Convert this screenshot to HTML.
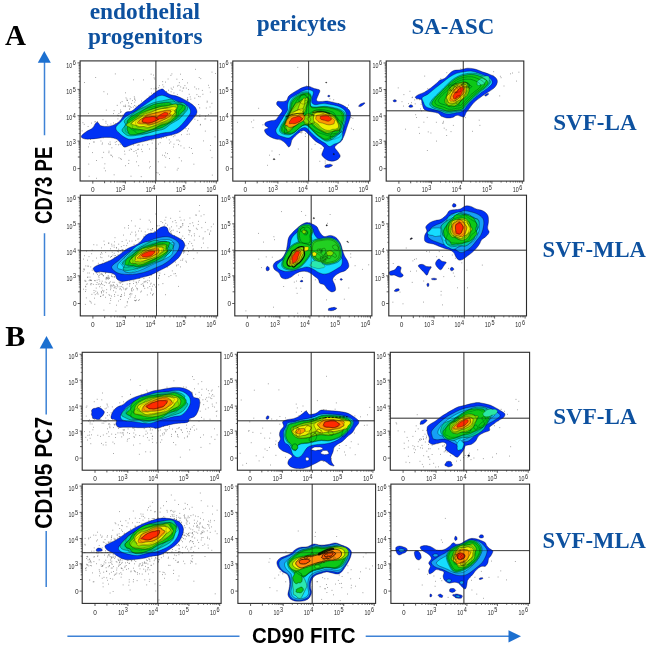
<!DOCTYPE html>
<html><head><meta charset="utf-8"><title>Flow cytometry figure</title>
<style>
html,body{margin:0;padding:0;background:#fff}
body{width:652px;height:645px;overflow:hidden;position:relative}
svg{position:absolute;left:0;top:0;display:block}
.hd{font-family:"Liberation Serif",serif;font-weight:bold;fill:#0d519f}
.ax{font-family:"Liberation Sans",sans-serif;font-weight:bold;fill:#000}
.pl{font-family:"Liberation Serif",serif;font-weight:bold;fill:#000}
.tk{font-family:"Liberation Sans",sans-serif;font-size:6.5px;fill:#2a2a2a}
</style></head><body>
<svg width="652" height="645" viewBox="0 0 652 645">
<defs><filter id="soft" x="-5%" y="-5%" width="110%" height="110%"><feGaussianBlur stdDeviation="0.45"/></filter><filter id="soft2"><feGaussianBlur stdDeviation="0.35"/></filter></defs>
<rect width="652" height="645" fill="#fff"/>
<g filter="url(#soft)">
<g><path d="M197.8 120.4h.01M150.0 106.3h.01M119.8 130.5h.01M114.1 110.6h.01M158.6 116.3h.01M163.4 98.6h.01M151.8 116.1h.01M110.1 142.0h.01M174.0 144.2h.01M157.3 112.7h.01M189.6 104.8h.01M177.1 101.4h.01M163.8 127.7h.01M173.3 110.3h.01M122.2 135.8h.01M158.1 125.4h.01M164.1 128.5h.01M151.5 120.2h.01M166.1 94.9h.01M137.5 115.3h.01M210.3 92.1h.01M174.6 117.2h.01M135.5 100.2h.01M178.5 100.1h.01M166.5 91.5h.01M145.6 138.6h.01M187.6 82.9h.01M112.2 132.4h.01M174.4 110.4h.01M155.8 100.5h.01M175.3 124.5h.01M131.6 103.6h.01M133.5 136.0h.01M100.1 136.6h.01M121.9 127.2h.01M144.8 120.1h.01M198.7 104.5h.01M190.8 99.2h.01M139.8 127.7h.01M150.3 99.0h.01M162.8 104.2h.01M120.2 122.0h.01M154.0 135.1h.01M154.9 115.4h.01M154.0 88.8h.01M183.1 88.2h.01M159.1 97.1h.01M120.9 123.6h.01M211.9 103.3h.01M132.6 120.6h.01M117.7 130.4h.01M138.8 133.2h.01M110.0 128.9h.01M123.2 117.8h.01M173.8 110.1h.01M175.6 125.4h.01M178.9 85.4h.01M158.7 87.7h.01M160.2 142.7h.01M144.3 114.5h.01M157.1 115.2h.01M148.8 106.9h.01M188.8 115.6h.01M147.4 123.6h.01M176.9 122.5h.01M167.3 121.3h.01M138.6 106.3h.01M142.6 136.2h.01M181.8 107.2h.01M136.8 127.8h.01M208.5 114.6h.01M131.5 124.6h.01M103.0 119.7h.01M157.7 115.1h.01M187.3 121.9h.01M183.7 124.1h.01M129.8 108.9h.01M180.9 145.8h.01M156.5 97.8h.01M166.7 132.6h.01M125.5 139.8h.01M140.5 140.8h.01M176.9 111.5h.01M209.2 87.7h.01M141.4 149.3h.01M137.5 156.0h.01M145.4 104.0h.01M152.6 118.7h.01M157.0 112.1h.01M171.9 73.9h.01M134.2 120.2h.01M195.5 69.3h.01M135.9 106.2h.01M135.6 133.3h.01M171.7 130.8h.01M135.6 127.7h.01M191.6 114.7h.01M147.9 135.7h.01M134.0 151.5h.01M156.0 113.7h.01M164.5 124.8h.01M202.9 94.3h.01M144.2 129.0h.01M117.2 105.4h.01M174.8 102.1h.01M180.0 90.2h.01M165.0 135.9h.01M169.2 114.7h.01M167.5 105.2h.01M147.2 98.5h.01M163.2 100.3h.01M142.4 131.4h.01M173.9 93.0h.01M208.4 85.3h.01M181.8 119.3h.01M159.6 116.5h.01M210.0 107.0h.01M155.6 88.0h.01M135.9 141.0h.01M152.7 102.3h.01M131.3 120.7h.01M174.4 113.8h.01M177.3 94.4h.01M178.6 98.7h.01M152.2 143.1h.01M153.5 114.3h.01M143.7 114.5h.01M205.5 116.2h.01M174.2 110.8h.01M182.5 103.5h.01M167.5 116.8h.01M163.3 137.3h.01M211.0 113.1h.01M104.9 163.8h.01M170.5 102.7h.01M157.2 132.1h.01M191.3 114.0h.01M156.4 115.8h.01M176.2 105.8h.01M122.1 119.7h.01M149.6 123.0h.01M212.0 72.1h.01M165.7 110.1h.01M168.0 131.0h.01M188.0 100.1h.01M128.3 106.0h.01M156.4 134.0h.01M147.8 129.3h.01M175.1 113.7h.01M183.6 102.5h.01M121.2 111.7h.01M177.6 101.2h.01M147.1 131.6h.01M137.9 149.4h.01M169.0 102.2h.01M138.9 138.6h.01M113.5 122.9h.01M153.2 119.6h.01M154.5 121.8h.01M140.6 119.8h.01M192.9 110.2h.01M147.7 144.6h.01M93.4 142.0h.01M176.9 121.6h.01M153.3 110.7h.01M168.4 107.5h.01M151.1 74.2h.01M159.2 102.2h.01M183.8 115.4h.01M171.5 103.0h.01M163.1 107.4h.01M157.7 112.7h.01M136.5 153.1h.01M162.7 81.6h.01M171.2 88.2h.01M142.1 112.2h.01M137.4 126.5h.01M134.7 102.1h.01M153.7 121.8h.01M202.3 90.4h.01M114.7 126.3h.01M166.7 97.7h.01M133.5 132.8h.01M152.8 120.0h.01M129.0 113.8h.01M141.6 118.9h.01M144.3 126.6h.01M171.1 117.6h.01M161.6 99.8h.01M123.0 140.8h.01M153.0 118.4h.01M116.5 128.2h.01M128.5 113.4h.01M125.5 105.2h.01M160.6 131.1h.01M131.5 126.7h.01M123.1 138.8h.01M200.8 78.6h.01M152.7 138.2h.01M163.5 114.1h.01M90.6 139.5h.01M186.8 124.6h.01M168.0 101.8h.01M122.1 101.6h.01M126.0 144.5h.01M141.6 101.0h.01M182.4 79.5h.01M187.7 97.7h.01M165.6 121.8h.01M166.5 130.4h.01M150.8 112.6h.01M124.8 106.2h.01M136.5 138.1h.01M183.8 125.2h.01M160.0 93.9h.01M156.3 148.4h.01M167.0 108.9h.01M151.2 88.7h.01M120.4 110.0h.01M92.6 152.6h.01M179.7 103.1h.01M157.0 99.8h.01M169.4 121.5h.01M205.7 118.9h.01M165.8 109.5h.01M124.3 119.0h.01M173.3 116.9h.01M161.3 138.4h.01M171.3 109.4h.01M146.7 120.3h.01M118.7 115.7h.01M159.2 105.2h.01M150.4 136.1h.01M153.2 136.4h.01M159.7 136.8h.01M156.6 88.6h.01M187.7 99.5h.01M94.3 142.0h.01M149.8 98.4h.01M136.9 131.4h.01M199.9 114.9h.01M194.2 116.9h.01M143.5 79.9h.01M179.5 119.3h.01M127.0 121.4h.01M124.0 128.0h.01M150.8 117.4h.01M123.7 134.3h.01M146.9 133.4h.01M153.5 94.0h.01M109.6 135.2h.01M140.1 128.9h.01M176.0 107.6h.01M95.7 121.7h.01M163.5 96.5h.01M184.4 102.5h.01M162.8 99.3h.01M133.5 79.8h.01M148.8 127.0h.01M121.0 116.8h.01M150.8 118.5h.01M131.6 135.5h.01M109.0 151.2h.01M106.0 123.1h.01M186.3 88.1h.01M103.3 137.8h.01M118.9 113.5h.01M127.3 115.8h.01M117.7 115.3h.01M196.3 88.9h.01M173.5 87.1h.01M161.6 94.2h.01M141.7 130.8h.01M126.0 97.9h.01M134.8 121.6h.01M163.8 97.2h.01M143.5 121.4h.01M102.5 135.4h.01M129.7 132.6h.01M147.9 116.2h.01M136.1 109.2h.01M130.2 106.7h.01M160.6 123.5h.01M167.0 103.1h.01M206.3 108.0h.01M123.1 126.6h.01M103.0 135.0h.01M179.8 124.9h.01M130.2 98.8h.01M154.1 136.7h.01M163.0 131.8h.01M184.7 127.3h.01M166.3 101.2h.01M178.5 144.6h.01M126.9 99.1h.01M130.2 116.6h.01M110.0 144.6h.01M152.9 107.1h.01M137.2 116.5h.01M182.7 101.8h.01M188.5 89.6h.01M131.3 118.1h.01M135.5 122.3h.01M188.8 120.4h.01M126.9 146.4h.01M163.2 136.5h.01M142.6 108.1h.01M178.7 115.6h.01M138.5 122.8h.01M157.5 119.5h.01M94.8 121.9h.01M155.0 119.7h.01M127.2 100.4h.01M190.2 96.9h.01M129.3 150.2h.01M191.0 116.9h.01M179.8 114.4h.01M123.3 129.1h.01M165.9 121.0h.01M160.8 98.2h.01M132.3 119.9h.01M141.6 108.0h.01M91.5 123.1h.01M161.1 113.2h.01M159.3 85.6h.01M144.3 133.5h.01M88.1 126.5h.01M108.9 152.7h.01M149.9 109.2h.01M156.0 114.0h.01M185.0 121.3h.01M180.9 110.5h.01M178.9 118.4h.01M176.9 79.2h.01M162.7 113.9h.01M155.4 111.9h.01M152.4 124.3h.01M158.6 116.3h.01M113.6 113.6h.01M120.5 102.8h.01M132.2 112.2h.01M88.5 113.4h.01M135.0 115.1h.01M126.2 119.9h.01M117.9 118.9h.01M141.3 120.6h.01M137.8 135.1h.01M181.4 134.7h.01M116.7 141.5h.01M132.5 100.6h.01M134.4 99.3h.01M165.5 152.9h.01M200.3 125.0h.01M179.3 82.6h.01M165.0 113.9h.01M159.4 98.3h.01M104.2 168.1h.01M189.0 106.7h.01M138.4 125.3h.01M120.2 144.3h.01M156.1 113.1h.01M138.9 121.3h.01M153.8 110.2h.01M181.6 108.2h.01M144.7 106.9h.01M194.9 119.2h.01M162.8 84.8h.01M146.9 134.1h.01M159.8 133.1h.01M143.2 132.6h.01M154.7 79.0h.01M138.7 118.8h.01M128.7 112.9h.01M198.5 96.4h.01M168.4 90.2h.01M87.9 135.8h.01M160.3 102.7h.01M171.9 121.1h.01M138.4 121.6h.01M135.8 139.9h.01M207.1 102.2h.01M133.3 113.9h.01M148.4 131.9h.01M137.3 145.3h.01M115.7 131.5h.01M200.4 124.4h.01M144.1 132.2h.01M88.5 146.9h.01M168.1 79.0h.01M194.7 87.0h.01M180.7 119.1h.01M153.8 93.3h.01M146.4 104.9h.01M189.2 94.3h.01M128.2 136.3h.01M187.5 100.3h.01M162.9 120.0h.01M131.1 107.5h.01M165.9 106.0h.01M115.9 144.5h.01M165.6 113.6h.01M128.5 123.1h.01M172.6 116.0h.01M122.8 115.2h.01M163.1 115.3h.01M171.1 91.8h.01M188.6 128.8h.01M180.8 107.3h.01M172.1 89.4h.01M149.6 149.0h.01M97.4 121.6h.01M173.0 98.6h.01M129.4 109.2h.01M198.7 88.9h.01M134.3 96.8h.01M174.8 107.7h.01M175.1 131.5h.01M150.3 99.7h.01M122.4 130.2h.01M184.9 85.6h.01M143.9 118.1h.01M166.8 97.5h.01M165.4 123.4h.01M150.4 116.2h.01M173.4 117.1h.01M183.7 87.9h.01M187.3 99.3h.01M115.3 123.5h.01M114.3 129.2h.01M170.9 75.4h.01M120.9 141.1h.01M147.2 130.9h.01M112.3 132.2h.01M180.3 123.9h.01M200.1 96.7h.01M123.9 122.5h.01M102.2 157.6h.01M182.2 91.1h.01M199.2 77.5h.01M164.4 99.8h.01M102.5 143.0h.01M123.9 146.4h.01M125.9 129.2h.01M138.5 124.5h.01M137.5 135.2h.01M170.5 110.6h.01M158.6 144.1h.01M129.1 119.6h.01M174.9 107.6h.01M102.8 134.7h.01M135.4 108.7h.01M151.8 99.9h.01M138.6 105.3h.01M196.9 94.6h.01M166.6 115.4h.01M172.1 106.6h.01M175.0 109.6h.01M118.6 144.8h.01M156.5 109.5h.01M115.1 126.2h.01M121.5 159.3h.01M165.1 110.4h.01M121.0 124.4h.01M142.6 114.1h.01M153.9 128.4h.01M100.9 141.0h.01M177.5 86.0h.01M144.4 114.3h.01M123.0 143.0h.01M148.3 135.8h.01M162.7 108.4h.01M158.6 108.7h.01M110.8 155.1h.01M168.9 127.6h.01M103.7 152.3h.01M176.2 106.6h.01M89.6 143.7h.01M131.2 122.5h.01M148.9 104.6h.01M148.2 118.7h.01M194.8 98.2h.01M215.6 73.5h.01M154.4 134.7h.01M108.6 143.9h.01M160.6 104.4h.01M153.0 140.0h.01M140.1 126.0h.01M171.2 127.5h.01M82.9 122.7h.01M110.7 129.4h.01M174.6 120.4h.01M151.4 140.1h.01M153.4 126.9h.01M133.8 136.9h.01M136.7 140.7h.01M187.4 130.9h.01M133.3 107.0h.01M178.3 111.2h.01M129.3 106.0h.01M165.5 82.1h.01M143.8 136.5h.01M146.9 126.0h.01M169.7 118.8h.01M186.8 112.8h.01M134.4 105.5h.01M140.1 111.9h.01" stroke="#4a4a4a" stroke-opacity="0.60" stroke-width="1" stroke-linecap="round" fill="none"/>
<path d="M169.5 158.5h.01M174.8 110.7h.01M157.2 130.9h.01M138.7 165.7h.01M173.3 136.7h.01M95.7 77.5h.01M128.7 163.5h.01M142.3 132.8h.01M142.7 145.0h.01M156.8 172.6h.01M144.6 126.5h.01M203.5 140.9h.01M176.9 140.1h.01M149.9 139.7h.01M169.5 131.2h.01M89.1 176.3h.01M130.6 121.6h.01M134.9 117.1h.01M118.5 135.5h.01M180.1 119.5h.01M161.1 97.1h.01M172.0 100.4h.01M171.7 110.1h.01M123.5 106.1h.01M104.1 134.7h.01M114.5 132.8h.01M186.8 104.9h.01M138.3 131.6h.01M127.9 135.1h.01M162.6 155.2h.01M123.3 131.4h.01M149.4 161.8h.01M115.2 142.3h.01M179.7 141.1h.01M120.6 112.0h.01M82.1 130.9h.01M134.7 98.2h.01M180.6 130.6h.01M139.3 121.0h.01M165.6 122.3h.01M165.9 117.5h.01M180.7 86.9h.01M193.9 164.2h.01M124.9 154.2h.01M189.3 147.4h.01M149.6 167.9h.01M159.3 98.8h.01M191.6 107.7h.01M120.6 158.7h.01M176.0 109.3h.01M153.2 99.1h.01M112.5 156.7h.01M189.3 134.1h.01M205.3 131.1h.01M160.4 130.2h.01M166.4 137.7h.01M116.6 136.7h.01M190.2 105.7h.01M163.8 86.9h.01M159.5 174.6h.01M158.3 161.8h.01M138.9 145.1h.01M154.1 77.8h.01M125.5 165.7h.01M210.8 120.2h.01M187.1 134.4h.01M131.4 149.5h.01M161.3 106.0h.01M128.6 102.9h.01M137.9 133.2h.01M107.5 94.0h.01M179.2 157.7h.01M118.0 139.4h.01M115.3 73.9h.01M105.4 170.8h.01M181.5 160.9h.01M178.2 140.0h.01M199.8 116.5h.01M154.0 104.8h.01M110.3 144.1h.01M151.6 93.1h.01M167.4 153.6h.01M104.0 131.8h.01M207.2 101.2h.01M173.5 147.0h.01M156.9 134.3h.01M171.3 135.2h.01M149.2 96.2h.01M155.4 111.8h.01M212.3 175.1h.01M180.5 74.2h.01M185.9 128.6h.01M106.3 110.1h.01M184.9 110.1h.01M147.4 134.0h.01M190.2 105.1h.01M138.2 149.1h.01M153.4 75.1h.01M170.7 124.6h.01M110.9 124.0h.01M96.6 160.5h.01M199.7 107.9h.01M127.2 100.5h.01M120.7 112.3h.01M158.1 173.0h.01M191.4 148.5h.01M119.0 157.8h.01M120.8 115.6h.01M175.5 125.0h.01M142.2 151.6h.01M111.7 155.3h.01M204.8 119.0h.01M136.4 161.8h.01M111.9 147.8h.01M132.6 142.4h.01M124.6 151.2h.01M177.2 170.0h.01M138.9 144.7h.01M84.2 124.4h.01M153.7 98.0h.01M142.4 111.4h.01M169.5 143.2h.01M136.0 150.5h.01M130.7 138.2h.01M170.8 141.9h.01M178.1 168.4h.01M126.4 132.4h.01M88.8 164.1h.01M107.7 124.9h.01M133.6 145.0h.01M138.8 127.1h.01M151.4 123.6h.01M145.1 108.9h.01M125.4 106.6h.01M184.1 148.0h.01M174.9 135.7h.01M130.9 148.9h.01M84.6 82.5h.01M114.1 174.8h.01M165.2 167.2h.01M128.9 160.4h.01M210.5 145.5h.01M164.6 155.7h.01M141.2 176.6h.01M105.9 121.3h.01M147.6 113.7h.01M215.0 136.9h.01M131.0 176.2h.01M196.5 114.6h.01M210.3 150.3h.01M129.9 121.9h.01M165.8 157.2h.01M212.0 157.7h.01M125.4 92.8h.01M96.4 178.3h.01M192.4 153.4h.01M150.3 134.0h.01M169.2 139.9h.01M148.8 108.5h.01M102.1 144.2h.01M150.3 166.5h.01M103.9 91.7h.01" stroke="#4a4a4a" stroke-opacity="0.60" stroke-width="1" stroke-linecap="round" fill="none"/>
<path d="M155.9 60.9V181.0M80.1 115.9H217.7" stroke="#222" stroke-width="1" fill="none" stroke-opacity="0.7"/>
<path d="M81.7 135.4C82.5 134.4 84.7 132.8 86.4 131.5C88.2 130.3 91.0 129.5 92.5 128.1C94.0 126.7 94.5 124.3 95.5 123.4C96.4 122.4 97.1 122.1 98.0 122.5C98.9 122.9 99.2 125.1 100.8 125.7C102.5 126.4 105.5 126.6 107.9 126.4C110.3 126.1 113.3 125.3 115.4 124.2C117.6 123.1 119.1 121.7 120.8 119.7C122.5 117.8 123.7 114.1 125.5 112.6C127.3 111.2 129.6 112.1 131.5 111.1C133.4 110.2 135.1 108.3 136.9 106.8C138.7 105.4 140.5 104.0 142.3 102.5C144.1 101.1 145.9 99.7 147.6 98.3C149.4 96.8 151.2 95.3 153.0 94.0C154.8 92.6 156.8 91.1 158.4 90.3C160.0 89.5 161.4 88.8 162.7 89.0C163.9 89.3 164.6 90.9 165.9 91.8C167.1 92.7 168.4 93.9 170.2 94.6C172.0 95.3 174.5 95.4 176.6 96.1C178.8 96.8 180.9 97.8 183.1 98.9C185.2 100.0 187.5 101.2 189.5 102.5C191.5 103.9 193.6 105.2 194.9 106.8C196.1 108.5 197.2 110.4 197.0 112.2C196.8 114.0 195.1 115.8 193.8 117.6C192.6 119.4 190.9 121.3 189.5 122.9C188.1 124.6 187.0 126.1 185.2 127.7C183.4 129.3 180.9 131.4 178.8 132.6C176.6 133.8 174.5 134.1 172.3 134.8C170.2 135.4 168.0 135.7 165.9 136.3C163.7 136.8 161.6 137.5 159.5 138.0C157.3 138.4 155.2 138.6 153.0 139.1C150.9 139.5 148.7 140.2 146.6 140.8C144.4 141.3 142.3 141.7 140.1 142.3C138.0 142.8 135.7 143.3 133.7 144.0C131.7 144.6 129.9 145.6 128.3 146.1C126.7 146.6 125.3 147.5 124.0 147.0C122.8 146.5 122.1 144.7 120.8 143.3C119.5 142.0 118.3 140.0 116.5 139.1C114.7 138.1 112.2 137.8 110.1 137.5C107.9 137.3 105.8 137.4 103.6 137.5C101.5 137.7 99.3 138.2 97.2 138.4C95.0 138.7 92.7 138.9 90.7 139.1C88.8 139.2 86.9 139.3 85.4 139.1C83.9 138.8 82.3 138.2 81.7 137.5C81.1 136.9 80.9 136.4 81.7 135.4Z" fill="#0430f5" stroke="#000" stroke-opacity="0.75" stroke-width="0.45"/>
<path d="M116.5 126.2C117.3 124.9 119.2 123.5 120.8 121.9C122.4 120.3 124.0 118.1 126.2 116.5C128.3 114.9 131.4 113.6 133.7 112.2C136.0 110.8 138.0 109.3 140.1 107.9C142.3 106.5 144.4 105.1 146.6 103.6C148.7 102.2 151.0 100.6 153.0 99.3C155.0 98.1 156.7 96.7 158.4 96.1C160.1 95.5 161.3 95.1 163.3 95.5C165.3 95.8 168.0 97.3 170.2 98.3C172.4 99.2 174.5 100.1 176.6 101.0C178.8 101.9 181.1 102.7 183.1 103.6C185.0 104.6 187.2 105.4 188.4 106.8C189.7 108.3 190.8 110.4 190.6 112.2C190.4 114.0 188.6 115.8 187.4 117.6C186.1 119.4 184.7 121.2 183.1 122.9C181.5 124.7 179.5 126.9 177.7 128.3C175.9 129.7 174.3 130.8 172.3 131.5C170.4 132.3 168.0 132.3 165.9 132.6C163.7 133.0 161.6 133.2 159.5 133.7C157.3 134.1 155.2 135.0 153.0 135.4C150.9 135.8 148.7 135.8 146.6 136.3C144.4 136.7 142.3 137.5 140.1 138.0C138.0 138.4 135.7 138.9 133.7 139.1C131.7 139.2 130.1 139.5 128.3 139.1C126.5 138.6 124.6 137.3 122.9 136.3C121.3 135.2 119.8 133.8 118.7 132.6C117.5 131.5 116.4 130.5 116.1 129.4C115.7 128.3 115.7 127.4 116.5 126.2Z" fill="#12dcff" stroke="#000" stroke-opacity="0.75" stroke-width="0.45"/>
<path d="M186.3 105.2C187.1 106.3 188.0 107.6 187.6 109.1C187.2 110.6 185.2 112.5 183.8 114.2C182.3 115.9 180.9 117.7 178.8 119.3C176.6 120.9 173.4 122.3 170.9 123.9C168.4 125.5 166.6 127.8 163.9 129.0C161.1 130.3 157.5 130.4 154.4 131.2C151.4 132.0 148.5 133.2 145.6 133.9C142.7 134.6 139.8 135.0 137.0 135.3C134.1 135.7 130.7 136.2 128.6 135.8C126.5 135.5 125.4 134.3 124.3 133.3C123.2 132.3 121.8 131.3 122.0 129.9C122.2 128.5 125.1 126.3 125.5 124.8C125.8 123.3 123.5 122.4 124.3 120.9C125.0 119.4 127.7 117.5 129.7 115.9C131.7 114.2 133.8 112.4 136.3 110.9C138.7 109.3 141.8 108.0 144.7 106.6C147.6 105.2 150.7 103.6 153.7 102.6C156.7 101.6 159.8 101.3 162.8 100.7C165.8 100.2 169.6 99.0 171.7 99.3C173.9 99.5 173.8 101.6 175.6 102.2C177.4 102.7 180.7 102.1 182.5 102.6C184.3 103.1 185.4 104.1 186.3 105.2Z" fill="#00c8a0" stroke="#000" stroke-opacity="0.75" stroke-width="0.45"/>
<path d="M183.3 106.4C184.2 107.3 185.4 108.2 185.3 109.5C185.2 110.8 184.3 112.6 182.8 114.1C181.3 115.7 178.4 117.4 176.2 118.9C174.0 120.4 172.0 121.8 169.6 123.1C167.3 124.4 164.6 125.3 162.0 126.7C159.5 128.0 157.0 130.0 154.3 131.1C151.5 132.2 148.3 132.9 145.6 133.4C142.9 133.8 140.4 133.8 138.1 133.8C135.7 133.8 133.5 133.8 131.5 133.5C129.5 133.2 127.4 132.9 126.3 132.1C125.2 131.3 125.4 129.9 125.2 128.7C125.0 127.5 124.5 126.4 125.2 125.0C125.8 123.7 128.1 122.0 129.1 120.6C130.1 119.1 129.8 117.8 131.1 116.2C132.3 114.7 134.2 112.8 136.6 111.3C138.9 109.8 142.3 108.5 145.2 107.4C148.1 106.3 151.1 105.6 153.9 104.8C156.7 104.1 159.5 103.2 162.1 102.7C164.7 102.3 166.9 102.3 169.4 102.1C171.9 101.9 175.2 101.2 177.0 101.5C178.8 101.8 179.2 103.1 180.2 103.9C181.3 104.7 182.5 105.4 183.3 106.4Z" fill="none" stroke="#000" stroke-opacity="0.60" stroke-width="0.35"/>
<path d="M185.0 105.9C185.8 106.8 185.3 108.5 184.4 109.9C183.5 111.4 181.3 113.1 179.8 114.6C178.4 116.1 177.5 117.5 175.8 119.0C174.0 120.4 171.6 121.7 169.4 123.1C167.2 124.5 165.0 126.3 162.5 127.4C160.0 128.4 156.9 128.7 154.2 129.4C151.5 130.1 149.3 130.8 146.5 131.6C143.7 132.4 140.4 133.7 137.7 134.2C135.0 134.7 131.7 135.0 130.1 134.6C128.5 134.1 128.4 132.5 127.9 131.4C127.3 130.4 126.9 129.3 127.0 128.2C127.1 127.0 128.3 125.6 128.3 124.5C128.4 123.3 126.6 122.4 127.2 121.1C127.7 119.8 129.6 118.0 131.5 116.6C133.5 115.1 136.3 113.7 138.6 112.4C141.0 111.0 143.3 109.7 145.8 108.4C148.4 107.1 151.2 105.4 153.9 104.4C156.7 103.5 159.7 103.3 162.2 103.0C164.7 102.7 167.4 102.4 169.2 102.7C171.0 102.9 171.3 104.2 173.0 104.5C174.8 104.8 177.7 104.2 179.7 104.5C181.7 104.7 184.2 105.0 185.0 105.9Z" fill="#08c818" stroke="#000" stroke-opacity="0.75" stroke-width="0.45"/>
<path d="M182.4 106.9C181.9 108.2 179.5 110.0 178.8 111.3C178.1 112.6 179.0 113.4 178.2 114.6C177.4 115.9 175.3 117.3 173.7 118.6C172.2 120.0 170.9 121.5 168.8 122.7C166.7 123.9 163.8 124.9 161.3 125.8C158.9 126.8 156.6 127.4 154.1 128.5C151.5 129.5 148.7 131.2 146.0 132.0C143.3 132.9 139.7 133.8 137.8 133.7C136.0 133.5 135.8 131.8 134.8 131.1C133.7 130.4 132.2 130.2 131.4 129.5C130.5 128.8 130.7 127.8 129.9 127.1C129.1 126.3 127.0 126.0 126.7 125.0C126.4 124.0 126.8 122.5 128.1 121.2C129.3 119.9 132.3 118.3 134.3 117.0C136.2 115.6 137.9 114.5 139.9 113.1C141.8 111.7 143.5 109.8 145.9 108.7C148.3 107.6 151.5 107.2 154.1 106.6C156.6 106.0 159.2 105.3 161.3 105.1C163.5 104.8 164.9 105.3 167.0 105.1C169.1 105.0 171.6 104.3 174.0 104.0C176.4 103.8 180.0 103.2 181.4 103.7C182.8 104.2 182.8 105.7 182.4 106.9Z" fill="none" stroke="#000" stroke-opacity="0.60" stroke-width="0.35"/>
<path d="M176.0 110.0C175.8 111.0 176.2 111.6 176.2 112.5C176.2 113.4 176.6 114.3 176.0 115.4C175.4 116.5 174.0 117.7 172.7 119.0C171.4 120.2 170.1 121.7 168.0 122.7C166.0 123.8 162.7 124.2 160.4 125.1C158.0 126.1 156.1 127.6 153.8 128.5C151.5 129.4 148.5 130.4 146.4 130.6C144.4 130.8 142.9 130.1 141.4 129.8C139.9 129.6 138.9 129.2 137.4 128.9C135.9 128.7 133.9 128.9 132.5 128.6C131.2 128.3 130.4 127.6 129.3 127.0C128.3 126.4 125.7 125.9 126.2 124.9C126.7 123.8 130.5 121.9 132.2 120.6C134.0 119.3 135.4 118.3 136.9 117.1C138.4 116.0 139.3 114.7 141.0 113.6C142.8 112.5 145.3 111.4 147.5 110.5C149.7 109.7 152.0 109.1 154.3 108.5C156.6 107.8 159.0 106.8 161.1 106.4C163.3 106.0 164.8 106.3 167.1 105.9C169.5 105.5 173.7 103.9 175.4 104.0C177.2 104.1 177.6 105.4 177.7 106.4C177.8 107.4 176.3 109.0 176.0 110.0Z" fill="#7ee000" stroke="#000" stroke-opacity="0.75" stroke-width="0.45"/>
<path d="M176.4 109.9C176.8 110.6 177.0 111.4 176.7 112.3C176.5 113.3 175.8 114.3 174.9 115.4C174.1 116.4 172.8 117.6 171.5 118.7C170.2 119.8 169.1 121.3 167.1 122.2C165.2 123.1 161.9 123.6 159.7 124.3C157.5 125.0 155.8 125.7 153.8 126.4C151.8 127.1 149.6 127.8 147.5 128.4C145.4 129.0 143.2 129.5 141.2 129.7C139.2 130.0 137.1 130.1 135.6 129.9C134.2 129.7 133.1 129.1 132.6 128.5C132.1 127.8 132.9 126.6 132.6 125.8C132.3 125.1 130.3 124.8 130.6 123.9C130.9 123.0 133.0 121.6 134.3 120.5C135.5 119.4 136.8 118.4 138.2 117.4C139.5 116.3 140.8 115.3 142.4 114.2C144.0 113.2 145.8 112.1 147.8 111.1C149.8 110.1 152.2 109.0 154.4 108.2C156.7 107.5 159.4 106.7 161.3 106.6C163.1 106.5 163.9 107.5 165.5 107.6C167.1 107.7 169.5 107.0 171.0 107.1C172.5 107.2 173.6 107.6 174.5 108.1C175.4 108.5 176.0 109.2 176.4 109.9Z" fill="none" stroke="#000" stroke-opacity="0.60" stroke-width="0.35"/>
<path d="M174.6 110.9C174.4 111.7 175.4 112.0 175.1 112.7C174.8 113.5 173.4 114.4 172.7 115.3C172.0 116.1 171.9 117.0 170.9 117.9C169.9 118.8 168.4 120.0 166.7 120.8C164.9 121.7 162.5 122.4 160.4 123.2C158.4 123.9 156.5 124.8 154.4 125.5C152.3 126.2 149.7 127.2 147.9 127.4C146.2 127.6 145.3 126.8 143.9 126.7C142.5 126.6 140.7 126.9 139.6 126.7C138.5 126.6 138.1 126.0 137.1 125.7C136.1 125.4 134.7 125.3 133.8 124.9C132.9 124.5 131.4 124.1 131.6 123.3C131.9 122.5 133.9 121.2 135.3 120.2C136.7 119.2 138.8 118.2 140.3 117.3C141.8 116.3 142.4 115.3 144.1 114.4C145.7 113.6 148.3 113.1 150.2 112.3C152.2 111.6 154.0 110.7 155.9 110.1C157.8 109.5 159.8 109.1 161.6 108.7C163.5 108.4 165.1 108.2 167.1 107.9C169.1 107.5 172.0 106.7 173.5 106.7C175.1 106.7 176.4 107.2 176.5 107.9C176.7 108.6 174.8 110.1 174.6 110.9Z" fill="#f0f000" stroke="#000" stroke-opacity="0.75" stroke-width="0.45"/>
<path d="M174.9 110.8C175.4 111.2 175.6 111.9 175.1 112.7C174.7 113.4 173.0 114.4 172.1 115.2C171.2 116.1 170.8 116.8 169.8 117.7C168.8 118.6 167.7 119.6 166.0 120.5C164.4 121.3 162.0 122.1 160.1 122.7C158.2 123.3 156.2 123.8 154.4 124.2C152.7 124.6 151.2 124.7 149.5 125.1C147.8 125.4 146.0 125.9 144.2 126.3C142.3 126.7 139.7 127.4 138.4 127.3C137.1 127.3 136.6 126.6 136.2 126.1C135.8 125.5 136.0 124.8 135.9 124.2C135.8 123.6 135.3 123.1 135.5 122.4C135.8 121.7 136.6 120.8 137.5 120.0C138.4 119.2 139.5 118.3 140.8 117.4C142.2 116.6 144.1 115.8 145.7 115.1C147.3 114.3 148.9 113.7 150.6 112.9C152.3 112.1 154.0 110.9 156.0 110.1C157.9 109.4 160.3 108.7 162.0 108.5C163.8 108.2 165.1 108.5 166.4 108.6C167.7 108.7 168.8 108.9 169.8 109.1C170.8 109.3 171.5 109.6 172.4 109.9C173.2 110.1 174.4 110.3 174.9 110.8Z" fill="none" stroke="#000" stroke-opacity="0.60" stroke-width="0.35"/>
<path d="M169.5 113.4C169.4 113.9 171.1 113.9 171.2 114.4C171.3 114.9 170.7 115.6 170.0 116.2C169.4 116.8 168.3 117.6 167.2 118.2C166.0 118.9 164.5 119.5 163.2 120.1C161.8 120.8 160.5 121.4 159.0 122.0C157.5 122.5 155.9 123.1 154.3 123.6C152.6 124.1 150.4 125.0 149.1 125.1C147.8 125.1 147.5 124.2 146.5 124.1C145.5 123.9 144.3 124.1 143.2 124.1C142.1 124.1 140.9 124.1 139.9 123.9C139.0 123.8 137.9 123.6 137.6 123.2C137.3 122.7 137.7 122.0 138.2 121.4C138.7 120.8 139.7 120.0 140.6 119.3C141.6 118.7 143.1 118.1 144.0 117.4C144.9 116.7 145.0 115.8 146.3 115.2C147.5 114.6 149.8 114.2 151.4 113.7C153.0 113.3 154.5 113.0 155.9 112.6C157.4 112.2 158.8 111.9 160.4 111.5C161.9 111.2 163.8 110.6 165.3 110.4C166.8 110.2 168.3 110.1 169.3 110.3C170.3 110.4 171.2 110.8 171.3 111.3C171.3 111.8 169.5 112.9 169.5 113.4Z" fill="#ff9a00" stroke="#000" stroke-opacity="0.75" stroke-width="0.45"/>
<path d="M169.3 113.5C169.0 114.0 169.3 114.3 169.2 114.8C169.0 115.3 168.9 115.7 168.4 116.3C167.9 116.8 167.2 117.5 166.2 118.1C165.2 118.7 163.8 119.3 162.6 119.8C161.3 120.4 160.1 121.1 158.7 121.6C157.4 122.1 155.8 122.6 154.3 123.0C152.7 123.5 150.7 124.3 149.4 124.5C148.1 124.6 147.4 124.1 146.5 123.9C145.7 123.8 145.3 123.5 144.5 123.4C143.7 123.2 142.8 123.2 141.9 123.1C141.0 123.0 139.7 123.0 139.2 122.7C138.8 122.4 138.9 121.8 139.1 121.2C139.4 120.7 139.9 120.0 140.8 119.4C141.7 118.8 143.5 118.1 144.6 117.5C145.7 116.9 146.1 116.2 147.3 115.6C148.5 115.0 150.2 114.5 151.7 114.1C153.1 113.7 154.6 113.4 155.9 113.1C157.3 112.8 158.4 112.6 159.9 112.3C161.3 112.0 163.0 111.4 164.4 111.2C165.9 110.9 167.3 110.8 168.4 110.9C169.5 110.9 170.9 111.0 171.0 111.4C171.2 111.9 169.6 112.9 169.3 113.5Z" fill="none" stroke="#000" stroke-opacity="0.60" stroke-width="0.35"/>
<path d="M158.1 118.6C158.3 118.8 158.7 119.2 158.5 119.5C158.2 119.8 157.2 120.2 156.6 120.5C156.0 120.8 155.4 121.0 154.9 121.2C154.3 121.5 153.8 121.7 153.2 121.9C152.7 122.2 152.2 122.6 151.4 122.8C150.7 123.1 149.8 123.3 149.0 123.4C148.2 123.5 147.4 123.4 146.7 123.2C146.1 123.1 145.7 122.8 145.1 122.7C144.5 122.6 143.6 122.6 143.1 122.5C142.6 122.3 142.4 122.0 142.3 121.7C142.1 121.4 142.0 121.1 142.0 120.8C142.1 120.5 142.4 120.2 142.5 119.9C142.6 119.6 142.5 119.3 142.7 119.0C142.9 118.6 143.0 118.2 143.5 117.9C144.0 117.6 144.8 117.2 145.6 117.0C146.4 116.9 147.5 117.0 148.3 117.0C149.1 116.9 149.7 116.7 150.4 116.7C151.2 116.6 151.9 116.5 152.6 116.5C153.4 116.5 154.3 116.4 154.9 116.5C155.5 116.6 156.0 116.8 156.4 117.0C156.9 117.2 157.1 117.5 157.4 117.7C157.6 118.0 157.9 118.3 158.1 118.6Z" fill="#ff2a00" stroke="#000" stroke-opacity="0.75" stroke-width="0.45"/>
<path d="M156.9 118.7C157.1 119.0 157.7 119.2 157.7 119.5C157.7 119.8 157.4 120.2 157.0 120.5C156.5 120.7 155.5 120.9 154.8 121.2C154.2 121.4 153.8 121.7 153.2 121.8C152.6 122.0 151.8 122.1 151.2 122.3C150.5 122.4 149.8 122.5 149.1 122.6C148.4 122.8 147.6 122.9 146.9 122.9C146.3 122.9 145.9 122.6 145.3 122.5C144.7 122.4 144.1 122.4 143.5 122.2C143.0 122.1 142.2 122.0 142.0 121.7C141.8 121.5 142.3 121.1 142.4 120.8C142.6 120.5 142.6 120.2 142.8 119.9C143.0 119.6 143.4 119.4 143.7 119.1C144.1 118.8 144.4 118.6 144.8 118.3C145.1 118.0 145.4 117.6 146.0 117.4C146.6 117.1 147.5 117.0 148.3 116.9C149.0 116.8 149.7 116.9 150.4 116.8C151.2 116.7 152.0 116.5 152.6 116.6C153.3 116.6 153.7 116.8 154.3 117.0C154.8 117.1 155.3 117.2 155.7 117.4C156.1 117.5 156.4 117.7 156.6 118.0C156.8 118.2 156.7 118.5 156.9 118.7Z" fill="none" stroke="#000" stroke-opacity="0.60" stroke-width="0.35"/>
<path d="M167.8 113.5C167.9 113.7 168.2 113.8 168.2 114.0C168.2 114.3 167.9 114.6 167.7 114.9C167.5 115.2 167.1 115.5 166.9 115.8C166.6 116.1 166.4 116.5 166.0 116.8C165.7 117.1 165.2 117.6 164.7 117.8C164.1 118.1 163.4 118.1 162.9 118.3C162.3 118.4 161.8 118.6 161.4 118.7C160.9 118.8 160.6 118.7 160.2 118.8C159.7 118.9 159.1 119.1 158.6 119.1C158.2 119.2 157.6 119.2 157.4 119.1C157.1 119.0 157.1 118.7 157.1 118.5C157.1 118.2 157.2 117.9 157.2 117.7C157.2 117.4 157.0 117.2 157.2 116.9C157.4 116.6 158.1 116.2 158.5 115.9C158.9 115.6 159.2 115.3 159.6 115.0C160.0 114.7 160.6 114.5 161.1 114.3C161.6 114.0 162.0 113.7 162.5 113.5C163.0 113.2 163.6 112.7 164.2 112.5C164.7 112.3 165.4 112.2 165.8 112.3C166.2 112.3 166.3 112.6 166.6 112.7C166.9 112.8 167.4 112.7 167.6 112.8C167.8 113.0 167.7 113.3 167.8 113.5Z" fill="#ff2a00" stroke="#000" stroke-opacity="0.75" stroke-width="0.45"/>
<rect x="80.1" y="60.9" width="137.6" height="120.1" fill="none" stroke="#2a2a2a" stroke-width="1.1"/>
<path d="M155.9 60.9V181.0M80.1 115.9H217.7" stroke="#111" stroke-width="1" fill="none" stroke-opacity="0.38"/>
<text transform="translate(92.8,192.1) scale(1.00,1)" class="tk" text-anchor="middle">0</text>
<text transform="translate(121.6,192.2) scale(0.82,1)" class="tk" text-anchor="end">10</text>
<text transform="translate(122.2,189.9) scale(0.85,1)" class="tk" text-anchor="start">3</text>
<text transform="translate(151.7,192.2) scale(0.82,1)" class="tk" text-anchor="end">10</text>
<text transform="translate(152.3,189.9) scale(0.85,1)" class="tk" text-anchor="start">4</text>
<text transform="translate(182.0,192.2) scale(0.82,1)" class="tk" text-anchor="end">10</text>
<text transform="translate(182.6,189.9) scale(0.85,1)" class="tk" text-anchor="start">5</text>
<text transform="translate(212.5,192.2) scale(0.82,1)" class="tk" text-anchor="end">10</text>
<text transform="translate(213.1,189.9) scale(0.85,1)" class="tk" text-anchor="start">6</text>
<text transform="translate(72.3,67.6) scale(0.82,1)" class="tk" text-anchor="end">10</text>
<text transform="translate(72.8,65.3) scale(0.85,1)" class="tk" text-anchor="start">6</text>
<text transform="translate(72.3,94.1) scale(0.82,1)" class="tk" text-anchor="end">10</text>
<text transform="translate(72.8,91.8) scale(0.85,1)" class="tk" text-anchor="start">5</text>
<text transform="translate(72.3,120.4) scale(0.82,1)" class="tk" text-anchor="end">10</text>
<text transform="translate(72.8,118.1) scale(0.85,1)" class="tk" text-anchor="start">4</text>
<text transform="translate(72.3,145.8) scale(0.82,1)" class="tk" text-anchor="end">10</text>
<text transform="translate(72.8,143.5) scale(0.85,1)" class="tk" text-anchor="start">3</text>
<text transform="translate(76.4,171.1) scale(1.00,1)" class="tk" text-anchor="end">0</text>
<path d="M92.8 181.0v2.6M125.4 181.0v2.6M104.6 181.0v2.2M155.5 181.0v2.6M185.8 181.0v2.6M216.3 181.0v2.6M80.1 62.9h-2.6M80.1 89.4h-2.6M80.1 115.7h-2.6M80.1 141.1h-2.6M80.1 157.0h-2.2M80.1 168.6h-2.6" stroke="#333" stroke-width="0.8" fill="none"/>
<path d="M110.8 181.0v1.5M114.5 181.0v1.5M117.1 181.0v1.5M119.1 181.0v1.5M120.8 181.0v1.5M122.2 181.0v1.5M123.4 181.0v1.5M124.4 181.0v1.5M134.4 181.0v1.5M139.7 181.0v1.5M143.5 181.0v1.5M146.4 181.0v1.5M148.8 181.0v1.5M150.8 181.0v1.5M152.6 181.0v1.5M154.1 181.0v1.5M164.6 181.0v1.5M169.9 181.0v1.5M173.7 181.0v1.5M176.7 181.0v1.5M179.1 181.0v1.5M181.1 181.0v1.5M182.8 181.0v1.5M184.4 181.0v1.5M195.0 181.0v1.5M200.4 181.0v1.5M204.2 181.0v1.5M207.1 181.0v1.5M209.5 181.0v1.5M211.6 181.0v1.5M213.4 181.0v1.5M214.9 181.0v1.5M80.1 81.4h-1.5M80.1 76.8h-1.5M80.1 73.5h-1.5M80.1 70.9h-1.5M80.1 68.8h-1.5M80.1 67.0h-1.5M80.1 65.5h-1.5M80.1 64.2h-1.5M80.1 107.7h-1.5M80.1 103.1h-1.5M80.1 99.8h-1.5M80.1 97.3h-1.5M80.1 95.2h-1.5M80.1 93.4h-1.5M80.1 91.9h-1.5M80.1 90.6h-1.5M80.1 133.5h-1.5M80.1 129.0h-1.5M80.1 125.8h-1.5M80.1 123.3h-1.5M80.1 121.3h-1.5M80.1 119.6h-1.5M80.1 118.1h-1.5M80.1 116.8h-1.5M80.1 152.2h-1.5M80.1 149.4h-1.5M80.1 147.4h-1.5M80.1 145.9h-1.5M80.1 144.6h-1.5M80.1 143.6h-1.5M80.1 142.7h-1.5M80.1 141.9h-1.5" stroke="#333" stroke-width="0.7" fill="none"/></g>
<g><path d="M322.3 127.6h.01M333.7 99.8h.01M301.2 111.5h.01M284.1 109.8h.01M298.7 119.8h.01M288.4 132.6h.01M297.8 67.4h.01M343.0 117.9h.01M292.7 129.8h.01M318.0 126.0h.01M289.8 128.4h.01M272.0 151.0h.01M279.1 121.3h.01M312.5 128.9h.01M305.6 133.7h.01M304.5 114.9h.01M348.4 105.1h.01M306.5 86.0h.01M315.7 93.3h.01M267.6 165.3h.01M327.0 122.5h.01M313.0 96.5h.01M281.0 130.3h.01M253.0 127.6h.01M262.9 124.8h.01M279.3 154.6h.01M335.4 113.2h.01M258.7 108.3h.01M307.1 104.5h.01M316.1 140.7h.01M307.1 114.7h.01M329.2 117.2h.01M331.0 116.8h.01M351.2 117.5h.01M280.6 124.4h.01M291.9 105.5h.01M305.3 136.4h.01M251.5 121.9h.01M304.6 120.0h.01M329.9 98.8h.01M326.2 118.6h.01M311.7 118.7h.01M300.1 113.2h.01M319.8 161.3h.01M336.8 138.5h.01M323.8 114.3h.01M325.2 161.0h.01M275.4 138.3h.01M336.2 128.4h.01M330.3 148.7h.01M353.5 129.6h.01M331.8 126.8h.01M317.9 115.3h.01M328.1 150.2h.01M306.2 128.5h.01M326.9 124.4h.01M335.3 128.7h.01M279.9 105.4h.01M329.9 135.7h.01M339.8 128.8h.01M316.3 95.6h.01M347.6 107.5h.01M338.4 103.6h.01M293.7 127.2h.01M300.0 111.7h.01M334.7 136.7h.01M321.6 118.3h.01M289.6 115.8h.01M297.6 124.1h.01M331.5 121.5h.01M290.7 113.4h.01M345.0 127.6h.01M317.6 129.8h.01M327.1 127.2h.01M342.4 139.5h.01M237.6 122.3h.01M315.1 144.4h.01M311.8 149.1h.01M278.8 102.3h.01M307.0 111.6h.01M283.9 135.2h.01M319.0 125.1h.01M301.4 129.7h.01M308.8 111.8h.01M325.3 131.7h.01M314.1 137.5h.01M283.2 122.4h.01M298.3 149.0h.01M325.2 163.1h.01M352.9 118.3h.01M283.5 133.7h.01M304.6 122.2h.01M284.4 135.8h.01M316.8 132.3h.01M320.1 108.7h.01M253.8 120.1h.01M295.5 115.5h.01M337.0 123.2h.01M351.3 128.3h.01M329.9 134.1h.01M332.9 102.3h.01M340.4 126.9h.01M286.6 136.1h.01M321.0 148.2h.01M331.0 131.6h.01M269.6 155.2h.01" stroke="#4a4a4a" stroke-opacity="0.60" stroke-width="1" stroke-linecap="round" fill="none"/>
<path d="M308.6 61.0V181.1M232.8 115.7H369.9" stroke="#222" stroke-width="1" fill="none" stroke-opacity="0.7"/>
<path d="M309.1 86.4C310.8 86.7 312.6 87.9 314.4 88.6C316.2 89.2 319.1 89.2 319.8 90.3C320.4 91.4 318.8 93.3 318.3 95.0C317.7 96.7 316.1 99.3 316.6 100.4C317.0 101.5 319.1 101.4 320.9 101.5C322.7 101.6 325.2 100.9 327.3 101.0C329.5 101.2 331.6 102.0 333.7 102.5C335.9 103.0 338.2 103.3 340.2 104.0C342.2 104.8 343.9 105.7 345.6 106.8C347.2 108.0 349.0 109.5 349.8 111.1C350.7 112.7 350.7 114.7 350.5 116.5C350.3 118.3 349.4 119.9 348.8 121.9C348.1 123.8 347.3 126.2 346.6 128.3C345.9 130.5 345.4 132.6 344.5 134.8C343.6 136.9 342.5 139.6 341.3 141.2C340.0 142.8 338.0 143.3 337.0 144.4C335.9 145.5 334.6 146.4 334.8 147.6C335.0 148.9 337.1 150.5 338.0 151.9C338.9 153.4 340.4 154.9 340.2 156.2C340.0 157.6 338.4 159.1 337.0 159.9C335.5 160.7 333.4 161.2 331.6 161.2C329.8 161.1 327.8 160.5 326.2 159.5C324.6 158.4 322.5 156.6 321.9 155.2C321.4 153.7 322.7 152.1 323.0 150.9C323.4 149.6 324.4 148.7 324.1 147.6C323.7 146.6 322.3 145.5 320.9 144.4C319.4 143.3 317.1 142.5 315.5 141.2C313.9 139.9 312.5 138.2 311.2 136.9C309.9 135.7 309.2 134.8 308.0 133.7C306.7 132.6 305.1 130.6 303.7 130.5C302.3 130.3 300.8 131.6 299.4 132.6C298.0 133.6 296.3 135.0 295.1 136.3C293.8 137.5 292.6 138.8 291.9 140.1C291.2 141.5 291.3 143.3 290.8 144.4C290.3 145.6 289.5 147.2 288.7 147.0C287.8 146.8 286.7 144.5 285.4 143.3C284.2 142.2 282.7 140.8 281.1 140.1C279.5 139.4 277.6 139.6 275.8 139.1C274.0 138.5 272.0 137.8 270.4 136.9C268.8 136.0 267.1 134.9 266.1 133.7C265.1 132.5 264.2 130.8 264.6 129.8C265.0 128.8 268.2 128.4 268.3 127.7C268.3 127.0 265.5 126.4 265.0 125.5C264.6 124.7 264.6 123.3 265.5 122.5C266.4 121.7 268.7 121.3 270.4 120.8C272.1 120.3 274.3 120.6 275.8 119.7C277.2 118.8 277.9 116.9 279.0 115.4C280.1 114.0 282.0 112.4 282.2 111.1C282.4 109.9 281.0 109.0 280.1 107.9C279.2 106.8 277.3 105.8 276.8 104.7C276.4 103.6 276.6 102.0 277.5 101.5C278.4 100.9 280.7 101.7 282.2 101.5C283.7 101.3 285.4 101.3 286.5 100.4C287.6 99.5 287.6 97.4 288.7 96.1C289.7 94.9 291.3 94.0 292.9 92.9C294.6 91.8 296.5 90.6 298.3 89.7C300.1 88.7 301.9 87.6 303.7 87.1C305.5 86.5 307.3 86.2 309.1 86.4Z" fill="#0430f5" stroke="#000" stroke-opacity="0.75" stroke-width="0.45"/>
<path d="M309.1 89.7C310.5 89.9 312.8 90.6 313.3 91.8C313.9 93.1 312.5 95.4 312.3 97.2C312.0 99.0 311.3 101.3 311.8 102.5C312.4 103.8 313.6 104.5 315.5 104.7C317.4 104.9 320.3 103.6 323.0 103.6C325.7 103.6 329.1 104.3 331.6 104.7C334.1 105.1 336.1 105.5 338.0 106.2C340.0 106.9 342.0 107.8 343.4 109.0C344.8 110.2 345.7 111.7 346.2 113.3C346.7 114.9 346.5 116.7 346.2 118.7C345.9 120.6 345.1 122.9 344.5 125.1C343.9 127.2 343.1 129.4 342.8 131.5C342.4 133.7 342.9 136.2 342.3 138.0C341.7 139.8 340.5 141.2 339.1 142.3C337.7 143.3 335.4 143.7 333.7 144.4C332.1 145.1 330.9 146.7 329.5 146.6C328.0 146.4 326.8 144.4 325.2 143.3C323.5 142.3 321.6 141.4 319.8 140.1C318.0 138.9 316.0 137.3 314.4 135.8C312.8 134.4 311.6 132.9 310.1 131.5C308.7 130.2 307.3 128.2 305.8 127.7C304.4 127.1 303.0 127.7 301.5 128.3C300.1 129.0 298.7 130.4 297.2 131.5C295.8 132.7 294.4 134.3 292.9 135.4C291.5 136.5 290.3 137.7 288.7 138.0C287.0 138.2 285.1 137.4 283.3 136.9C281.5 136.4 279.2 135.8 277.9 134.8C276.7 133.7 275.8 131.9 275.8 130.5C275.8 129.0 277.0 127.8 277.9 126.2C278.8 124.6 280.1 122.6 281.1 120.8C282.2 119.0 283.3 117.2 284.4 115.4C285.4 113.6 287.0 111.9 287.6 110.1C288.1 108.3 287.2 106.5 287.6 104.7C287.9 102.9 288.7 100.8 289.7 99.3C290.8 97.9 292.4 97.2 294.0 96.1C295.6 95.0 297.6 93.9 299.4 92.9C301.2 91.9 303.1 90.8 304.8 90.3C306.4 89.8 307.6 89.4 309.1 89.7Z" fill="#12dcff" stroke="#000" stroke-opacity="0.75" stroke-width="0.45"/>
<path d="M364.8 102.9C364.8 103.0 364.8 103.2 364.7 103.4C364.6 103.6 364.4 103.8 364.3 104.0C364.1 104.2 363.8 104.4 363.5 104.6C363.3 104.9 363.0 105.1 362.7 105.3C362.4 105.5 362.0 105.7 361.7 105.9C361.3 106.1 360.8 106.4 360.5 106.6C360.2 106.7 359.9 106.7 359.7 106.6C359.5 106.6 359.4 106.5 359.2 106.5C359.1 106.4 358.8 106.5 358.7 106.4C358.7 106.3 358.8 106.1 358.8 105.9C358.9 105.8 358.8 105.6 358.9 105.4C359.0 105.3 359.4 105.0 359.7 104.7C360.0 104.5 360.2 104.2 360.5 104.0C360.9 103.8 361.3 103.6 361.6 103.5C362.0 103.3 362.2 103.3 362.6 103.2C362.9 103.1 363.3 102.9 363.6 102.8C363.9 102.7 364.2 102.6 364.4 102.7C364.6 102.7 364.7 102.8 364.8 102.9Z" fill="#0430f5" stroke="#000" stroke-opacity="0.75" stroke-width="0.45"/>
<path d="M332.6 165.1C332.7 165.3 332.2 165.6 332.0 165.8C331.8 166.0 331.8 166.2 331.5 166.3C331.2 166.5 330.6 166.6 330.3 166.7C329.9 166.9 329.7 167.2 329.3 167.3C329.0 167.4 328.4 167.5 328.0 167.5C327.5 167.5 327.1 167.5 326.7 167.5C326.3 167.5 325.8 167.5 325.5 167.4C325.2 167.4 324.9 167.2 324.8 167.1C324.7 166.9 324.8 166.7 324.8 166.5C324.8 166.3 324.9 166.2 325.0 166.0C325.0 165.8 324.8 165.6 325.0 165.4C325.2 165.2 325.8 165.1 326.2 164.9C326.6 164.8 327.0 164.6 327.4 164.5C327.9 164.4 328.3 164.5 328.8 164.4C329.2 164.4 329.8 164.2 330.2 164.2C330.5 164.2 330.7 164.4 331.0 164.5C331.2 164.6 331.4 164.7 331.7 164.8C332.0 164.9 332.6 165.0 332.6 165.1Z" fill="#0430f5" stroke="#000" stroke-opacity="0.75" stroke-width="0.45"/>
<path d="M329.7 96.1C329.7 96.3 329.8 96.5 329.7 96.6C329.6 96.8 329.4 96.9 329.1 96.9C328.9 97.0 328.6 97.1 328.4 97.0C328.3 96.9 328.2 96.7 328.0 96.5C327.9 96.4 327.6 96.3 327.6 96.1C327.6 96.0 327.8 95.8 328.0 95.6C328.1 95.5 328.3 95.3 328.5 95.3C328.7 95.2 328.9 95.3 329.1 95.3C329.3 95.4 329.7 95.4 329.8 95.5C329.9 95.7 329.7 95.9 329.7 96.1Z" fill="#0430f5" stroke="#000" stroke-opacity="0.75" stroke-width="0.45"/>
<path d="M302.1 132.0C302.1 132.1 302.2 132.4 302.1 132.5C302.0 132.7 301.7 132.7 301.4 132.8C301.2 132.8 301.0 132.8 300.8 132.8C300.6 132.7 300.5 132.5 300.3 132.4C300.2 132.3 300.0 132.1 300.0 132.0C300.0 131.8 300.2 131.6 300.3 131.5C300.4 131.3 300.6 131.2 300.8 131.1C300.9 131.1 301.2 131.1 301.4 131.2C301.6 131.2 301.9 131.3 302.0 131.4C302.1 131.6 302.1 131.8 302.1 132.0Z" fill="#fff" stroke="#000" stroke-opacity="0.75" stroke-width="0.45"/>
<path d="M326.8 82.6C326.8 82.7 326.9 82.8 326.8 82.9C326.8 82.9 326.6 83.0 326.4 83.0C326.3 83.0 326.2 83.0 326.0 83.0C325.9 82.9 325.8 82.9 325.7 82.8C325.7 82.7 325.5 82.7 325.5 82.6C325.5 82.5 325.7 82.4 325.7 82.3C325.8 82.3 325.9 82.2 326.0 82.2C326.1 82.1 326.3 82.2 326.4 82.2C326.5 82.2 326.7 82.3 326.8 82.3C326.8 82.4 326.8 82.5 326.8 82.6Z" fill="#222" stroke="#000" stroke-opacity="0.75" stroke-width="0.45"/>
<path d="M334.4 154.1C334.4 154.2 334.4 154.4 334.3 154.5C334.3 154.6 334.1 154.7 333.9 154.7C333.8 154.7 333.7 154.7 333.6 154.7C333.4 154.6 333.4 154.5 333.3 154.4C333.2 154.3 333.0 154.2 333.0 154.1C333.0 154.0 333.2 153.8 333.3 153.7C333.3 153.6 333.4 153.5 333.5 153.4C333.7 153.4 333.8 153.4 333.9 153.5C334.1 153.5 334.2 153.6 334.3 153.7C334.3 153.8 334.3 153.9 334.4 154.1Z" fill="#223" stroke="#000" stroke-opacity="0.75" stroke-width="0.45"/>
<path d="M275.1 159.2C275.1 159.3 275.2 159.5 275.0 159.5C274.9 159.6 274.6 159.6 274.4 159.6C274.2 159.7 273.9 159.7 273.7 159.6C273.5 159.6 273.4 159.5 273.3 159.5C273.1 159.4 272.9 159.3 272.9 159.2C272.9 159.2 273.1 159.1 273.2 159.0C273.4 158.9 273.5 158.8 273.7 158.8C273.9 158.8 274.2 158.8 274.4 158.8C274.6 158.9 274.8 158.9 274.9 159.0C275.1 159.0 275.0 159.1 275.1 159.2Z" fill="#222" stroke="#000" stroke-opacity="0.75" stroke-width="0.45"/>
<path d="M308.3 92.1C309.6 92.7 310.9 94.5 311.2 96.1C311.5 97.7 310.1 100.1 310.1 101.8C310.1 103.5 310.1 105.4 311.2 106.3C312.4 107.1 314.6 107.0 316.9 107.0C319.1 107.0 322.1 106.2 324.8 106.3C327.4 106.4 330.2 106.9 332.6 107.4C335.1 107.9 337.5 108.4 339.4 109.2C341.4 110.0 343.3 111.0 344.4 112.4C345.4 113.8 345.8 115.6 345.7 117.5C345.6 119.5 344.6 122.1 343.9 124.3C343.2 126.6 342.8 129.2 341.7 131.1C340.5 133.0 338.7 134.3 337.2 135.6C335.6 136.9 334.3 138.0 332.6 139.0C331.0 139.9 328.9 141.3 327.0 141.2C325.1 141.1 323.2 139.7 321.4 138.5C319.5 137.3 317.4 135.5 315.7 134.0C314.0 132.5 312.7 130.9 311.2 129.5C309.7 128.1 308.2 126.0 306.7 125.4C305.2 124.8 303.7 125.2 302.2 125.9C300.7 126.6 299.2 128.3 297.7 129.5C296.2 130.7 294.7 132.4 293.2 133.3C291.7 134.2 290.4 134.8 288.7 134.9C287.0 135.0 284.5 134.6 283.0 134.0C281.5 133.4 280.0 132.4 279.7 131.1C279.3 129.7 280.0 127.7 280.8 125.9C281.5 124.1 283.1 122.4 284.2 120.5C285.2 118.5 286.2 116.2 287.1 114.2C288.0 112.2 288.8 110.5 289.4 108.5C289.9 106.6 289.6 104.2 290.3 102.4C290.9 100.7 291.8 99.3 293.2 97.9C294.5 96.6 296.7 95.3 298.4 94.3C300.1 93.3 301.7 92.4 303.3 92.1C305.0 91.7 307.0 91.4 308.3 92.1Z" fill="#00c8a0" stroke="#000" stroke-opacity="0.75" stroke-width="0.45"/>
<path d="M308.4 93.3C309.7 94.0 310.9 95.6 311.2 97.2C311.5 98.7 310.1 100.9 310.1 102.5C310.1 104.2 310.1 106.0 311.2 106.8C312.3 107.7 314.4 107.5 316.6 107.5C318.7 107.5 321.6 106.8 324.1 106.8C326.6 106.9 329.3 107.4 331.6 107.9C333.9 108.4 336.2 108.8 338.0 109.6C339.9 110.4 341.8 111.3 342.8 112.6C343.8 114.0 344.1 115.7 344.1 117.6C344.0 119.5 343.0 121.9 342.3 124.0C341.7 126.2 341.3 128.7 340.2 130.5C339.1 132.3 337.3 133.5 335.9 134.8C334.5 136.0 333.2 137.1 331.6 138.0C330.0 138.9 328.0 140.2 326.2 140.1C324.4 140.1 322.7 138.7 320.9 137.5C319.1 136.4 317.1 134.7 315.5 133.3C313.9 131.8 312.6 130.3 311.2 129.0C309.8 127.6 308.3 125.7 306.9 125.1C305.5 124.5 304.0 124.9 302.6 125.5C301.2 126.2 299.7 127.8 298.3 129.0C296.9 130.1 295.5 131.8 294.0 132.6C292.6 133.5 291.3 134.0 289.7 134.1C288.1 134.2 285.8 133.9 284.4 133.3C282.9 132.6 281.5 131.8 281.1 130.5C280.8 129.2 281.5 127.2 282.2 125.5C282.9 123.8 284.4 122.2 285.4 120.4C286.4 118.5 287.4 116.3 288.2 114.4C289.0 112.5 289.9 110.8 290.4 109.0C290.9 107.1 290.6 104.9 291.2 103.2C291.8 101.5 292.7 100.2 294.0 98.9C295.3 97.6 297.3 96.4 299.0 95.5C300.6 94.5 302.1 93.7 303.7 93.3C305.3 93.0 307.2 92.7 308.4 93.3Z" fill="#08c818" stroke="#000" stroke-opacity="0.75" stroke-width="0.45"/>
<path d="M308.5 94.6C309.7 95.2 310.9 96.8 311.2 98.2C311.4 99.7 310.2 101.8 310.2 103.3C310.2 104.9 310.2 106.6 311.2 107.4C312.2 108.2 314.2 108.0 316.3 108.0C318.3 108.0 321.0 107.3 323.4 107.4C325.8 107.5 328.3 108.0 330.6 108.4C332.8 108.9 334.9 109.3 336.7 110.1C338.4 110.8 340.2 111.7 341.2 112.9C342.1 114.2 342.5 115.8 342.4 117.6C342.3 119.4 341.4 121.7 340.8 123.7C340.1 125.8 339.7 128.1 338.7 129.8C337.7 131.5 336.0 132.7 334.6 133.9C333.3 135.1 332.1 136.1 330.6 137.0C329.0 137.8 327.2 139.1 325.5 139.0C323.8 139.0 322.1 137.7 320.4 136.6C318.7 135.5 316.8 133.9 315.3 132.5C313.7 131.1 312.5 129.7 311.2 128.4C309.8 127.1 308.5 125.3 307.1 124.7C305.7 124.2 304.4 124.5 303.0 125.2C301.7 125.8 300.3 127.3 298.9 128.4C297.6 129.5 296.2 131.1 294.9 131.9C293.5 132.7 292.3 133.2 290.8 133.3C289.2 133.4 287.0 133.1 285.7 132.5C284.3 131.9 283.0 131.1 282.6 129.8C282.3 128.6 283.0 126.8 283.6 125.2C284.3 123.6 285.7 122.0 286.7 120.3C287.6 118.5 288.6 116.3 289.3 114.5C290.1 112.7 290.9 111.2 291.4 109.4C291.9 107.7 291.6 105.5 292.2 103.9C292.8 102.3 293.6 101.1 294.9 99.9C296.1 98.6 298.0 97.5 299.5 96.6C301.1 95.7 302.5 94.9 304.0 94.6C305.5 94.2 307.3 93.9 308.5 94.6Z" fill="none" stroke="#000" stroke-opacity="0.60" stroke-width="0.35"/>
<path d="M306.7 97.5C307.4 97.4 307.8 98.2 307.9 99.0C308.0 99.9 307.5 101.4 307.3 102.7C307.0 103.9 306.6 105.2 306.4 106.4C306.1 107.7 306.2 108.9 305.6 110.3C305.0 111.8 303.5 113.7 302.6 115.2C301.6 116.8 300.7 118.4 299.7 119.7C298.7 120.9 297.6 121.5 296.6 122.8C295.5 124.0 294.6 125.9 293.5 127.3C292.3 128.7 290.9 130.5 289.9 131.2C288.9 132.0 287.9 132.1 287.4 131.8C286.9 131.5 287.1 129.9 286.8 129.4C286.4 128.9 285.5 129.2 285.3 128.6C285.1 128.0 285.4 126.6 285.5 125.6C285.5 124.6 284.9 124.1 285.3 122.8C285.7 121.5 287.0 119.5 287.8 117.9C288.6 116.4 289.2 115.1 289.9 113.5C290.7 112.0 291.4 110.2 292.3 108.6C293.3 106.9 294.6 104.8 295.6 103.7C296.7 102.6 297.8 102.6 298.8 102.0C299.7 101.3 300.7 100.4 301.5 100.0C302.3 99.7 302.6 100.2 303.5 99.8C304.4 99.3 306.0 97.6 306.7 97.5Z" fill="#7ee000" stroke="#000" stroke-opacity="0.75" stroke-width="0.45"/>
<path d="M304.8 100.5C305.3 100.8 306.1 100.4 306.6 100.6C307.1 100.9 307.9 101.0 307.9 101.9C307.8 102.8 307.0 104.8 306.3 106.3C305.6 107.8 304.4 109.6 303.7 111.0C302.9 112.5 302.4 113.7 301.6 115.0C300.9 116.3 300.0 117.4 299.1 118.9C298.2 120.3 297.4 122.4 296.5 123.7C295.6 125.0 294.4 125.9 293.5 126.7C292.5 127.4 291.8 127.7 290.9 128.3C290.0 128.9 288.8 130.0 288.1 130.3C287.3 130.6 286.6 130.6 286.3 130.1C286.1 129.5 286.5 128.0 286.5 127.1C286.6 126.1 286.3 125.6 286.5 124.7C286.7 123.7 287.5 122.2 287.7 121.1C287.9 120.0 287.3 119.4 287.6 118.2C287.9 116.9 288.7 115.0 289.6 113.5C290.4 112.1 291.8 110.6 292.9 109.3C293.9 108.0 294.9 107.0 295.9 105.8C296.9 104.7 297.9 103.3 298.8 102.5C299.7 101.7 300.4 101.6 301.2 101.1C302.1 100.5 303.3 99.3 303.9 99.2C304.4 99.1 304.3 100.3 304.8 100.5Z" fill="none" stroke="#000" stroke-opacity="0.60" stroke-width="0.35"/>
<path d="M340.0 128.8C339.5 129.6 338.4 130.1 337.4 130.5C336.4 130.9 334.8 130.7 333.8 131.0C332.7 131.2 332.1 131.9 331.1 132.2C330.0 132.6 328.8 133.2 327.5 133.1C326.2 133.0 324.5 132.2 323.1 131.5C321.8 130.9 320.5 130.1 319.2 129.4C318.0 128.6 316.9 127.7 315.9 126.9C314.8 126.0 313.6 125.1 312.8 124.1C311.9 123.1 310.9 121.9 310.7 121.0C310.5 120.0 311.2 119.1 311.4 118.2C311.7 117.4 312.1 116.8 312.3 115.9C312.4 115.0 311.9 113.6 312.3 112.8C312.7 112.0 313.7 111.3 314.8 111.0C315.9 110.6 317.4 110.6 318.8 110.7C320.2 110.9 321.7 111.4 323.1 111.8C324.4 112.2 325.6 112.7 327.0 113.1C328.4 113.5 329.9 113.5 331.3 114.1C332.6 114.7 334.0 115.7 334.9 116.7C335.8 117.6 336.0 118.8 336.7 119.8C337.4 120.8 338.4 121.7 339.0 122.7C339.7 123.8 340.3 124.9 340.4 125.9C340.6 126.9 340.5 128.0 340.0 128.8Z" fill="#7ee000" stroke="#000" stroke-opacity="0.75" stroke-width="0.45"/>
<path d="M338.4 128.1C338.3 128.9 337.7 129.6 336.9 130.1C336.2 130.6 335.1 130.8 334.1 131.0C333.0 131.3 332.0 131.5 330.9 131.5C329.8 131.6 328.6 131.6 327.3 131.5C326.1 131.4 324.6 131.5 323.3 131.0C322.1 130.6 320.7 129.5 319.7 128.6C318.7 127.8 318.2 126.8 317.3 125.9C316.4 125.1 315.3 124.5 314.4 123.6C313.4 122.8 312.3 121.8 311.7 120.9C311.1 119.9 310.9 118.9 310.9 118.0C311.0 117.2 311.3 116.3 311.9 115.7C312.5 115.1 313.6 114.8 314.3 114.3C314.9 113.7 315.2 112.9 316.0 112.5C316.8 112.0 317.9 111.6 319.1 111.7C320.3 111.7 321.8 112.4 323.1 112.7C324.4 113.1 325.5 113.5 326.8 113.9C328.0 114.3 329.3 114.5 330.6 115.0C331.9 115.6 333.3 116.3 334.4 117.1C335.5 117.9 336.7 119.0 337.2 119.9C337.7 120.8 337.3 121.9 337.4 122.8C337.5 123.7 337.5 124.4 337.7 125.3C337.9 126.1 338.5 127.2 338.4 128.1Z" fill="none" stroke="#000" stroke-opacity="0.60" stroke-width="0.35"/>
<path d="M315.7 119.1C315.5 119.6 315.1 119.9 315.0 120.4C314.9 120.9 315.1 121.5 314.9 121.9C314.7 122.4 314.3 122.9 313.8 123.2C313.3 123.5 312.4 123.4 311.8 123.5C311.1 123.7 310.6 124.1 310.0 124.2C309.4 124.3 308.8 124.2 308.1 124.2C307.4 124.2 306.6 124.3 306.0 124.2C305.4 124.0 304.8 123.5 304.4 123.1C304.1 122.7 304.1 122.0 303.9 121.6C303.6 121.1 303.3 120.8 302.9 120.4C302.5 120.0 301.7 119.6 301.6 119.1C301.5 118.6 302.0 118.1 302.3 117.6C302.5 117.1 302.7 116.6 303.1 116.2C303.5 115.8 304.3 115.7 304.8 115.4C305.3 115.1 305.7 114.7 306.2 114.4C306.7 114.1 307.4 113.7 308.0 113.6C308.6 113.6 309.4 113.9 310.0 114.1C310.6 114.3 311.0 114.7 311.6 114.9C312.2 115.0 313.1 114.8 313.7 115.1C314.3 115.3 314.7 115.8 315.1 116.2C315.5 116.6 316.1 117.0 316.2 117.5C316.3 118.0 315.9 118.6 315.7 119.1Z" fill="#7ee000" stroke="#000" stroke-opacity="0.75" stroke-width="0.45"/>
<path d="M315.4 119.1C315.4 119.5 315.3 120.0 315.1 120.4C314.9 120.8 314.6 121.2 314.2 121.5C313.9 121.8 313.3 121.9 312.9 122.3C312.5 122.6 312.3 123.3 311.8 123.5C311.4 123.8 310.6 123.8 310.0 123.9C309.4 124.0 308.7 124.1 308.1 124.0C307.5 123.9 306.9 123.5 306.4 123.3C305.9 123.0 305.5 122.7 305.1 122.4C304.7 122.1 304.4 121.8 304.0 121.5C303.6 121.1 303.0 120.8 302.8 120.4C302.6 120.0 303.0 119.5 302.9 119.1C302.9 118.6 302.5 118.1 302.6 117.7C302.7 117.3 303.2 116.9 303.5 116.5C303.8 116.1 304.2 115.7 304.6 115.4C305.1 115.1 305.8 115.0 306.4 114.9C307.0 114.8 307.6 114.8 308.2 114.8C308.8 114.8 309.3 114.9 309.9 114.9C310.5 114.9 311.3 114.6 311.8 114.7C312.4 114.8 312.8 115.2 313.3 115.5C313.8 115.8 314.5 116.0 314.8 116.4C315.1 116.8 315.1 117.3 315.2 117.8C315.3 118.2 315.4 118.6 315.4 119.1Z" fill="none" stroke="#000" stroke-opacity="0.60" stroke-width="0.35"/>
<path d="M304.7 98.0C304.9 98.1 304.9 98.6 305.0 99.1C305.0 99.6 304.8 100.4 304.7 100.9C304.7 101.5 304.7 101.9 304.7 102.4C304.7 102.9 304.9 103.3 304.7 104.0C304.6 104.7 304.1 105.7 303.8 106.5C303.5 107.3 303.2 108.2 302.8 108.9C302.5 109.7 302.1 110.5 301.7 111.2C301.3 111.8 300.9 112.5 300.5 113.1C300.2 113.6 299.7 114.2 299.4 114.5C299.1 114.7 298.9 114.7 298.6 114.6C298.4 114.6 298.3 114.3 298.1 114.3C297.8 114.4 297.3 115.1 297.0 115.0C296.8 115.0 296.8 114.4 296.8 113.9C296.8 113.4 296.9 112.6 297.0 111.9C297.2 111.2 297.5 110.3 297.8 109.5C298.0 108.7 298.4 107.9 298.6 107.1C298.9 106.4 299.1 105.6 299.4 104.8C299.8 104.0 300.1 103.1 300.5 102.5C300.9 101.8 301.2 101.6 301.6 101.1C302.0 100.5 302.4 99.7 302.8 99.2C303.2 98.7 303.6 98.2 303.9 98.0C304.2 97.8 304.5 97.8 304.7 98.0Z" fill="#c4e600" stroke="#000" stroke-opacity="0.75" stroke-width="0.45"/>
<path d="M303.2 109.3C303.5 109.7 302.9 110.9 302.9 111.5C302.9 112.2 303.2 112.5 303.2 113.1C303.3 113.8 303.4 114.4 303.1 115.2C302.8 116.0 302.0 117.0 301.3 117.8C300.6 118.6 299.8 119.4 299.1 120.1C298.4 120.9 297.7 121.5 297.0 122.2C296.3 122.9 295.5 123.5 294.7 124.2C293.9 125.0 292.7 126.3 291.9 126.8C291.1 127.2 290.4 126.8 289.8 126.7C289.3 126.5 289.0 126.1 288.5 125.9C288.0 125.7 287.3 125.8 286.9 125.5C286.5 125.3 286.2 124.9 286.0 124.4C285.9 123.9 285.9 123.1 286.1 122.4C286.2 121.7 286.4 121.0 286.8 120.2C287.2 119.4 288.1 118.6 288.5 117.8C288.9 116.9 288.9 115.9 289.5 115.1C290.1 114.2 291.1 113.2 292.0 112.6C292.8 112.0 293.8 111.8 294.6 111.4C295.5 111.1 296.1 110.8 296.9 110.5C297.6 110.2 298.4 109.8 299.1 109.5C299.9 109.3 300.7 109.1 301.3 109.0C302.0 109.0 302.9 108.8 303.2 109.3Z" fill="#f0f000" stroke="#000" stroke-opacity="0.75" stroke-width="0.45"/>
<path d="M301.7 110.7C302.2 110.8 302.6 111.1 302.9 111.5C303.2 111.9 303.4 112.4 303.3 113.0C303.1 113.7 302.6 114.6 302.1 115.4C301.7 116.2 301.1 117.0 300.5 117.7C300.0 118.5 299.3 119.1 298.7 119.8C298.1 120.6 297.7 121.8 297.0 122.4C296.3 123.0 295.4 123.2 294.6 123.6C293.8 124.0 293.1 124.4 292.4 124.8C291.7 125.2 291.0 125.5 290.3 125.7C289.5 126.0 288.7 126.4 288.1 126.3C287.5 126.3 287.1 126.0 286.9 125.5C286.7 125.1 286.6 124.6 286.7 123.9C286.9 123.2 287.7 122.2 287.8 121.6C287.9 121.0 287.1 120.8 287.2 120.2C287.3 119.5 288.0 118.6 288.5 117.9C289.0 117.1 289.6 116.3 290.3 115.5C290.9 114.8 291.7 114.2 292.5 113.5C293.2 112.9 294.0 112.2 294.7 111.7C295.5 111.1 296.3 110.7 297.0 110.3C297.8 110.0 298.8 109.3 299.3 109.4C299.8 109.5 299.6 110.6 300.0 110.8C300.4 111.1 301.2 110.6 301.7 110.7Z" fill="none" stroke="#000" stroke-opacity="0.60" stroke-width="0.35"/>
<path d="M336.0 125.2C336.0 125.9 336.0 126.7 335.6 127.2C335.2 127.7 334.4 128.1 333.5 128.2C332.6 128.4 331.4 128.2 330.3 128.1C329.3 127.9 328.1 127.5 327.1 127.1C326.1 126.8 325.2 126.0 324.2 125.8C323.1 125.5 321.8 125.8 320.8 125.4C319.7 125.0 318.8 124.1 317.9 123.5C317.1 122.8 316.4 122.0 315.7 121.3C315.1 120.5 314.4 119.7 314.1 119.0C313.7 118.3 313.6 117.5 313.6 116.8C313.6 116.2 314.0 115.6 314.3 115.1C314.6 114.6 315.0 114.0 315.7 113.8C316.4 113.6 317.8 114.0 318.6 113.8C319.3 113.6 319.3 112.7 320.1 112.4C320.8 112.1 321.9 111.9 322.9 112.1C324.0 112.2 325.3 112.7 326.4 113.2C327.5 113.6 328.6 114.3 329.5 115.0C330.4 115.6 331.2 116.4 331.9 117.1C332.6 117.8 333.0 118.4 333.7 119.1C334.4 119.9 335.7 120.6 336.1 121.3C336.4 122.0 335.6 122.5 335.6 123.2C335.6 123.8 336.0 124.5 336.0 125.2Z" fill="#f0f000" stroke="#000" stroke-opacity="0.75" stroke-width="0.45"/>
<path d="M335.3 124.9C334.9 125.3 334.7 125.9 334.1 126.1C333.4 126.3 332.2 125.9 331.5 126.1C330.8 126.3 330.7 127.1 330.0 127.2C329.2 127.4 328.1 127.2 327.2 127.0C326.2 126.8 325.2 126.5 324.2 126.2C323.2 125.8 322.1 125.3 321.2 124.8C320.2 124.3 319.0 123.8 318.3 123.2C317.6 122.5 317.4 121.7 316.9 121.0C316.4 120.3 315.5 119.6 315.4 119.0C315.2 118.4 316.0 118.1 316.0 117.5C316.0 116.9 315.3 116.1 315.2 115.5C315.1 114.9 315.2 114.2 315.5 113.7C315.9 113.3 316.6 112.9 317.4 112.8C318.2 112.7 319.4 112.9 320.3 113.0C321.3 113.1 322.2 113.0 323.1 113.3C324.1 113.6 325.1 114.3 326.1 114.7C327.0 115.1 328.2 115.1 329.1 115.6C329.9 116.1 330.4 116.9 331.2 117.5C331.9 118.1 332.8 118.7 333.5 119.3C334.2 119.9 335.1 120.7 335.6 121.4C336.1 122.1 336.6 122.9 336.6 123.5C336.5 124.1 335.7 124.4 335.3 124.9Z" fill="none" stroke="#000" stroke-opacity="0.60" stroke-width="0.35"/>
<path d="M338.3 127.5C337.8 128.2 336.9 128.6 335.9 129.0C334.9 129.3 333.6 129.1 332.5 129.3C331.4 129.6 330.7 130.4 329.5 130.4C328.2 130.5 326.3 130.3 324.9 129.7C323.4 129.1 321.8 128.0 320.6 127.1C319.5 126.1 319.0 125.0 318.0 124.1C316.9 123.1 315.0 122.3 314.2 121.4C313.5 120.5 313.5 119.4 313.4 118.5C313.4 117.7 313.7 116.9 313.9 116.1C314.1 115.3 314.0 114.2 314.7 113.6C315.3 113.1 316.6 112.7 317.9 112.7C319.2 112.6 320.8 112.7 322.2 113.2C323.7 113.7 325.0 115.0 326.5 115.4C327.9 115.9 329.6 115.6 331.0 116.2C332.4 116.7 334.0 117.8 335.1 118.8C336.1 119.7 336.5 120.9 337.1 121.9C337.6 122.9 338.2 123.9 338.4 124.8C338.6 125.8 338.7 126.8 338.3 127.5Z" fill="#f0f000" stroke="#000" stroke-opacity="0.75" stroke-width="0.40"/>
<path d="M304.6 115.9C304.9 116.5 304.9 117.1 304.8 117.8C304.7 118.5 304.6 119.3 304.0 120.0C303.4 120.7 302.2 121.5 301.2 122.2C300.3 122.8 299.3 123.3 298.3 123.8C297.3 124.4 296.4 125.2 295.4 125.7C294.3 126.3 292.9 126.9 291.8 127.2C290.6 127.4 289.3 127.5 288.6 127.3C287.9 127.0 288.0 126.1 287.4 125.7C286.8 125.3 285.3 125.5 285.0 125.1C284.8 124.6 285.7 123.6 285.9 122.9C286.2 122.2 286.2 121.6 286.5 120.9C286.9 120.2 287.3 119.4 288.0 118.6C288.8 117.9 289.8 117.1 290.9 116.4C291.9 115.8 293.3 115.1 294.4 114.9C295.5 114.7 296.3 115.3 297.4 115.2C298.4 115.1 299.8 114.2 300.8 114.1C301.8 114.0 302.5 114.4 303.2 114.7C303.8 115.0 304.4 115.4 304.6 115.9Z" fill="#ff9a00" stroke="#000" stroke-opacity="0.75" stroke-width="0.45"/>
<path d="M334.3 121.9C334.1 122.4 334.5 123.1 334.1 123.6C333.7 124.0 332.7 124.2 331.8 124.4C331.0 124.6 330.1 124.9 329.1 124.9C328.1 124.9 326.8 124.5 325.7 124.2C324.6 123.9 323.8 123.4 322.7 123.1C321.6 122.8 320.1 122.7 319.2 122.3C318.2 121.8 317.6 121.1 317.1 120.5C316.5 119.9 315.8 119.2 315.7 118.6C315.5 118.0 315.9 117.5 316.1 117.0C316.2 116.5 316.1 115.8 316.6 115.4C317.2 115.1 318.4 115.1 319.2 114.9C320.0 114.7 320.7 114.4 321.7 114.4C322.6 114.3 323.7 114.2 324.8 114.3C325.9 114.5 327.3 114.7 328.3 115.1C329.4 115.5 330.3 116.2 331.0 116.8C331.7 117.4 331.9 118.0 332.6 118.5C333.2 119.1 334.7 119.8 334.9 120.3C335.2 120.9 334.4 121.3 334.3 121.9Z" fill="#ff9a00" stroke="#000" stroke-opacity="0.75" stroke-width="0.45"/>
<path d="M301.5 118.0C301.8 118.3 302.8 118.4 302.8 118.8C302.8 119.2 302.1 119.8 301.5 120.2C301.0 120.6 300.3 121.0 299.7 121.4C299.1 121.8 298.4 122.1 297.8 122.4C297.1 122.7 296.4 123.2 295.7 123.4C295.0 123.6 294.1 123.7 293.5 123.7C292.9 123.7 292.5 123.5 291.8 123.5C291.1 123.5 289.8 123.9 289.4 123.7C289.0 123.5 289.3 122.9 289.4 122.4C289.4 122.0 289.4 121.7 289.7 121.3C289.9 120.9 290.5 120.5 290.8 120.1C291.1 119.6 291.0 119.1 291.4 118.7C291.9 118.3 292.8 117.9 293.5 117.6C294.2 117.3 295.0 117.3 295.8 117.1C296.6 116.8 297.5 116.4 298.2 116.3C298.8 116.2 299.4 116.4 299.9 116.6C300.4 116.7 300.8 116.9 301.1 117.1C301.3 117.4 301.2 117.8 301.5 118.0Z" fill="#ff2a00" stroke="#000" stroke-opacity="0.75" stroke-width="0.45"/>
<path d="M331.4 119.3C331.3 119.5 331.1 119.8 330.9 120.0C330.6 120.3 330.2 120.4 329.8 120.6C329.4 120.8 329.0 121.2 328.5 121.2C327.9 121.2 327.0 121.1 326.3 120.9C325.7 120.8 325.1 120.5 324.5 120.3C323.9 120.1 323.3 120.1 322.7 119.9C322.0 119.7 321.2 119.5 320.8 119.2C320.4 118.9 320.2 118.5 320.2 118.2C320.1 117.9 320.4 117.6 320.4 117.3C320.4 117.0 320.0 116.6 320.3 116.4C320.5 116.1 321.4 116.1 321.9 116.0C322.5 115.9 322.9 115.8 323.5 115.8C324.0 115.7 324.6 115.7 325.2 115.7C325.9 115.7 326.7 115.6 327.4 115.7C328.0 115.9 328.7 116.2 329.1 116.5C329.5 116.8 329.5 117.2 329.9 117.5C330.2 117.8 331.1 118.1 331.4 118.4C331.6 118.6 331.5 119.0 331.4 119.3Z" fill="#ff2a00" stroke="#000" stroke-opacity="0.75" stroke-width="0.45"/>
<path d="M343.2 131.1C342.3 132.3 340.0 132.5 338.6 133.3C337.3 134.2 336.7 135.7 335.2 136.1C333.6 136.6 331.4 136.4 329.4 136.1C327.5 135.8 325.5 135.0 323.6 134.3C321.6 133.7 319.6 133.2 317.7 132.3C315.8 131.4 313.8 130.2 312.2 128.8C310.6 127.5 308.3 125.6 308.1 124.2C307.8 122.7 310.6 121.4 310.8 119.9C310.9 118.4 308.6 116.4 308.8 115.1C309.0 113.8 310.6 112.9 311.8 112.0C313.0 111.1 314.5 110.3 316.1 109.9C317.7 109.5 319.7 109.4 321.7 109.5C323.6 109.6 325.7 110.0 327.8 110.6C329.8 111.2 332.5 111.7 334.0 113.0C335.4 114.2 335.3 116.6 336.5 118.1C337.8 119.6 340.2 120.4 341.4 121.9C342.6 123.3 343.5 125.1 343.8 126.7C344.1 128.2 344.0 130.0 343.2 131.1Z" fill="none" stroke="#000" stroke-opacity="0.70" stroke-width="0.40"/>
<path d="M339.4 129.2C339.5 130.5 340.4 132.9 339.5 133.7C338.5 134.4 335.4 133.7 333.6 133.7C331.9 133.8 330.5 134.3 328.8 134.2C327.1 134.0 325.1 133.4 323.5 132.7C321.8 132.0 320.3 130.9 318.8 129.9C317.2 129.0 315.5 128.2 314.2 127.1C312.9 125.9 312.1 124.6 310.9 123.2C309.7 121.8 307.0 119.9 307.0 118.6C307.1 117.4 310.0 116.8 311.2 116.0C312.3 115.1 312.7 114.3 313.7 113.6C314.7 112.9 315.8 112.3 317.1 111.8C318.4 111.4 319.8 110.7 321.4 110.7C323.1 110.7 325.1 111.3 326.9 111.9C328.7 112.5 330.6 113.2 332.3 114.2C334.0 115.1 336.2 116.2 337.2 117.5C338.2 118.8 337.8 120.5 338.1 121.9C338.4 123.2 339.0 124.3 339.2 125.5C339.4 126.7 339.3 127.8 339.4 129.2Z" fill="none" stroke="#000" stroke-opacity="0.70" stroke-width="0.40"/>
<path d="M306.5 97.1C307.2 97.6 308.3 97.2 308.8 98.0C309.2 98.7 309.5 100.0 309.2 101.6C308.9 103.2 307.5 105.7 306.9 107.7C306.4 109.8 306.8 111.7 305.8 113.8C304.8 115.9 302.5 118.2 301.0 120.1C299.5 122.0 298.0 124.0 296.7 125.2C295.3 126.3 294.4 126.1 293.0 127.1C291.7 128.2 290.1 130.4 288.7 131.5C287.3 132.6 285.3 134.0 284.6 133.6C284.0 133.1 284.9 130.0 284.8 128.6C284.7 127.3 283.7 126.9 284.0 125.3C284.3 123.7 285.5 121.1 286.4 119.0C287.3 116.9 288.3 114.8 289.4 112.8C290.5 110.9 291.8 109.3 293.1 107.2C294.3 105.0 295.5 102.1 297.0 100.1C298.4 98.1 300.4 96.2 301.7 95.3C303.0 94.5 304.2 94.7 305.0 95.0C305.8 95.3 305.9 96.6 306.5 97.1Z" fill="none" stroke="#000" stroke-opacity="0.70" stroke-width="0.40"/>
<path d="M341.4 131.6C341.8 131.8 342.2 132.3 342.2 132.7C342.3 133.2 341.8 133.9 341.5 134.4C341.2 135.0 340.9 135.6 340.5 136.1C340.1 136.6 339.5 137.2 338.9 137.6C338.2 137.9 337.4 137.9 336.7 138.1C336.0 138.4 335.5 138.9 334.8 139.1C334.2 139.3 333.5 139.3 332.8 139.4C332.1 139.5 331.0 139.8 330.6 139.6C330.2 139.3 330.4 138.5 330.4 137.9C330.3 137.4 330.4 137.0 330.4 136.5C330.4 136.0 330.1 135.6 330.4 135.1C330.6 134.6 331.3 134.1 331.8 133.6C332.2 133.0 332.4 132.4 332.9 131.9C333.5 131.5 334.2 131.0 334.9 130.7C335.6 130.3 336.5 129.8 337.1 129.8C337.8 129.8 338.3 130.2 338.7 130.4C339.2 130.7 339.5 130.9 340.0 131.1C340.4 131.2 341.0 131.3 341.4 131.6Z" fill="none" stroke="#000" stroke-opacity="0.60" stroke-width="0.40"/>
<path d="M308.5 99.3C308.7 99.9 308.9 100.6 308.7 101.2C308.6 101.7 307.9 102.2 307.4 102.5C306.9 102.8 306.3 102.7 305.8 103.0C305.3 103.2 305.0 103.6 304.5 103.8C304.0 104.0 303.4 104.2 302.8 104.1C302.3 104.0 301.9 103.6 301.4 103.3C300.9 103.1 300.2 102.9 299.8 102.5C299.5 102.2 299.2 101.6 299.0 101.0C298.8 100.5 298.7 99.8 298.8 99.3C299.0 98.8 299.8 98.5 300.0 98.0C300.2 97.5 300.0 96.9 300.1 96.3C300.3 95.8 300.6 95.0 301.0 94.8C301.5 94.5 302.3 94.6 302.8 94.6C303.4 94.6 304.0 94.5 304.5 94.6C305.0 94.7 305.5 95.1 306.0 95.4C306.4 95.6 307.0 95.9 307.3 96.3C307.6 96.7 307.4 97.4 307.7 97.9C307.9 98.4 308.3 98.8 308.5 99.3Z" fill="none" stroke="#000" stroke-opacity="0.60" stroke-width="0.40"/>
<path d="M285.6 117.1Q294.1 112.4 304.2 113.4" stroke="#000" stroke-opacity="0.7" stroke-width="1.1" fill="none"/>
<path d="M312.6 112.7Q321.1 110.0 330.3 113.7" stroke="#000" stroke-opacity="0.7" stroke-width="1.1" fill="none"/>
<rect x="232.8" y="61.0" width="137.1" height="120.1" fill="none" stroke="#2a2a2a" stroke-width="1.1"/>
<path d="M308.6 61.0V181.1M232.8 115.7H369.9" stroke="#111" stroke-width="1" fill="none" stroke-opacity="0.38"/>
<text transform="translate(245.4,192.2) scale(1.00,1)" class="tk" text-anchor="middle">0</text>
<text transform="translate(274.1,192.3) scale(0.82,1)" class="tk" text-anchor="end">10</text>
<text transform="translate(274.7,190.0) scale(0.85,1)" class="tk" text-anchor="start">3</text>
<text transform="translate(304.1,192.3) scale(0.82,1)" class="tk" text-anchor="end">10</text>
<text transform="translate(304.7,190.0) scale(0.85,1)" class="tk" text-anchor="start">4</text>
<text transform="translate(334.3,192.3) scale(0.82,1)" class="tk" text-anchor="end">10</text>
<text transform="translate(334.9,190.0) scale(0.85,1)" class="tk" text-anchor="start">5</text>
<text transform="translate(364.7,192.3) scale(0.82,1)" class="tk" text-anchor="end">10</text>
<text transform="translate(365.3,190.0) scale(0.85,1)" class="tk" text-anchor="start">6</text>
<text transform="translate(225.0,67.7) scale(0.82,1)" class="tk" text-anchor="end">10</text>
<text transform="translate(225.5,65.4) scale(0.85,1)" class="tk" text-anchor="start">6</text>
<text transform="translate(225.0,94.2) scale(0.82,1)" class="tk" text-anchor="end">10</text>
<text transform="translate(225.5,91.9) scale(0.85,1)" class="tk" text-anchor="start">5</text>
<text transform="translate(225.0,120.5) scale(0.82,1)" class="tk" text-anchor="end">10</text>
<text transform="translate(225.5,118.2) scale(0.85,1)" class="tk" text-anchor="start">4</text>
<text transform="translate(225.0,145.9) scale(0.82,1)" class="tk" text-anchor="end">10</text>
<text transform="translate(225.5,143.6) scale(0.85,1)" class="tk" text-anchor="start">3</text>
<text transform="translate(229.1,171.2) scale(1.00,1)" class="tk" text-anchor="end">0</text>
<path d="M245.4 181.1v2.6M277.9 181.1v2.6M257.2 181.1v2.2M307.9 181.1v2.6M338.1 181.1v2.6M368.5 181.1v2.6M232.8 63.0h-2.6M232.8 89.5h-2.6M232.8 115.8h-2.6M232.8 141.2h-2.6M232.8 157.1h-2.2M232.8 168.7h-2.6" stroke="#333" stroke-width="0.8" fill="none"/>
<path d="M263.4 181.1v1.5M267.1 181.1v1.5M269.7 181.1v1.5M271.7 181.1v1.5M273.3 181.1v1.5M274.7 181.1v1.5M275.9 181.1v1.5M277.0 181.1v1.5M286.9 181.1v1.5M292.2 181.1v1.5M296.0 181.1v1.5M298.9 181.1v1.5M301.3 181.1v1.5M303.3 181.1v1.5M305.0 181.1v1.5M306.6 181.1v1.5M317.0 181.1v1.5M322.3 181.1v1.5M326.1 181.1v1.5M329.0 181.1v1.5M331.4 181.1v1.5M333.4 181.1v1.5M335.2 181.1v1.5M336.7 181.1v1.5M347.3 181.1v1.5M352.6 181.1v1.5M356.4 181.1v1.5M359.4 181.1v1.5M361.8 181.1v1.5M363.8 181.1v1.5M365.6 181.1v1.5M367.1 181.1v1.5M232.8 81.5h-1.5M232.8 76.9h-1.5M232.8 73.6h-1.5M232.8 71.0h-1.5M232.8 68.9h-1.5M232.8 67.1h-1.5M232.8 65.6h-1.5M232.8 64.3h-1.5M232.8 107.8h-1.5M232.8 103.2h-1.5M232.8 99.9h-1.5M232.8 97.4h-1.5M232.8 95.3h-1.5M232.8 93.5h-1.5M232.8 92.0h-1.5M232.8 90.7h-1.5M232.8 133.6h-1.5M232.8 129.1h-1.5M232.8 125.9h-1.5M232.8 123.4h-1.5M232.8 121.4h-1.5M232.8 119.7h-1.5M232.8 118.2h-1.5M232.8 116.9h-1.5M232.8 152.3h-1.5M232.8 149.5h-1.5M232.8 147.5h-1.5M232.8 146.0h-1.5M232.8 144.7h-1.5M232.8 143.7h-1.5M232.8 142.8h-1.5M232.8 142.0h-1.5" stroke="#333" stroke-width="0.7" fill="none"/></g>
<g><path d="M446.7 135.5h.01M428.2 131.9h.01M440.3 114.3h.01M479.2 120.2h.01M444.2 128.2h.01M465.3 117.6h.01M455.6 104.4h.01M438.4 111.9h.01M421.0 96.9h.01M415.7 114.7h.01M441.9 113.5h.01M446.2 99.3h.01M443.6 121.3h.01M458.5 106.2h.01M437.8 89.8h.01M435.9 87.2h.01M419.5 133.4h.01M405.4 129.2h.01M450.9 113.6h.01M453.3 125.4h.01M463.8 114.8h.01M434.3 109.5h.01M427.2 117.4h.01M430.9 133.0h.01M411.4 102.7h.01M427.8 88.7h.01M479.2 84.3h.01M439.9 110.6h.01M474.8 90.2h.01M464.3 107.8h.01M442.2 108.6h.01M456.5 102.1h.01M443.6 122.9h.01M478.1 84.3h.01M472.5 131.3h.01M436.3 122.3h.01M436.6 141.1h.01M448.8 115.0h.01M440.9 115.2h.01M441.8 105.7h.01M482.1 91.2h.01M442.4 123.2h.01M441.3 115.9h.01M451.0 131.6h.01M436.9 112.8h.01M479.9 125.4h.01M427.3 150.5h.01M459.0 109.8h.01M423.9 122.2h.01M430.0 103.2h.01M421.7 110.9h.01M464.9 111.9h.01M418.9 127.4h.01M446.2 129.8h.01" stroke="#4a4a4a" stroke-opacity="0.60" stroke-width="1" stroke-linecap="round" fill="none"/>
<path d="M477.0 82.0h.01M452.1 92.5h.01M436.2 106.7h.01M481.4 84.4h.01M449.6 90.9h.01M437.3 89.0h.01M444.3 86.0h.01M440.8 78.7h.01M461.8 90.1h.01M424.7 76.1h.01M459.0 103.5h.01M439.4 92.0h.01M446.8 102.6h.01M441.5 108.5h.01M452.8 103.6h.01M454.7 89.4h.01M424.6 95.0h.01M452.6 100.6h.01M457.0 83.1h.01M466.4 99.4h.01M450.6 88.5h.01M450.6 103.1h.01M461.6 78.7h.01M460.2 84.5h.01M445.5 110.0h.01M467.7 78.9h.01M458.4 96.6h.01M442.5 95.1h.01M460.8 68.9h.01M463.9 97.4h.01M459.4 74.7h.01M457.7 80.9h.01M468.0 94.4h.01M456.2 82.6h.01M447.1 104.9h.01M440.0 103.3h.01M463.6 85.6h.01M500.3 76.3h.01M416.5 117.5h.01M465.8 84.4h.01M446.8 72.7h.01M439.3 85.6h.01M454.2 102.7h.01M457.4 95.5h.01" stroke="#4a4a4a" stroke-opacity="0.60" stroke-width="1" stroke-linecap="round" fill="none"/>
<path d="M493.0 76.5h.01M501.1 77.7h.01M512.6 73.0h.01M518.9 72.2h.01M510.6 73.8h.01M516.5 81.1h.01M504.0 86.0h.01M493.7 71.7h.01M479.7 89.8h.01M493.0 75.3h.01M499.7 95.9h.01M482.7 82.0h.01M496.0 84.3h.01M482.0 76.8h.01" stroke="#4a4a4a" stroke-opacity="0.60" stroke-width="1" stroke-linecap="round" fill="none"/>
<path d="M420.4 108.9h.01M428.0 92.0h.01M412.5 97.2h.01M398.2 87.9h.01M419.6 99.7h.01M410.6 106.5h.01M402.0 101.7h.01M412.1 97.6h.01M416.9 99.2h.01M414.7 99.9h.01M431.4 95.8h.01M422.1 102.3h.01M408.5 103.6h.01M403.4 106.1h.01M403.9 94.6h.01M415.2 103.8h.01M421.1 104.3h.01M409.9 91.3h.01" stroke="#4a4a4a" stroke-opacity="0.60" stroke-width="1" stroke-linecap="round" fill="none"/>
<path d="M463.3 61.0V181.1M386.2 110.8H523.8" stroke="#222" stroke-width="1" fill="none" stroke-opacity="0.7"/>
<path d="M415.3 96.9C415.7 96.2 417.5 95.1 419.0 94.4C420.5 93.6 422.4 93.3 424.4 92.2C426.3 91.1 428.8 89.3 430.8 87.9C432.8 86.5 434.7 84.9 436.2 83.6C437.6 82.4 438.0 81.3 439.4 80.4C440.8 79.5 443.0 79.5 444.8 78.3C446.5 77.0 448.5 74.2 450.1 72.9C451.7 71.6 452.6 70.8 454.4 70.3C456.2 69.8 458.7 70.0 460.9 69.7C463.0 69.3 465.0 68.3 467.3 68.2C469.6 68.1 472.3 68.4 474.8 69.0C477.3 69.6 480.0 71.0 482.3 71.8C484.7 72.6 486.6 73.1 488.8 74.0C490.9 74.9 493.8 75.9 495.2 77.2C496.6 78.4 497.4 79.9 497.4 81.5C497.4 83.1 496.5 85.2 495.2 86.8C494.0 88.5 491.6 89.9 489.8 91.1C488.1 92.4 486.1 93.3 484.5 94.4C482.9 95.4 481.6 96.5 480.2 97.6C478.8 98.7 477.1 99.7 475.9 100.8C474.6 101.9 473.7 102.8 472.7 104.0C471.6 105.3 470.5 106.9 469.5 108.3C468.4 109.7 467.1 111.2 466.2 112.6C465.3 114.0 465.0 116.3 464.1 116.9C463.2 117.5 462.1 116.5 460.9 116.3C459.6 116.0 458.0 115.2 456.6 115.4C455.1 115.6 453.9 117.1 452.3 117.5C450.7 118.0 448.7 118.2 446.9 118.0C445.1 117.8 443.0 117.0 441.5 116.3C440.1 115.5 439.7 114.0 438.3 113.3C436.9 112.5 434.7 112.3 432.9 112.0C431.2 111.6 429.1 111.6 427.6 111.1C426.1 110.6 424.8 110.1 423.9 109.0C423.0 107.8 422.7 105.6 422.2 104.0C421.7 102.5 422.0 100.6 421.1 99.7C420.2 98.8 417.8 99.1 416.8 98.7C415.9 98.2 415.0 97.6 415.3 96.9Z" fill="#0430f5" stroke="#000" stroke-opacity="0.75" stroke-width="0.45"/>
<path d="M422.2 97.6C422.9 96.3 425.8 95.6 427.6 94.4C429.4 93.1 431.2 91.5 432.9 90.1C434.7 88.6 436.5 87.2 438.3 85.8C440.1 84.3 441.7 83.0 443.7 81.5C445.7 80.0 448.0 78.1 450.1 76.7C452.3 75.4 454.2 74.1 456.6 73.3C458.9 72.5 461.6 72.2 464.1 71.8C466.6 71.5 469.1 70.9 471.6 71.2C474.1 71.4 476.8 72.5 479.1 73.3C481.4 74.1 483.6 75.1 485.6 76.1C487.5 77.1 489.8 78.1 490.9 79.3C492.0 80.6 492.5 82.2 492.0 83.6C491.5 85.1 489.3 86.6 487.7 87.9C486.1 89.3 484.1 90.4 482.3 91.8C480.5 93.1 478.6 94.8 477.0 96.1C475.4 97.4 474.1 98.4 472.7 99.7C471.2 101.0 469.6 102.6 468.4 104.0C467.1 105.5 466.2 107.1 465.2 108.3C464.1 109.6 463.4 110.8 461.9 111.5C460.5 112.3 458.4 112.3 456.6 112.6C454.8 113.0 453.0 113.5 451.2 113.7C449.4 113.9 447.6 114.0 445.8 113.7C444.0 113.3 442.3 112.2 440.5 111.5C438.7 110.9 436.9 110.4 435.1 109.8C433.3 109.3 431.3 108.9 429.7 108.3C428.1 107.7 426.5 107.2 425.4 106.2C424.4 105.1 423.8 103.3 423.3 101.9C422.7 100.4 421.5 98.8 422.2 97.6Z" fill="#12dcff" stroke="#000" stroke-opacity="0.75" stroke-width="0.45"/>
<path d="M396.4 100.8C396.4 101.0 396.4 101.3 396.2 101.5C396.0 101.6 395.6 101.7 395.2 101.8C394.9 101.8 394.5 102.0 394.2 101.9C393.8 101.8 393.5 101.6 393.4 101.4C393.2 101.2 393.1 101.0 393.1 100.8C393.1 100.6 393.3 100.4 393.5 100.2C393.6 100.0 393.8 99.7 394.1 99.7C394.4 99.6 394.9 99.7 395.2 99.8C395.6 99.9 395.9 100.0 396.1 100.2C396.3 100.3 396.4 100.6 396.4 100.8Z" fill="#0430f5" stroke="#000" stroke-opacity="0.75" stroke-width="0.45"/>
<path d="M412.7 106.2C412.7 106.4 412.7 106.8 412.5 107.0C412.3 107.2 411.8 107.3 411.4 107.3C411.0 107.4 410.6 107.4 410.2 107.4C409.9 107.3 409.4 107.2 409.1 107.0C408.9 106.8 408.8 106.4 408.8 106.2C408.9 105.9 409.2 105.7 409.5 105.5C409.7 105.3 409.9 105.0 410.2 104.9C410.6 104.8 411.1 104.8 411.4 104.9C411.8 105.0 412.2 105.2 412.4 105.4C412.6 105.6 412.7 105.9 412.7 106.2Z" fill="#0430f5" stroke="#000" stroke-opacity="0.75" stroke-width="0.45"/>
<path d="M488.6 93.7C488.7 93.8 488.5 94.1 488.4 94.4C488.2 94.6 487.8 94.9 487.5 95.1C487.2 95.4 486.8 95.7 486.5 95.8C486.1 96.0 485.6 96.1 485.4 96.1C485.1 96.1 484.9 96.0 484.8 95.8C484.7 95.7 484.7 95.5 484.8 95.2C484.9 95.0 485.2 94.6 485.6 94.4C485.9 94.1 486.4 94.0 486.8 93.8C487.2 93.7 487.6 93.5 487.9 93.5C488.2 93.5 488.5 93.5 488.6 93.7Z" fill="#0430f5" stroke="#000" stroke-opacity="0.75" stroke-width="0.45"/>
<path d="M429.7 104.0C429.9 102.6 431.5 100.4 432.9 98.7C434.4 96.9 436.5 95.1 438.3 93.3C440.1 91.5 441.9 89.7 443.7 87.9C445.5 86.1 447.3 84.2 449.1 82.5C450.8 80.9 452.5 79.5 454.4 78.3C456.4 77.0 458.5 75.9 460.9 75.0C463.2 74.2 465.9 73.6 468.4 73.3C470.9 73.0 473.6 73.0 475.9 73.3C478.2 73.7 480.4 74.6 482.3 75.5C484.3 76.3 486.3 77.2 487.7 78.3C489.1 79.3 490.5 80.6 490.5 81.9C490.5 83.2 489.0 84.8 487.7 86.2C486.4 87.6 484.4 88.7 482.8 90.1C481.1 91.4 479.2 93.0 477.6 94.4C476.0 95.7 474.7 96.9 473.3 98.2C471.9 99.6 470.4 101.1 469.0 102.5C467.7 103.9 466.3 105.5 465.2 106.8C464.0 108.1 463.4 109.7 461.9 110.5C460.5 111.2 458.4 111.2 456.6 111.5C454.8 111.9 453.0 112.4 451.2 112.6C449.4 112.8 447.5 113.0 445.8 112.6C444.1 112.3 442.7 111.1 441.1 110.5C439.5 109.9 437.7 109.5 436.2 109.0C434.6 108.4 432.9 108.1 431.9 107.2C430.8 106.4 429.5 105.5 429.7 104.0Z" fill="#00c8a0" stroke="#000" stroke-opacity="0.75" stroke-width="0.45"/>
<path d="M489.2 78.5C489.2 79.1 489.3 79.7 489.2 80.3C489.2 80.9 489.1 81.4 489.0 82.1C488.9 82.7 488.9 83.6 488.4 84.2C487.9 84.7 486.6 84.9 485.9 85.3C485.1 85.8 484.6 86.5 483.8 86.8C483.0 87.2 482.0 87.5 481.2 87.4C480.5 87.4 479.9 86.8 479.3 86.5C478.7 86.2 478.1 86.0 477.6 85.7C477.1 85.4 476.8 84.9 476.3 84.5C475.9 84.0 474.8 83.6 474.8 83.0C474.9 82.4 476.0 81.5 476.5 80.9C476.9 80.2 477.2 79.6 477.7 79.0C478.2 78.5 478.7 77.8 479.4 77.3C480.1 76.9 481.0 76.7 481.8 76.5C482.6 76.3 483.3 76.3 484.1 76.2C484.9 76.1 485.8 75.9 486.6 75.9C487.4 76.0 488.4 76.0 488.8 76.5C489.3 76.9 489.1 77.9 489.2 78.5Z" fill="#2ce8a4" stroke="#000" stroke-opacity="0.75" stroke-width="0.30"/>
<path d="M431.7 103.3C431.9 101.9 433.4 99.9 434.7 98.3C436.1 96.6 438.0 94.9 439.7 93.3C441.4 91.6 443.0 90.0 444.7 88.3C446.4 86.6 448.0 84.8 449.7 83.3C451.4 81.8 452.9 80.5 454.7 79.3C456.5 78.1 458.5 77.1 460.7 76.3C462.8 75.5 465.3 75.0 467.7 74.7C470.0 74.4 472.5 74.4 474.7 74.7C476.8 75.0 478.8 75.9 480.7 76.7C482.5 77.5 484.4 78.3 485.6 79.3C486.9 80.3 488.2 81.5 488.2 82.7C488.2 83.9 486.8 85.4 485.6 86.7C484.4 88.0 482.6 89.0 481.1 90.3C479.5 91.6 477.7 93.0 476.3 94.3C474.8 95.5 473.6 96.6 472.3 97.9C470.9 99.1 469.5 100.5 468.3 101.9C467.0 103.2 465.8 104.6 464.7 105.9C463.6 107.1 463.0 108.5 461.7 109.3C460.3 110.0 458.4 109.9 456.7 110.3C455.0 110.6 453.4 111.1 451.7 111.3C450.0 111.4 448.3 111.6 446.7 111.3C445.1 110.9 443.8 109.8 442.3 109.3C440.8 108.7 439.1 108.4 437.7 107.9C436.3 107.4 434.7 107.0 433.7 106.3C432.7 105.5 431.6 104.6 431.7 103.3Z" fill="#08c818" stroke="#000" stroke-opacity="0.75" stroke-width="0.45"/>
<path d="M485.8 79.8C486.1 80.0 486.0 80.5 485.9 80.9C485.8 81.3 485.4 81.7 485.2 82.1C485.0 82.5 485.0 83.0 484.7 83.4C484.4 83.7 483.7 84.0 483.2 84.2C482.7 84.5 482.2 84.7 481.8 84.8C481.3 84.9 480.9 84.7 480.3 84.8C479.8 85.0 479.1 85.5 478.6 85.5C478.1 85.5 477.5 85.3 477.3 85.0C477.1 84.7 477.3 84.1 477.3 83.8C477.2 83.4 476.9 83.2 476.9 82.8C476.9 82.5 477.0 82.1 477.2 81.7C477.4 81.3 477.7 80.9 478.0 80.6C478.4 80.2 478.9 80.0 479.4 79.7C479.8 79.4 480.2 78.8 480.7 78.6C481.2 78.4 481.9 78.2 482.4 78.3C482.9 78.3 483.2 78.6 483.6 78.8C483.9 79.0 484.0 79.3 484.4 79.4C484.8 79.6 485.5 79.5 485.8 79.8Z" fill="#2ce8a4" stroke="#000" stroke-opacity="0.75" stroke-width="0.30"/>
<path d="M434.9 102.1C435.0 100.9 436.3 99.2 437.5 97.7C438.7 96.2 440.4 94.8 441.9 93.3C443.4 91.8 444.8 90.3 446.3 88.9C447.8 87.4 449.2 85.8 450.7 84.5C452.2 83.2 453.5 82.0 455.1 81.0C456.7 79.9 458.5 79.0 460.4 78.3C462.3 77.6 464.5 77.1 466.6 76.9C468.6 76.7 470.8 76.6 472.7 76.9C474.6 77.2 476.4 78.0 478.0 78.7C479.6 79.3 481.3 80.1 482.4 81.0C483.5 81.8 484.7 82.9 484.7 84.0C484.7 85.0 483.5 86.4 482.4 87.5C481.4 88.6 479.7 89.5 478.4 90.6C477.0 91.8 475.4 93.0 474.1 94.2C472.8 95.3 471.8 96.2 470.6 97.3C469.4 98.4 468.2 99.7 467.1 100.9C466.0 102.0 464.9 103.3 463.9 104.4C463.0 105.5 462.5 106.7 461.3 107.4C460.1 108.0 458.3 108.0 456.9 108.2C455.4 108.5 453.9 109.0 452.5 109.1C451.0 109.3 449.5 109.4 448.1 109.1C446.7 108.8 445.5 107.9 444.2 107.4C442.9 106.9 441.4 106.6 440.1 106.1C438.9 105.7 437.5 105.4 436.6 104.7C435.7 104.1 434.7 103.3 434.9 102.1Z" fill="none" stroke="#000" stroke-opacity="0.70" stroke-width="0.40"/>
<path d="M438.3 100.8C438.4 99.8 439.5 98.3 440.5 97.0C441.5 95.8 443.1 94.5 444.3 93.3C445.6 92.0 446.8 90.8 448.1 89.5C449.3 88.3 450.6 86.9 451.8 85.8C453.1 84.6 454.2 83.6 455.6 82.8C457.0 81.9 458.5 81.1 460.1 80.5C461.7 79.9 463.6 79.5 465.3 79.3C467.1 79.1 469.0 79.1 470.6 79.3C472.2 79.6 473.7 80.2 475.1 80.8C476.5 81.4 477.9 82.0 478.9 82.8C479.8 83.5 480.8 84.4 480.8 85.3C480.8 86.2 479.8 87.4 478.9 88.3C478.0 89.3 476.6 90.1 475.4 91.0C474.2 92.0 472.9 93.1 471.8 94.0C470.7 95.0 469.8 95.8 468.8 96.7C467.8 97.7 466.8 98.7 465.8 99.7C464.8 100.7 463.9 101.8 463.1 102.8C462.3 103.7 461.8 104.8 460.8 105.3C459.8 105.9 458.3 105.8 457.1 106.1C455.8 106.3 454.6 106.7 453.3 106.8C452.1 106.9 450.7 107.1 449.6 106.8C448.4 106.6 447.4 105.7 446.3 105.3C445.1 104.9 443.9 104.6 442.8 104.3C441.7 103.9 440.5 103.6 439.8 103.1C439.0 102.5 438.2 101.8 438.3 100.8Z" fill="none" stroke="#000" stroke-opacity="0.70" stroke-width="0.40"/>
<path d="M467.2 83.7C467.6 84.4 467.6 85.4 468.0 86.2C468.4 86.9 469.4 87.4 469.5 88.3C469.7 89.2 469.2 90.5 468.8 91.7C468.4 92.8 468.0 94.1 467.3 95.2C466.5 96.3 465.1 97.3 464.1 98.3C463.1 99.2 462.2 99.9 461.2 100.8C460.2 101.7 459.3 102.9 458.2 103.7C457.2 104.6 455.8 105.6 454.7 105.9C453.6 106.2 452.7 105.7 451.7 105.7C450.7 105.7 449.5 106.0 448.6 105.8C447.8 105.5 447.3 104.8 446.7 104.2C446.1 103.7 445.3 103.2 445.0 102.4C444.7 101.6 444.9 100.4 445.1 99.3C445.4 98.2 446.1 97.0 446.5 95.9C446.9 94.8 447.2 93.9 447.6 92.7C448.0 91.6 448.2 90.1 449.0 89.0C449.7 88.0 451.2 87.1 452.3 86.2C453.4 85.3 454.6 84.4 455.7 83.9C456.9 83.3 458.0 83.4 459.1 83.1C460.2 82.8 461.2 82.4 462.3 82.2C463.3 82.0 464.5 81.8 465.4 82.1C466.2 82.3 466.7 83.1 467.2 83.7Z" fill="#7ee000" stroke="#000" stroke-opacity="0.75" stroke-width="0.45"/>
<path d="M466.2 84.8C466.7 85.2 467.1 85.8 467.6 86.4C468.0 87.0 469.0 87.5 469.0 88.4C468.9 89.3 467.6 90.7 467.1 91.8C466.7 92.9 466.7 93.9 466.2 94.9C465.6 96.0 464.7 97.0 463.8 98.0C463.0 99.0 462.1 100.1 461.1 100.8C460.1 101.6 459.0 102.0 457.9 102.5C456.9 103.0 455.9 103.6 454.9 103.9C454.0 104.2 453.2 104.1 452.1 104.5C451.0 104.8 449.3 106.0 448.5 105.9C447.7 105.7 447.5 104.5 447.1 103.8C446.8 103.1 446.3 102.5 446.2 101.6C446.1 100.8 446.4 99.7 446.5 98.8C446.6 97.9 446.4 97.0 446.7 96.1C447.0 95.1 447.6 94.0 448.2 93.0C448.7 91.9 449.3 90.7 450.1 89.8C451.0 88.9 452.2 88.5 453.2 87.5C454.2 86.6 454.9 85.0 455.9 84.3C456.9 83.5 458.2 83.3 459.2 83.1C460.3 82.8 461.4 82.6 462.2 82.7C463.0 82.9 463.5 83.6 464.1 83.9C464.8 84.3 465.6 84.4 466.2 84.8Z" fill="none" stroke="#000" stroke-opacity="0.60" stroke-width="0.35"/>
<path d="M466.1 84.8C466.6 85.2 466.2 86.5 466.2 87.3C466.3 88.1 466.4 88.7 466.3 89.5C466.2 90.3 466.1 91.1 465.8 92.0C465.6 92.8 465.2 93.7 464.8 94.7C464.4 95.6 464.1 96.8 463.4 97.7C462.7 98.6 461.5 99.5 460.6 100.0C459.6 100.6 458.6 100.5 457.7 101.0C456.7 101.5 455.8 102.7 455.0 103.1C454.1 103.5 453.2 103.5 452.4 103.6C451.6 103.6 450.8 103.6 450.2 103.4C449.5 103.2 448.8 103.0 448.4 102.5C448.1 102.0 448.1 101.1 447.9 100.5C447.6 99.9 447.0 99.5 446.9 98.7C446.7 98.0 446.6 97.0 447.0 96.1C447.5 95.2 449.0 94.1 449.8 93.2C450.5 92.3 450.8 91.5 451.4 90.6C452.0 89.8 452.8 89.0 453.6 88.2C454.4 87.4 455.3 86.6 456.2 86.0C457.2 85.3 458.3 84.4 459.1 84.2C460.0 83.9 460.8 84.3 461.5 84.4C462.2 84.5 462.8 84.8 463.5 84.8C464.3 84.9 465.7 84.4 466.1 84.8Z" fill="#f0f000" stroke="#000" stroke-opacity="0.75" stroke-width="0.45"/>
<path d="M464.3 86.6C464.7 87.0 464.9 87.5 465.2 88.0C465.4 88.5 465.7 89.0 465.9 89.6C466.1 90.2 466.6 90.9 466.4 91.7C466.2 92.5 465.5 93.7 464.7 94.5C464.0 95.4 462.6 95.9 461.8 96.7C461.0 97.5 460.7 98.4 460.0 99.2C459.3 99.9 458.4 100.4 457.6 101.0C456.7 101.5 455.8 101.9 455.0 102.2C454.2 102.5 453.4 102.8 452.7 102.8C452.0 102.8 451.5 102.5 450.8 102.4C450.1 102.3 449.2 102.5 448.6 102.3C448.0 102.1 447.0 101.9 447.0 101.2C447.1 100.4 448.3 98.9 448.7 98.0C449.1 97.1 449.1 96.5 449.4 95.7C449.6 95.0 449.9 94.2 450.2 93.4C450.6 92.6 451.0 91.7 451.6 90.8C452.1 89.9 452.9 88.8 453.7 88.2C454.5 87.5 455.6 87.2 456.4 86.8C457.3 86.4 458.0 86.3 458.9 85.9C459.8 85.5 461.0 84.3 461.7 84.2C462.5 84.1 462.8 84.9 463.3 85.3C463.7 85.7 464.0 86.1 464.3 86.6Z" fill="none" stroke="#000" stroke-opacity="0.60" stroke-width="0.35"/>
<path d="M463.4 86.8C463.7 87.2 464.1 87.4 464.3 87.8C464.5 88.2 464.4 88.8 464.6 89.3C464.7 89.8 465.2 90.2 465.1 90.9C464.9 91.6 464.4 92.6 463.8 93.4C463.2 94.2 462.4 94.9 461.7 95.5C461.1 96.2 460.5 96.9 459.9 97.5C459.3 98.1 458.6 98.6 457.9 99.1C457.2 99.5 456.6 99.9 455.9 100.3C455.2 100.7 454.4 101.2 453.8 101.4C453.2 101.5 452.8 101.2 452.3 101.2C451.7 101.2 450.9 101.4 450.5 101.2C450.0 101.0 449.6 100.6 449.6 100.1C449.5 99.5 450.1 98.4 450.3 97.7C450.6 97.0 450.8 96.3 451.1 95.6C451.3 94.9 451.6 94.3 451.9 93.6C452.3 92.9 452.7 92.2 453.2 91.4C453.6 90.7 454.0 89.7 454.7 89.0C455.3 88.3 456.2 87.9 456.9 87.4C457.6 87.0 458.3 86.7 459.0 86.3C459.7 86.0 460.5 85.5 461.1 85.4C461.7 85.4 462.1 85.7 462.5 86.0C462.9 86.2 463.1 86.5 463.4 86.8Z" fill="#ff9a00" stroke="#000" stroke-opacity="0.75" stroke-width="0.45"/>
<path d="M463.7 86.5C464.0 86.8 464.7 86.9 464.6 87.5C464.5 88.0 463.5 89.3 463.3 89.9C463.1 90.6 463.3 90.9 463.3 91.5C463.2 92.0 463.0 92.6 462.8 93.3C462.5 94.0 462.1 94.8 461.6 95.5C461.1 96.1 460.4 96.7 459.7 97.3C459.1 97.9 458.5 98.8 457.8 99.2C457.2 99.6 456.6 99.6 455.9 99.9C455.3 100.2 454.4 101.1 453.9 101.1C453.4 101.1 453.3 100.3 453.0 100.1C452.7 99.8 452.3 99.7 452.0 99.5C451.6 99.4 451.2 99.2 450.9 99.0C450.6 98.7 450.0 98.5 450.0 98.0C449.9 97.5 450.4 96.6 450.7 95.9C451.0 95.1 451.2 94.4 451.7 93.7C452.2 93.0 453.3 92.5 453.9 91.8C454.4 91.2 454.6 90.3 455.2 89.7C455.7 89.2 456.4 88.7 457.1 88.3C457.7 87.9 458.3 87.5 458.9 87.2C459.5 86.9 460.1 86.8 460.7 86.5C461.3 86.2 462.2 85.6 462.8 85.6C463.3 85.6 463.4 86.2 463.7 86.5Z" fill="none" stroke="#000" stroke-opacity="0.60" stroke-width="0.35"/>
<path d="M463.0 87.6C463.2 87.8 463.2 88.3 463.2 88.6C463.3 88.9 463.6 89.1 463.4 89.6C463.3 90.0 462.7 90.8 462.4 91.3C462.1 91.8 461.9 92.2 461.7 92.7C461.5 93.2 461.5 93.8 461.2 94.3C460.9 94.9 460.4 95.6 459.9 96.1C459.4 96.6 458.8 97.0 458.3 97.3C457.8 97.6 457.3 98.0 456.9 98.2C456.5 98.4 456.3 98.2 455.9 98.3C455.5 98.4 454.8 99.0 454.5 99.1C454.1 99.1 453.9 98.9 453.7 98.7C453.6 98.5 453.7 98.0 453.6 97.7C453.5 97.4 453.3 97.3 453.2 96.9C453.1 96.6 453.0 96.2 453.2 95.7C453.4 95.2 453.9 94.5 454.3 93.9C454.6 93.4 455.0 92.7 455.5 92.3C456.0 91.8 456.6 91.5 457.0 91.1C457.5 90.7 457.8 90.1 458.2 89.6C458.7 89.1 459.3 88.4 459.7 88.1C460.2 87.7 460.7 87.6 461.1 87.6C461.4 87.5 461.7 87.5 462.1 87.5C462.4 87.6 462.8 87.4 463.0 87.6Z" fill="#ff2a00" stroke="#000" stroke-opacity="0.75" stroke-width="0.45"/>
<path d="M469.5 84.7C469.5 85.0 469.7 85.3 469.6 85.5C469.4 85.7 468.9 85.8 468.6 86.0C468.3 86.2 468.1 86.5 467.8 86.6C467.4 86.8 466.9 86.9 466.5 86.9C466.0 86.9 465.5 86.8 465.1 86.7C464.7 86.7 464.4 86.5 464.1 86.4C463.7 86.3 463.2 86.2 462.8 86.1C462.5 85.9 462.1 85.7 461.9 85.5C461.8 85.3 461.8 84.9 461.9 84.7C462.0 84.5 462.2 84.2 462.3 84.0C462.5 83.8 462.6 83.5 462.9 83.3C463.1 83.1 463.5 82.9 463.9 82.8C464.3 82.7 464.8 82.9 465.2 82.8C465.6 82.7 466.1 82.5 466.5 82.5C466.9 82.5 467.5 82.6 467.8 82.7C468.2 82.9 468.5 83.1 468.7 83.3C468.9 83.6 469.0 83.8 469.1 84.0C469.3 84.3 469.4 84.5 469.5 84.7Z" fill="none" stroke="#000" stroke-opacity="0.65" stroke-width="0.40"/>
<path d="M449.5 90.7C449.3 90.5 449.6 89.9 449.7 89.5C449.7 89.1 449.7 88.8 449.8 88.4C449.9 88.0 450.1 87.6 450.4 87.2C450.7 86.8 451.2 86.4 451.5 86.1C451.9 85.7 452.2 85.2 452.6 84.9C453.0 84.6 453.5 84.3 454.0 84.0C454.4 83.7 455.1 83.2 455.5 83.2C455.9 83.1 456.1 83.5 456.3 83.7C456.5 83.9 456.7 84.1 456.9 84.3C457.0 84.5 457.2 84.7 457.3 84.9C457.4 85.2 457.5 85.5 457.4 85.9C457.3 86.3 457.0 86.7 456.7 87.2C456.5 87.6 456.2 88.1 455.9 88.5C455.5 88.9 455.0 89.4 454.5 89.6C454.1 89.9 453.6 89.9 453.2 90.1C452.7 90.2 452.3 90.4 452.0 90.5C451.6 90.6 451.2 90.6 450.8 90.6C450.4 90.7 449.7 90.9 449.5 90.7Z" fill="none" stroke="#000" stroke-opacity="0.65" stroke-width="0.40"/>
<path d="M457.7 104.4C457.4 104.3 457.2 104.2 456.9 104.0C456.7 103.8 456.4 103.6 456.2 103.2C456.1 102.8 456.0 102.3 455.9 101.8C455.8 101.3 455.9 100.8 455.9 100.3C455.9 99.8 455.9 99.3 455.9 98.7C456.0 98.2 456.0 97.4 456.2 97.0C456.4 96.5 456.8 96.2 457.1 96.0C457.4 95.8 457.7 95.8 458.0 95.7C458.3 95.6 458.5 95.5 458.8 95.5C459.1 95.4 459.5 95.1 459.7 95.3C460.0 95.5 460.0 96.2 460.2 96.6C460.4 97.0 460.7 97.2 460.8 97.7C460.9 98.1 461.0 98.8 461.0 99.3C460.9 99.8 460.7 100.4 460.6 100.9C460.4 101.4 460.2 101.8 460.0 102.2C459.8 102.6 459.6 102.8 459.4 103.3C459.1 103.7 458.9 104.7 458.6 104.9C458.4 105.1 458.0 104.6 457.7 104.4Z" fill="none" stroke="#000" stroke-opacity="0.65" stroke-width="0.40"/>
<path d="M459.9 91.8C459.5 92.0 459.0 91.9 458.6 92.0C458.3 92.1 457.9 92.2 457.5 92.3C457.2 92.4 456.7 92.5 456.2 92.4C455.8 92.3 455.3 92.0 455.0 91.7C454.6 91.4 454.4 90.9 454.1 90.5C453.9 90.1 453.4 89.7 453.3 89.3C453.3 88.9 453.7 88.5 453.8 88.0C453.8 87.6 453.7 87.2 453.9 86.8C454.0 86.5 454.3 86.2 454.5 85.9C454.8 85.6 454.9 85.0 455.3 84.8C455.6 84.6 456.2 84.5 456.6 84.7C457.1 84.8 457.5 85.4 457.9 85.6C458.3 85.8 458.8 85.7 459.2 86.0C459.5 86.2 459.7 86.8 459.9 87.1C460.2 87.5 460.5 87.9 460.7 88.3C460.9 88.7 461.0 89.2 461.0 89.6C461.0 90.1 461.1 90.6 460.9 91.0C460.7 91.4 460.3 91.7 459.9 91.8Z" fill="none" stroke="#000" stroke-opacity="0.65" stroke-width="0.40"/>
<path d="M471.5 87.0C471.3 87.3 470.9 87.4 470.6 87.6C470.3 87.8 470.3 88.1 469.9 88.2C469.5 88.3 468.7 88.1 468.1 88.0C467.6 88.0 467.1 87.9 466.6 87.8C466.0 87.6 465.6 87.4 465.0 87.2C464.4 87.1 463.5 87.1 463.0 86.8C462.5 86.6 462.1 86.1 461.9 85.8C461.7 85.5 461.9 85.2 461.9 84.9C461.9 84.6 461.8 84.4 461.8 84.1C461.9 83.9 461.8 83.6 462.1 83.4C462.3 83.2 462.8 83.1 463.2 83.0C463.6 82.9 464.1 83.0 464.6 82.9C465.1 82.9 465.6 82.6 466.2 82.7C466.7 82.8 467.4 83.3 467.9 83.5C468.4 83.8 468.8 84.1 469.2 84.4C469.5 84.7 469.6 84.9 469.9 85.2C470.3 85.5 471.3 85.9 471.6 86.2C471.8 86.5 471.6 86.8 471.5 87.0Z" fill="none" stroke="#000" stroke-opacity="0.65" stroke-width="0.40"/>
<path d="M469.4 87.0C469.3 87.1 469.2 87.3 469.0 87.4C468.8 87.5 468.4 87.4 468.1 87.4C467.8 87.3 467.5 87.2 467.1 87.1C466.8 87.0 466.4 86.8 466.0 86.6C465.7 86.4 465.1 86.3 464.8 86.0C464.5 85.8 464.4 85.3 464.2 85.0C464.0 84.7 463.9 84.5 463.8 84.2C463.7 83.9 463.4 83.6 463.3 83.4C463.3 83.1 463.2 82.8 463.4 82.6C463.5 82.5 463.8 82.5 464.1 82.4C464.3 82.4 464.6 82.3 464.8 82.3C465.1 82.3 465.5 82.3 465.8 82.5C466.2 82.6 466.6 82.9 467.0 83.2C467.3 83.4 467.6 83.7 467.9 83.9C468.2 84.2 468.5 84.4 468.8 84.7C469.1 85.0 469.7 85.4 469.8 85.7C469.9 86.0 469.6 86.1 469.5 86.3C469.5 86.6 469.5 86.8 469.4 87.0Z" fill="none" stroke="#000" stroke-opacity="0.65" stroke-width="0.40"/>
<path d="M457.5 91.6C457.4 91.9 457.3 92.3 457.0 92.5C456.8 92.7 456.4 92.9 455.9 92.9C455.5 92.9 454.8 92.7 454.3 92.5C453.7 92.3 453.1 92.0 452.6 91.7C452.0 91.4 451.4 91.0 451.0 90.6C450.6 90.2 450.7 89.6 450.4 89.1C450.1 88.7 449.6 88.3 449.3 87.8C449.0 87.4 448.8 86.9 448.7 86.5C448.6 86.0 448.5 85.5 448.7 85.2C448.9 84.9 449.5 84.9 450.0 84.9C450.4 84.8 451.0 85.0 451.5 85.1C452.0 85.1 452.4 84.9 452.9 85.1C453.4 85.3 453.9 85.8 454.4 86.1C454.9 86.4 455.5 86.6 456.0 87.0C456.6 87.3 457.2 87.8 457.6 88.3C458.0 88.7 458.3 89.3 458.4 89.8C458.4 90.2 458.1 90.5 457.9 90.8C457.8 91.1 457.7 91.3 457.5 91.6Z" fill="none" stroke="#000" stroke-opacity="0.65" stroke-width="0.40"/>
<rect x="386.2" y="61.0" width="137.6" height="120.1" fill="none" stroke="#2a2a2a" stroke-width="1.1"/>
<path d="M463.3 61.0V181.1M386.2 110.8H523.8" stroke="#111" stroke-width="1" fill="none" stroke-opacity="0.38"/>
<text transform="translate(398.9,192.2) scale(1.00,1)" class="tk" text-anchor="middle">0</text>
<text transform="translate(427.7,192.3) scale(0.82,1)" class="tk" text-anchor="end">10</text>
<text transform="translate(428.3,190.0) scale(0.85,1)" class="tk" text-anchor="start">3</text>
<text transform="translate(457.8,192.3) scale(0.82,1)" class="tk" text-anchor="end">10</text>
<text transform="translate(458.4,190.0) scale(0.85,1)" class="tk" text-anchor="start">4</text>
<text transform="translate(488.1,192.3) scale(0.82,1)" class="tk" text-anchor="end">10</text>
<text transform="translate(488.7,190.0) scale(0.85,1)" class="tk" text-anchor="start">5</text>
<text transform="translate(518.6,192.3) scale(0.82,1)" class="tk" text-anchor="end">10</text>
<text transform="translate(519.2,190.0) scale(0.85,1)" class="tk" text-anchor="start">6</text>
<text transform="translate(378.4,67.7) scale(0.82,1)" class="tk" text-anchor="end">10</text>
<text transform="translate(378.9,65.4) scale(0.85,1)" class="tk" text-anchor="start">6</text>
<text transform="translate(378.4,94.2) scale(0.82,1)" class="tk" text-anchor="end">10</text>
<text transform="translate(378.9,91.9) scale(0.85,1)" class="tk" text-anchor="start">5</text>
<text transform="translate(378.4,120.5) scale(0.82,1)" class="tk" text-anchor="end">10</text>
<text transform="translate(378.9,118.2) scale(0.85,1)" class="tk" text-anchor="start">4</text>
<text transform="translate(378.4,145.9) scale(0.82,1)" class="tk" text-anchor="end">10</text>
<text transform="translate(378.9,143.6) scale(0.85,1)" class="tk" text-anchor="start">3</text>
<text transform="translate(382.5,171.2) scale(1.00,1)" class="tk" text-anchor="end">0</text>
<path d="M398.9 181.1v2.6M431.5 181.1v2.6M410.7 181.1v2.2M461.6 181.1v2.6M491.9 181.1v2.6M522.4 181.1v2.6M386.2 63.0h-2.6M386.2 89.5h-2.6M386.2 115.8h-2.6M386.2 141.2h-2.6M386.2 157.1h-2.2M386.2 168.7h-2.6" stroke="#333" stroke-width="0.8" fill="none"/>
<path d="M416.9 181.1v1.5M420.6 181.1v1.5M423.2 181.1v1.5M425.2 181.1v1.5M426.9 181.1v1.5M428.3 181.1v1.5M429.5 181.1v1.5M430.5 181.1v1.5M440.5 181.1v1.5M445.8 181.1v1.5M449.6 181.1v1.5M452.5 181.1v1.5M454.9 181.1v1.5M456.9 181.1v1.5M458.7 181.1v1.5M460.2 181.1v1.5M470.7 181.1v1.5M476.0 181.1v1.5M479.8 181.1v1.5M482.8 181.1v1.5M485.2 181.1v1.5M487.2 181.1v1.5M488.9 181.1v1.5M490.5 181.1v1.5M501.1 181.1v1.5M506.5 181.1v1.5M510.3 181.1v1.5M513.2 181.1v1.5M515.6 181.1v1.5M517.7 181.1v1.5M519.5 181.1v1.5M521.0 181.1v1.5M386.2 81.5h-1.5M386.2 76.9h-1.5M386.2 73.6h-1.5M386.2 71.0h-1.5M386.2 68.9h-1.5M386.2 67.1h-1.5M386.2 65.6h-1.5M386.2 64.3h-1.5M386.2 107.8h-1.5M386.2 103.2h-1.5M386.2 99.9h-1.5M386.2 97.4h-1.5M386.2 95.3h-1.5M386.2 93.5h-1.5M386.2 92.0h-1.5M386.2 90.7h-1.5M386.2 133.6h-1.5M386.2 129.1h-1.5M386.2 125.9h-1.5M386.2 123.4h-1.5M386.2 121.4h-1.5M386.2 119.7h-1.5M386.2 118.2h-1.5M386.2 116.9h-1.5M386.2 152.3h-1.5M386.2 149.5h-1.5M386.2 147.5h-1.5M386.2 146.0h-1.5M386.2 144.7h-1.5M386.2 143.7h-1.5M386.2 142.8h-1.5M386.2 142.0h-1.5" stroke="#333" stroke-width="0.7" fill="none"/></g>
<g><path d="M151.5 258.1h.01M136.0 262.8h.01M177.5 246.9h.01M190.0 223.6h.01M146.6 243.7h.01M123.9 260.2h.01M156.6 255.4h.01M174.0 273.8h.01M165.8 223.4h.01M151.0 243.0h.01M139.1 274.9h.01M131.9 232.2h.01M155.8 245.8h.01M108.7 256.0h.01M129.3 260.2h.01M135.7 259.0h.01M198.6 221.3h.01M122.8 259.7h.01M177.1 231.4h.01M184.2 220.0h.01M117.1 264.7h.01M119.4 255.9h.01M164.9 256.3h.01M150.0 248.3h.01M189.8 241.7h.01M146.9 270.5h.01M122.1 265.8h.01M167.5 245.0h.01M132.7 264.1h.01M129.1 252.3h.01M124.0 281.0h.01M137.3 273.5h.01M158.0 245.3h.01M169.1 248.3h.01M145.2 234.8h.01M154.5 262.9h.01M167.3 259.2h.01M194.2 240.1h.01M199.2 211.1h.01M128.6 225.5h.01M172.8 244.3h.01M196.3 228.3h.01M94.1 292.7h.01M102.0 253.8h.01M145.8 262.7h.01M133.8 261.3h.01M100.6 296.4h.01M146.6 255.3h.01M166.2 248.0h.01M149.4 239.4h.01M146.8 259.6h.01M178.4 239.0h.01M152.4 256.0h.01M166.0 248.6h.01M138.0 249.9h.01M182.8 243.1h.01M165.5 294.7h.01M178.3 252.7h.01M147.6 238.9h.01M181.3 238.3h.01M154.6 264.7h.01M179.4 243.7h.01M158.8 278.1h.01M160.0 233.8h.01M171.0 245.8h.01M152.3 260.8h.01M164.7 274.4h.01M155.3 253.6h.01M179.7 232.3h.01M177.8 240.1h.01M179.0 228.6h.01M152.7 228.7h.01M135.0 258.5h.01M172.3 270.9h.01M196.0 214.8h.01M131.6 277.2h.01M154.4 231.3h.01M156.9 233.6h.01M116.4 248.1h.01M151.2 283.2h.01M158.7 247.2h.01M142.3 251.6h.01M159.0 244.2h.01M189.7 232.1h.01M165.8 249.0h.01M117.8 251.5h.01M135.3 226.0h.01M148.9 253.8h.01M151.9 250.4h.01M156.8 244.6h.01M159.1 225.7h.01M170.7 231.5h.01M160.1 241.6h.01M131.6 248.6h.01M182.5 223.9h.01M113.4 270.0h.01M155.9 250.4h.01M116.4 256.7h.01M169.8 229.8h.01M169.7 254.4h.01M146.1 236.8h.01M205.1 231.7h.01M152.0 246.1h.01M118.7 261.1h.01M149.9 240.5h.01M157.1 265.4h.01M160.5 246.6h.01M183.6 251.5h.01M170.9 232.7h.01M98.2 284.3h.01M148.0 247.8h.01M160.2 241.8h.01M138.5 282.1h.01M105.2 282.1h.01M186.6 262.2h.01M158.0 256.1h.01M121.2 264.3h.01M83.2 271.3h.01M146.7 252.1h.01M139.6 272.7h.01M101.8 273.6h.01M136.5 258.2h.01M159.1 275.7h.01M123.0 281.8h.01M188.9 234.7h.01M123.9 245.5h.01M132.5 287.8h.01M86.3 284.3h.01M136.8 284.0h.01M150.9 233.0h.01M133.7 261.5h.01M147.1 240.2h.01M137.5 250.9h.01M163.7 250.5h.01M151.9 243.3h.01M168.6 236.8h.01M121.4 257.7h.01M137.0 253.2h.01M97.6 292.3h.01M172.9 261.4h.01M140.0 266.7h.01M154.1 251.0h.01M198.2 224.5h.01M156.6 225.4h.01M163.9 244.2h.01M115.2 258.0h.01M140.2 219.3h.01M184.7 251.8h.01M118.7 244.2h.01M100.5 254.3h.01M136.4 288.1h.01M118.3 275.5h.01M180.3 226.7h.01M143.4 264.3h.01M134.8 275.8h.01M211.3 226.8h.01M126.6 270.0h.01M154.3 240.0h.01M144.3 255.7h.01M168.5 260.7h.01M127.4 243.2h.01M109.0 294.7h.01M133.7 253.1h.01M213.6 224.1h.01M125.0 254.9h.01M169.3 250.3h.01M170.9 275.5h.01M182.9 223.7h.01M163.9 254.9h.01M137.3 289.8h.01M182.5 260.2h.01M126.7 245.6h.01M169.4 241.6h.01M130.4 258.9h.01M154.9 252.2h.01M144.1 261.1h.01M142.8 283.7h.01M126.2 240.1h.01M96.9 245.0h.01M176.8 225.9h.01M102.8 263.3h.01M135.7 240.4h.01M130.8 259.8h.01M162.4 233.8h.01M165.6 249.4h.01M161.5 239.9h.01M117.8 278.6h.01M161.8 237.9h.01M127.8 270.8h.01M209.5 233.2h.01M160.3 254.7h.01M172.7 221.8h.01M158.4 266.5h.01M102.4 274.7h.01M178.3 264.8h.01M194.3 233.8h.01M204.0 214.7h.01M112.7 286.0h.01M162.2 231.1h.01M184.5 250.4h.01M167.3 238.9h.01M101.5 247.9h.01M140.6 253.7h.01M129.8 252.4h.01M169.8 228.1h.01M135.4 286.0h.01M125.8 253.0h.01M170.7 218.3h.01M189.9 218.0h.01M116.6 247.5h.01M115.6 255.6h.01M175.2 241.0h.01M192.7 245.8h.01M110.8 268.2h.01M127.5 255.2h.01M153.3 256.0h.01M150.4 222.0h.01M140.8 249.3h.01M201.8 227.7h.01M146.7 253.5h.01M165.4 229.7h.01M143.3 253.0h.01M145.9 250.2h.01M131.9 260.6h.01M116.2 288.6h.01M138.5 231.0h.01M143.8 268.0h.01M141.0 253.6h.01M86.3 297.9h.01M139.8 228.4h.01M141.4 276.1h.01M151.8 230.2h.01M132.2 262.7h.01M210.7 231.0h.01M168.1 240.2h.01M144.1 240.2h.01M101.6 252.4h.01M136.2 275.3h.01M152.5 267.9h.01M171.5 245.6h.01M143.3 285.2h.01M187.7 254.4h.01M156.4 254.9h.01M175.5 273.6h.01M108.6 243.2h.01M133.4 258.9h.01M134.9 271.3h.01M165.7 245.3h.01M159.5 275.3h.01M142.9 272.4h.01M104.6 244.7h.01M203.4 243.1h.01M175.3 262.1h.01M199.3 236.3h.01M159.5 257.0h.01M174.6 245.0h.01M120.3 299.5h.01M123.0 254.8h.01M166.0 245.2h.01M176.1 275.9h.01M188.7 230.1h.01M157.9 248.4h.01M181.7 226.9h.01M111.7 244.2h.01M165.7 251.6h.01M174.2 254.6h.01M110.8 263.0h.01M122.4 281.0h.01M167.4 225.1h.01M165.3 247.9h.01M155.7 260.0h.01M129.1 256.5h.01M125.5 253.0h.01M123.3 279.6h.01M165.0 243.0h.01M110.7 300.4h.01M150.7 255.1h.01M176.5 265.9h.01M128.4 228.1h.01M139.4 256.5h.01M138.9 277.6h.01M136.9 262.3h.01M128.3 272.0h.01M132.2 271.4h.01M153.7 253.3h.01M150.4 229.8h.01M136.4 261.1h.01M143.3 272.1h.01M171.4 233.7h.01M182.8 236.1h.01M171.3 261.2h.01M111.7 256.5h.01M146.0 250.8h.01M102.2 281.2h.01M154.8 253.4h.01M161.6 258.0h.01M126.0 266.7h.01M133.7 252.4h.01M128.9 278.1h.01M167.6 240.8h.01M134.4 273.5h.01M119.5 260.9h.01M158.3 241.8h.01M133.7 260.0h.01M173.2 230.2h.01M164.2 245.8h.01M132.0 241.1h.01M203.0 239.0h.01M155.1 246.0h.01M193.5 225.8h.01M114.8 255.7h.01M148.8 257.5h.01M90.7 280.5h.01M161.9 262.7h.01M146.1 274.8h.01M205.5 222.4h.01M145.7 268.1h.01M184.5 238.5h.01M175.2 220.5h.01M178.7 247.1h.01M177.8 248.1h.01M166.6 239.5h.01M179.8 211.3h.01M153.3 242.3h.01M201.1 216.0h.01M152.3 251.2h.01M172.7 243.3h.01M116.5 264.1h.01M187.3 248.1h.01M121.3 246.6h.01M110.2 267.1h.01M142.3 250.5h.01M134.3 261.5h.01M192.9 249.3h.01M139.8 267.7h.01M147.7 271.5h.01M184.0 252.0h.01M182.9 258.9h.01M116.6 261.5h.01M143.0 267.5h.01M144.1 237.5h.01M125.4 259.7h.01M133.1 253.0h.01M106.0 272.2h.01M108.6 263.8h.01M129.0 256.7h.01M189.5 230.6h.01M124.7 227.9h.01M123.8 266.5h.01M143.4 266.4h.01M144.0 266.2h.01M162.1 262.9h.01M145.1 267.2h.01M131.0 249.4h.01M176.1 222.7h.01M129.5 283.9h.01M155.9 255.4h.01M155.6 249.8h.01M207.9 229.8h.01M191.4 235.8h.01M127.0 258.1h.01M162.9 283.6h.01M132.9 265.6h.01M105.9 278.2h.01M146.8 259.3h.01M149.3 246.4h.01M150.9 252.3h.01M179.4 239.7h.01M138.8 238.9h.01M174.2 240.4h.01M127.7 278.4h.01M176.2 241.6h.01M143.9 236.4h.01M107.4 278.7h.01M139.5 260.2h.01M134.6 264.7h.01M172.7 245.0h.01M174.8 253.2h.01M136.0 234.3h.01M164.4 238.2h.01M108.9 243.1h.01M102.4 290.3h.01M207.9 247.8h.01M199.6 205.5h.01M164.0 227.2h.01M107.8 278.1h.01M171.7 230.7h.01M91.7 253.7h.01M146.5 266.0h.01M209.5 234.5h.01M112.2 252.2h.01M152.5 260.1h.01M89.1 280.6h.01M133.0 270.7h.01M102.8 284.6h.01M197.2 252.9h.01M194.4 235.8h.01M145.4 238.3h.01M142.8 243.7h.01M169.3 254.7h.01M151.2 273.9h.01M105.1 262.3h.01M197.2 229.4h.01M155.8 214.0h.01M188.5 226.6h.01M132.4 273.0h.01M141.3 231.1h.01M182.8 225.4h.01M133.6 249.4h.01M132.0 253.2h.01M134.4 251.5h.01M162.3 238.5h.01M203.2 237.9h.01M147.5 245.1h.01M162.7 222.6h.01M125.1 257.2h.01M158.7 250.4h.01M106.6 277.8h.01M131.7 252.0h.01M149.5 247.6h.01M132.2 253.7h.01M167.6 245.4h.01M150.6 242.5h.01M182.4 240.5h.01M130.6 274.9h.01M103.3 260.8h.01M169.0 238.1h.01M136.3 252.4h.01M150.1 258.5h.01M162.1 237.6h.01M123.4 235.1h.01M135.1 264.6h.01M154.1 266.8h.01M140.6 259.5h.01M167.4 229.0h.01M181.0 220.2h.01M130.5 234.2h.01M134.1 244.4h.01M165.9 217.3h.01M162.6 252.0h.01M168.5 258.3h.01M167.4 232.3h.01M161.7 236.9h.01M126.1 257.6h.01M130.0 251.7h.01M178.1 241.5h.01M87.7 266.1h.01M143.5 286.0h.01M151.9 243.8h.01M149.2 220.2h.01M190.5 230.8h.01M123.2 274.2h.01M118.7 249.2h.01M180.4 266.9h.01M136.5 256.3h.01M145.7 259.3h.01M135.7 259.5h.01M123.7 260.7h.01M164.3 225.2h.01M176.9 265.0h.01M125.6 256.6h.01M150.5 251.1h.01M119.6 275.7h.01M170.8 257.7h.01M165.4 237.4h.01M140.0 247.4h.01M180.8 260.3h.01M145.3 257.2h.01M167.3 267.2h.01M113.7 270.6h.01M162.8 253.2h.01M128.8 273.4h.01M157.1 235.5h.01M126.6 289.0h.01M122.1 241.5h.01M154.4 235.2h.01M149.4 259.2h.01M114.2 247.2h.01M196.1 215.4h.01M113.5 266.6h.01M159.8 246.9h.01M126.0 274.3h.01M111.3 256.4h.01M172.1 257.3h.01M165.4 258.3h.01M163.1 258.0h.01M123.6 252.7h.01M169.2 258.1h.01M132.3 249.0h.01M148.8 267.5h.01M144.0 251.0h.01M141.9 251.3h.01M160.9 242.0h.01M150.4 248.8h.01M125.3 262.6h.01M148.0 229.2h.01M155.9 253.1h.01M139.1 242.1h.01M132.1 268.7h.01M126.7 275.3h.01M137.8 261.9h.01M145.2 231.9h.01M174.6 235.6h.01M120.4 283.1h.01M193.4 249.0h.01M178.2 256.5h.01M96.5 271.7h.01M191.7 243.4h.01M150.7 248.4h.01M134.6 248.0h.01M131.6 220.8h.01M178.4 241.0h.01M153.8 249.1h.01M171.6 254.3h.01M157.3 225.9h.01M165.0 220.2h.01M129.9 252.2h.01M135.7 235.8h.01M163.0 243.2h.01M175.5 243.7h.01M151.7 265.4h.01M188.4 243.7h.01M128.8 265.6h.01M182.9 249.8h.01M201.4 247.7h.01M147.6 282.7h.01M172.4 252.9h.01M148.6 236.0h.01M93.3 284.4h.01M185.9 261.1h.01M123.4 261.9h.01M137.1 266.6h.01M122.6 252.1h.01M104.5 268.3h.01M171.4 226.8h.01M142.5 275.1h.01M115.0 237.7h.01M124.3 273.9h.01M144.7 241.7h.01M135.0 275.6h.01M114.4 286.0h.01M138.8 264.8h.01M112.9 255.1h.01M122.0 270.7h.01M122.9 249.6h.01M119.8 257.0h.01M180.0 217.3h.01M152.6 228.6h.01M162.9 240.0h.01M165.4 242.6h.01M179.3 250.1h.01M163.6 255.7h.01M133.1 254.1h.01M128.1 269.1h.01M158.6 246.8h.01M114.4 265.6h.01M166.2 256.7h.01M133.2 269.0h.01M110.4 261.9h.01M117.9 268.4h.01M118.0 254.9h.01M183.6 253.1h.01M104.3 285.5h.01M177.7 254.0h.01M141.7 274.4h.01M159.4 229.9h.01M178.5 286.4h.01M111.6 275.1h.01M153.9 253.1h.01M173.2 257.6h.01M159.9 273.1h.01M178.6 257.7h.01M180.5 227.2h.01M192.7 222.8h.01M152.2 248.2h.01M122.8 262.4h.01M106.6 278.3h.01M142.3 245.9h.01M155.0 254.9h.01M135.4 232.1h.01M162.9 251.1h.01M185.8 245.7h.01M158.8 242.6h.01M132.9 247.5h.01M122.7 251.0h.01M193.8 258.6h.01M140.8 251.9h.01M114.1 245.2h.01M158.9 237.3h.01M129.4 241.1h.01M184.5 244.7h.01M179.6 232.6h.01M148.8 247.6h.01M120.6 272.5h.01M90.8 266.9h.01M110.1 269.4h.01M103.0 268.8h.01M119.5 257.7h.01M144.3 281.8h.01M125.5 279.6h.01M150.5 293.1h.01M159.5 262.7h.01M114.1 287.8h.01M141.6 244.7h.01M158.0 272.1h.01M131.4 262.6h.01M188.5 251.6h.01M112.0 246.0h.01M180.6 247.3h.01M176.7 255.8h.01M154.2 260.5h.01M130.4 257.0h.01M150.1 244.0h.01M150.9 275.2h.01M149.9 264.0h.01M149.8 234.6h.01M161.0 221.5h.01M159.8 246.9h.01M125.8 271.6h.01M144.0 282.1h.01M101.3 291.7h.01M179.3 246.8h.01M105.7 252.3h.01M85.9 281.3h.01M144.3 267.1h.01M157.7 257.6h.01M100.8 274.1h.01M165.4 261.1h.01" stroke="#4a4a4a" stroke-opacity="0.60" stroke-width="1" stroke-linecap="round" fill="none"/>
<path d="M125.1 307.1h.01M130.5 278.1h.01M99.0 266.7h.01M87.6 277.3h.01M100.8 296.4h.01M95.8 291.2h.01M112.8 266.7h.01M118.6 251.8h.01M125.8 277.0h.01M106.6 282.8h.01M131.4 290.7h.01M119.4 270.7h.01M127.5 251.2h.01M153.7 270.1h.01M128.6 298.7h.01M101.9 274.4h.01M122.0 265.5h.01M140.1 251.6h.01M109.0 283.4h.01M122.5 270.1h.01M152.4 294.7h.01M120.3 288.7h.01M91.9 294.4h.01M125.5 288.9h.01M133.8 281.0h.01M115.6 258.2h.01M135.7 278.6h.01M103.4 269.3h.01M133.3 275.2h.01M152.0 269.3h.01M92.2 250.2h.01M100.3 284.7h.01M85.9 289.7h.01M129.8 259.1h.01M124.7 257.3h.01M119.4 270.6h.01M129.7 261.8h.01M113.2 285.0h.01M105.4 273.0h.01M101.4 293.0h.01M122.9 287.4h.01M136.5 282.4h.01M124.9 268.1h.01M117.4 285.6h.01M88.5 266.2h.01M135.7 300.5h.01M128.9 277.5h.01M151.2 288.9h.01M149.8 286.5h.01M123.7 288.9h.01M151.7 290.1h.01M85.3 304.4h.01M106.8 262.0h.01M91.0 284.8h.01M121.3 286.4h.01M151.4 274.9h.01M100.3 267.9h.01M133.6 277.5h.01M122.7 267.0h.01M97.1 269.9h.01M121.9 281.9h.01M150.5 284.1h.01M121.4 294.5h.01M84.3 269.9h.01M131.5 289.3h.01M117.3 257.3h.01M87.3 283.9h.01M125.8 249.3h.01M108.0 277.7h.01M141.6 291.1h.01M106.7 265.2h.01M112.2 269.2h.01M101.9 287.9h.01M114.6 241.8h.01M117.0 284.4h.01M89.8 301.1h.01M125.5 277.2h.01M106.3 292.7h.01M139.4 264.9h.01M110.6 248.8h.01M137.8 239.0h.01M100.6 257.1h.01M85.0 280.4h.01M166.1 260.7h.01M143.6 263.4h.01M95.3 280.7h.01M96.4 258.1h.01M112.5 272.9h.01M99.1 283.8h.01M150.4 270.9h.01M101.6 292.0h.01M138.0 265.5h.01M111.3 265.8h.01M85.5 291.5h.01M130.1 297.0h.01M153.4 236.3h.01M88.0 277.1h.01M156.8 273.7h.01M135.1 263.9h.01M147.3 294.9h.01M147.8 287.8h.01M109.9 303.4h.01M100.3 266.5h.01M99.8 281.1h.01M145.9 275.5h.01M128.5 275.3h.01M131.6 278.2h.01M137.5 288.6h.01M128.7 267.7h.01M114.9 287.7h.01M145.8 281.8h.01M103.5 275.6h.01M93.5 273.9h.01M111.6 268.7h.01M126.9 305.7h.01M101.9 257.6h.01M103.3 294.8h.01M95.2 294.6h.01M142.0 271.5h.01M85.8 286.8h.01M97.1 280.2h.01M158.4 278.1h.01M94.8 304.3h.01M122.8 268.0h.01M118.8 273.9h.01M92.9 260.9h.01M113.8 266.9h.01M110.3 285.8h.01M140.4 264.7h.01M121.6 261.7h.01M150.4 266.1h.01M89.0 256.6h.01M110.4 289.7h.01M123.8 257.0h.01M119.3 255.7h.01M109.5 282.8h.01M122.0 249.6h.01M99.0 277.3h.01M125.4 269.9h.01M129.6 294.3h.01M168.9 276.6h.01M114.5 294.5h.01M139.2 278.4h.01M122.7 284.4h.01M148.7 251.6h.01M91.6 280.6h.01M134.9 265.9h.01M96.2 284.5h.01M119.8 289.1h.01M112.9 282.3h.01M125.4 272.1h.01M90.7 301.8h.01M136.1 273.1h.01M138.4 300.4h.01M110.7 298.4h.01M132.5 271.9h.01M111.5 296.1h.01M141.2 284.4h.01M96.7 273.0h.01M114.3 257.5h.01M127.2 284.1h.01M115.9 286.7h.01M150.8 258.7h.01M134.5 268.0h.01M146.0 249.1h.01M120.5 250.8h.01M116.5 276.1h.01M110.9 288.2h.01M90.0 277.1h.01M132.3 271.4h.01M130.4 275.7h.01M121.1 265.8h.01M89.3 273.0h.01M145.9 281.1h.01M108.1 269.7h.01M143.8 286.4h.01M117.9 286.8h.01M121.2 296.0h.01M97.1 282.5h.01M130.0 283.6h.01M100.5 270.2h.01M136.6 300.0h.01M98.4 276.0h.01M144.5 272.6h.01M133.5 289.8h.01M116.4 305.2h.01M119.1 272.4h.01M140.7 292.0h.01M99.0 279.4h.01M106.1 279.6h.01M90.5 284.0h.01M145.0 267.9h.01M112.4 276.7h.01M89.8 279.9h.01M107.3 268.5h.01M149.6 267.5h.01M104.0 241.1h.01M128.9 275.0h.01M138.7 265.9h.01M114.3 276.6h.01M154.6 285.0h.01M143.3 270.0h.01M92.2 270.2h.01M137.6 275.2h.01M99.7 286.7h.01M129.7 280.9h.01M134.9 297.6h.01M131.9 293.9h.01M140.0 274.0h.01M134.6 276.5h.01M111.0 284.8h.01M131.8 288.6h.01M121.1 257.5h.01M119.8 282.9h.01M136.0 282.2h.01M117.1 277.9h.01M144.8 288.4h.01M119.1 282.1h.01M120.8 272.6h.01M117.3 273.4h.01M132.9 264.5h.01M110.8 286.9h.01M126.6 264.1h.01M99.6 275.2h.01M127.0 288.1h.01M118.4 301.0h.01M133.0 255.0h.01M113.5 290.7h.01M140.4 270.6h.01M111.5 276.4h.01M120.6 262.8h.01M124.4 293.1h.01M125.3 289.8h.01M103.9 290.8h.01M111.6 285.8h.01M130.1 261.9h.01M97.0 293.6h.01M133.4 283.5h.01M103.5 291.9h.01M132.5 265.2h.01M94.0 290.5h.01M119.8 265.7h.01M108.0 266.8h.01M126.6 277.9h.01M139.2 280.5h.01M124.5 295.2h.01M114.5 263.0h.01M114.6 266.5h.01M135.4 300.8h.01M103.3 275.9h.01M91.3 303.0h.01M158.7 284.8h.01M153.5 293.8h.01M106.8 277.4h.01M115.7 292.1h.01M85.8 265.9h.01M125.9 269.1h.01M83.9 269.3h.01M134.6 300.4h.01M121.1 296.5h.01M90.9 280.5h.01M124.7 271.3h.01M83.6 259.1h.01M121.6 289.9h.01M84.0 268.9h.01M109.3 278.4h.01M83.5 289.2h.01M124.6 273.3h.01M113.3 259.0h.01M132.1 291.0h.01M96.2 288.1h.01M108.5 279.1h.01M125.7 263.3h.01M130.8 294.9h.01M113.5 285.0h.01M114.1 277.0h.01M141.9 266.8h.01M115.9 311.1h.01M114.7 277.1h.01M116.4 273.6h.01M114.7 296.3h.01M86.3 251.3h.01M123.0 269.5h.01M108.1 276.9h.01M110.1 264.5h.01M112.9 274.1h.01M94.6 280.6h.01M149.5 280.8h.01M153.8 271.9h.01M127.5 275.7h.01M98.2 265.4h.01M110.3 281.8h.01M87.6 260.2h.01M98.1 294.1h.01M156.6 305.6h.01M121.8 277.3h.01M84.4 255.7h.01M109.0 278.3h.01M113.2 262.0h.01M114.2 282.4h.01M127.3 302.7h.01M91.7 283.5h.01M103.7 268.5h.01M118.3 255.5h.01M149.3 277.7h.01M143.9 278.5h.01M153.6 262.9h.01M103.9 310.1h.01M135.5 295.9h.01M118.2 274.0h.01M118.0 295.4h.01M131.2 276.6h.01M139.6 299.7h.01M114.2 253.3h.01M103.0 295.3h.01M129.5 286.1h.01M121.4 271.3h.01M109.0 277.2h.01M127.3 258.3h.01M152.4 295.1h.01M98.3 263.3h.01M155.4 287.0h.01M110.1 265.6h.01M152.4 286.2h.01M127.3 301.5h.01M99.2 272.8h.01M101.4 283.1h.01M97.5 274.4h.01M93.8 244.7h.01M130.7 293.4h.01M138.3 264.7h.01M120.0 286.8h.01M108.7 261.2h.01M127.4 280.3h.01M109.8 295.4h.01M101.4 283.8h.01M120.5 296.6h.01M121.7 264.4h.01M85.6 286.3h.01M94.6 298.2h.01M135.2 276.6h.01M108.2 275.6h.01M147.8 280.3h.01M87.8 273.0h.01M128.4 267.0h.01M152.8 259.6h.01M135.6 272.9h.01M153.9 284.4h.01M121.1 282.3h.01M110.5 257.3h.01M112.5 272.6h.01M113.4 268.1h.01M85.1 281.2h.01M106.7 289.6h.01M132.4 259.0h.01M121.1 273.8h.01M119.6 268.9h.01M105.5 297.3h.01M123.8 258.0h.01M90.8 279.7h.01M105.4 273.2h.01" stroke="#4a4a4a" stroke-opacity="0.60" stroke-width="1" stroke-linecap="round" fill="none"/>
<path d="M156.5 195.2V315.9M80.3 250.7H217.6" stroke="#222" stroke-width="1" fill="none" stroke-opacity="0.7"/>
<path d="M93.3 268.0C93.9 267.1 95.5 266.2 97.2 265.4C98.9 264.6 101.5 264.1 103.6 263.3C105.8 262.4 107.9 261.5 110.1 260.5C112.2 259.4 114.4 258.2 116.5 256.8C118.7 255.4 121.0 253.3 122.9 251.9C124.9 250.4 126.3 249.3 128.3 248.2C130.3 247.1 132.8 246.4 134.8 245.4C136.7 244.4 138.5 243.6 140.1 242.2C141.7 240.8 143.0 238.3 144.4 236.8C145.9 235.4 147.1 234.3 148.7 233.6C150.3 232.9 152.5 233.3 154.1 232.5C155.7 231.8 156.9 229.9 158.4 228.9C159.8 227.9 161.2 227.0 162.7 226.7C164.1 226.5 165.9 226.6 167.0 227.6C168.0 228.6 168.0 231.3 169.1 232.5C170.2 233.8 171.8 234.4 173.4 235.3C175.0 236.2 177.2 236.9 178.8 237.9C180.4 238.9 182.1 239.9 183.1 241.1C184.1 242.4 184.9 243.8 184.8 245.4C184.7 247.0 183.5 249.0 182.6 250.8C181.8 252.6 181.0 254.6 179.8 256.2C178.7 257.8 177.2 259.0 175.6 260.5C173.9 261.9 172.0 263.5 170.2 264.8C168.4 266.0 166.8 266.9 164.8 268.0C162.9 269.1 160.5 270.1 158.4 271.2C156.2 272.3 154.1 273.5 151.9 274.4C149.8 275.3 147.6 275.9 145.5 276.6C143.3 277.2 141.2 277.7 139.1 278.3C136.9 278.8 134.8 279.4 132.6 279.8C130.5 280.2 128.1 280.6 126.2 280.9C124.2 281.1 122.3 281.6 120.8 281.3C119.3 281.0 117.8 280.1 116.9 279.1C116.0 278.2 116.2 276.5 115.4 275.5C114.6 274.5 113.8 273.9 112.2 273.3C110.6 272.8 107.7 272.5 105.8 272.3C103.8 272.0 102.0 271.8 100.4 271.8C98.8 271.8 97.2 272.5 96.1 272.3C95.0 272.1 94.4 271.3 94.0 270.6C93.5 269.8 92.8 268.8 93.3 268.0Z" fill="#0430f5" stroke="#000" stroke-opacity="0.75" stroke-width="0.45"/>
<path d="M111.8 266.3C112.6 264.6 116.3 262.5 118.7 260.5C121.0 258.4 123.7 255.8 126.2 254.0C128.7 252.2 131.0 251.3 133.7 249.7C136.4 248.1 139.4 246.0 142.3 244.4C145.1 242.7 148.0 241.2 150.9 240.1C153.7 238.9 156.6 238.0 159.5 237.5C162.3 236.9 165.4 236.4 168.0 236.8C170.7 237.3 173.7 238.8 175.6 240.1C177.4 241.3 178.7 242.7 179.2 244.4C179.7 246.0 179.1 247.9 178.3 249.7C177.6 251.5 176.0 253.3 174.5 255.1C172.9 256.9 171.1 258.9 169.1 260.5C167.1 262.1 165.0 263.5 162.7 264.8C160.3 266.0 157.7 266.9 155.2 268.0C152.7 269.1 150.1 270.3 147.6 271.2C145.1 272.1 142.6 272.8 140.1 273.3C137.6 273.9 135.1 274.2 132.6 274.4C130.1 274.6 127.4 274.6 125.1 274.4C122.8 274.2 120.5 274.0 118.7 273.3C116.8 272.7 115.1 271.7 113.9 270.6C112.8 269.4 111.0 267.9 111.8 266.3Z" fill="#14a0f5" stroke="#000" stroke-opacity="0.75" stroke-width="0.45"/>
<path d="M173.6 243.5C173.9 244.6 173.4 245.9 173.3 247.1C173.2 248.4 173.6 249.5 173.1 250.9C172.7 252.3 172.5 254.1 170.7 255.7C168.9 257.2 165.0 258.9 162.3 260.3C159.6 261.6 157.0 262.5 154.5 263.7C152.0 264.8 149.9 266.0 147.4 267.1C144.9 268.3 142.1 269.6 139.5 270.6C136.8 271.5 133.6 272.5 131.3 272.7C129.0 273.0 127.2 272.4 125.7 271.9C124.2 271.4 123.7 270.4 122.4 269.8C121.1 269.2 118.5 269.2 117.8 268.3C117.1 267.4 117.4 265.9 118.1 264.4C118.9 263.0 120.8 261.2 122.2 259.7C123.7 258.2 125.2 256.9 126.7 255.4C128.2 253.9 129.4 252.5 131.2 250.9C132.9 249.3 134.7 247.3 137.1 245.8C139.6 244.3 142.9 242.7 145.6 241.9C148.3 241.2 150.9 241.6 153.3 241.3C155.7 241.0 158.0 240.4 160.2 240.1C162.5 239.8 165.1 239.4 167.0 239.5C168.8 239.6 170.5 240.1 171.6 240.7C172.7 241.4 173.3 242.4 173.6 243.5Z" fill="#12dcff" stroke="#000" stroke-opacity="0.75" stroke-width="0.45"/>
<path d="M174.6 243.0C175.3 243.8 174.0 245.7 173.2 247.1C172.5 248.4 171.2 249.9 170.1 251.3C169.0 252.6 168.0 254.0 166.6 255.4C165.3 256.8 164.0 258.6 161.8 259.8C159.7 261.1 156.2 261.7 153.7 262.8C151.3 263.8 149.4 265.3 147.2 266.3C144.9 267.2 142.8 267.4 140.2 268.4C137.7 269.3 134.2 271.2 131.7 271.8C129.3 272.4 126.8 272.3 125.4 271.9C124.1 271.4 123.8 270.1 123.4 269.1C123.1 268.1 124.0 266.7 123.5 265.8C123.1 264.9 120.6 264.8 120.7 263.7C120.7 262.7 123.0 261.0 123.8 259.6C124.7 258.3 124.6 257.0 126.0 255.6C127.5 254.3 130.5 253.0 132.5 251.6C134.6 250.1 136.1 248.6 138.3 247.2C140.5 245.8 143.3 244.2 145.9 243.2C148.4 242.3 151.4 241.6 153.5 241.5C155.5 241.4 156.3 242.7 158.2 242.7C160.1 242.7 163.0 241.5 164.8 241.4C166.6 241.4 167.3 242.1 169.0 242.4C170.6 242.7 173.9 242.2 174.6 243.0Z" fill="none" stroke="#000" stroke-opacity="0.60" stroke-width="0.35"/>
<path d="M172.1 244.2C172.9 244.9 173.4 245.9 173.2 247.0C173.0 248.1 172.2 249.5 171.2 250.9C170.1 252.2 168.0 253.6 166.7 255.1C165.4 256.5 165.0 258.3 163.1 259.5C161.1 260.8 157.5 261.6 155.0 262.6C152.5 263.5 150.5 264.5 148.3 265.3C146.1 266.1 144.0 266.5 141.8 267.1C139.5 267.8 137.1 268.7 134.8 269.3C132.5 269.9 129.7 270.5 127.8 270.5C125.9 270.5 123.8 270.3 123.2 269.4C122.7 268.6 124.7 266.4 124.5 265.4C124.4 264.3 122.2 264.1 122.4 263.1C122.6 262.0 124.6 260.3 125.7 259.0C126.8 257.7 127.6 256.4 129.0 255.1C130.4 253.8 132.4 252.5 134.2 251.2C136.0 249.9 137.9 248.6 140.1 247.4C142.2 246.1 144.5 244.8 146.9 243.6C149.4 242.4 152.7 240.6 154.9 240.3C157.0 239.9 158.1 241.5 159.8 241.7C161.5 241.9 163.7 241.3 165.1 241.5C166.6 241.7 167.3 242.4 168.4 242.9C169.6 243.3 171.3 243.5 172.1 244.2Z" fill="#00c8a0" stroke="#000" stroke-opacity="0.75" stroke-width="0.45"/>
<path d="M168.8 245.7C168.7 246.6 167.2 247.9 167.5 248.7C167.9 249.6 171.0 249.7 170.9 250.7C170.8 251.8 168.6 253.5 167.0 254.8C165.3 256.2 163.1 257.6 161.0 258.7C158.9 259.8 156.4 260.7 154.3 261.7C152.2 262.7 150.2 263.9 148.1 264.8C146.0 265.6 143.8 266.2 141.7 266.8C139.6 267.4 136.8 268.4 135.3 268.4C133.8 268.4 134.0 266.8 132.5 266.7C130.9 266.6 127.7 267.8 126.0 267.7C124.4 267.6 123.1 267.0 122.5 266.3C122.0 265.5 122.0 264.3 122.9 263.0C123.7 261.8 126.2 260.1 127.6 258.8C129.0 257.5 130.0 256.5 131.4 255.3C132.7 254.2 134.3 253.2 135.7 251.9C137.1 250.6 138.1 248.5 140.0 247.5C141.9 246.4 144.9 246.1 147.2 245.4C149.4 244.7 151.5 243.8 153.7 243.1C155.9 242.5 158.0 242.0 160.1 241.7C162.1 241.3 164.6 240.8 165.9 241.1C167.2 241.4 167.5 242.5 168.0 243.2C168.5 244.0 168.9 244.7 168.8 245.7Z" fill="none" stroke="#000" stroke-opacity="0.60" stroke-width="0.35"/>
<path d="M168.8 245.5C168.5 246.5 168.0 247.5 167.8 248.4C167.7 249.3 168.2 249.9 167.9 250.9C167.6 251.9 167.1 253.1 165.8 254.3C164.6 255.4 162.4 256.7 160.6 257.9C158.8 259.0 157.0 260.3 155.0 261.3C153.0 262.2 150.8 262.8 148.7 263.7C146.5 264.5 144.2 265.8 142.2 266.3C140.3 266.8 138.3 266.9 136.9 266.8C135.4 266.7 134.7 266.1 133.5 265.9C132.3 265.7 131.0 265.6 129.7 265.4C128.3 265.3 126.2 265.4 125.4 264.8C124.7 264.3 125.0 263.1 125.3 262.1C125.5 261.1 125.8 259.9 127.1 258.7C128.3 257.5 130.9 256.2 132.5 255.0C134.1 253.8 135.1 252.8 136.6 251.6C138.1 250.5 139.8 249.2 141.7 248.2C143.6 247.2 145.9 246.4 147.9 245.7C149.9 245.0 151.8 244.6 153.8 244.0C155.9 243.4 158.3 242.4 160.2 242.0C162.1 241.6 163.8 241.7 165.3 241.8C166.9 241.8 169.0 241.7 169.6 242.3C170.2 243.0 169.1 244.5 168.8 245.5Z" fill="#08c818" stroke="#000" stroke-opacity="0.75" stroke-width="0.45"/>
<path d="M168.1 245.8C168.7 246.4 169.2 247.0 169.5 247.7C169.8 248.5 170.8 249.3 169.7 250.4C168.6 251.5 164.6 253.1 162.8 254.2C161.0 255.3 160.2 256.2 158.8 257.2C157.3 258.2 155.5 259.0 153.8 260.0C152.1 260.9 150.4 262.1 148.5 262.9C146.7 263.8 144.4 264.7 142.5 265.3C140.7 265.8 138.7 266.1 137.2 266.2C135.7 266.2 135.1 265.7 133.5 265.7C132.0 265.7 128.7 266.8 127.9 266.4C127.1 266.0 128.6 264.3 128.8 263.3C129.1 262.4 129.1 261.7 129.6 260.8C130.0 259.9 130.7 259.0 131.3 258.1C131.8 257.1 132.1 256.2 132.9 255.2C133.7 254.1 134.6 252.8 136.1 251.7C137.5 250.6 139.7 249.1 141.7 248.3C143.7 247.6 146.0 247.7 148.0 247.0C150.1 246.4 152.1 244.9 153.8 244.4C155.6 243.9 157.1 244.0 158.7 243.9C160.2 243.7 161.8 243.5 163.1 243.6C164.3 243.7 165.2 244.1 166.0 244.5C166.8 244.8 167.5 245.3 168.1 245.8Z" fill="none" stroke="#000" stroke-opacity="0.60" stroke-width="0.35"/>
<path d="M166.2 247.0C166.2 247.7 165.9 248.4 166.0 249.1C166.2 249.8 167.5 250.2 167.0 251.1C166.6 251.9 164.6 253.2 163.2 254.2C161.8 255.1 160.2 256.1 158.5 257.0C156.9 257.8 155.1 258.4 153.5 259.2C151.9 259.9 150.5 260.7 148.8 261.5C147.1 262.3 145.0 263.5 143.2 264.1C141.5 264.6 139.5 264.9 138.2 264.9C137.0 264.8 136.8 263.9 135.7 263.7C134.7 263.6 132.8 264.0 131.9 263.7C130.9 263.5 130.5 262.9 130.2 262.3C129.9 261.7 129.6 261.0 130.0 260.2C130.5 259.4 131.7 258.3 132.7 257.4C133.6 256.5 135.0 255.6 136.0 254.7C136.9 253.8 137.3 252.9 138.5 251.8C139.6 250.8 141.1 249.4 142.8 248.6C144.5 247.9 146.8 247.6 148.6 247.2C150.4 246.7 152.1 246.2 153.6 245.8C155.2 245.5 156.6 245.4 158.1 245.1C159.6 244.9 161.4 244.4 162.8 244.4C164.1 244.3 165.5 244.4 166.1 244.9C166.7 245.3 166.2 246.3 166.2 247.0Z" fill="#7ee000" stroke="#000" stroke-opacity="0.75" stroke-width="0.45"/>
<path d="M166.4 247.0C166.5 247.5 166.1 248.4 165.7 249.1C165.4 249.9 165.0 250.7 164.1 251.5C163.1 252.3 161.0 253.2 160.0 254.1C158.9 255.0 159.0 255.8 157.9 256.6C156.9 257.5 155.4 258.6 153.9 259.4C152.3 260.2 150.4 260.8 148.7 261.3C147.0 261.9 145.3 262.4 143.8 262.7C142.3 263.1 140.8 263.3 139.5 263.4C138.3 263.5 137.5 263.2 136.3 263.2C135.2 263.2 133.3 263.5 132.7 263.2C132.2 262.8 133.2 261.7 133.1 261.1C133.1 260.5 132.5 260.1 132.3 259.6C132.1 259.0 131.6 258.4 132.0 257.6C132.5 256.8 133.7 255.8 135.0 254.9C136.2 254.0 137.8 253.0 139.3 252.2C140.9 251.4 142.5 250.6 144.1 250.0C145.6 249.4 147.1 249.2 148.7 248.5C150.3 247.8 152.1 246.5 153.7 246.0C155.3 245.5 156.8 245.4 158.1 245.3C159.4 245.3 160.3 245.4 161.5 245.5C162.6 245.5 164.0 245.4 164.9 245.6C165.7 245.9 166.2 246.4 166.4 247.0Z" fill="none" stroke="#000" stroke-opacity="0.60" stroke-width="0.35"/>
<path d="M163.9 248.0C164.1 248.5 163.4 249.3 163.2 249.9C163.1 250.5 163.4 251.0 162.8 251.6C162.2 252.3 160.7 253.1 159.7 253.8C158.8 254.6 158.2 255.3 157.1 256.0C156.0 256.7 154.5 257.5 153.2 258.0C151.8 258.5 150.4 258.8 149.0 259.2C147.7 259.6 146.5 260.0 145.1 260.4C143.8 260.9 142.1 261.6 140.9 261.8C139.7 261.9 138.9 261.7 138.0 261.6C137.0 261.5 135.5 261.7 135.1 261.4C134.7 261.0 135.3 260.1 135.3 259.6C135.4 259.1 135.3 258.6 135.3 258.1C135.4 257.6 135.2 257.0 135.7 256.4C136.2 255.7 137.4 254.9 138.5 254.2C139.5 253.5 140.7 252.9 141.8 252.2C142.9 251.5 143.8 250.6 145.1 250.0C146.3 249.3 147.8 249.0 149.3 248.4C150.7 247.9 152.4 247.1 153.6 246.8C154.9 246.5 156.0 246.6 157.0 246.7C157.9 246.8 158.4 247.1 159.3 247.2C160.2 247.2 161.4 247.0 162.2 247.2C163.0 247.3 163.8 247.6 163.9 248.0Z" fill="#f0f000" stroke="#000" stroke-opacity="0.75" stroke-width="0.45"/>
<path d="M162.2 248.7C162.0 249.3 161.7 249.8 161.6 250.3C161.5 250.8 162.0 251.2 161.5 251.8C161.0 252.4 159.5 253.1 158.6 253.8C157.7 254.4 156.9 255.0 156.0 255.6C155.1 256.3 154.1 257.1 152.9 257.7C151.8 258.3 150.3 258.7 149.0 259.3C147.6 259.8 146.0 260.5 144.8 260.8C143.6 261.0 142.5 260.9 141.8 260.8C141.0 260.6 141.0 260.1 140.2 260.0C139.4 259.9 137.9 260.3 137.1 260.2C136.4 260.2 136.0 259.8 135.8 259.4C135.5 259.0 135.6 258.5 135.7 258.0C135.7 257.5 135.6 257.0 136.2 256.4C136.7 255.8 138.1 255.0 139.1 254.3C140.0 253.6 140.7 252.9 141.8 252.3C142.9 251.7 144.2 250.9 145.5 250.5C146.7 250.0 148.1 250.0 149.3 249.6C150.5 249.2 151.6 248.6 152.9 248.2C154.1 247.8 155.6 247.2 156.8 247.0C158.0 246.8 159.0 246.8 160.0 246.8C160.9 246.8 162.3 246.7 162.6 247.0C163.0 247.3 162.4 248.2 162.2 248.7Z" fill="none" stroke="#000" stroke-opacity="0.60" stroke-width="0.35"/>
<path d="M158.8 250.3C158.8 250.6 158.8 250.9 158.8 251.3C158.8 251.7 158.9 252.0 158.7 252.4C158.5 252.9 158.1 253.4 157.3 253.9C156.6 254.4 155.2 254.8 154.3 255.2C153.4 255.7 152.9 256.4 152.0 256.8C151.1 257.3 149.9 257.8 148.9 258.1C147.8 258.4 146.7 258.5 145.9 258.6C145.0 258.6 144.3 258.5 143.7 258.5C143.0 258.4 142.6 258.3 142.0 258.3C141.3 258.2 140.5 258.3 139.7 258.3C138.9 258.3 137.3 258.5 137.1 258.2C136.9 257.9 138.0 257.1 138.5 256.6C138.9 256.1 139.2 255.6 139.7 255.2C140.2 254.7 140.7 254.2 141.3 253.7C142.0 253.2 142.8 252.7 143.7 252.3C144.5 251.8 145.5 251.4 146.5 251.0C147.4 250.7 148.4 250.4 149.4 250.1C150.3 249.9 151.0 249.8 152.1 249.4C153.2 249.1 154.9 248.2 155.9 248.0C156.9 247.8 157.6 248.0 158.1 248.2C158.6 248.4 158.7 248.9 158.8 249.2C158.9 249.6 158.8 249.9 158.8 250.3Z" fill="#ff9a00" stroke="#000" stroke-opacity="0.75" stroke-width="0.45"/>
<path d="M159.2 250.1C159.4 250.4 159.7 250.7 159.4 251.1C159.2 251.5 158.3 252.1 157.8 252.5C157.4 253.0 157.1 253.4 156.5 253.8C156.0 254.3 155.3 254.8 154.5 255.2C153.7 255.6 152.5 256.0 151.6 256.3C150.6 256.6 149.8 256.6 148.9 256.9C148.0 257.1 147.1 257.7 146.2 258.0C145.2 258.3 144.2 258.5 143.3 258.7C142.3 258.9 141.1 259.2 140.5 259.1C140.0 259.0 140.0 258.5 139.9 258.2C139.9 257.8 140.2 257.4 140.1 257.1C140.1 256.8 139.8 256.6 139.8 256.2C139.8 255.9 139.7 255.6 140.1 255.2C140.5 254.7 141.7 254.2 142.3 253.8C143.0 253.4 143.4 252.9 144.1 252.5C144.8 252.1 145.7 251.7 146.6 251.2C147.5 250.8 148.5 250.1 149.5 249.8C150.4 249.5 151.6 249.3 152.4 249.2C153.2 249.2 153.6 249.5 154.2 249.6C154.7 249.7 155.0 249.8 155.7 249.8C156.4 249.8 157.7 249.4 158.3 249.5C158.9 249.5 159.0 249.9 159.2 250.1Z" fill="none" stroke="#000" stroke-opacity="0.60" stroke-width="0.35"/>
<path d="M154.7 251.9C154.7 252.2 154.8 252.4 154.7 252.6C154.5 252.9 153.9 253.2 153.6 253.5C153.3 253.8 153.2 254.0 152.9 254.3C152.6 254.6 152.3 254.9 151.8 255.2C151.4 255.5 150.7 255.9 150.1 256.1C149.4 256.3 148.7 256.4 148.1 256.5C147.4 256.7 146.7 257.0 146.2 257.0C145.6 257.1 145.2 256.9 144.8 256.9C144.3 256.9 143.6 257.0 143.2 257.0C142.9 256.9 142.7 256.7 142.5 256.6C142.3 256.4 142.1 256.3 141.9 256.1C141.8 255.9 141.6 255.7 141.5 255.5C141.5 255.2 141.5 254.9 141.8 254.7C142.1 254.4 142.9 254.0 143.5 253.7C144.0 253.4 144.4 253.1 144.9 252.9C145.5 252.6 146.2 252.5 146.8 252.3C147.4 252.1 147.9 251.7 148.5 251.5C149.1 251.3 149.8 251.1 150.4 251.0C151.0 250.9 151.6 250.9 152.1 250.9C152.6 250.9 153.0 250.9 153.5 251.0C153.9 251.0 154.6 251.0 154.8 251.1C155.0 251.3 154.7 251.7 154.7 251.9Z" fill="#ff2a00" stroke="#000" stroke-opacity="0.75" stroke-width="0.45"/>
<rect x="80.3" y="195.2" width="137.3" height="120.7" fill="none" stroke="#2a2a2a" stroke-width="1.1"/>
<path d="M156.5 195.2V315.9M80.3 250.7H217.6" stroke="#111" stroke-width="1" fill="none" stroke-opacity="0.38"/>
<text transform="translate(92.9,327.0) scale(1.00,1)" class="tk" text-anchor="middle">0</text>
<text transform="translate(121.7,327.1) scale(0.82,1)" class="tk" text-anchor="end">10</text>
<text transform="translate(122.3,324.8) scale(0.85,1)" class="tk" text-anchor="start">3</text>
<text transform="translate(151.7,327.1) scale(0.82,1)" class="tk" text-anchor="end">10</text>
<text transform="translate(152.3,324.8) scale(0.85,1)" class="tk" text-anchor="start">4</text>
<text transform="translate(181.9,327.1) scale(0.82,1)" class="tk" text-anchor="end">10</text>
<text transform="translate(182.5,324.8) scale(0.85,1)" class="tk" text-anchor="start">5</text>
<text transform="translate(212.4,327.1) scale(0.82,1)" class="tk" text-anchor="end">10</text>
<text transform="translate(213.0,324.8) scale(0.85,1)" class="tk" text-anchor="start">6</text>
<text transform="translate(72.5,202.0) scale(0.82,1)" class="tk" text-anchor="end">10</text>
<text transform="translate(73.0,199.7) scale(0.85,1)" class="tk" text-anchor="start">6</text>
<text transform="translate(72.5,228.5) scale(0.82,1)" class="tk" text-anchor="end">10</text>
<text transform="translate(73.0,226.2) scale(0.85,1)" class="tk" text-anchor="start">5</text>
<text transform="translate(72.5,254.9) scale(0.82,1)" class="tk" text-anchor="end">10</text>
<text transform="translate(73.0,252.6) scale(0.85,1)" class="tk" text-anchor="start">4</text>
<text transform="translate(72.5,280.5) scale(0.82,1)" class="tk" text-anchor="end">10</text>
<text transform="translate(73.0,278.2) scale(0.85,1)" class="tk" text-anchor="start">3</text>
<text transform="translate(76.6,306.0) scale(1.00,1)" class="tk" text-anchor="end">0</text>
<path d="M92.9 315.9v2.6M125.5 315.9v2.6M104.7 315.9v2.2M155.5 315.9v2.6M185.7 315.9v2.6M216.2 315.9v2.6M80.3 197.3h-2.6M80.3 223.8h-2.6M80.3 250.2h-2.6M80.3 275.8h-2.6M80.3 291.8h-2.2M80.3 303.5h-2.6" stroke="#333" stroke-width="0.8" fill="none"/>
<path d="M111.0 315.9v1.5M114.6 315.9v1.5M117.2 315.9v1.5M119.2 315.9v1.5M120.9 315.9v1.5M122.3 315.9v1.5M123.5 315.9v1.5M124.5 315.9v1.5M134.5 315.9v1.5M139.8 315.9v1.5M143.6 315.9v1.5M146.5 315.9v1.5M148.9 315.9v1.5M150.9 315.9v1.5M152.6 315.9v1.5M154.2 315.9v1.5M164.6 315.9v1.5M170.0 315.9v1.5M173.7 315.9v1.5M176.7 315.9v1.5M179.0 315.9v1.5M181.1 315.9v1.5M182.8 315.9v1.5M184.4 315.9v1.5M194.9 315.9v1.5M200.3 315.9v1.5M204.1 315.9v1.5M207.1 315.9v1.5M209.5 315.9v1.5M211.5 315.9v1.5M213.3 315.9v1.5M214.8 315.9v1.5M80.3 215.8h-1.5M80.3 211.1h-1.5M80.3 207.8h-1.5M80.3 205.2h-1.5M80.3 203.1h-1.5M80.3 201.4h-1.5M80.3 199.8h-1.5M80.3 198.5h-1.5M80.3 242.3h-1.5M80.3 237.6h-1.5M80.3 234.3h-1.5M80.3 231.8h-1.5M80.3 229.7h-1.5M80.3 227.9h-1.5M80.3 226.4h-1.5M80.3 225.0h-1.5M80.3 268.1h-1.5M80.3 263.6h-1.5M80.3 260.4h-1.5M80.3 257.9h-1.5M80.3 255.9h-1.5M80.3 254.2h-1.5M80.3 252.7h-1.5M80.3 251.4h-1.5M80.3 287.0h-1.5M80.3 284.2h-1.5M80.3 282.2h-1.5M80.3 280.6h-1.5M80.3 279.4h-1.5M80.3 278.3h-1.5M80.3 277.4h-1.5M80.3 276.6h-1.5" stroke="#333" stroke-width="0.7" fill="none"/></g>
<g><path d="M274.6 239.7h.01M330.1 214.5h.01M305.7 215.4h.01M343.0 269.5h.01M350.7 253.9h.01M321.9 258.7h.01M287.9 268.2h.01M272.3 257.2h.01M330.9 266.3h.01M297.7 313.2h.01M311.7 252.1h.01M314.8 253.5h.01M298.4 257.3h.01M315.3 279.8h.01M266.2 256.9h.01M281.5 211.6h.01M329.8 253.5h.01M298.4 275.1h.01M316.7 271.4h.01M297.1 293.4h.01M355.1 265.7h.01M296.4 281.1h.01M324.3 242.1h.01M296.2 288.1h.01M307.1 257.8h.01M316.4 264.3h.01M309.9 222.5h.01M362.5 269.4h.01M283.7 286.5h.01M319.3 265.4h.01M326.6 299.9h.01M294.3 282.1h.01M258.8 259.1h.01M348.8 288.0h.01M327.4 223.3h.01M333.0 275.9h.01M258.5 233.4h.01M273.5 307.2h.01M285.1 259.7h.01M302.4 277.6h.01M325.0 270.9h.01M315.0 270.9h.01M346.9 262.7h.01M291.7 274.0h.01M263.4 242.1h.01M279.8 271.3h.01M344.3 270.2h.01M318.4 255.1h.01M301.6 211.5h.01M273.9 236.7h.01M335.1 279.6h.01M344.3 299.2h.01M300.8 288.2h.01M368.7 264.8h.01M342.6 261.4h.01M261.6 267.6h.01M285.3 267.4h.01M296.1 272.0h.01M245.9 310.9h.01M350.8 257.3h.01M282.7 265.1h.01" stroke="#4a4a4a" stroke-opacity="0.60" stroke-width="1" stroke-linecap="round" fill="none"/>
<path d="M311.2 195.2V315.9M234.8 250.7H371.9" stroke="#222" stroke-width="1" fill="none" stroke-opacity="0.7"/>
<path d="M306.9 222.5C308.7 222.4 310.6 223.3 312.3 224.0C314.0 224.7 315.7 225.5 317.0 226.8C318.2 228.2 318.6 230.6 319.8 232.2C321.0 233.8 322.3 235.9 324.1 236.5C325.9 237.0 328.6 235.2 330.5 235.4C332.5 235.6 334.3 236.3 335.9 237.5C337.5 238.8 339.1 240.9 340.2 242.9C341.3 244.9 341.6 247.2 342.3 249.4C343.0 251.5 343.6 253.8 344.5 255.8C345.4 257.8 347.0 259.4 347.7 261.2C348.4 263.0 349.1 265.0 348.8 266.5C348.4 268.1 347.0 269.4 345.6 270.4C344.1 271.4 341.8 271.8 340.2 272.5C338.6 273.3 337.1 274.0 335.9 275.1C334.6 276.3 332.9 277.8 332.7 279.4C332.5 281.0 334.4 283.0 334.8 284.8C335.3 286.6 336.0 289.0 335.5 290.2C334.9 291.3 333.0 292.1 331.6 291.9C330.2 291.7 328.6 290.3 327.3 289.1C326.1 287.9 325.3 285.8 324.1 284.8C322.8 283.8 320.8 284.2 319.8 283.3C318.8 282.4 319.2 280.6 318.3 279.4C317.4 278.2 315.8 277.3 314.4 276.2C313.1 275.1 311.7 273.8 310.1 273.0C308.5 272.2 306.5 271.4 304.8 271.3C303.0 271.1 301.0 271.4 299.4 271.9C297.8 272.4 296.5 273.2 295.1 274.1C293.7 274.9 292.4 276.4 290.8 277.3C289.2 278.1 287.0 279.0 285.4 279.0C283.8 279.0 282.2 278.3 281.1 277.3C280.1 276.3 280.1 274.2 279.0 273.0C277.9 271.7 275.7 271.0 274.7 269.8C273.7 268.5 273.0 266.8 273.2 265.5C273.4 264.1 274.4 262.9 275.8 261.8C277.1 260.7 279.7 260.2 281.1 259.0C282.6 257.8 283.5 256.3 284.4 254.7C285.3 253.1 286.0 251.3 286.5 249.4C287.0 247.4 287.2 244.9 287.6 242.9C287.9 240.9 287.9 239.2 288.7 237.5C289.4 235.9 290.6 234.7 291.9 233.3C293.1 231.8 294.6 230.4 296.2 229.0C297.8 227.5 299.7 225.7 301.5 224.7C303.3 223.6 305.1 222.6 306.9 222.5Z" fill="#0430f5" stroke="#000" stroke-opacity="0.75" stroke-width="0.45"/>
<path d="M306.9 225.3C308.7 225.3 311.0 226.8 312.3 228.3C313.5 229.8 313.3 232.5 314.4 234.3C315.5 236.1 316.9 238.3 318.7 239.0C320.5 239.8 323.0 238.9 325.2 239.0C327.3 239.2 329.7 239.0 331.6 239.7C333.5 240.3 335.1 241.5 336.3 242.9C337.6 244.3 338.5 246.3 339.1 248.3C339.8 250.3 339.6 252.8 340.2 254.7C340.7 256.7 342.2 258.3 342.3 260.1C342.5 261.9 342.2 264.0 341.3 265.5C340.4 266.9 338.4 267.7 337.0 268.7C335.5 269.6 334.1 270.5 332.7 271.3C331.2 272.0 330.0 272.9 328.4 273.4C326.8 273.9 324.8 274.3 323.0 274.1C321.2 273.8 319.4 272.8 317.6 271.9C315.9 271.0 314.1 269.5 312.3 268.7C310.5 267.9 308.7 267.0 306.9 267.0C305.1 266.9 303.3 267.8 301.5 268.3C299.7 268.7 298.0 269.3 296.2 269.8C294.4 270.3 292.8 271.0 290.8 271.3C288.8 271.5 286.3 271.6 284.4 271.3C282.4 270.9 280.2 270.1 279.0 269.1C277.7 268.1 276.7 266.7 276.8 265.5C277.0 264.2 278.8 263.1 280.1 261.8C281.3 260.6 283.1 259.5 284.4 257.9C285.6 256.4 286.7 254.4 287.6 252.6C288.5 250.8 289.2 249.2 289.7 247.2C290.3 245.2 290.3 242.6 290.8 240.8C291.3 239.0 291.9 237.9 292.9 236.5C294.0 235.0 295.8 233.5 297.2 232.2C298.7 230.8 299.9 229.5 301.5 228.3C303.1 227.2 305.1 225.3 306.9 225.3Z" fill="#12dcff" stroke="#000" stroke-opacity="0.75" stroke-width="0.45"/>
<path d="M269.3 268.7C269.3 269.1 269.3 269.7 269.1 270.0C268.9 270.4 268.4 270.5 268.1 270.6C267.8 270.7 267.3 271.0 267.0 270.9C266.7 270.8 266.4 270.3 266.3 269.9C266.1 269.5 266.0 269.1 266.0 268.7C266.0 268.3 266.2 267.9 266.4 267.6C266.5 267.2 266.7 266.5 267.0 266.4C267.3 266.2 267.8 266.5 268.1 266.7C268.5 266.8 268.8 267.1 269.0 267.4C269.2 267.7 269.3 268.2 269.3 268.7Z" fill="#0430f5" stroke="#000" stroke-opacity="0.75" stroke-width="0.45"/>
<path d="M302.8 281.1C302.8 281.3 302.8 281.6 302.7 281.7C302.5 281.8 302.2 281.9 301.9 281.9C301.7 281.9 301.4 282.0 301.1 281.9C300.9 281.9 300.6 281.8 300.4 281.7C300.3 281.5 300.2 281.3 300.2 281.1C300.2 281.0 300.5 280.8 300.6 280.7C300.8 280.6 300.9 280.4 301.1 280.3C301.4 280.3 301.7 280.2 301.9 280.3C302.2 280.3 302.4 280.5 302.6 280.6C302.7 280.8 302.8 281.0 302.8 281.1Z" fill="#0430f5" stroke="#000" stroke-opacity="0.75" stroke-width="0.45"/>
<path d="M342.4 279.4C342.4 279.6 342.3 279.8 342.1 279.9C342.0 280.0 341.8 280.1 341.6 280.2C341.4 280.2 341.1 280.3 340.9 280.3C340.7 280.2 340.5 280.1 340.4 279.9C340.3 279.8 340.2 279.6 340.2 279.4C340.2 279.2 340.2 279.0 340.3 278.9C340.5 278.7 340.7 278.6 340.9 278.5C341.1 278.5 341.4 278.6 341.6 278.7C341.8 278.7 342.0 278.8 342.1 278.9C342.2 279.1 342.4 279.3 342.4 279.4Z" fill="#0430f5" stroke="#000" stroke-opacity="0.75" stroke-width="0.45"/>
<path d="M337.0 308.2C337.0 308.4 336.5 308.7 336.3 308.9C336.0 309.1 336.0 309.3 335.7 309.4C335.4 309.6 334.7 309.7 334.3 309.9C333.9 310.0 333.7 310.3 333.3 310.5C332.9 310.6 332.2 310.6 331.8 310.7C331.3 310.7 330.9 310.7 330.4 310.7C329.9 310.7 329.4 310.7 329.0 310.6C328.7 310.6 328.4 310.4 328.3 310.3C328.1 310.1 328.2 309.9 328.3 309.8C328.3 309.6 328.4 309.4 328.4 309.2C328.5 309.0 328.3 308.8 328.6 308.6C328.8 308.5 329.4 308.3 329.9 308.1C330.3 308.0 330.8 307.8 331.2 307.7C331.7 307.6 332.2 307.6 332.7 307.6C333.2 307.5 333.8 307.3 334.2 307.3C334.7 307.3 334.9 307.5 335.2 307.6C335.4 307.7 335.6 307.8 335.9 307.9C336.2 308.0 336.9 308.1 337.0 308.2Z" fill="#0430f5" stroke="#000" stroke-opacity="0.75" stroke-width="0.45"/>
<path d="M327.3 225.3C327.3 225.4 327.3 225.6 327.3 225.7C327.2 225.8 327.0 225.9 326.9 225.9C326.7 225.9 326.6 225.9 326.5 225.9C326.4 225.8 326.3 225.8 326.2 225.7C326.1 225.6 326.0 225.4 326.0 225.3C325.9 225.2 326.1 225.1 326.2 225.0C326.3 224.8 326.3 224.7 326.5 224.7C326.6 224.6 326.7 224.7 326.9 224.7C327.0 224.8 327.1 224.8 327.2 224.9C327.3 225.0 327.3 225.2 327.3 225.3Z" fill="#222" stroke="#000" stroke-opacity="0.75" stroke-width="0.45"/>
<path d="M314.4 218.2C314.4 218.4 314.4 218.6 314.4 218.7C314.3 218.8 314.1 218.8 314.0 218.8C313.8 218.8 313.7 218.8 313.6 218.8C313.5 218.8 313.4 218.7 313.3 218.6C313.2 218.5 313.1 218.3 313.1 218.2C313.1 218.1 313.2 218.0 313.3 217.9C313.4 217.8 313.5 217.6 313.6 217.6C313.7 217.5 313.8 217.6 314.0 217.6C314.1 217.7 314.2 217.7 314.3 217.8C314.4 217.9 314.4 218.1 314.4 218.2Z" fill="#222" stroke="#000" stroke-opacity="0.75" stroke-width="0.45"/>
<path d="M348.6 242.3C348.5 242.4 348.6 242.6 348.4 242.6C348.3 242.6 348.0 242.4 347.8 242.3C347.6 242.3 347.4 242.1 347.2 242.0C347.1 241.9 347.0 241.8 346.9 241.6C346.8 241.5 346.6 241.3 346.7 241.3C346.7 241.2 347.0 241.2 347.1 241.2C347.3 241.2 347.4 241.2 347.6 241.3C347.8 241.4 348.0 241.5 348.2 241.7C348.3 241.8 348.5 241.9 348.6 242.1C348.7 242.2 348.6 242.3 348.6 242.3Z" fill="#333" stroke="#000" stroke-opacity="0.75" stroke-width="0.45"/>
<path d="M299.0 226.9C300.0 225.9 302.0 225.0 303.6 224.5C305.3 224.0 307.5 223.7 308.8 224.1C310.2 224.5 311.3 225.7 312.0 226.9C312.7 228.2 313.0 230.0 312.9 231.6C312.8 233.1 311.6 234.7 311.4 236.2C311.3 237.7 312.1 239.3 312.0 240.8C311.9 242.4 312.2 244.5 311.1 245.5C310.0 246.4 307.2 246.4 305.5 246.4C303.8 246.4 302.1 246.4 300.9 245.5C299.6 244.5 298.7 242.5 298.1 240.8C297.5 239.1 297.2 237.0 297.2 235.3C297.1 233.6 297.4 232.0 297.7 230.6C298.0 229.2 298.0 227.9 299.0 226.9Z" fill="#00c8a0" stroke="#000" stroke-opacity="0.75" stroke-width="0.45"/>
<path d="M311.1 242.2C312.0 241.0 313.3 240.1 314.8 239.5C316.3 238.9 318.4 238.9 320.3 238.6C322.1 238.3 323.9 237.8 325.7 237.7C327.5 237.5 329.5 237.4 331.2 237.7C332.9 238.0 334.4 238.6 335.7 239.5C337.1 240.4 338.5 241.8 339.4 243.1C340.3 244.5 340.8 246.0 341.2 247.7C341.7 249.4 342.1 251.3 342.1 253.2C342.1 255.0 342.0 257.1 341.2 258.6C340.4 260.1 339.1 261.4 337.6 262.3C336.0 263.2 333.9 263.6 332.1 264.1C330.3 264.5 328.5 265.1 326.6 265.0C324.8 264.8 323.0 263.8 321.2 263.2C319.3 262.6 317.2 262.3 315.7 261.4C314.2 260.4 313.0 259.2 312.1 257.7C311.1 256.2 310.6 254.1 310.2 252.2C309.8 250.4 309.5 248.4 309.7 246.8C309.8 245.1 310.3 243.4 311.1 242.2Z" fill="#00c8a0" stroke="#000" stroke-opacity="0.75" stroke-width="0.45"/>
<path d="M281.6 264.5C281.6 262.9 282.6 260.1 283.4 258.2C284.2 256.2 285.1 254.5 286.1 252.7C287.2 250.9 288.4 248.7 289.8 247.2C291.1 245.7 292.7 244.5 294.3 243.6C296.0 242.7 297.8 241.9 299.8 241.8C301.8 241.6 304.2 242.1 306.2 242.7C308.2 243.3 310.6 244.2 311.6 245.4C312.7 246.6 312.8 248.3 312.6 250.0C312.3 251.6 311.1 253.7 310.2 255.4C309.3 257.1 308.2 258.5 307.1 260.0C306.0 261.5 304.8 263.2 303.4 264.5C302.1 265.9 300.6 267.2 298.9 268.2C297.2 269.1 295.2 270.1 293.4 270.4C291.6 270.7 289.6 270.4 288.0 270.0C286.3 269.6 284.5 269.1 283.4 268.2C282.3 267.3 281.6 266.2 281.6 264.5Z" fill="#00c8a0" stroke="#000" stroke-opacity="0.75" stroke-width="0.45"/>
<path d="M324.9 266.1C325.0 266.6 324.8 267.1 324.3 267.4C323.9 267.7 322.8 267.8 322.1 267.9C321.4 268.1 320.8 268.3 320.1 268.4C319.4 268.5 318.6 268.6 317.9 268.5C317.1 268.5 316.3 268.1 315.6 267.9C314.8 267.7 314.1 267.6 313.3 267.3C312.5 267.0 311.6 266.7 311.0 266.3C310.4 265.9 309.6 265.3 309.6 264.9C309.7 264.4 311.2 264.1 311.4 263.7C311.7 263.3 311.1 262.9 311.3 262.5C311.4 262.1 311.9 261.8 312.4 261.5C312.9 261.2 313.5 260.9 314.3 260.8C315.0 260.7 315.9 260.8 316.7 260.8C317.5 260.9 318.4 261.1 319.2 261.3C320.0 261.5 321.2 261.6 321.7 262.0C322.1 262.4 321.7 263.2 322.1 263.6C322.4 264.1 323.3 264.3 323.7 264.7C324.2 265.1 324.8 265.6 324.9 266.1Z" fill="#2ce8b0" stroke="#000" stroke-opacity="0.75" stroke-width="0.30"/>
<path d="M299.6 227.7C300.5 226.7 302.3 225.9 303.8 225.5C305.3 225.0 307.3 224.8 308.5 225.1C309.8 225.5 310.8 226.5 311.4 227.7C312.0 228.8 312.3 230.5 312.2 231.9C312.2 233.3 311.0 234.7 310.9 236.1C310.8 237.5 311.5 238.9 311.4 240.3C311.3 241.7 311.5 243.7 310.6 244.5C309.6 245.4 307.0 245.4 305.5 245.4C303.9 245.4 302.4 245.4 301.3 244.5C300.1 243.7 299.3 241.9 298.7 240.3C298.2 238.8 298.0 236.8 297.9 235.2C297.8 233.7 298.1 232.3 298.4 231.0C298.7 229.8 298.7 228.6 299.6 227.7Z" fill="#08c818" stroke="#000" stroke-opacity="0.75" stroke-width="0.45"/>
<path d="M312.2 242.8C313.0 241.7 314.2 240.9 315.6 240.3C317.0 239.7 319.0 239.7 320.7 239.5C322.4 239.2 324.1 238.8 325.7 238.6C327.4 238.5 329.3 238.3 330.8 238.6C332.3 238.9 333.8 239.5 335.0 240.3C336.3 241.2 337.5 242.4 338.4 243.7C339.2 244.9 339.7 246.4 340.1 247.9C340.5 249.4 340.9 251.3 340.9 253.0C340.9 254.6 340.8 256.6 340.1 258.0C339.4 259.4 338.1 260.6 336.7 261.4C335.3 262.2 333.3 262.7 331.6 263.1C330.0 263.5 328.3 264.1 326.6 263.9C324.9 263.8 323.2 262.8 321.5 262.2C319.8 261.7 317.9 261.4 316.5 260.6C315.1 259.7 313.9 258.6 313.1 257.2C312.2 255.8 311.8 253.8 311.4 252.1C311.0 250.4 310.8 248.6 310.9 247.1C311.0 245.5 311.5 244.0 312.2 242.8Z" fill="#22d020" stroke="#000" stroke-opacity="0.75" stroke-width="0.45"/>
<path d="M282.7 263.9C282.7 262.4 283.7 259.9 284.4 258.0C285.1 256.2 285.9 254.6 286.9 253.0C287.9 251.3 289.0 249.3 290.3 247.9C291.6 246.5 293.0 245.4 294.5 244.5C296.1 243.7 297.8 243.0 299.6 242.8C301.4 242.7 303.7 243.1 305.5 243.7C307.3 244.2 309.6 245.1 310.6 246.2C311.5 247.3 311.6 248.9 311.4 250.4C311.2 252.0 310.0 253.9 309.2 255.5C308.4 257.0 307.4 258.3 306.3 259.7C305.3 261.1 304.2 262.7 303.0 263.9C301.7 265.2 300.3 266.4 298.7 267.3C297.2 268.2 295.4 269.0 293.7 269.3C292.0 269.6 290.2 269.3 288.6 269.0C287.1 268.7 285.4 268.1 284.4 267.3C283.4 266.5 282.7 265.5 282.7 263.9Z" fill="#08c818" stroke="#000" stroke-opacity="0.75" stroke-width="0.45"/>
<path d="M313.6 243.6C314.3 242.6 315.4 241.8 316.7 241.3C317.9 240.8 319.7 240.8 321.2 240.6C322.7 240.3 324.2 239.9 325.8 239.8C327.3 239.7 328.9 239.6 330.3 239.8C331.7 240.1 333.0 240.6 334.1 241.3C335.3 242.1 336.4 243.2 337.2 244.4C337.9 245.5 338.3 246.8 338.7 248.2C339.1 249.6 339.4 251.2 339.4 252.7C339.4 254.2 339.3 256.0 338.7 257.3C338.0 258.5 336.9 259.6 335.6 260.3C334.4 261.1 332.6 261.5 331.1 261.8C329.6 262.2 328.0 262.7 326.5 262.6C325.0 262.5 323.5 261.6 322.0 261.1C320.4 260.6 318.7 260.3 317.4 259.6C316.1 258.8 315.1 257.8 314.4 256.5C313.6 255.3 313.2 253.5 312.9 252.0C312.5 250.4 312.3 248.8 312.4 247.4C312.5 246.0 312.9 244.6 313.6 243.6Z" fill="none" stroke="#000" stroke-opacity="0.70" stroke-width="0.40"/>
<path d="M300.8 229.1C301.5 228.4 302.9 227.7 304.1 227.4C305.3 227.0 306.9 226.8 307.9 227.1C308.9 227.4 309.7 228.2 310.2 229.1C310.7 230.0 310.9 231.4 310.9 232.5C310.8 233.6 309.9 234.7 309.8 235.9C309.7 237.0 310.2 238.1 310.2 239.2C310.2 240.4 310.3 241.9 309.5 242.6C308.7 243.3 306.7 243.3 305.5 243.3C304.2 243.3 303.0 243.3 302.1 242.6C301.2 241.9 300.5 240.5 300.1 239.2C299.6 238.0 299.4 236.4 299.4 235.2C299.4 234.0 299.6 232.8 299.8 231.8C300.0 230.8 300.0 229.9 300.8 229.1Z" fill="none" stroke="#000" stroke-opacity="0.70" stroke-width="0.40"/>
<path d="M329.0 254.7C329.0 254.9 328.9 255.2 328.6 255.4C328.3 255.5 327.8 255.6 327.4 255.5C326.9 255.5 326.4 255.3 326.0 255.2C325.6 255.0 325.0 254.8 324.8 254.6C324.6 254.3 324.7 254.0 324.8 253.8C324.9 253.6 325.1 253.4 325.3 253.2C325.6 253.1 326.0 252.9 326.4 252.9C326.8 252.9 327.6 253.0 327.9 253.2C328.3 253.3 328.5 253.7 328.7 254.0C328.8 254.2 329.1 254.5 329.0 254.7Z" fill="none" stroke="#000" stroke-opacity="0.65" stroke-width="0.40"/>
<path d="M320.3 258.3C320.1 258.5 320.0 258.8 319.8 258.9C319.6 259.1 319.3 259.2 319.0 259.2C318.7 259.2 318.4 258.9 318.0 258.8C317.7 258.7 317.2 258.9 316.9 258.7C316.6 258.6 316.4 258.1 316.2 257.8C316.0 257.5 315.7 257.1 315.6 256.9C315.5 256.6 315.7 256.3 315.6 256.0C315.5 255.7 315.3 255.4 315.2 255.1C315.1 254.7 315.1 254.3 315.2 254.1C315.4 253.9 315.9 254.0 316.2 254.0C316.5 253.9 316.7 253.6 317.0 253.6C317.3 253.6 317.7 253.8 318.0 254.0C318.3 254.1 318.7 254.3 318.9 254.5C319.2 254.7 319.4 255.0 319.7 255.2C320.0 255.5 320.5 255.7 320.7 256.0C320.9 256.3 321.1 256.7 321.2 257.0C321.2 257.3 321.0 257.6 320.9 257.8C320.7 258.0 320.4 258.1 320.3 258.3Z" fill="none" stroke="#000" stroke-opacity="0.65" stroke-width="0.40"/>
<path d="M322.3 251.3C322.2 251.4 322.0 251.6 321.7 251.6C321.4 251.7 321.0 251.6 320.7 251.4C320.4 251.2 320.3 250.9 320.0 250.6C319.8 250.3 319.5 250.0 319.4 249.8C319.3 249.5 319.5 249.3 319.6 249.1C319.8 248.9 320.0 248.8 320.3 248.8C320.5 248.7 320.9 248.8 321.2 249.0C321.5 249.1 322.0 249.4 322.2 249.6C322.4 249.9 322.3 250.2 322.3 250.5C322.3 250.8 322.4 251.1 322.3 251.3Z" fill="none" stroke="#000" stroke-opacity="0.65" stroke-width="0.40"/>
<path d="M338.3 249.4C338.2 249.7 338.1 250.1 337.9 250.3C337.6 250.4 337.2 250.3 336.8 250.2C336.4 250.2 336.1 249.9 335.7 249.8C335.4 249.7 335.1 249.7 334.8 249.6C334.4 249.5 334.0 249.3 333.8 249.1C333.5 248.9 333.3 248.5 333.1 248.2C332.9 247.9 332.6 247.6 332.5 247.3C332.4 247.0 332.4 246.6 332.4 246.4C332.5 246.1 332.6 245.8 332.8 245.6C333.0 245.5 333.6 245.7 333.8 245.6C334.1 245.4 334.1 245.1 334.3 245.0C334.6 244.8 335.0 244.6 335.3 244.7C335.6 244.8 336.0 245.1 336.4 245.3C336.7 245.6 337.0 245.7 337.3 246.0C337.6 246.3 337.7 246.6 337.9 246.9C338.1 247.2 338.4 247.5 338.4 247.8C338.4 248.0 338.2 248.2 338.2 248.5C338.2 248.8 338.3 249.1 338.3 249.4Z" fill="none" stroke="#000" stroke-opacity="0.65" stroke-width="0.40"/>
<path d="M320.7 259.2C320.6 258.9 320.5 258.7 320.5 258.4C320.4 258.1 320.2 257.8 320.3 257.5C320.4 257.2 320.8 256.9 321.1 256.7C321.4 256.5 321.8 256.4 322.2 256.3C322.5 256.2 322.8 256.2 323.1 256.1C323.4 255.9 323.8 255.4 324.2 255.4C324.5 255.3 324.8 255.6 325.1 255.8C325.3 255.9 325.6 256.1 325.8 256.3C326.0 256.5 326.3 256.7 326.4 256.9C326.5 257.2 326.4 257.5 326.4 257.8C326.3 258.1 326.1 258.4 325.9 258.6C325.8 258.9 325.5 259.0 325.4 259.3C325.2 259.6 325.2 260.2 325.0 260.4C324.7 260.6 324.2 260.6 323.8 260.6C323.4 260.6 323.1 260.5 322.8 260.4C322.4 260.4 322.1 260.4 321.8 260.3C321.6 260.2 321.2 260.1 321.0 259.9C320.8 259.8 320.7 259.5 320.7 259.2Z" fill="none" stroke="#000" stroke-opacity="0.65" stroke-width="0.40"/>
<path d="M336.4 256.6C336.3 256.8 336.2 257.0 336.0 257.1C335.9 257.3 335.5 257.3 335.2 257.3C335.0 257.3 334.6 257.4 334.3 257.2C334.0 257.1 333.8 256.6 333.5 256.5C333.2 256.3 332.8 256.4 332.6 256.2C332.3 256.1 332.0 255.8 331.7 255.6C331.5 255.3 331.3 255.0 331.2 254.8C331.1 254.5 331.2 254.3 331.2 254.1C331.2 253.8 331.2 253.6 331.4 253.4C331.5 253.3 331.7 253.2 332.0 253.1C332.2 253.1 332.5 253.1 332.7 253.1C333.0 253.0 333.2 252.9 333.4 252.9C333.7 252.9 334.1 253.0 334.4 253.1C334.7 253.2 335.2 253.4 335.4 253.7C335.6 253.9 335.5 254.3 335.7 254.6C335.8 254.8 336.3 255.0 336.4 255.2C336.5 255.5 336.4 255.7 336.4 255.9C336.4 256.1 336.4 256.4 336.4 256.6Z" fill="none" stroke="#000" stroke-opacity="0.65" stroke-width="0.40"/>
<path d="M322.8 255.3C322.6 255.2 322.3 255.1 322.1 254.9C321.9 254.7 321.7 254.3 321.6 254.1C321.4 253.8 321.2 253.5 321.0 253.2C320.9 252.9 320.7 252.4 320.7 252.0C320.7 251.6 321.0 251.2 321.2 250.8C321.4 250.4 321.5 250.1 321.7 249.8C321.8 249.4 322.0 249.1 322.2 248.8C322.5 248.6 322.8 248.3 323.0 248.2C323.3 248.2 323.6 248.4 323.9 248.4C324.1 248.4 324.5 248.3 324.7 248.4C325.0 248.5 325.2 248.8 325.4 249.1C325.5 249.5 325.6 249.9 325.6 250.3C325.6 250.7 325.6 251.1 325.6 251.5C325.6 251.9 325.6 252.3 325.5 252.7C325.5 253.1 325.5 253.7 325.3 254.0C325.1 254.3 324.7 254.3 324.4 254.5C324.1 254.7 323.9 255.2 323.7 255.3C323.4 255.4 323.1 255.3 322.8 255.3Z" fill="none" stroke="#000" stroke-opacity="0.65" stroke-width="0.40"/>
<path d="M320.9 261.0C320.7 260.7 320.4 260.5 320.4 260.2C320.4 259.9 320.7 259.5 320.9 259.3C321.1 259.0 321.3 258.8 321.4 258.6C321.6 258.4 321.7 258.2 321.9 257.9C322.1 257.7 322.3 257.2 322.6 257.1C322.9 257.0 323.3 257.2 323.6 257.2C323.9 257.3 324.2 257.2 324.5 257.3C324.8 257.4 325.1 257.5 325.3 257.7C325.4 258.0 325.5 258.3 325.6 258.5C325.7 258.8 325.7 259.0 325.8 259.3C325.8 259.5 325.8 259.8 325.8 260.1C325.8 260.4 326.1 260.9 325.9 261.1C325.7 261.4 325.2 261.4 324.8 261.5C324.5 261.7 324.3 261.8 324.0 261.9C323.7 262.0 323.4 262.0 323.1 262.0C322.8 262.1 322.5 262.1 322.2 262.0C321.9 261.9 321.7 261.7 321.5 261.5C321.3 261.4 321.1 261.2 320.9 261.0Z" fill="none" stroke="#000" stroke-opacity="0.65" stroke-width="0.40"/>
<path d="M322.1 252.4C321.9 252.5 321.6 252.5 321.4 252.6C321.2 252.7 321.2 253.0 320.9 253.0C320.7 253.0 320.3 252.8 320.0 252.8C319.7 252.7 319.5 252.7 319.2 252.6C318.9 252.5 318.6 252.3 318.3 252.2C318.0 252.0 317.7 251.8 317.5 251.6C317.3 251.4 317.1 251.1 317.1 250.9C317.0 250.7 317.4 250.5 317.4 250.3C317.4 250.1 317.0 249.7 317.0 249.6C317.1 249.4 317.4 249.4 317.6 249.3C317.8 249.2 317.9 249.0 318.2 248.9C318.4 248.9 318.7 249.0 319.0 249.0C319.3 249.1 319.6 249.1 319.9 249.2C320.2 249.4 320.5 249.6 320.7 249.8C321.0 250.0 321.0 250.2 321.2 250.5C321.4 250.7 321.8 250.8 321.9 251.1C322.1 251.3 322.2 251.6 322.3 251.8C322.3 252.0 322.2 252.2 322.1 252.4Z" fill="none" stroke="#000" stroke-opacity="0.65" stroke-width="0.40"/>
<path d="M322.7 260.4C322.5 260.3 322.4 260.2 322.3 260.0C322.2 259.8 322.1 259.5 322.1 259.2C322.2 258.9 322.3 258.5 322.5 258.3C322.6 258.1 322.9 258.0 323.1 257.9C323.4 257.9 323.6 257.8 323.8 257.8C324.0 257.9 324.1 258.1 324.2 258.3C324.3 258.5 324.4 258.8 324.3 259.1C324.3 259.4 324.1 259.7 324.0 259.9C323.8 260.2 323.6 260.5 323.3 260.6C323.1 260.7 322.9 260.5 322.7 260.4Z" fill="none" stroke="#000" stroke-opacity="0.65" stroke-width="0.40"/>
<path d="M322.5 258.0C322.4 257.8 322.5 257.6 322.6 257.4C322.8 257.3 323.1 257.2 323.2 257.0C323.4 256.9 323.5 256.6 323.7 256.6C324.0 256.5 324.3 256.5 324.6 256.5C324.9 256.5 325.2 256.4 325.5 256.5C325.7 256.5 325.9 256.7 326.1 256.8C326.4 256.8 326.9 256.8 327.1 256.9C327.4 257.0 327.6 257.2 327.6 257.3C327.7 257.5 327.4 257.7 327.4 257.9C327.3 258.1 327.4 258.3 327.3 258.4C327.3 258.6 327.1 258.8 326.9 258.9C326.8 259.0 326.5 259.1 326.3 259.2C326.1 259.3 325.8 259.3 325.5 259.3C325.2 259.4 324.9 259.6 324.6 259.6C324.3 259.6 324.0 259.5 323.8 259.4C323.5 259.2 323.4 259.0 323.3 258.9C323.2 258.7 323.2 258.6 323.0 258.4C322.9 258.3 322.5 258.1 322.5 258.0Z" fill="none" stroke="#000" stroke-opacity="0.65" stroke-width="0.40"/>
<path d="M330.2 258.4C329.9 258.6 329.4 258.5 329.0 258.5C328.6 258.6 328.1 258.8 327.8 258.6C327.5 258.5 327.3 258.0 327.2 257.7C327.1 257.3 326.9 256.8 327.0 256.5C327.1 256.2 327.6 255.9 327.9 255.6C328.2 255.3 328.5 254.9 328.9 254.8C329.2 254.8 329.6 255.1 330.0 255.3C330.3 255.5 330.8 255.7 330.9 256.0C331.0 256.4 330.9 256.9 330.8 257.3C330.7 257.6 330.5 258.2 330.2 258.4Z" fill="none" stroke="#000" stroke-opacity="0.65" stroke-width="0.40"/>
<path d="M300.8 231.4C300.6 231.2 300.6 231.0 300.6 230.7C300.6 230.5 300.8 230.2 300.8 230.0C300.7 229.7 300.4 229.5 300.4 229.3C300.5 229.1 300.7 228.8 300.9 228.6C301.1 228.3 301.3 228.1 301.5 227.9C301.7 227.8 302.0 227.6 302.2 227.5C302.5 227.4 302.7 227.4 303.0 227.4C303.2 227.4 303.4 227.4 303.6 227.5C303.8 227.6 303.8 227.8 304.0 228.0C304.2 228.1 304.6 228.0 304.7 228.2C304.9 228.4 304.9 228.7 304.9 228.9C304.9 229.2 304.7 229.5 304.5 229.7C304.4 230.0 304.2 230.2 304.0 230.4C303.9 230.6 303.8 230.9 303.6 231.1C303.4 231.2 303.1 231.3 302.9 231.4C302.6 231.5 302.4 231.6 302.1 231.6C301.9 231.7 301.6 231.8 301.4 231.7C301.2 231.7 300.9 231.6 300.8 231.4Z" fill="none" stroke="#000" stroke-opacity="0.65" stroke-width="0.40"/>
<path d="M304.8 234.9C304.5 234.8 304.2 234.3 304.1 234.0C304.0 233.6 304.0 233.1 304.1 232.8C304.2 232.4 304.4 232.1 304.6 231.8C304.9 231.5 305.2 231.1 305.5 231.0C305.9 230.9 306.3 231.1 306.7 231.3C307.0 231.5 307.3 231.7 307.5 232.1C307.7 232.4 307.7 232.9 307.6 233.3C307.6 233.6 307.4 234.1 307.1 234.4C306.9 234.7 306.4 234.8 306.0 234.9C305.6 234.9 305.1 235.1 304.8 234.9Z" fill="none" stroke="#000" stroke-opacity="0.65" stroke-width="0.40"/>
<path d="M306.0 234.2C305.8 234.2 305.5 234.1 305.3 233.8C305.2 233.6 305.3 233.0 305.3 232.6C305.3 232.2 305.2 231.8 305.2 231.4C305.3 231.1 305.6 230.7 305.8 230.5C306.0 230.3 306.4 230.2 306.6 230.3C306.8 230.3 306.9 230.7 307.1 230.9C307.3 231.2 307.6 231.4 307.6 231.7C307.7 232.1 307.5 232.6 307.3 233.0C307.2 233.4 307.0 233.8 306.8 234.0C306.6 234.2 306.3 234.2 306.0 234.2Z" fill="none" stroke="#000" stroke-opacity="0.65" stroke-width="0.40"/>
<path d="M306.1 231.9C306.1 232.2 306.0 232.6 305.7 232.8C305.5 233.1 305.1 233.3 304.8 233.4C304.4 233.6 303.8 233.7 303.5 233.6C303.1 233.5 302.9 233.0 302.7 232.7C302.5 232.5 302.2 232.2 302.1 231.9C302.1 231.5 302.1 231.1 302.4 230.8C302.6 230.5 303.1 230.2 303.5 230.1C303.9 230.1 304.3 230.3 304.7 230.4C305.1 230.5 305.6 230.6 305.9 230.8C306.1 231.1 306.1 231.5 306.1 231.9Z" fill="#7ee000" stroke="#000" stroke-opacity="0.75" stroke-width="0.50"/>
<path d="M308.7 247.5C308.7 247.7 308.7 248.0 308.6 248.4C308.6 248.7 308.7 249.0 308.5 249.3C308.3 249.7 307.9 250.1 307.5 250.4C307.1 250.7 306.4 251.0 305.8 251.3C305.3 251.5 304.8 251.6 304.3 251.9C303.8 252.1 303.2 252.5 302.6 252.7C302.1 252.8 301.7 252.7 301.3 252.6C300.8 252.6 300.4 252.5 300.1 252.4C299.8 252.2 299.7 252.0 299.6 251.7C299.4 251.5 299.2 251.2 299.3 250.9C299.4 250.6 299.8 250.2 300.1 249.8C300.5 249.5 300.9 249.2 301.3 248.9C301.6 248.5 301.8 248.0 302.2 247.7C302.7 247.4 303.4 247.2 303.9 247.0C304.5 246.8 305.1 246.7 305.6 246.7C306.1 246.6 306.4 246.7 306.9 246.7C307.3 246.7 307.9 246.7 308.2 246.8C308.5 246.9 308.6 247.2 308.7 247.5Z" fill="#f0f000" stroke="#000" stroke-opacity="0.75" stroke-width="0.40"/>
<path d="M303.8 247.1C304.2 247.7 303.7 249.3 303.8 250.2C303.9 251.2 304.4 251.6 304.4 252.5C304.5 253.4 304.7 254.5 304.3 255.6C304.0 256.7 303.1 258.0 302.4 259.1C301.6 260.2 300.7 261.3 299.8 262.2C298.8 263.2 297.8 263.8 296.8 264.6C295.8 265.4 294.5 267.0 293.7 267.1C292.8 267.3 292.5 265.8 291.7 265.6C291.0 265.4 289.8 266.2 289.0 266.0C288.3 265.8 287.7 265.2 287.4 264.5C287.1 263.8 286.9 262.7 287.1 261.7C287.3 260.6 288.0 259.2 288.5 258.1C289.1 257.0 289.9 256.0 290.5 254.8C291.1 253.7 291.5 252.0 292.3 251.2C293.2 250.3 294.5 250.1 295.5 249.5C296.6 248.8 297.5 247.8 298.5 247.4C299.5 246.9 300.5 246.7 301.4 246.6C302.3 246.6 303.4 246.5 303.8 247.1Z" fill="#7ee000" stroke="#000" stroke-opacity="0.90" stroke-width="1.30"/>
<path d="M333.5 253.2C333.4 253.5 333.1 253.7 333.0 253.9C332.8 254.1 332.9 254.4 332.7 254.6C332.6 254.8 332.3 254.9 332.0 255.1C331.8 255.3 331.6 255.5 331.4 255.6C331.1 255.8 330.7 255.8 330.4 255.8C330.1 255.8 329.8 255.6 329.4 255.6C329.1 255.6 328.7 255.7 328.4 255.7C328.0 255.6 327.6 255.5 327.4 255.3C327.2 255.1 327.2 254.8 327.1 254.6C327.0 254.3 326.8 254.1 326.7 253.9C326.7 253.7 326.7 253.5 326.7 253.2C326.7 253.0 326.5 252.7 326.5 252.5C326.5 252.2 326.5 251.9 326.7 251.7C326.9 251.5 327.4 251.4 327.7 251.3C328.0 251.2 328.2 251.1 328.5 251.0C328.8 250.8 329.1 250.6 329.4 250.5C329.7 250.5 330.0 250.7 330.4 250.7C330.7 250.8 331.0 250.8 331.3 250.9C331.6 251.0 331.8 251.2 332.0 251.4C332.2 251.6 332.4 251.7 332.7 251.9C332.9 252.0 333.4 252.2 333.6 252.4C333.7 252.6 333.6 253.0 333.5 253.2Z" fill="#7ee000" stroke="#000" stroke-opacity="0.75" stroke-width="0.45"/>
<path d="M316.6 254.1C316.5 254.3 316.5 254.5 316.4 254.7C316.3 254.8 316.3 255.0 316.2 255.2C316.1 255.4 316.0 255.6 315.8 255.7C315.7 255.9 315.5 256.0 315.3 256.1C315.1 256.1 314.9 256.2 314.7 256.2C314.5 256.2 314.3 256.1 314.1 256.1C313.9 256.1 313.7 256.2 313.5 256.2C313.3 256.1 313.1 255.9 312.9 255.8C312.8 255.6 312.7 255.4 312.7 255.2C312.6 255.0 312.6 254.8 312.5 254.6C312.4 254.5 312.4 254.3 312.3 254.1C312.3 253.9 312.3 253.7 312.3 253.5C312.3 253.2 312.3 253.0 312.5 252.8C312.6 252.7 312.9 252.7 313.1 252.5C313.3 252.4 313.4 252.2 313.5 252.1C313.7 252.0 313.9 251.9 314.1 251.9C314.3 251.9 314.5 251.9 314.7 251.9C314.9 252.0 315.1 252.1 315.3 252.2C315.4 252.3 315.6 252.4 315.8 252.5C315.9 252.7 316.1 252.8 316.2 252.9C316.4 253.1 316.7 253.2 316.7 253.4C316.8 253.6 316.6 253.9 316.6 254.1Z" fill="#f0f000" stroke="#000" stroke-opacity="0.75" stroke-width="0.45"/>
<path d="M301.3 249.5C301.8 249.7 302.3 249.7 302.7 250.0C303.0 250.4 303.2 250.9 303.3 251.5C303.4 252.1 303.6 252.8 303.3 253.6C303.0 254.4 302.2 255.4 301.8 256.2C301.4 257.0 301.4 257.8 301.1 258.6C300.7 259.4 300.1 260.3 299.5 260.9C298.9 261.6 298.1 262.1 297.5 262.6C296.9 263.0 296.3 263.3 295.6 263.7C295.0 264.1 294.4 264.6 293.7 264.9C293.1 265.2 292.5 265.4 291.8 265.6C291.2 265.7 290.3 266.1 289.9 265.8C289.6 265.4 290.0 264.1 289.9 263.4C289.9 262.8 289.8 262.3 289.8 261.7C289.7 261.1 289.5 260.5 289.6 259.9C289.6 259.2 289.8 258.4 290.1 257.6C290.4 256.8 290.9 256.0 291.4 255.2C291.9 254.4 292.4 253.6 293.0 253.0C293.5 252.3 294.2 251.9 294.8 251.2C295.5 250.5 296.2 249.2 296.8 248.8C297.4 248.3 298.2 248.5 298.7 248.5C299.2 248.6 299.6 248.9 300.0 249.1C300.5 249.3 300.9 249.4 301.3 249.5Z" fill="#f0f000" stroke="#000" stroke-opacity="0.75" stroke-width="0.45"/>
<path d="M301.4 249.5C301.6 249.8 301.3 250.8 301.5 251.2C301.7 251.6 302.3 251.6 302.5 252.0C302.8 252.4 303.1 253.0 303.0 253.6C302.9 254.3 302.2 255.3 301.8 256.1C301.3 256.9 301.0 257.7 300.5 258.3C300.0 259.0 299.3 259.6 298.8 260.2C298.3 260.8 297.8 261.3 297.3 262.0C296.7 262.7 296.1 263.7 295.5 264.1C294.9 264.5 294.4 264.3 293.8 264.3C293.3 264.3 292.9 264.3 292.4 264.4C291.9 264.4 291.0 264.9 290.6 264.8C290.3 264.6 290.2 263.9 290.0 263.4C289.9 262.9 289.7 262.4 289.8 261.8C289.8 261.1 290.2 260.3 290.5 259.6C290.7 258.9 291.1 258.2 291.3 257.5C291.5 256.8 291.3 256.1 291.6 255.3C291.8 254.5 292.5 253.6 293.1 253.0C293.6 252.4 294.4 252.1 295.0 251.6C295.6 251.1 296.2 250.4 296.8 250.0C297.4 249.7 297.9 249.7 298.5 249.5C299.0 249.3 299.6 249.0 300.1 249.0C300.6 249.0 301.1 249.1 301.4 249.5Z" fill="none" stroke="#000" stroke-opacity="0.60" stroke-width="0.35"/>
<path d="M299.9 250.2C300.2 250.5 300.4 250.8 300.5 251.1C300.7 251.5 300.8 251.9 300.9 252.4C301.0 252.8 301.3 253.2 301.2 253.8C301.0 254.4 300.5 255.2 300.2 255.9C300.0 256.6 299.9 257.2 299.7 257.9C299.4 258.7 299.1 259.6 298.7 260.3C298.2 260.9 297.5 261.5 297.0 261.9C296.4 262.3 295.9 262.4 295.4 262.6C294.9 262.9 294.5 263.0 294.1 263.1C293.6 263.2 293.3 263.3 292.8 263.5C292.3 263.7 291.5 264.4 291.1 264.4C290.7 264.3 290.5 263.7 290.4 263.2C290.3 262.8 290.4 262.1 290.3 261.6C290.3 261.0 290.1 260.6 290.2 260.0C290.3 259.4 290.5 258.6 290.8 257.9C291.1 257.2 291.6 256.5 292.0 255.9C292.4 255.2 292.8 254.6 293.3 254.1C293.7 253.5 294.2 253.3 294.7 252.7C295.2 252.0 295.6 251.0 296.1 250.4C296.6 249.8 297.4 249.2 297.8 249.0C298.3 248.9 298.7 249.3 299.1 249.5C299.4 249.7 299.7 249.9 299.9 250.2Z" fill="#ff9a00" stroke="#000" stroke-opacity="0.75" stroke-width="0.45"/>
<path d="M299.6 250.7C299.8 250.9 300.1 251.1 300.3 251.3C300.6 251.6 300.9 251.8 301.0 252.2C301.1 252.6 300.9 253.4 300.8 254.0C300.6 254.6 300.6 255.2 300.3 255.8C300.0 256.5 299.4 257.1 299.0 257.7C298.6 258.3 298.3 258.8 297.9 259.4C297.5 260.0 297.2 260.9 296.8 261.4C296.4 262.0 295.8 262.4 295.3 262.7C294.8 263.0 294.4 263.1 294.0 263.3C293.5 263.4 293.0 263.7 292.6 263.7C292.3 263.7 292.1 263.4 291.8 263.2C291.5 263.1 291.0 263.1 290.9 262.7C290.7 262.4 290.8 261.7 290.9 261.2C290.9 260.6 291.3 260.0 291.3 259.4C291.4 258.9 291.2 258.5 291.3 257.9C291.5 257.3 291.7 256.5 292.0 255.9C292.3 255.3 292.9 254.6 293.3 254.0C293.8 253.5 294.2 252.8 294.7 252.4C295.2 252.0 295.6 251.9 296.1 251.6C296.6 251.3 297.0 250.9 297.5 250.6C298.0 250.3 298.5 249.9 298.9 250.0C299.2 250.0 299.3 250.5 299.6 250.7Z" fill="none" stroke="#000" stroke-opacity="0.60" stroke-width="0.35"/>
<path d="M298.2 251.2C298.4 251.3 298.7 251.3 298.9 251.4C299.1 251.5 299.5 251.6 299.5 252.0C299.5 252.5 299.2 253.3 299.1 253.9C298.9 254.4 298.8 255.0 298.6 255.5C298.4 256.0 298.0 256.5 297.9 257.1C297.7 257.6 297.8 258.3 297.5 258.9C297.3 259.4 296.9 260.0 296.6 260.5C296.2 260.9 295.8 261.3 295.5 261.6C295.2 261.9 294.9 262.0 294.5 262.2C294.2 262.5 293.8 263.0 293.5 263.1C293.2 263.2 293.0 262.9 292.8 262.8C292.6 262.6 292.3 262.6 292.2 262.2C292.2 261.8 292.5 261.0 292.5 260.6C292.4 260.2 292.1 260.2 292.0 259.8C291.9 259.5 291.9 259.0 292.0 258.4C292.1 257.9 292.3 257.2 292.6 256.6C292.8 256.0 293.3 255.5 293.7 255.0C294.0 254.5 294.2 254.0 294.6 253.6C294.9 253.1 295.2 252.9 295.5 252.5C295.9 252.1 296.3 251.2 296.6 251.0C296.9 250.8 297.1 251.3 297.4 251.3C297.6 251.3 297.9 251.2 298.2 251.2Z" fill="#ff2a00" stroke="#000" stroke-opacity="0.75" stroke-width="0.45"/>
<rect x="234.8" y="195.2" width="137.1" height="120.7" fill="none" stroke="#2a2a2a" stroke-width="1.1"/>
<path d="M311.2 195.2V315.9M234.8 250.7H371.9" stroke="#111" stroke-width="1" fill="none" stroke-opacity="0.38"/>
<text transform="translate(247.4,327.0) scale(1.00,1)" class="tk" text-anchor="middle">0</text>
<text transform="translate(276.1,327.1) scale(0.82,1)" class="tk" text-anchor="end">10</text>
<text transform="translate(276.7,324.8) scale(0.85,1)" class="tk" text-anchor="start">3</text>
<text transform="translate(306.1,327.1) scale(0.82,1)" class="tk" text-anchor="end">10</text>
<text transform="translate(306.7,324.8) scale(0.85,1)" class="tk" text-anchor="start">4</text>
<text transform="translate(336.3,327.1) scale(0.82,1)" class="tk" text-anchor="end">10</text>
<text transform="translate(336.9,324.8) scale(0.85,1)" class="tk" text-anchor="start">5</text>
<text transform="translate(366.7,327.1) scale(0.82,1)" class="tk" text-anchor="end">10</text>
<text transform="translate(367.3,324.8) scale(0.85,1)" class="tk" text-anchor="start">6</text>
<text transform="translate(227.0,202.0) scale(0.82,1)" class="tk" text-anchor="end">10</text>
<text transform="translate(227.5,199.7) scale(0.85,1)" class="tk" text-anchor="start">6</text>
<text transform="translate(227.0,228.5) scale(0.82,1)" class="tk" text-anchor="end">10</text>
<text transform="translate(227.5,226.2) scale(0.85,1)" class="tk" text-anchor="start">5</text>
<text transform="translate(227.0,254.9) scale(0.82,1)" class="tk" text-anchor="end">10</text>
<text transform="translate(227.5,252.6) scale(0.85,1)" class="tk" text-anchor="start">4</text>
<text transform="translate(227.0,280.5) scale(0.82,1)" class="tk" text-anchor="end">10</text>
<text transform="translate(227.5,278.2) scale(0.85,1)" class="tk" text-anchor="start">3</text>
<text transform="translate(231.1,306.0) scale(1.00,1)" class="tk" text-anchor="end">0</text>
<path d="M247.4 315.9v2.6M279.9 315.9v2.6M259.2 315.9v2.2M309.9 315.9v2.6M340.1 315.9v2.6M370.5 315.9v2.6M234.8 197.3h-2.6M234.8 223.8h-2.6M234.8 250.2h-2.6M234.8 275.8h-2.6M234.8 291.8h-2.2M234.8 303.5h-2.6" stroke="#333" stroke-width="0.8" fill="none"/>
<path d="M265.4 315.9v1.5M269.1 315.9v1.5M271.7 315.9v1.5M273.7 315.9v1.5M275.3 315.9v1.5M276.7 315.9v1.5M277.9 315.9v1.5M279.0 315.9v1.5M288.9 315.9v1.5M294.2 315.9v1.5M298.0 315.9v1.5M300.9 315.9v1.5M303.3 315.9v1.5M305.3 315.9v1.5M307.0 315.9v1.5M308.6 315.9v1.5M319.0 315.9v1.5M324.3 315.9v1.5M328.1 315.9v1.5M331.0 315.9v1.5M333.4 315.9v1.5M335.4 315.9v1.5M337.2 315.9v1.5M338.7 315.9v1.5M349.3 315.9v1.5M354.6 315.9v1.5M358.4 315.9v1.5M361.4 315.9v1.5M363.8 315.9v1.5M365.8 315.9v1.5M367.6 315.9v1.5M369.1 315.9v1.5M234.8 215.8h-1.5M234.8 211.1h-1.5M234.8 207.8h-1.5M234.8 205.2h-1.5M234.8 203.1h-1.5M234.8 201.4h-1.5M234.8 199.8h-1.5M234.8 198.5h-1.5M234.8 242.3h-1.5M234.8 237.6h-1.5M234.8 234.3h-1.5M234.8 231.8h-1.5M234.8 229.7h-1.5M234.8 227.9h-1.5M234.8 226.4h-1.5M234.8 225.0h-1.5M234.8 268.1h-1.5M234.8 263.6h-1.5M234.8 260.4h-1.5M234.8 257.9h-1.5M234.8 255.9h-1.5M234.8 254.2h-1.5M234.8 252.7h-1.5M234.8 251.4h-1.5M234.8 287.0h-1.5M234.8 284.2h-1.5M234.8 282.2h-1.5M234.8 280.6h-1.5M234.8 279.4h-1.5M234.8 278.3h-1.5M234.8 277.4h-1.5M234.8 276.6h-1.5" stroke="#333" stroke-width="0.7" fill="none"/></g>
<g><path d="M442.5 237.8h.01M410.6 271.3h.01M466.9 270.1h.01M400.0 292.1h.01M423.6 302.1h.01M426.7 251.5h.01M393.2 263.5h.01M441.1 291.4h.01M436.7 256.7h.01M442.5 244.1h.01M442.6 256.5h.01M467.4 287.8h.01M439.2 251.6h.01M443.8 276.6h.01M416.3 258.8h.01M461.8 262.8h.01M441.1 295.0h.01M392.9 302.2h.01M455.3 258.3h.01M406.2 248.0h.01M453.4 223.7h.01M453.3 273.0h.01M412.9 260.9h.01M420.8 265.9h.01M452.3 255.0h.01M457.4 287.8h.01M423.7 281.0h.01M416.4 271.0h.01M442.5 304.9h.01M428.7 267.3h.01M430.8 266.7h.01M403.0 303.8h.01M414.4 259.4h.01M412.2 282.4h.01M454.7 276.3h.01M429.4 251.9h.01M448.6 268.4h.01M482.3 265.1h.01" stroke="#4a4a4a" stroke-opacity="0.60" stroke-width="1" stroke-linecap="round" fill="none"/>
<path d="M464.4 195.2V315.9M388.8 250.2H526.5" stroke="#222" stroke-width="1" fill="none" stroke-opacity="0.7"/>
<path d="M465.5 206.0C467.3 205.6 469.1 205.9 470.9 206.4C472.7 206.9 474.3 208.3 476.3 209.0C478.2 209.7 480.8 209.7 482.7 210.7C484.6 211.7 486.7 213.2 487.6 215.0C488.6 216.8 488.5 219.3 488.5 221.5C488.5 223.6 487.5 226.1 487.6 227.9C487.7 229.7 489.4 230.8 489.1 232.2C488.9 233.6 487.2 235.3 485.9 236.5C484.7 237.8 482.7 238.5 481.6 239.7C480.6 241.0 480.4 242.6 479.5 244.0C478.6 245.5 477.5 246.9 476.3 248.3C475.0 249.7 473.4 251.4 472.0 252.6C470.5 253.9 469.1 254.8 467.7 255.8C466.2 256.9 464.8 258.3 463.4 259.1C461.9 259.8 460.3 260.5 459.1 260.1C457.8 259.8 456.8 258.2 455.9 256.9C455.0 255.7 454.8 253.8 453.7 252.6C452.6 251.4 451.0 250.5 449.4 249.8C447.8 249.1 445.8 248.9 444.1 248.3C442.3 247.7 440.5 246.9 438.7 246.2C436.9 245.5 435.1 244.6 433.3 244.0C431.5 243.5 429.4 243.5 427.9 242.9C426.5 242.4 425.3 242.1 424.7 240.8C424.2 239.5 424.4 237.0 424.7 235.4C425.1 233.8 426.7 232.6 426.9 231.1C427.1 229.7 425.3 228.3 425.8 226.8C426.3 225.4 428.5 223.6 430.1 222.5C431.7 221.5 433.7 220.9 435.5 220.4C437.3 219.9 439.0 220.2 440.8 219.3C442.6 218.4 444.8 216.5 446.2 215.0C447.6 213.6 448.0 211.6 449.4 210.7C450.9 209.8 453.0 209.9 454.8 209.7C456.6 209.4 458.4 209.6 460.2 209.0C461.9 208.4 463.7 206.4 465.5 206.0Z" fill="#0430f5" stroke="#000" stroke-opacity="0.75" stroke-width="0.45"/>
<path d="M456.1 205.4C456.1 205.7 456.0 206.2 455.8 206.5C455.6 206.7 455.1 206.8 454.7 206.9C454.3 207.0 453.8 207.2 453.5 207.1C453.2 207.0 452.8 206.6 452.6 206.4C452.4 206.1 452.3 205.7 452.3 205.4C452.4 205.1 452.6 204.8 452.7 204.5C452.9 204.2 453.1 203.7 453.5 203.5C453.8 203.4 454.4 203.6 454.7 203.8C455.1 203.9 455.5 204.1 455.7 204.3C455.9 204.6 456.0 205.0 456.1 205.4Z" fill="#0430f5" stroke="#000" stroke-opacity="0.75" stroke-width="0.45"/>
<path d="M431.2 227.9C432.4 226.7 434.7 225.6 436.5 224.7C438.3 223.8 440.1 223.6 441.9 222.5C443.7 221.5 445.7 219.7 447.3 218.3C448.9 216.8 449.8 214.9 451.6 214.0C453.4 213.1 455.9 213.4 458.0 212.9C460.2 212.3 462.3 210.9 464.5 210.7C466.6 210.6 468.7 211.3 470.9 211.8C473.0 212.3 475.4 212.9 477.3 214.0C479.3 215.0 481.6 216.6 482.7 218.3C483.8 219.9 483.8 221.7 483.8 223.6C483.8 225.6 483.2 228.1 482.7 230.1C482.2 232.0 481.6 233.6 480.6 235.4C479.5 237.2 477.7 239.0 476.3 240.8C474.8 242.6 473.6 244.6 472.0 246.2C470.4 247.8 468.4 249.4 466.6 250.5C464.8 251.5 462.8 252.6 461.2 252.6C459.6 252.6 458.4 251.4 456.9 250.5C455.5 249.6 454.3 248.1 452.6 247.2C451.0 246.4 449.1 246.1 447.3 245.5C445.5 245.0 443.7 244.6 441.9 244.0C440.1 243.4 438.3 242.6 436.5 241.9C434.7 241.2 432.6 240.6 431.2 239.7C429.7 238.8 428.3 237.8 427.9 236.5C427.6 235.3 428.5 233.6 429.0 232.2C429.6 230.8 429.9 229.2 431.2 227.9Z" fill="#14a0f5" stroke="#000" stroke-opacity="0.75" stroke-width="0.45"/>
<path d="M445.0 232.2C445.3 232.7 445.6 233.3 445.4 233.8C445.2 234.3 444.4 234.8 443.6 235.2C442.8 235.5 441.6 235.6 440.7 235.8C439.8 236.0 438.9 236.0 437.9 236.2C437.0 236.3 435.8 236.7 435.0 236.6C434.1 236.5 433.7 235.7 432.8 235.5C431.9 235.2 430.4 235.4 429.6 235.1C428.7 234.8 428.0 234.3 427.6 233.8C427.3 233.3 427.3 232.7 427.6 232.2C427.8 231.7 428.8 231.3 429.3 230.9C429.8 230.5 430.2 230.2 430.6 229.7C431.0 229.3 431.2 228.5 431.9 228.2C432.6 227.9 434.0 228.1 435.0 228.0C436.1 227.9 437.1 227.8 438.1 227.8C439.1 227.9 440.2 228.1 441.0 228.3C441.9 228.6 442.8 229.0 443.2 229.4C443.6 229.9 443.1 230.5 443.4 231.0C443.7 231.4 444.6 231.7 445.0 232.2Z" fill="#12dcff" stroke="#000" stroke-opacity="0.75" stroke-width="0.45"/>
<path d="M389.3 271.9C390.0 271.0 393.2 270.8 394.7 269.8C396.1 268.8 396.8 266.5 397.9 266.1C399.0 265.8 400.7 266.7 401.1 267.6C401.5 268.6 400.1 270.7 400.5 271.9C400.8 273.2 403.3 274.3 403.3 275.2C403.2 276.1 401.5 277.3 400.0 277.3C398.6 277.3 396.3 275.5 394.7 275.2C393.1 274.8 391.3 275.7 390.4 275.2C389.5 274.6 388.6 272.8 389.3 271.9Z" fill="#0430f5" stroke="#000" stroke-opacity="0.75" stroke-width="0.45"/>
<path d="M418.3 265.5C418.6 264.8 421.1 264.2 422.6 264.4C424.0 264.6 425.4 266.1 426.9 266.6C428.3 267.0 430.8 266.3 431.2 267.0C431.5 267.7 429.7 269.5 429.0 270.9C428.3 272.2 427.8 275.0 426.9 275.2C426.0 275.3 424.7 273.0 423.7 271.9C422.6 270.9 421.3 269.8 420.4 268.7C419.5 267.6 417.9 266.2 418.3 265.5Z" fill="#0430f5" stroke="#000" stroke-opacity="0.75" stroke-width="0.45"/>
<path d="M435.5 263.3C435.6 261.9 437.6 259.4 438.7 259.1C439.8 258.7 440.7 260.7 441.9 261.2C443.2 261.7 445.8 261.6 446.2 262.3C446.6 263.0 444.9 264.2 444.1 265.5C443.2 266.7 441.9 269.4 440.8 269.8C439.8 270.1 438.5 268.7 437.6 267.6C436.7 266.6 435.3 264.8 435.5 263.3Z" fill="#0430f5" stroke="#000" stroke-opacity="0.75" stroke-width="0.45"/>
<path d="M453.8 269.1C453.8 269.5 453.6 269.9 453.4 270.1C453.1 270.4 452.8 270.5 452.5 270.6C452.2 270.7 451.8 270.9 451.5 270.8C451.1 270.7 450.8 270.4 450.6 270.2C450.4 269.9 450.3 269.5 450.3 269.1C450.3 268.8 450.4 268.4 450.5 268.1C450.7 267.8 451.1 267.4 451.4 267.4C451.7 267.3 452.2 267.5 452.5 267.6C452.8 267.7 453.1 267.9 453.4 268.2C453.6 268.4 453.8 268.8 453.8 269.1Z" fill="#0430f5" stroke="#000" stroke-opacity="0.75" stroke-width="0.45"/>
<path d="M436.8 279.0C436.9 279.2 436.5 279.4 436.1 279.5C435.8 279.7 435.3 279.8 434.8 279.9C434.3 279.9 433.7 279.9 433.2 279.8C432.7 279.8 432.1 279.7 431.9 279.5C431.6 279.4 431.6 279.2 431.5 279.0C431.5 278.8 431.5 278.6 431.8 278.5C432.0 278.4 432.7 278.3 433.2 278.2C433.7 278.2 434.3 278.2 434.7 278.2C435.2 278.3 435.6 278.4 435.9 278.5C436.3 278.7 436.8 278.9 436.8 279.0Z" fill="#0430f5" stroke="#000" stroke-opacity="0.75" stroke-width="0.45"/>
<path d="M428.9 284.8C428.8 285.2 428.9 285.6 428.8 285.9C428.8 286.1 428.5 286.4 428.3 286.5C428.1 286.6 427.8 286.8 427.6 286.6C427.4 286.5 427.3 286.0 427.2 285.7C427.0 285.4 426.8 285.1 426.8 284.8C426.7 284.5 427.0 284.1 427.1 283.9C427.3 283.6 427.4 283.3 427.6 283.2C427.8 283.1 428.0 283.2 428.3 283.3C428.5 283.4 428.8 283.4 428.9 283.7C429.0 283.9 428.9 284.5 428.9 284.8Z" fill="#0430f5" stroke="#000" stroke-opacity="0.75" stroke-width="0.45"/>
<path d="M399.1 289.4C399.2 289.6 399.5 289.9 399.3 290.2C399.1 290.5 398.4 290.8 398.0 291.1C397.5 291.3 396.9 291.5 396.5 291.6C396.0 291.7 395.7 291.5 395.3 291.5C394.9 291.4 394.3 291.3 394.2 291.1C394.1 290.9 394.5 290.5 394.7 290.2C395.0 289.9 395.2 289.5 395.6 289.3C396.0 289.0 396.6 288.9 397.1 288.8C397.6 288.7 398.3 288.6 398.6 288.7C398.9 288.8 399.0 289.1 399.1 289.4Z" fill="#0430f5" stroke="#000" stroke-opacity="0.75" stroke-width="0.45"/>
<path d="M412.2 238.0C412.3 238.2 412.5 238.3 412.5 238.4C412.4 238.6 412.0 238.8 411.8 239.0C411.6 239.1 411.4 239.3 411.2 239.3C410.9 239.4 410.7 239.4 410.5 239.4C410.3 239.4 410.0 239.5 410.0 239.4C409.9 239.3 410.1 239.0 410.2 238.8C410.3 238.7 410.3 238.5 410.5 238.3C410.7 238.2 411.0 238.0 411.2 237.9C411.5 237.9 411.8 237.8 411.9 237.8C412.1 237.8 412.2 237.9 412.2 238.0Z" fill="#223" stroke="#000" stroke-opacity="0.75" stroke-width="0.45"/>
<path d="M478.3 219.6C479.3 220.8 478.3 223.2 478.5 224.9C478.7 226.6 479.4 228.2 479.3 229.8C479.1 231.5 478.2 233.2 477.4 234.9C476.7 236.5 476.1 238.4 474.8 239.8C473.6 241.1 471.7 242.2 470.1 243.2C468.5 244.2 466.8 245.3 465.1 245.8C463.4 246.3 461.7 245.5 459.8 246.1C458.0 246.6 455.9 249.1 454.0 249.3C452.2 249.6 450.4 248.4 448.8 247.6C447.2 246.9 445.5 246.1 444.5 244.9C443.4 243.6 443.1 241.8 442.5 240.3C441.9 238.8 441.1 237.5 440.9 235.9C440.6 234.4 440.9 232.8 440.9 231.1C441.0 229.5 440.3 227.5 441.1 226.0C442.0 224.5 444.6 223.7 445.8 222.2C447.0 220.7 447.0 218.4 448.3 217.1C449.6 215.7 451.6 214.7 453.4 213.9C455.2 213.1 457.3 212.2 459.1 212.1C461.0 212.0 462.8 212.9 464.5 213.4C466.1 213.9 467.7 214.4 469.1 215.1C470.5 215.8 471.3 217.0 472.8 217.8C474.4 218.5 477.4 218.4 478.3 219.6Z" fill="#12dcff" stroke="#000" stroke-opacity="0.75" stroke-width="0.45"/>
<path d="M476.8 220.5C477.4 221.8 477.2 223.7 477.1 225.2C477.1 226.7 476.5 228.1 476.5 229.7C476.5 231.2 477.8 233.1 477.1 234.5C476.4 235.9 473.7 236.8 472.3 238.0C470.9 239.1 470.1 240.4 468.8 241.5C467.5 242.5 466.0 243.3 464.5 244.2C462.9 245.1 461.4 246.2 459.6 246.9C457.9 247.5 455.7 248.3 454.1 248.1C452.4 248.0 450.6 247.1 449.5 246.1C448.4 245.0 448.7 242.7 447.6 241.7C446.5 240.7 444.0 241.0 443.1 239.9C442.2 238.9 442.5 237.1 442.2 235.7C442.0 234.3 441.5 232.8 441.7 231.3C441.8 229.8 442.5 228.3 443.2 226.8C443.9 225.3 444.9 224.0 445.9 222.5C446.9 221.1 447.8 219.5 449.2 218.2C450.5 217.0 452.2 215.2 453.9 215.0C455.6 214.7 457.7 216.5 459.4 216.5C461.1 216.6 462.6 215.4 464.2 215.4C465.8 215.3 467.3 215.6 468.8 215.9C470.4 216.3 472.3 216.4 473.7 217.2C475.0 217.9 476.3 219.2 476.8 220.5Z" fill="none" stroke="#000" stroke-opacity="0.60" stroke-width="0.35"/>
<path d="M478.0 219.8C479.0 220.9 479.4 222.8 479.3 224.5C479.2 226.1 478.2 227.9 477.5 229.5C476.7 231.0 475.4 232.2 474.9 233.7C474.3 235.2 474.9 237.1 474.2 238.5C473.4 240.0 471.9 241.2 470.5 242.5C469.1 243.7 467.6 245.3 466.0 245.9C464.3 246.4 462.2 245.5 460.5 245.6C458.7 245.7 457.1 246.4 455.4 246.5C453.7 246.6 451.7 246.6 450.2 246.1C448.7 245.5 447.1 244.5 446.3 243.3C445.6 242.0 446.0 239.9 445.5 238.5C444.9 237.2 443.4 236.4 442.9 235.1C442.3 233.8 442.3 232.3 442.0 230.7C441.8 229.1 440.8 227.0 441.5 225.5C442.1 224.0 444.5 222.7 446.0 221.5C447.6 220.4 449.2 219.6 450.7 218.7C452.2 217.8 453.4 216.9 455.0 215.9C456.5 215.0 458.2 213.3 459.8 213.0C461.5 212.7 463.2 213.7 464.8 214.1C466.4 214.4 468.2 214.3 469.6 214.9C471.0 215.6 471.7 216.9 473.1 217.7C474.5 218.5 477.0 218.6 478.0 219.8Z" fill="#00c8a0" stroke="#000" stroke-opacity="0.75" stroke-width="0.45"/>
<path d="M475.5 221.2C476.3 222.2 476.1 223.8 476.4 225.2C476.7 226.5 477.3 227.9 477.2 229.3C477.1 230.7 476.1 232.0 475.6 233.6C475.2 235.1 475.6 237.3 474.6 238.5C473.5 239.7 470.8 240.1 469.1 240.7C467.5 241.3 466.0 241.8 464.5 242.2C463.1 242.6 461.8 242.7 460.2 243.2C458.7 243.8 457.0 245.2 455.4 245.4C453.8 245.7 452.1 245.3 450.7 244.9C449.2 244.5 447.3 244.1 446.4 243.0C445.6 241.9 446.2 239.7 445.7 238.4C445.1 237.1 443.3 236.5 442.9 235.2C442.6 234.0 443.3 232.3 443.7 230.8C444.2 229.4 444.7 228.0 445.6 226.7C446.4 225.5 447.8 224.6 448.7 223.3C449.6 222.1 449.8 220.3 450.9 219.1C451.9 217.8 453.5 216.8 455.0 215.8C456.5 214.8 458.5 213.1 460.0 213.2C461.6 213.2 463.1 215.2 464.6 215.8C466.0 216.5 467.3 216.4 468.6 216.9C469.8 217.4 470.9 218.2 472.1 218.9C473.2 219.6 474.8 220.1 475.5 221.2Z" fill="none" stroke="#000" stroke-opacity="0.60" stroke-width="0.35"/>
<path d="M475.4 221.2C476.0 222.4 477.0 223.5 477.0 224.9C477.0 226.2 475.6 227.7 475.6 229.1C475.6 230.5 477.2 232.1 477.0 233.5C476.7 235.0 475.1 236.3 474.0 237.6C472.9 238.8 471.7 240.1 470.3 240.9C468.8 241.8 467.0 241.9 465.5 242.4C464.0 242.9 462.5 243.7 461.1 243.9C459.6 244.2 458.1 244.0 456.6 244.0C455.0 244.1 452.8 244.9 451.6 244.4C450.4 243.8 450.3 241.6 449.3 240.6C448.3 239.6 446.4 239.5 445.5 238.5C444.6 237.5 444.3 235.9 444.0 234.6C443.7 233.2 443.3 231.7 443.7 230.3C444.1 228.8 445.4 227.4 446.2 226.1C447.1 224.8 447.7 223.5 448.7 222.4C449.8 221.3 451.2 220.7 452.4 219.5C453.5 218.3 454.1 215.8 455.4 215.0C456.8 214.2 458.9 214.9 460.5 214.9C462.2 214.8 463.8 214.3 465.3 214.5C466.7 214.7 468.0 215.4 469.4 216.0C470.7 216.5 472.3 216.9 473.3 217.7C474.3 218.6 474.8 220.0 475.4 221.2Z" fill="#08c818" stroke="#000" stroke-opacity="0.75" stroke-width="0.45"/>
<path d="M474.7 221.6C475.6 222.5 476.9 223.5 477.3 224.6C477.7 225.8 477.8 227.5 477.3 228.8C476.8 230.2 475.5 231.6 474.4 232.7C473.3 233.8 471.7 234.3 470.8 235.5C469.9 236.6 470.1 238.5 469.2 239.5C468.2 240.6 466.6 241.3 465.2 241.8C463.8 242.4 462.3 242.8 460.9 243.0C459.4 243.2 458.0 243.2 456.6 243.1C455.2 243.1 453.7 243.0 452.4 242.7C451.0 242.4 449.4 242.0 448.5 241.2C447.5 240.4 446.5 239.2 446.4 237.9C446.4 236.6 447.9 234.8 448.0 233.5C448.0 232.2 446.9 231.5 446.7 230.3C446.4 229.2 446.2 227.7 446.5 226.4C446.8 225.1 447.3 223.5 448.3 222.3C449.2 221.2 450.8 220.2 452.2 219.4C453.6 218.7 455.2 218.4 456.6 217.9C458.0 217.4 459.3 217.1 460.7 216.6C462.2 216.2 464.0 215.0 465.3 215.2C466.6 215.4 467.4 217.1 468.4 217.9C469.4 218.6 470.4 219.0 471.4 219.6C472.5 220.3 473.7 220.8 474.7 221.6Z" fill="none" stroke="#000" stroke-opacity="0.60" stroke-width="0.35"/>
<path d="M472.4 229.0C472.4 229.9 471.1 230.9 470.7 231.8C470.2 232.8 470.1 233.7 469.6 234.6C469.2 235.5 468.7 236.5 468.0 237.3C467.2 238.1 466.3 238.9 465.3 239.4C464.3 239.8 463.0 240.2 461.9 240.2C460.8 240.2 459.5 239.9 458.5 239.4C457.5 239.0 457.0 237.8 456.0 237.4C455.0 237.1 453.4 237.7 452.4 237.3C451.4 236.9 450.8 235.8 450.2 234.9C449.6 234.0 449.1 233.1 448.8 232.1C448.5 231.1 448.4 230.0 448.4 229.0C448.4 228.0 448.6 226.9 448.9 225.9C449.2 224.9 449.6 224.0 450.2 223.1C450.8 222.2 451.4 221.0 452.3 220.6C453.3 220.2 454.9 220.8 456.0 220.5C457.0 220.2 457.6 219.1 458.5 218.6C459.5 218.2 460.8 217.9 461.9 217.9C463.0 217.9 464.3 218.1 465.3 218.6C466.3 219.0 467.3 219.8 468.0 220.6C468.7 221.4 469.2 222.4 469.6 223.4C470.0 224.3 470.1 225.2 470.6 226.2C471.0 227.1 472.3 228.0 472.4 229.0Z" fill="#7ee000" stroke="#000" stroke-opacity="0.75" stroke-width="0.45"/>
<path d="M470.5 229.0C470.5 229.9 470.5 230.8 470.2 231.6C470.0 232.5 469.5 233.3 469.0 234.1C468.5 234.9 468.0 235.7 467.2 236.3C466.5 236.9 465.6 237.4 464.6 237.8C463.7 238.2 462.7 238.3 461.7 238.5C460.7 238.8 459.5 239.4 458.5 239.3C457.5 239.2 456.4 238.6 455.6 238.0C454.7 237.4 454.1 236.6 453.5 235.9C452.8 235.2 452.1 234.6 451.6 233.9C451.0 233.2 450.6 232.4 450.2 231.6C449.7 230.8 449.2 229.9 449.0 229.0C448.8 228.1 448.8 227.0 449.2 226.1C449.5 225.2 450.6 224.6 451.2 223.8C451.9 223.1 452.3 222.2 453.0 221.6C453.7 220.9 454.7 220.4 455.6 220.1C456.6 219.8 457.7 219.8 458.7 219.8C459.7 219.7 460.7 219.7 461.6 219.8C462.6 219.9 463.5 220.2 464.5 220.5C465.4 220.8 466.5 221.0 467.4 221.5C468.3 222.0 469.6 222.5 470.1 223.3C470.6 224.0 470.5 225.3 470.6 226.3C470.6 227.2 470.6 228.1 470.5 229.0Z" fill="none" stroke="#000" stroke-opacity="0.60" stroke-width="0.35"/>
<path d="M470.6 228.6C470.7 229.5 470.6 230.6 470.1 231.4C469.7 232.2 468.6 232.8 468.0 233.5C467.3 234.1 466.8 234.8 466.1 235.3C465.4 235.8 464.6 235.9 463.9 236.5C463.1 237.0 462.5 238.3 461.6 238.6C460.8 238.9 459.7 238.4 458.8 238.1C457.9 237.8 457.1 237.3 456.2 236.9C455.4 236.5 454.6 236.2 453.8 235.8C453.0 235.3 452.0 234.7 451.5 234.0C451.1 233.2 451.1 232.1 451.0 231.2C450.8 230.3 450.6 229.4 450.8 228.6C450.9 227.7 451.8 227.1 452.0 226.2C452.1 225.3 451.5 224.2 451.7 223.2C451.9 222.3 452.5 221.3 453.2 220.8C454.0 220.2 455.1 219.9 456.0 219.7C457.0 219.5 457.9 219.7 458.8 219.6C459.8 219.6 460.6 219.2 461.5 219.3C462.4 219.4 463.2 219.8 464.1 220.1C465.0 220.5 466.1 220.5 466.7 221.1C467.3 221.7 467.2 223.0 467.7 223.8C468.1 224.7 468.8 225.2 469.3 225.9C469.8 226.7 470.4 227.6 470.6 228.6Z" fill="#f0f000" stroke="#000" stroke-opacity="0.75" stroke-width="0.45"/>
<path d="M469.8 228.6C469.8 229.4 469.0 230.1 468.7 230.9C468.4 231.7 468.4 232.6 468.0 233.3C467.5 234.0 466.9 234.8 466.2 235.1C465.5 235.5 464.4 235.5 463.6 235.6C462.8 235.8 462.1 235.8 461.3 236.1C460.5 236.4 459.6 237.4 458.8 237.5C458.0 237.6 457.1 236.9 456.3 236.6C455.4 236.3 454.2 236.3 453.7 235.7C453.1 235.1 453.0 233.8 452.8 233.0C452.5 232.2 452.4 231.5 452.1 230.8C451.8 230.1 451.3 229.3 451.2 228.6C451.1 227.8 451.3 226.9 451.6 226.2C451.9 225.5 452.8 225.0 453.2 224.3C453.6 223.6 453.4 222.4 454.0 221.8C454.5 221.2 455.5 221.0 456.3 220.6C457.1 220.2 457.9 219.4 458.7 219.3C459.6 219.2 460.7 219.7 461.4 220.1C462.2 220.5 462.7 221.3 463.4 221.7C464.2 222.1 464.9 222.2 465.7 222.5C466.4 222.9 467.6 223.1 468.1 223.7C468.6 224.3 468.5 225.4 468.7 226.2C469.0 227.0 469.8 227.8 469.8 228.6Z" fill="none" stroke="#000" stroke-opacity="0.60" stroke-width="0.35"/>
<path d="M466.9 227.2C467.0 228.0 466.5 228.8 466.4 229.6C466.2 230.3 466.1 231.0 465.9 231.7C465.7 232.4 465.5 233.2 465.2 233.9C464.8 234.6 464.4 235.2 463.8 235.7C463.3 236.2 462.6 236.8 461.9 236.9C461.2 237.0 460.3 236.5 459.7 236.3C459.0 236.0 458.5 235.6 457.8 235.5C457.1 235.4 456.2 235.8 455.6 235.6C454.9 235.4 454.3 234.8 453.8 234.2C453.3 233.6 453.0 232.8 452.7 232.1C452.4 231.4 452.2 230.6 452.1 229.8C452.0 229.1 452.1 228.3 452.1 227.5C452.1 226.7 451.9 225.8 452.2 225.1C452.4 224.4 452.9 223.7 453.4 223.2C454.0 222.8 454.9 222.9 455.5 222.5C456.1 222.2 456.4 221.4 456.9 221.0C457.5 220.6 458.2 220.1 458.9 220.0C459.6 219.8 460.4 219.9 461.1 220.2C461.8 220.4 462.5 220.9 463.1 221.4C463.6 222.0 463.8 222.9 464.2 223.5C464.6 224.2 465.1 224.6 465.5 225.2C466.0 225.8 466.7 226.5 466.9 227.2Z" fill="#ff9a00" stroke="#000" stroke-opacity="0.75" stroke-width="0.45"/>
<path d="M465.8 227.4C465.9 228.1 466.3 228.8 466.2 229.5C466.1 230.1 465.6 230.7 465.3 231.3C465.1 232.0 465.1 232.8 464.7 233.3C464.3 233.8 463.4 233.8 462.9 234.1C462.4 234.5 462.0 234.9 461.4 235.3C460.9 235.7 460.3 236.4 459.6 236.6C459.0 236.8 458.1 236.8 457.5 236.4C456.9 236.1 456.5 235.1 456.0 234.6C455.5 234.1 454.9 233.8 454.6 233.3C454.2 232.7 454.2 232.0 453.9 231.4C453.5 230.8 452.7 230.4 452.4 229.8C452.2 229.1 452.2 228.3 452.4 227.6C452.5 227.0 452.9 226.3 453.1 225.7C453.3 225.0 453.5 224.4 453.8 223.7C454.1 223.1 454.4 222.2 455.0 221.9C455.5 221.5 456.5 221.8 457.1 221.7C457.8 221.6 458.4 221.4 459.0 221.5C459.6 221.6 460.1 222.3 460.7 222.5C461.3 222.6 462.0 222.2 462.7 222.3C463.4 222.4 464.2 222.7 464.7 223.2C465.2 223.6 465.5 224.5 465.7 225.2C465.9 225.9 465.7 226.7 465.8 227.4Z" fill="none" stroke="#000" stroke-opacity="0.60" stroke-width="0.35"/>
<path d="M463.2 228.7C463.1 229.3 462.6 229.7 462.4 230.2C462.2 230.7 462.1 231.2 461.9 231.7C461.7 232.2 461.5 232.7 461.2 233.1C460.9 233.4 460.5 233.6 460.2 233.8C459.8 234.0 459.5 234.4 459.1 234.4C458.8 234.5 458.4 234.1 458.1 234.0C457.7 233.9 457.3 234.1 456.9 233.9C456.5 233.8 456.0 233.6 455.8 233.1C455.6 232.7 455.7 231.8 455.7 231.2C455.7 230.6 455.7 230.1 455.6 229.6C455.6 229.0 455.4 228.6 455.4 228.0C455.4 227.5 455.5 226.9 455.5 226.3C455.6 225.7 455.6 225.0 455.8 224.5C456.1 224.0 456.6 223.8 456.9 223.5C457.3 223.3 457.6 223.2 458.0 223.0C458.4 222.7 458.7 222.1 459.1 222.1C459.4 222.0 459.8 222.2 460.2 222.5C460.5 222.7 460.7 223.1 461.0 223.4C461.3 223.7 461.6 223.9 461.9 224.2C462.1 224.5 462.3 225.0 462.5 225.5C462.8 225.9 463.2 226.3 463.4 226.8C463.5 227.4 463.4 228.1 463.2 228.7Z" fill="#ff2a00" stroke="#000" stroke-opacity="0.75" stroke-width="0.45"/>
<path d="M462.7 228.7C462.6 229.1 462.3 229.6 462.2 230.0C462.0 230.5 461.7 230.7 461.5 231.2C461.4 231.6 461.3 232.2 461.1 232.7C460.9 233.2 460.6 233.8 460.3 234.0C459.9 234.2 459.5 233.9 459.1 233.9C458.8 233.8 458.4 234.0 458.1 233.8C457.8 233.6 457.6 233.1 457.3 232.8C457.0 232.6 456.7 232.4 456.4 232.1C456.2 231.8 456.0 231.4 455.8 231.0C455.7 230.5 455.8 230.0 455.7 229.5C455.7 229.0 455.6 228.6 455.5 228.0C455.5 227.5 455.3 226.8 455.4 226.3C455.5 225.8 455.9 225.4 456.2 225.0C456.5 224.6 456.7 224.2 457.1 224.0C457.4 223.8 457.8 223.9 458.1 223.8C458.5 223.7 458.7 223.6 459.0 223.4C459.4 223.3 459.7 222.9 460.1 222.9C460.4 222.9 460.8 223.1 461.1 223.4C461.4 223.6 461.5 224.2 461.8 224.5C462.0 224.9 462.4 225.1 462.6 225.5C462.7 225.9 462.7 226.6 462.7 227.1C462.7 227.6 462.8 228.2 462.7 228.7Z" fill="none" stroke="#000" stroke-opacity="0.60" stroke-width="0.35"/>
<rect x="388.8" y="195.2" width="137.7" height="120.7" fill="none" stroke="#2a2a2a" stroke-width="1.1"/>
<path d="M464.4 195.2V315.9M388.8 250.2H526.5" stroke="#111" stroke-width="1" fill="none" stroke-opacity="0.38"/>
<text transform="translate(401.5,327.0) scale(1.00,1)" class="tk" text-anchor="middle">0</text>
<text transform="translate(430.3,327.1) scale(0.82,1)" class="tk" text-anchor="end">10</text>
<text transform="translate(430.9,324.8) scale(0.85,1)" class="tk" text-anchor="start">3</text>
<text transform="translate(460.5,327.1) scale(0.82,1)" class="tk" text-anchor="end">10</text>
<text transform="translate(461.1,324.8) scale(0.85,1)" class="tk" text-anchor="start">4</text>
<text transform="translate(490.8,327.1) scale(0.82,1)" class="tk" text-anchor="end">10</text>
<text transform="translate(491.4,324.8) scale(0.85,1)" class="tk" text-anchor="start">5</text>
<text transform="translate(521.3,327.1) scale(0.82,1)" class="tk" text-anchor="end">10</text>
<text transform="translate(521.9,324.8) scale(0.85,1)" class="tk" text-anchor="start">6</text>
<text transform="translate(381.0,202.0) scale(0.82,1)" class="tk" text-anchor="end">10</text>
<text transform="translate(381.5,199.7) scale(0.85,1)" class="tk" text-anchor="start">6</text>
<text transform="translate(381.0,228.5) scale(0.82,1)" class="tk" text-anchor="end">10</text>
<text transform="translate(381.5,226.2) scale(0.85,1)" class="tk" text-anchor="start">5</text>
<text transform="translate(381.0,254.9) scale(0.82,1)" class="tk" text-anchor="end">10</text>
<text transform="translate(381.5,252.6) scale(0.85,1)" class="tk" text-anchor="start">4</text>
<text transform="translate(381.0,280.5) scale(0.82,1)" class="tk" text-anchor="end">10</text>
<text transform="translate(381.5,278.2) scale(0.85,1)" class="tk" text-anchor="start">3</text>
<text transform="translate(385.1,306.0) scale(1.00,1)" class="tk" text-anchor="end">0</text>
<path d="M401.5 315.9v2.6M434.1 315.9v2.6M413.3 315.9v2.2M464.3 315.9v2.6M494.6 315.9v2.6M525.1 315.9v2.6M388.8 197.3h-2.6M388.8 223.8h-2.6M388.8 250.2h-2.6M388.8 275.8h-2.6M388.8 291.8h-2.2M388.8 303.5h-2.6" stroke="#333" stroke-width="0.8" fill="none"/>
<path d="M419.6 315.9v1.5M423.2 315.9v1.5M425.8 315.9v1.5M427.8 315.9v1.5M429.5 315.9v1.5M430.9 315.9v1.5M432.1 315.9v1.5M433.2 315.9v1.5M443.2 315.9v1.5M448.5 315.9v1.5M452.3 315.9v1.5M455.2 315.9v1.5M457.6 315.9v1.5M459.6 315.9v1.5M461.3 315.9v1.5M462.9 315.9v1.5M473.4 315.9v1.5M478.7 315.9v1.5M482.5 315.9v1.5M485.4 315.9v1.5M487.8 315.9v1.5M489.9 315.9v1.5M491.6 315.9v1.5M493.2 315.9v1.5M503.8 315.9v1.5M509.1 315.9v1.5M513.0 315.9v1.5M515.9 315.9v1.5M518.3 315.9v1.5M520.4 315.9v1.5M522.2 315.9v1.5M523.7 315.9v1.5M388.8 215.8h-1.5M388.8 211.1h-1.5M388.8 207.8h-1.5M388.8 205.2h-1.5M388.8 203.1h-1.5M388.8 201.4h-1.5M388.8 199.8h-1.5M388.8 198.5h-1.5M388.8 242.3h-1.5M388.8 237.6h-1.5M388.8 234.3h-1.5M388.8 231.8h-1.5M388.8 229.7h-1.5M388.8 227.9h-1.5M388.8 226.4h-1.5M388.8 225.0h-1.5M388.8 268.1h-1.5M388.8 263.6h-1.5M388.8 260.4h-1.5M388.8 257.9h-1.5M388.8 255.9h-1.5M388.8 254.2h-1.5M388.8 252.7h-1.5M388.8 251.4h-1.5M388.8 287.0h-1.5M388.8 284.2h-1.5M388.8 282.2h-1.5M388.8 280.6h-1.5M388.8 279.4h-1.5M388.8 278.3h-1.5M388.8 277.4h-1.5M388.8 276.6h-1.5" stroke="#333" stroke-width="0.7" fill="none"/></g>
<g><path d="M142.3 417.9h.01M142.1 409.5h.01M113.2 415.7h.01M198.7 407.1h.01M195.3 405.9h.01M168.7 409.9h.01M84.6 431.6h.01M173.8 412.2h.01M114.4 412.9h.01M164.6 408.3h.01M172.4 400.9h.01M165.5 412.6h.01M127.6 432.7h.01M177.1 418.7h.01M125.1 408.2h.01M137.6 412.5h.01M178.6 408.8h.01M131.8 404.8h.01M132.6 426.8h.01M119.0 419.3h.01M167.1 393.2h.01M156.3 423.5h.01M146.2 403.7h.01M172.5 406.8h.01M92.9 429.8h.01M181.3 415.4h.01M212.2 404.1h.01M154.7 397.3h.01M176.4 400.5h.01M131.1 401.8h.01M111.1 412.8h.01M201.8 381.6h.01M92.1 424.0h.01M212.7 406.2h.01M165.5 401.1h.01M107.4 428.8h.01M197.8 404.5h.01M162.9 413.5h.01M174.4 412.6h.01M89.4 435.1h.01M192.4 409.3h.01M183.7 387.0h.01M146.2 422.4h.01M100.6 436.4h.01M174.6 405.5h.01M166.6 415.0h.01M159.0 421.4h.01M123.9 411.7h.01M195.1 403.7h.01M117.2 426.7h.01M211.8 395.9h.01M94.7 419.7h.01M145.3 409.2h.01M208.3 390.6h.01M201.9 389.3h.01M120.5 423.0h.01M200.2 411.2h.01M166.5 409.9h.01M159.3 415.6h.01M145.2 415.0h.01M175.7 406.8h.01M184.6 411.0h.01M133.7 410.4h.01M153.1 420.2h.01M138.7 417.3h.01M105.9 421.6h.01M168.9 410.4h.01M135.3 420.6h.01M162.8 403.8h.01M128.9 414.1h.01M142.6 412.0h.01M191.7 392.1h.01M150.9 420.9h.01M190.0 419.4h.01M139.0 419.6h.01M192.5 376.6h.01M194.5 388.8h.01M177.7 391.3h.01M161.3 421.5h.01M146.2 414.0h.01M185.2 406.6h.01M151.0 426.7h.01M194.9 400.5h.01M189.4 401.7h.01M158.7 417.0h.01M162.3 415.7h.01M86.2 407.3h.01M175.8 397.0h.01M107.0 404.0h.01M205.7 409.1h.01M211.3 391.0h.01M150.1 399.8h.01M186.4 421.1h.01M117.9 432.9h.01M192.6 402.0h.01M147.0 405.8h.01M169.2 412.1h.01M212.2 390.0h.01M201.6 417.4h.01M211.8 398.6h.01M123.0 426.5h.01M157.0 411.4h.01M210.5 398.0h.01M164.1 402.7h.01M153.0 419.3h.01M157.6 423.5h.01M151.3 421.7h.01M216.5 416.0h.01M125.7 424.6h.01M101.0 419.9h.01M144.0 412.1h.01M127.9 417.6h.01M175.7 417.0h.01M141.6 400.0h.01M130.9 425.6h.01M195.0 411.5h.01M153.7 418.9h.01M156.8 398.2h.01M86.2 416.1h.01M189.2 398.7h.01M113.3 410.0h.01M88.4 421.0h.01M103.8 423.2h.01M122.1 396.6h.01M181.5 403.0h.01M163.2 404.4h.01M185.6 412.7h.01M180.1 409.4h.01M208.3 407.8h.01M167.0 387.2h.01M191.4 417.4h.01M138.9 408.5h.01M175.6 431.4h.01M114.8 424.6h.01M176.8 415.8h.01M114.4 416.7h.01M165.5 417.0h.01M150.2 409.3h.01M109.3 414.9h.01M189.1 405.5h.01M115.3 408.9h.01M173.9 380.8h.01M178.5 411.2h.01M150.1 416.6h.01M164.2 401.7h.01M210.0 419.2h.01M92.8 414.7h.01M164.4 410.7h.01M133.8 404.3h.01M100.3 406.5h.01M116.4 419.9h.01M150.5 416.6h.01M121.7 415.1h.01M171.6 411.4h.01M178.8 408.4h.01M140.0 421.1h.01M152.6 402.5h.01M126.1 415.6h.01M147.7 413.3h.01M152.3 412.7h.01M144.3 399.6h.01M171.3 418.3h.01M169.6 406.0h.01M168.8 398.2h.01M114.8 425.1h.01M102.6 393.0h.01M111.7 434.1h.01M133.8 400.3h.01M121.3 421.7h.01M172.9 409.1h.01M214.6 407.1h.01M152.2 417.0h.01M192.5 392.9h.01M147.1 419.3h.01M141.6 423.7h.01M178.2 415.6h.01M147.6 437.6h.01M202.9 399.8h.01M160.3 435.9h.01M139.3 422.1h.01M192.6 403.9h.01M104.1 421.4h.01M168.8 419.5h.01M184.4 405.5h.01M188.2 410.1h.01M160.6 410.0h.01M143.1 419.5h.01M107.3 412.5h.01M149.7 396.5h.01M130.5 394.4h.01M124.7 421.6h.01M175.3 406.3h.01M139.9 398.7h.01M195.7 394.3h.01M141.2 394.4h.01M185.9 414.5h.01M175.0 389.1h.01M123.5 401.8h.01M153.7 413.2h.01M179.4 413.3h.01M216.2 411.5h.01M96.9 415.6h.01M106.3 408.1h.01M148.6 411.6h.01M169.5 391.8h.01M100.8 419.8h.01M143.2 409.4h.01M148.1 404.0h.01M181.6 409.4h.01M147.2 405.0h.01M140.1 385.5h.01M111.5 418.5h.01M90.1 423.9h.01M155.7 396.4h.01M141.1 409.7h.01M172.1 413.7h.01M149.0 402.9h.01M145.9 411.4h.01M182.9 408.5h.01M119.8 402.9h.01M135.3 406.4h.01M105.8 418.0h.01M131.9 415.6h.01M172.9 403.1h.01M197.8 404.2h.01M194.0 379.5h.01M121.3 418.9h.01M181.0 429.6h.01M167.6 421.3h.01M185.3 414.7h.01M172.8 405.7h.01M171.2 396.7h.01M199.1 392.4h.01M166.0 430.1h.01M142.8 412.8h.01M200.2 402.8h.01M119.0 419.4h.01M177.3 413.7h.01M123.1 433.9h.01M162.4 404.8h.01M209.3 393.7h.01M179.0 401.4h.01M124.5 423.1h.01M207.2 401.2h.01M125.4 423.9h.01M150.5 414.4h.01M217.0 411.0h.01M134.5 437.3h.01M153.5 418.7h.01M125.1 415.3h.01M206.4 389.1h.01M86.9 406.0h.01M199.8 397.9h.01M149.0 408.4h.01M145.1 401.2h.01M150.5 396.7h.01M149.6 414.6h.01M170.9 405.3h.01M114.9 419.2h.01M134.7 430.0h.01M183.6 404.3h.01M131.3 407.5h.01M112.6 414.4h.01M165.1 413.9h.01M179.2 427.5h.01M122.9 416.3h.01M130.7 416.5h.01M159.1 413.9h.01M142.8 416.3h.01M155.5 418.2h.01M150.1 400.9h.01M109.9 424.8h.01M126.2 422.0h.01M183.4 408.6h.01M172.8 406.3h.01M93.7 421.0h.01M169.9 402.5h.01M149.2 419.1h.01M116.8 423.7h.01M157.8 408.4h.01M216.3 402.9h.01M187.9 397.7h.01M151.3 411.0h.01M186.2 387.2h.01M182.6 404.3h.01M171.2 411.3h.01M89.6 419.8h.01M212.7 394.5h.01M107.3 405.1h.01M102.1 423.2h.01M166.0 431.2h.01M129.3 408.2h.01M174.8 412.5h.01M108.0 406.9h.01M164.5 411.3h.01M97.6 418.5h.01M130.4 419.5h.01M147.0 411.0h.01M139.2 424.0h.01M208.9 397.2h.01M185.7 397.4h.01M156.3 417.9h.01M214.0 396.2h.01M149.3 413.5h.01M90.1 422.1h.01M124.7 419.6h.01M101.8 399.8h.01M154.0 413.3h.01M130.8 423.8h.01M139.6 407.0h.01M169.0 392.1h.01M123.9 415.7h.01M186.8 403.2h.01M163.6 402.3h.01M167.4 425.2h.01M127.7 439.3h.01M125.4 415.9h.01M160.9 419.8h.01M97.2 399.3h.01M178.4 414.4h.01M182.4 432.4h.01M160.9 412.0h.01M191.1 407.9h.01M218.7 386.7h.01M130.5 379.8h.01M185.0 401.4h.01M194.0 425.5h.01M151.3 408.5h.01M129.9 406.4h.01M127.0 421.9h.01M153.6 411.4h.01M146.4 421.3h.01M172.2 406.0h.01M179.2 404.7h.01M106.8 433.7h.01M169.6 398.2h.01M197.2 406.5h.01M90.1 438.3h.01M167.3 417.3h.01M159.9 408.1h.01M89.7 431.9h.01M152.7 408.0h.01M166.7 409.2h.01M179.3 402.4h.01M146.8 390.2h.01M135.7 420.7h.01M206.7 397.7h.01M149.7 427.5h.01M139.8 420.6h.01M201.5 395.1h.01M160.5 408.7h.01M158.7 421.3h.01M129.1 420.1h.01M109.2 423.6h.01M175.2 404.1h.01M171.3 391.9h.01M180.7 390.2h.01M122.2 410.6h.01M136.9 422.4h.01M154.7 406.5h.01M177.2 422.6h.01M152.9 414.6h.01M203.7 404.6h.01M103.2 444.9h.01M151.1 415.4h.01M193.1 410.5h.01M138.9 402.6h.01M158.1 420.4h.01M105.1 408.8h.01M147.6 392.1h.01M140.5 408.6h.01M169.4 400.8h.01M114.8 413.6h.01M148.8 404.8h.01M153.8 418.3h.01M204.0 419.1h.01M118.9 412.6h.01M122.0 416.0h.01M171.3 393.8h.01M171.1 407.4h.01M198.2 383.9h.01M185.8 407.2h.01M172.4 411.9h.01M205.5 399.3h.01M187.4 400.6h.01M180.7 397.7h.01M150.5 428.8h.01M170.2 406.2h.01M103.3 411.6h.01M161.6 418.8h.01M170.5 413.1h.01M152.6 424.6h.01M134.9 408.4h.01" stroke="#4a4a4a" stroke-opacity="0.60" stroke-width="1" stroke-linecap="round" fill="none"/>
<path d="M177.0 428.7h.01M135.0 421.7h.01M135.8 434.9h.01M157.7 414.7h.01M160.3 430.0h.01M109.0 436.5h.01M134.9 424.3h.01M173.6 442.5h.01M120.2 432.8h.01M113.5 453.5h.01M127.2 441.1h.01M121.7 436.9h.01M129.4 433.5h.01M141.7 420.6h.01M85.8 437.4h.01M124.2 429.6h.01M190.4 429.3h.01M94.9 409.3h.01M187.6 436.1h.01M115.6 437.5h.01M162.9 435.1h.01M177.4 436.1h.01M176.7 401.0h.01M151.1 433.4h.01M133.1 428.4h.01M176.9 423.1h.01M186.3 419.3h.01M154.6 422.2h.01M150.7 420.4h.01M87.5 440.0h.01M155.9 421.9h.01M152.2 438.9h.01M109.8 426.8h.01M164.4 433.8h.01M132.9 404.8h.01M189.7 431.6h.01M145.5 424.9h.01M154.5 423.3h.01M108.1 419.9h.01M123.5 421.3h.01M103.3 435.0h.01M97.8 435.3h.01M108.5 431.9h.01M194.5 430.2h.01M118.7 428.5h.01M150.3 408.9h.01M123.1 429.8h.01M128.1 428.9h.01M171.4 436.4h.01M177.6 434.5h.01M134.6 427.8h.01M135.2 424.6h.01M138.5 409.0h.01M133.0 427.7h.01M109.9 427.7h.01M163.6 426.2h.01M137.6 407.9h.01M180.3 457.2h.01M163.7 424.7h.01M164.9 403.3h.01M175.7 432.1h.01M145.8 421.5h.01M168.0 422.7h.01M153.0 422.4h.01M152.3 436.3h.01M113.5 427.6h.01M167.2 429.6h.01M189.7 449.9h.01M112.3 406.9h.01M175.8 444.8h.01M178.2 437.0h.01M122.7 420.2h.01M177.0 418.0h.01M120.3 420.0h.01M153.3 419.8h.01M192.2 427.1h.01M105.9 442.4h.01M124.0 430.4h.01M144.5 424.5h.01M156.7 420.4h.01M99.4 419.7h.01M144.2 428.6h.01M165.0 429.3h.01M116.4 420.2h.01M162.5 433.8h.01M140.6 426.1h.01M178.7 428.2h.01M171.6 434.4h.01M152.7 442.4h.01M124.4 424.1h.01M115.9 419.2h.01M201.0 447.4h.01M145.8 434.3h.01M187.3 436.9h.01M188.4 414.1h.01M122.0 433.0h.01M196.7 429.1h.01M114.1 424.1h.01M121.2 418.6h.01M199.0 421.1h.01M145.7 451.8h.01M187.6 431.7h.01M123.0 432.5h.01M203.4 434.9h.01M190.4 429.1h.01M163.6 425.8h.01M160.4 442.3h.01M93.5 427.3h.01M153.6 421.7h.01M133.9 436.7h.01M217.1 434.9h.01M156.7 410.9h.01M214.4 428.8h.01M143.8 415.7h.01M143.0 415.9h.01M147.6 433.1h.01M146.1 431.1h.01M114.3 443.7h.01M121.5 408.0h.01M138.2 419.6h.01M108.6 424.1h.01M155.5 415.0h.01M140.0 443.7h.01M169.6 426.3h.01M149.6 426.7h.01M143.3 436.1h.01M141.7 401.6h.01M144.2 418.2h.01M168.4 421.3h.01M150.3 452.0h.01M107.3 415.6h.01M94.2 401.7h.01M122.0 407.5h.01M91.6 434.8h.01M117.1 424.0h.01M156.9 442.9h.01M214.9 439.4h.01M150.2 430.0h.01M209.9 443.7h.01M133.8 433.0h.01M155.3 428.6h.01M127.0 413.4h.01M125.8 411.0h.01M189.1 433.9h.01M101.6 443.4h.01M177.1 407.0h.01M211.3 436.9h.01M164.1 432.7h.01M152.3 429.9h.01M182.9 411.6h.01M100.3 412.7h.01M124.9 421.3h.01M158.2 430.9h.01M146.1 420.6h.01M129.1 438.5h.01M172.5 429.1h.01M133.4 445.1h.01M123.6 435.1h.01M186.5 425.1h.01M174.7 415.7h.01M181.5 430.2h.01M87.9 435.4h.01M112.9 442.1h.01M120.6 426.2h.01M155.2 424.3h.01M154.3 421.9h.01M169.2 428.1h.01M152.6 397.7h.01M186.8 428.4h.01M161.8 439.8h.01M106.0 445.0h.01M139.3 454.3h.01M139.7 435.5h.01M131.8 415.7h.01M184.5 438.0h.01M200.4 437.4h.01M124.4 409.7h.01M121.6 420.6h.01M115.7 434.4h.01M156.8 425.0h.01M151.2 426.4h.01M152.7 436.3h.01M179.5 420.5h.01M90.8 443.7h.01M149.1 440.2h.01" stroke="#4a4a4a" stroke-opacity="0.60" stroke-width="1" stroke-linecap="round" fill="none"/>
<path d="M157.8 352.3V470.2M82.2 420.8H220.9" stroke="#222" stroke-width="1" fill="none" stroke-opacity="0.7"/>
<path d="M111.0 416.5C111.2 415.2 112.1 412.8 113.1 411.2C114.2 409.6 115.8 407.9 117.4 406.9C119.0 405.8 121.0 405.8 122.8 404.7C124.6 403.7 126.2 401.7 128.2 400.4C130.1 399.2 132.5 398.1 134.6 397.2C136.8 396.3 138.9 395.8 141.1 395.1C143.2 394.3 145.3 393.6 147.5 392.9C149.6 392.2 151.8 391.3 153.9 390.8C156.1 390.2 158.2 390.1 160.4 389.7C162.5 389.3 164.7 389.0 166.8 388.6C169.0 388.3 171.1 387.7 173.3 387.5C175.4 387.4 177.6 387.3 179.7 387.5C181.8 387.8 184.2 388.2 186.1 389.0C188.1 389.9 190.3 391.1 191.5 392.5C192.8 393.8 192.4 396.1 193.7 397.2C194.9 398.3 198.0 397.7 199.0 398.9C200.0 400.2 199.9 402.7 199.7 404.7C199.5 406.8 198.8 409.2 198.0 411.2C197.1 413.1 196.2 415.3 194.7 416.5C193.3 417.8 190.4 417.8 189.4 418.7C188.3 419.6 189.4 421.2 188.3 421.9C187.2 422.6 184.9 422.7 182.9 423.0C181.0 423.2 178.6 423.1 176.5 423.4C174.3 423.7 172.2 424.2 170.0 424.7C167.9 425.2 165.7 425.6 163.6 426.2C161.5 426.8 159.3 428.2 157.2 428.3C155.0 428.5 152.9 427.4 150.7 427.3C148.6 427.2 146.4 427.6 144.3 427.7C142.1 427.8 140.0 427.8 137.8 427.7C135.7 427.6 133.5 427.3 131.4 427.3C129.2 427.2 127.1 427.3 124.9 427.3C122.8 427.3 120.0 427.8 118.5 427.3C117.0 426.7 116.3 425.2 115.9 424.1C115.6 422.9 117.0 421.2 116.4 420.4C115.7 419.6 113.0 419.8 112.1 419.1C111.2 418.5 110.8 417.9 111.0 416.5Z" fill="#0430f5" stroke="#000" stroke-opacity="0.75" stroke-width="0.45"/>
<path d="M103.0 410.1C103.4 410.7 104.2 411.2 104.4 411.9C104.5 412.5 104.0 413.4 103.7 414.1C103.4 414.8 102.9 415.4 102.5 415.9C102.0 416.4 101.4 416.7 100.9 417.2C100.4 417.8 100.1 418.8 99.5 419.2C98.8 419.6 97.9 419.6 97.2 419.5C96.4 419.5 95.9 419.0 95.1 418.8C94.4 418.7 93.3 418.9 92.8 418.5C92.3 418.1 92.5 417.0 92.2 416.3C92.0 415.7 91.5 415.2 91.4 414.6C91.4 414.0 91.8 413.3 91.8 412.6C91.8 411.9 91.4 411.0 91.6 410.3C91.9 409.6 92.6 408.9 93.3 408.6C94.0 408.2 95.0 408.4 95.7 408.2C96.4 408.0 97.1 407.5 97.7 407.4C98.4 407.3 99.2 407.5 99.8 407.7C100.5 408.0 101.1 408.3 101.6 408.7C102.1 409.1 102.5 409.6 103.0 410.1Z" fill="#0430f5" stroke="#000" stroke-opacity="0.75" stroke-width="0.45"/>
<path d="M120.7 415.5C121.1 414.0 122.6 411.7 123.9 410.1C125.1 408.5 126.4 407.2 128.2 405.8C130.0 404.4 132.5 402.6 134.6 401.5C136.8 400.4 138.9 399.7 141.1 398.9C143.2 398.1 145.3 397.5 147.5 396.8C149.6 396.1 151.8 395.3 153.9 394.6C156.1 394.0 158.2 393.4 160.4 392.9C162.5 392.4 164.7 392.2 166.8 391.8C169.0 391.5 171.1 390.9 173.3 390.8C175.4 390.6 177.7 390.4 179.7 390.8C181.7 391.1 183.5 391.8 185.1 392.9C186.7 394.0 188.5 395.6 189.4 397.2C190.3 398.8 190.6 400.8 190.4 402.6C190.3 404.4 189.2 406.3 188.3 407.9C187.4 409.6 186.3 411.0 185.1 412.2C183.8 413.5 182.6 414.7 180.8 415.5C179.0 416.2 176.5 416.1 174.3 416.5C172.2 417.0 170.0 417.7 167.9 418.3C165.7 418.8 163.6 419.1 161.5 419.8C159.3 420.4 157.2 421.3 155.0 421.9C152.9 422.5 150.7 423.2 148.6 423.4C146.4 423.6 144.3 423.2 142.1 423.0C140.0 422.7 137.8 422.2 135.7 421.9C133.5 421.6 131.2 421.5 129.2 421.3C127.3 421.0 125.2 420.8 123.9 420.4C122.5 420.0 121.6 419.5 121.1 418.7C120.5 417.9 120.2 416.9 120.7 415.5Z" fill="#12dcff" stroke="#000" stroke-opacity="0.75" stroke-width="0.45"/>
<path d="M182.6 400.7C183.1 401.9 187.1 402.3 187.6 403.5C188.1 404.7 186.8 406.4 185.7 407.8C184.7 409.3 183.5 411.1 181.1 412.4C178.8 413.7 174.8 414.7 171.8 415.6C168.8 416.6 166.1 417.4 163.2 418.2C160.3 418.9 157.6 419.4 154.6 420.1C151.7 420.8 147.9 422.3 145.3 422.3C142.8 422.3 141.8 420.5 139.4 420.1C137.1 419.7 133.5 420.4 131.3 420.0C129.0 419.6 127.3 418.7 125.7 417.9C124.0 417.0 121.6 416.2 121.4 414.9C121.2 413.6 123.0 411.7 124.4 410.2C125.8 408.8 128.0 407.3 129.9 406.0C131.9 404.7 134.6 403.9 136.2 402.5C137.8 401.1 137.4 398.9 139.5 397.6C141.5 396.4 145.6 395.8 148.6 395.0C151.6 394.1 154.7 392.9 157.6 392.5C160.6 392.0 163.5 392.2 166.4 392.1C169.3 392.0 172.6 391.5 175.1 391.7C177.6 392.0 179.7 392.7 181.4 393.5C183.0 394.3 184.6 395.3 184.8 396.5C185.0 397.7 182.2 399.6 182.6 400.7Z" fill="#00c8a0" stroke="#000" stroke-opacity="0.75" stroke-width="0.45"/>
<path d="M186.1 399.9C186.4 401.0 185.6 402.5 184.5 403.7C183.4 405.0 180.5 406.2 179.3 407.4C178.1 408.7 178.6 410.1 177.2 411.3C175.8 412.5 173.1 413.6 170.8 414.8C168.6 416.0 166.2 417.4 163.5 418.4C160.7 419.3 157.2 420.1 154.5 420.3C151.7 420.5 149.4 419.6 147.0 419.4C144.6 419.3 142.3 419.5 140.0 419.4C137.6 419.3 134.4 419.5 132.8 419.0C131.2 418.4 131.5 416.9 130.3 416.1C129.2 415.2 126.7 414.8 126.1 413.8C125.5 412.8 126.3 411.4 126.8 410.1C127.2 408.8 127.9 407.5 129.0 406.2C130.1 404.9 131.1 403.2 133.3 402.1C135.5 401.0 139.4 400.2 142.2 399.4C145.0 398.7 147.5 398.3 150.0 397.5C152.6 396.6 155.0 395.0 157.6 394.3C160.2 393.7 162.9 393.8 165.7 393.5C168.5 393.3 172.0 392.6 174.4 392.7C176.8 392.8 178.7 393.6 180.1 394.4C181.5 395.2 181.7 396.4 182.7 397.4C183.6 398.3 185.8 398.9 186.1 399.9Z" fill="none" stroke="#000" stroke-opacity="0.60" stroke-width="0.35"/>
<path d="M185.7 399.6C186.2 400.7 186.5 401.9 185.9 403.1C185.4 404.4 184.0 405.8 182.4 407.1C180.8 408.3 178.8 409.7 176.5 410.7C174.1 411.7 170.6 411.9 168.4 413.0C166.1 414.1 165.2 415.9 162.9 417.0C160.6 418.1 157.3 419.1 154.5 419.7C151.7 420.3 148.5 420.5 145.9 420.5C143.4 420.5 141.1 420.0 139.1 419.6C137.1 419.2 135.3 418.6 133.8 418.0C132.3 417.3 131.2 416.6 130.0 415.8C128.7 415.0 126.2 414.4 126.3 413.3C126.3 412.2 129.6 410.5 130.3 409.3C131.1 408.1 130.3 407.1 130.9 405.8C131.4 404.6 132.1 403.1 133.7 401.8C135.3 400.5 137.8 399.1 140.4 398.1C143.0 397.1 146.4 396.3 149.2 395.8C152.1 395.3 154.9 395.0 157.5 394.8C160.0 394.7 161.9 395.0 164.6 394.7C167.3 394.3 171.4 392.8 173.8 392.7C176.2 392.7 177.6 393.9 179.1 394.5C180.6 395.2 182.0 395.9 183.1 396.8C184.2 397.6 185.2 398.6 185.7 399.6Z" fill="#08c818" stroke="#000" stroke-opacity="0.75" stroke-width="0.45"/>
<path d="M184.6 399.9C185.1 400.8 185.1 402.0 184.4 403.2C183.7 404.4 182.1 405.7 180.5 406.8C178.9 408.0 176.7 409.0 174.8 410.1C173.0 411.2 171.7 412.5 169.6 413.4C167.4 414.2 164.2 414.4 161.8 415.0C159.3 415.6 157.2 416.4 154.7 417.0C152.2 417.6 149.6 418.2 147.0 418.6C144.4 419.0 141.4 419.3 139.1 419.2C136.8 419.2 134.4 418.8 133.0 418.2C131.5 417.5 130.7 416.5 130.6 415.5C130.4 414.4 132.1 413.0 132.0 412.0C132.0 411.0 130.3 410.4 130.4 409.4C130.6 408.4 131.9 407.2 133.0 406.1C134.0 405.0 135.1 403.8 136.6 402.7C138.2 401.5 140.1 400.4 142.3 399.3C144.4 398.3 147.0 397.4 149.6 396.6C152.1 395.8 155.0 395.2 157.6 394.8C160.2 394.4 163.2 394.0 165.3 394.2C167.3 394.4 168.2 395.6 169.9 396.0C171.7 396.4 174.2 396.0 176.0 396.3C177.9 396.6 179.7 397.0 181.2 397.6C182.6 398.2 184.0 398.9 184.6 399.9Z" fill="none" stroke="#000" stroke-opacity="0.60" stroke-width="0.35"/>
<path d="M180.7 400.4C180.9 401.3 180.8 402.2 180.5 403.2C180.2 404.2 179.9 405.4 178.6 406.4C177.3 407.3 174.5 408.2 172.8 409.1C171.1 410.0 170.1 411.0 168.5 411.9C166.8 412.8 164.9 413.9 162.8 414.7C160.7 415.4 158.2 416.0 155.9 416.4C153.6 416.8 151.2 416.9 149.2 416.9C147.2 416.8 145.4 416.5 143.8 416.2C142.2 415.9 141.1 415.3 139.5 415.0C138.0 414.6 135.4 414.6 134.5 413.9C133.6 413.3 134.1 412.0 134.2 411.1C134.2 410.2 134.4 409.2 134.8 408.3C135.1 407.3 135.2 406.3 136.0 405.3C136.8 404.2 137.9 403.1 139.4 402.1C140.9 401.1 142.9 400.0 145.0 399.2C147.0 398.4 149.5 397.7 151.7 397.3C153.9 396.9 156.0 397.0 158.2 396.7C160.4 396.3 162.7 395.3 164.9 395.0C167.1 394.7 169.4 394.6 171.3 394.8C173.1 395.0 174.6 395.5 176.0 396.0C177.3 396.5 178.4 397.2 179.2 397.9C179.9 398.6 180.4 399.5 180.7 400.4Z" fill="#7ee000" stroke="#000" stroke-opacity="0.75" stroke-width="0.45"/>
<path d="M177.1 401.2C177.4 401.9 178.5 402.5 178.7 403.4C178.9 404.2 179.0 405.2 178.2 406.2C177.4 407.1 175.8 408.3 174.0 409.1C172.2 410.0 169.4 410.4 167.5 411.2C165.5 411.9 164.3 413.2 162.4 413.8C160.5 414.3 158.1 414.0 156.1 414.3C154.0 414.5 151.9 415.3 150.0 415.4C148.1 415.6 146.5 415.3 144.9 415.1C143.2 415.0 141.5 414.8 139.9 414.6C138.3 414.3 136.4 414.1 135.3 413.6C134.1 413.0 132.6 412.3 133.0 411.4C133.3 410.5 136.3 409.1 137.2 408.1C138.1 407.1 137.3 406.3 138.2 405.5C139.1 404.6 141.4 403.8 142.8 403.0C144.1 402.1 144.8 401.0 146.3 400.2C147.8 399.3 149.9 398.5 151.9 397.9C154.0 397.3 156.2 396.9 158.3 396.5C160.4 396.2 162.4 396.1 164.5 395.9C166.7 395.6 169.7 394.9 171.2 395.2C172.7 395.4 172.3 397.0 173.3 397.6C174.2 398.2 176.1 398.3 176.7 398.9C177.4 399.5 176.8 400.4 177.1 401.2Z" fill="none" stroke="#000" stroke-opacity="0.60" stroke-width="0.35"/>
<path d="M177.6 400.4C177.3 401.2 175.9 402.2 175.2 403.1C174.6 403.9 174.5 404.6 173.8 405.4C173.0 406.2 171.9 406.9 170.9 407.8C169.9 408.6 169.2 409.7 167.8 410.5C166.4 411.2 164.2 411.9 162.3 412.3C160.5 412.8 158.6 413.0 156.7 413.3C154.9 413.7 152.9 414.2 151.1 414.4C149.4 414.6 147.3 414.8 145.9 414.6C144.6 414.3 144.0 413.6 143.1 413.1C142.3 412.6 141.2 412.3 140.7 411.7C140.1 411.2 140.2 410.5 139.7 409.8C139.2 409.2 137.9 408.7 137.7 408.0C137.5 407.2 137.7 406.2 138.7 405.3C139.7 404.5 142.0 403.6 143.6 402.8C145.2 402.1 146.8 401.5 148.4 400.8C149.9 400.1 151.4 399.2 153.0 398.7C154.7 398.1 156.6 397.8 158.4 397.5C160.2 397.1 162.2 396.6 163.9 396.5C165.5 396.4 166.8 396.8 168.3 396.9C169.8 397.1 171.3 397.1 172.8 397.2C174.3 397.4 176.4 397.5 177.2 398.0C178.0 398.5 177.9 399.5 177.6 400.4Z" fill="#f0f000" stroke="#000" stroke-opacity="0.75" stroke-width="0.45"/>
<path d="M173.3 401.4C173.2 402.1 173.8 402.5 173.9 403.2C174.0 403.8 174.4 404.5 174.0 405.3C173.6 406.0 172.5 407.0 171.2 407.7C169.9 408.4 167.7 408.8 166.2 409.5C164.7 410.2 163.7 411.4 162.1 411.9C160.5 412.4 158.5 412.4 156.7 412.7C154.9 413.0 152.9 413.7 151.5 413.7C150.0 413.7 149.1 413.0 148.0 412.7C146.9 412.4 146.2 412.2 145.0 412.0C143.8 411.8 142.1 411.8 140.8 411.6C139.5 411.3 137.5 411.0 137.4 410.4C137.2 409.8 139.3 408.6 139.9 407.8C140.5 406.9 140.1 406.2 141.1 405.5C142.0 404.7 144.4 404.1 145.7 403.3C146.9 402.6 147.4 401.7 148.7 401.1C150.0 400.4 151.8 399.8 153.4 399.4C155.0 398.9 156.8 398.8 158.4 398.5C160.0 398.2 161.4 398.0 163.3 397.7C165.1 397.3 167.9 396.3 169.4 396.3C170.9 396.3 171.2 397.3 172.1 397.7C173.0 398.2 174.6 398.4 174.8 399.0C175.0 399.6 173.5 400.7 173.3 401.4Z" fill="none" stroke="#000" stroke-opacity="0.60" stroke-width="0.35"/>
<path d="M171.2 401.3C171.6 401.7 172.6 402.1 172.7 402.6C172.7 403.2 172.2 403.9 171.5 404.6C170.8 405.2 169.4 405.9 168.4 406.5C167.4 407.2 166.7 408.0 165.6 408.6C164.4 409.2 162.8 409.8 161.4 410.2C160.0 410.6 158.4 410.7 157.0 410.9C155.6 411.1 154.2 411.3 153.0 411.3C151.8 411.4 151.0 411.1 149.8 411.1C148.6 411.1 146.9 411.4 145.7 411.4C144.4 411.4 142.7 411.3 142.1 411.0C141.6 410.6 142.0 409.7 142.1 409.1C142.3 408.5 142.5 407.8 142.9 407.2C143.3 406.6 143.6 405.9 144.3 405.3C145.0 404.6 146.2 404.0 147.2 403.4C148.2 402.8 148.9 402.1 150.1 401.5C151.3 401.0 152.8 400.7 154.2 400.2C155.5 399.8 156.8 399.4 158.2 398.9C159.7 398.4 161.5 397.6 163.0 397.4C164.4 397.2 165.8 397.4 166.8 397.6C167.8 397.8 168.4 398.4 169.0 398.7C169.6 399.1 170.3 399.4 170.7 399.8C171.0 400.3 170.9 400.8 171.2 401.3Z" fill="#ff9a00" stroke="#000" stroke-opacity="0.75" stroke-width="0.45"/>
<path d="M172.4 401.0C172.4 401.5 170.8 402.3 170.4 402.9C170.0 403.5 170.2 404.0 169.8 404.5C169.4 405.1 168.8 405.7 168.0 406.4C167.2 407.0 166.3 407.7 165.1 408.2C163.9 408.7 162.3 409.2 161.0 409.5C159.6 409.8 158.2 409.9 157.0 410.1C155.7 410.2 154.9 410.2 153.5 410.4C152.2 410.7 150.1 411.5 148.9 411.6C147.7 411.7 147.1 411.2 146.3 411.0C145.6 410.7 144.8 410.4 144.4 410.0C144.0 409.6 144.0 409.1 143.9 408.6C143.8 408.1 143.6 407.7 143.7 407.1C143.9 406.6 144.1 405.9 144.7 405.4C145.4 404.8 146.4 404.1 147.5 403.6C148.6 403.1 150.4 402.8 151.5 402.3C152.6 401.8 153.1 400.9 154.2 400.4C155.3 399.8 156.9 399.4 158.3 399.1C159.6 398.7 161.2 398.4 162.4 398.4C163.6 398.3 164.7 398.6 165.6 398.8C166.5 399.0 167.1 399.2 167.8 399.5C168.6 399.7 169.4 399.8 170.2 400.1C171.0 400.3 172.3 400.5 172.4 401.0Z" fill="none" stroke="#000" stroke-opacity="0.60" stroke-width="0.35"/>
<path d="M167.2 402.0C167.1 402.4 167.3 402.7 167.0 403.1C166.7 403.5 165.6 403.9 165.2 404.3C164.8 404.8 165.0 405.1 164.6 405.6C164.2 406.0 163.6 406.6 162.8 407.0C162.0 407.4 160.7 407.7 159.7 407.9C158.6 408.2 157.6 408.5 156.6 408.7C155.6 408.9 154.5 409.2 153.6 409.2C152.8 409.2 152.2 409.0 151.5 408.9C150.7 408.9 149.6 409.1 149.0 408.9C148.5 408.8 148.6 408.3 148.3 408.1C147.9 407.8 147.5 407.7 147.1 407.4C146.7 407.2 145.8 407.0 145.8 406.6C145.8 406.2 146.5 405.6 147.1 405.2C147.8 404.7 148.9 404.3 149.7 403.9C150.6 403.5 151.2 403.0 152.1 402.7C153.0 402.4 154.1 402.3 155.0 402.0C155.9 401.7 156.8 401.1 157.7 400.8C158.6 400.5 159.7 400.4 160.7 400.3C161.6 400.2 162.3 400.3 163.1 400.3C164.0 400.3 165.2 400.1 166.0 400.2C166.7 400.3 167.4 400.5 167.6 400.8C167.8 401.1 167.3 401.6 167.2 402.0Z" fill="#ff2a00" stroke="#000" stroke-opacity="0.75" stroke-width="0.45"/>
<path d="M166.4 402.2C166.5 402.5 166.5 402.8 166.5 403.2C166.4 403.5 166.4 403.9 166.1 404.2C165.8 404.6 165.2 405.1 164.5 405.5C163.9 405.9 163.0 406.3 162.0 406.6C161.1 406.9 160.0 406.9 159.1 407.2C158.2 407.5 157.5 408.0 156.6 408.2C155.7 408.5 154.7 408.7 153.8 408.8C153.0 408.9 152.1 408.9 151.4 408.9C150.6 408.9 150.1 408.7 149.6 408.6C149.1 408.4 148.6 408.3 148.2 408.1C147.8 407.9 147.5 407.6 147.3 407.4C147.1 407.1 146.7 406.8 147.0 406.4C147.3 406.1 148.7 405.5 149.3 405.1C149.9 404.7 150.1 404.4 150.6 404.1C151.1 403.7 151.6 403.3 152.3 402.9C153.0 402.5 153.9 402.1 154.8 401.8C155.7 401.5 156.8 401.2 157.7 401.1C158.6 400.9 159.5 400.9 160.3 400.8C161.1 400.8 161.6 400.9 162.5 400.9C163.3 400.9 164.7 400.5 165.3 400.6C165.9 400.7 165.8 401.1 166.0 401.4C166.2 401.7 166.3 402.0 166.4 402.2Z" fill="none" stroke="#000" stroke-opacity="0.60" stroke-width="0.35"/>
<rect x="82.2" y="352.3" width="138.7" height="117.9" fill="none" stroke="#2a2a2a" stroke-width="1.1"/>
<path d="M157.8 352.3V470.2M82.2 420.8H220.9" stroke="#111" stroke-width="1" fill="none" stroke-opacity="0.38"/>
<text transform="translate(95.0,481.3) scale(1.00,1)" class="tk" text-anchor="middle">0</text>
<text transform="translate(124.0,481.4) scale(0.82,1)" class="tk" text-anchor="end">10</text>
<text transform="translate(124.6,479.1) scale(0.85,1)" class="tk" text-anchor="start">3</text>
<text transform="translate(154.4,481.4) scale(0.82,1)" class="tk" text-anchor="end">10</text>
<text transform="translate(155.0,479.1) scale(0.85,1)" class="tk" text-anchor="start">4</text>
<text transform="translate(184.9,481.4) scale(0.82,1)" class="tk" text-anchor="end">10</text>
<text transform="translate(185.5,479.1) scale(0.85,1)" class="tk" text-anchor="start">5</text>
<text transform="translate(215.7,481.4) scale(0.82,1)" class="tk" text-anchor="end">10</text>
<text transform="translate(216.3,479.1) scale(0.85,1)" class="tk" text-anchor="start">6</text>
<text transform="translate(74.4,359.0) scale(0.82,1)" class="tk" text-anchor="end">10</text>
<text transform="translate(74.9,356.7) scale(0.85,1)" class="tk" text-anchor="start">6</text>
<text transform="translate(74.4,384.9) scale(0.82,1)" class="tk" text-anchor="end">10</text>
<text transform="translate(74.9,382.6) scale(0.85,1)" class="tk" text-anchor="start">5</text>
<text transform="translate(74.4,410.8) scale(0.82,1)" class="tk" text-anchor="end">10</text>
<text transform="translate(74.9,408.5) scale(0.85,1)" class="tk" text-anchor="start">4</text>
<text transform="translate(74.4,435.8) scale(0.82,1)" class="tk" text-anchor="end">10</text>
<text transform="translate(74.9,433.5) scale(0.85,1)" class="tk" text-anchor="start">3</text>
<text transform="translate(78.5,460.6) scale(1.00,1)" class="tk" text-anchor="end">0</text>
<path d="M95.0 470.2v2.6M127.8 470.2v2.6M106.9 470.2v2.2M158.2 470.2v2.6M188.7 470.2v2.6M219.5 470.2v2.6M82.2 354.3h-2.6M82.2 380.2h-2.6M82.2 406.1h-2.6M82.2 431.1h-2.6M82.2 446.6h-2.2M82.2 458.1h-2.6" stroke="#333" stroke-width="0.8" fill="none"/>
<path d="M113.2 470.2v1.5M116.9 470.2v1.5M119.5 470.2v1.5M121.5 470.2v1.5M123.2 470.2v1.5M124.6 470.2v1.5M125.8 470.2v1.5M126.9 470.2v1.5M137.0 470.2v1.5M142.3 470.2v1.5M146.1 470.2v1.5M149.1 470.2v1.5M151.5 470.2v1.5M153.5 470.2v1.5M155.3 470.2v1.5M156.8 470.2v1.5M167.4 470.2v1.5M172.8 470.2v1.5M176.6 470.2v1.5M179.5 470.2v1.5M182.0 470.2v1.5M184.0 470.2v1.5M185.8 470.2v1.5M187.3 470.2v1.5M198.0 470.2v1.5M203.4 470.2v1.5M207.3 470.2v1.5M210.2 470.2v1.5M212.7 470.2v1.5M214.7 470.2v1.5M216.5 470.2v1.5M218.1 470.2v1.5M82.2 372.4h-1.5M82.2 367.9h-1.5M82.2 364.6h-1.5M82.2 362.1h-1.5M82.2 360.1h-1.5M82.2 358.3h-1.5M82.2 356.8h-1.5M82.2 355.5h-1.5M82.2 398.3h-1.5M82.2 393.7h-1.5M82.2 390.5h-1.5M82.2 388.0h-1.5M82.2 386.0h-1.5M82.2 384.2h-1.5M82.2 382.7h-1.5M82.2 381.4h-1.5M82.2 423.5h-1.5M82.2 419.1h-1.5M82.2 416.0h-1.5M82.2 413.6h-1.5M82.2 411.6h-1.5M82.2 409.9h-1.5M82.2 408.5h-1.5M82.2 407.2h-1.5M82.2 441.9h-1.5M82.2 439.2h-1.5M82.2 437.3h-1.5M82.2 435.7h-1.5M82.2 434.5h-1.5M82.2 433.5h-1.5M82.2 432.6h-1.5M82.2 431.8h-1.5" stroke="#333" stroke-width="0.7" fill="none"/></g>
<g><path d="M344.4 452.0h.01M328.3 438.9h.01M329.7 431.9h.01M279.9 416.5h.01M264.7 438.1h.01M329.1 463.7h.01M327.2 439.0h.01M333.1 433.8h.01M240.1 453.3h.01M292.2 438.1h.01M351.2 441.7h.01M267.1 450.5h.01M275.9 455.4h.01M252.9 432.4h.01M343.7 418.2h.01M313.2 437.1h.01M344.3 425.1h.01M253.8 418.2h.01M326.6 422.0h.01M259.1 460.9h.01M345.5 455.0h.01M350.1 447.9h.01M278.9 389.9h.01M328.6 414.3h.01M311.6 441.7h.01M262.7 428.1h.01M249.1 430.7h.01M310.1 445.2h.01M337.9 433.2h.01M301.0 450.8h.01M256.2 455.8h.01M322.3 425.0h.01M287.7 438.6h.01M254.3 390.2h.01M323.3 461.3h.01M303.2 434.8h.01M308.0 415.6h.01M323.5 448.9h.01M309.2 450.4h.01M269.7 438.2h.01M279.8 424.2h.01M317.6 436.3h.01M339.3 445.5h.01M263.3 457.2h.01M248.5 431.1h.01M317.9 431.2h.01M324.7 433.1h.01M269.5 447.4h.01M303.7 415.3h.01M307.7 431.7h.01M317.7 421.4h.01M311.6 428.7h.01M364.3 425.4h.01M352.3 430.6h.01M291.0 434.7h.01M271.7 419.0h.01M284.4 433.7h.01M339.2 448.5h.01M287.1 434.7h.01M251.2 442.7h.01M296.3 412.2h.01M278.3 442.5h.01M308.7 443.8h.01M288.7 434.9h.01M296.2 404.1h.01M299.1 429.5h.01M279.8 446.4h.01M306.5 410.7h.01M298.3 420.4h.01M310.7 453.8h.01M303.0 406.0h.01M354.6 433.0h.01M354.9 415.9h.01M310.0 446.9h.01M246.6 463.4h.01M330.6 414.5h.01M241.2 400.0h.01M311.3 417.3h.01M318.4 422.2h.01M242.8 465.1h.01M322.8 419.2h.01M292.5 456.0h.01M335.1 409.2h.01M358.5 420.6h.01M326.1 409.9h.01M280.4 446.5h.01M260.9 433.4h.01M320.0 419.9h.01M358.2 444.2h.01M300.1 450.6h.01M355.2 454.7h.01M300.5 446.8h.01M319.3 411.9h.01M276.0 441.0h.01M367.1 425.1h.01M304.6 418.4h.01M323.8 409.6h.01M321.6 416.9h.01M317.3 400.6h.01M265.0 449.0h.01M326.4 376.3h.01M360.5 416.8h.01M337.3 450.7h.01M298.9 424.9h.01M346.1 445.5h.01M339.6 412.4h.01M300.7 436.6h.01M367.4 414.8h.01M285.4 417.9h.01M336.3 402.9h.01M297.3 407.9h.01M292.3 445.7h.01M285.0 444.5h.01M287.4 430.9h.01M299.0 415.6h.01M319.8 443.6h.01M275.6 444.3h.01M308.3 423.9h.01M310.1 446.8h.01M331.6 458.8h.01M314.0 435.7h.01M249.8 421.9h.01M325.9 411.5h.01M270.5 465.0h.01M301.4 411.5h.01M326.5 443.9h.01M286.7 438.0h.01M306.0 425.6h.01M341.3 416.5h.01M276.9 419.8h.01M348.6 422.8h.01M369.8 407.4h.01M268.3 383.8h.01M270.7 433.1h.01M329.6 413.7h.01M285.4 457.3h.01M286.4 433.4h.01" stroke="#4a4a4a" stroke-opacity="0.60" stroke-width="1" stroke-linecap="round" fill="none"/>
<path d="M311.2 352.3V470.2M237.4 420.8H374.3" stroke="#222" stroke-width="1" fill="none" stroke-opacity="0.7"/>
<path d="M306.2 411.1C307.3 411.3 307.8 414.0 309.4 414.4C311.0 414.7 313.9 414.0 315.9 413.3C317.8 412.6 319.3 410.5 321.2 410.1C323.2 409.6 325.3 410.3 327.7 410.5C330.0 410.7 332.9 410.9 335.2 411.1C337.5 411.4 339.5 411.4 341.6 411.8C343.8 412.1 346.1 412.5 348.1 413.3C350.0 414.1 351.8 415.4 353.4 416.5C355.0 417.6 356.8 418.7 357.7 419.7C358.6 420.8 359.2 421.7 358.8 422.9C358.4 424.2 356.7 425.6 355.6 427.2C354.5 428.9 353.8 431.0 352.4 432.6C350.9 434.2 348.6 435.5 347.0 436.9C345.4 438.3 344.3 439.9 342.7 441.2C341.1 442.5 338.8 443.3 337.3 444.4C335.9 445.5 334.8 446.4 334.1 447.6C333.4 448.9 333.6 450.3 333.0 451.9C332.5 453.5 331.1 455.5 330.9 457.3C330.7 459.1 331.4 461.2 332.0 462.7C332.5 464.1 334.5 465.5 334.1 465.9C333.8 466.3 331.3 465.5 329.8 464.8C328.4 464.1 327.0 462.3 325.5 461.6C324.1 460.9 322.7 460.3 321.2 460.5C319.8 460.7 318.4 462.0 316.9 462.7C315.5 463.4 314.1 464.1 312.6 464.8C311.2 465.5 310.0 466.4 308.3 467.0C306.7 467.6 304.9 468.2 303.0 468.5C301.0 468.7 298.5 468.7 296.5 468.5C294.6 468.2 292.6 467.8 291.2 467.0C289.7 466.2 288.3 465.0 287.9 463.7C287.6 462.5 288.3 460.7 289.0 459.5C289.7 458.2 292.4 457.3 292.2 456.2C292.1 455.2 289.6 453.9 287.9 453.0C286.3 452.1 284.1 451.8 282.6 450.9C281.1 450.0 279.6 448.9 278.9 447.6C278.2 446.4 278.0 444.8 278.3 443.3C278.5 441.9 280.3 440.5 280.4 439.1C280.6 437.6 279.4 436.2 279.4 434.8C279.4 433.3 279.7 431.9 280.4 430.5C281.1 429.0 283.3 427.6 283.7 426.2C284.0 424.7 282.0 422.9 282.6 421.9C283.1 420.8 285.1 420.3 286.9 419.7C288.7 419.2 291.3 419.2 293.3 418.7C295.3 418.1 297.1 417.4 298.7 416.5C300.3 415.6 301.7 414.2 303.0 413.3C304.2 412.4 305.1 411.0 306.2 411.1Z" fill="#0430f5" stroke="#000" stroke-opacity="0.75" stroke-width="0.45"/>
<path d="M287.9 422.9C289.4 422.1 292.2 422.4 294.4 421.9C296.5 421.3 298.7 420.3 300.8 419.7C303.0 419.2 305.1 419.1 307.3 418.7C309.4 418.2 311.6 417.6 313.7 416.9C315.9 416.2 317.8 414.9 320.2 414.4C322.5 413.9 325.2 413.9 327.7 413.9C330.2 413.9 332.7 414.1 335.2 414.4C337.7 414.6 340.4 414.9 342.7 415.4C345.0 416.0 347.4 416.6 349.1 417.6C350.9 418.5 352.9 419.8 353.4 421.2C354.0 422.7 353.3 424.4 352.4 426.2C351.5 427.9 349.7 429.9 348.1 431.5C346.5 433.2 344.5 434.8 342.7 436.3C340.9 437.7 339.3 439.1 337.3 440.1C335.4 441.2 333.0 442.1 330.9 442.7C328.7 443.3 326.6 443.7 324.5 444.0C322.3 444.3 320.2 444.2 318.0 444.4C315.9 444.7 313.4 445.0 311.6 445.5C309.8 446.0 308.5 446.6 307.3 447.6C306.0 448.7 305.1 450.5 304.1 451.9C303.0 453.4 302.1 455.3 300.8 456.2C299.6 457.1 297.9 457.7 296.5 457.3C295.2 456.9 293.6 455.3 292.7 454.1C291.8 452.8 291.8 451.2 291.2 449.8C290.6 448.4 290.1 446.7 289.0 445.5C287.9 444.2 285.6 443.7 284.7 442.3C283.8 440.8 283.8 438.7 283.7 436.9C283.5 435.1 283.3 433.1 283.7 431.5C284.0 429.9 285.1 428.7 285.8 427.2C286.5 425.8 286.5 423.8 287.9 422.9Z" fill="#12dcff" stroke="#000" stroke-opacity="0.75" stroke-width="0.45"/>
<path d="M322.4 448.2C322.6 448.4 323.0 448.7 322.8 448.9C322.6 449.1 321.9 449.3 321.4 449.5C320.8 449.6 320.3 449.8 319.7 449.9C319.1 450.0 318.5 450.0 317.9 450.1C317.3 450.3 316.7 450.5 316.1 450.6C315.4 450.7 314.7 450.6 314.2 450.5C313.7 450.4 313.4 450.2 312.9 450.1C312.4 450.0 311.5 450.0 311.3 449.9C311.1 449.7 311.6 449.4 311.7 449.2C311.8 449.0 311.6 448.8 311.8 448.6C312.0 448.4 312.6 448.2 312.9 448.0C313.2 447.8 313.3 447.5 313.7 447.4C314.2 447.2 315.1 447.0 315.7 447.0C316.4 446.9 317.1 447.1 317.7 447.1C318.3 447.1 319.0 447.0 319.6 447.0C320.1 447.0 320.6 447.2 321.0 447.3C321.4 447.4 321.8 447.5 322.0 447.7C322.2 447.9 322.3 448.0 322.4 448.2Z" fill="#fff" stroke="#000" stroke-opacity="0.75" stroke-width="0.45"/>
<path d="M328.7 452.6C328.8 452.8 329.0 453.1 328.9 453.4C328.8 453.6 328.4 453.9 328.1 454.1C327.7 454.2 327.2 454.3 326.8 454.4C326.3 454.5 325.9 454.5 325.5 454.6C325.1 454.6 324.6 454.8 324.2 454.8C323.8 454.7 323.6 454.3 323.2 454.2C322.8 454.1 322.1 454.2 321.8 454.0C321.4 453.9 321.0 453.6 320.9 453.4C320.7 453.1 320.7 452.8 320.8 452.6C321.0 452.3 321.4 452.1 321.6 451.9C321.8 451.7 322.0 451.6 322.2 451.3C322.4 451.1 322.5 450.7 322.8 450.6C323.1 450.4 323.7 450.5 324.2 450.5C324.7 450.4 325.1 450.4 325.6 450.4C326.0 450.4 326.5 450.5 326.9 450.6C327.3 450.8 327.7 451.0 327.9 451.2C328.1 451.4 327.8 451.7 328.0 452.0C328.1 452.2 328.5 452.3 328.7 452.6Z" fill="#fff" stroke="#000" stroke-opacity="0.75" stroke-width="0.45"/>
<path d="M309.1 459.0C309.1 459.4 308.9 459.8 308.6 460.0C308.4 460.3 308.1 460.4 307.8 460.5C307.4 460.6 307.0 460.8 306.7 460.7C306.4 460.6 306.1 460.3 305.9 460.0C305.7 459.8 305.6 459.4 305.6 459.0C305.6 458.7 305.6 458.3 305.8 458.0C306.0 457.7 306.4 457.3 306.7 457.2C307.0 457.2 307.4 457.4 307.8 457.5C308.1 457.6 308.4 457.8 308.6 458.0C308.8 458.3 309.1 458.7 309.1 459.0Z" fill="#fff" stroke="#000" stroke-opacity="0.75" stroke-width="0.45"/>
<path d="M268.8 418.3C268.6 418.6 268.2 418.9 267.9 419.1C267.6 419.3 267.2 419.4 267.0 419.4C266.7 419.4 266.5 419.1 266.3 418.9C266.2 418.7 266.0 418.4 266.1 418.0C266.1 417.7 266.3 417.3 266.5 417.0C266.7 416.6 266.9 416.2 267.2 416.0C267.5 415.8 267.8 415.8 268.1 415.8C268.4 415.9 268.6 416.0 268.8 416.3C268.9 416.5 268.9 416.8 268.9 417.1C268.9 417.5 269.0 418.0 268.8 418.3Z" fill="#0430f5" stroke="#000" stroke-opacity="0.75" stroke-width="0.45"/>
<path d="M288.0 424.4C289.4 423.6 292.5 423.2 294.7 422.6C296.9 422.0 299.2 421.3 301.4 420.8C303.6 420.4 305.9 420.4 308.1 419.9C310.3 419.5 312.6 418.9 314.8 418.1C317.0 417.4 319.1 416.0 321.5 415.5C323.9 414.9 326.7 414.8 329.3 414.8C331.9 414.8 334.7 415.0 337.1 415.2C339.5 415.5 341.8 415.8 343.8 416.4C345.9 416.9 347.9 417.6 349.4 418.6C350.9 419.6 352.5 420.7 352.8 422.2C353.1 423.6 352.1 425.4 351.2 427.1C350.3 428.7 348.8 430.4 347.2 432.0C345.6 433.5 343.6 435.2 341.6 436.5C339.5 437.7 337.1 438.6 334.9 439.4C332.7 440.1 330.4 440.7 328.2 440.9C326.0 441.1 323.7 440.4 321.5 440.5C319.3 440.6 317.0 441.1 314.8 441.6C312.6 442.0 310.3 442.8 308.1 443.2C305.9 443.5 303.3 443.3 301.4 443.8C299.5 444.3 297.9 444.9 296.9 446.1C296.0 447.2 296.6 450.0 295.8 450.5C295.1 451.1 293.4 450.3 292.5 449.4C291.5 448.5 291.2 446.2 290.2 444.9C289.3 443.6 287.8 443.0 286.9 441.6C286.0 440.2 284.9 438.2 284.6 436.5C284.3 434.7 284.8 432.6 285.1 431.1C285.4 429.6 286.0 428.6 286.4 427.5C286.9 426.4 286.6 425.2 288.0 424.4Z" fill="#00c8a0" stroke="#000" stroke-opacity="0.75" stroke-width="0.45"/>
<path d="M289.0 424.7C290.3 423.9 293.3 423.5 295.5 422.9C297.6 422.4 299.8 421.7 301.9 421.2C304.1 420.8 306.2 420.8 308.3 420.4C310.5 419.9 312.6 419.4 314.8 418.7C316.9 417.9 318.9 416.6 321.2 416.1C323.6 415.5 326.2 415.5 328.7 415.4C331.3 415.4 333.9 415.6 336.3 415.9C338.6 416.1 340.7 416.4 342.7 416.9C344.7 417.5 346.6 418.2 348.1 419.1C349.5 420.0 351.0 421.2 351.3 422.5C351.6 423.9 350.7 425.7 349.8 427.2C348.9 428.8 347.5 430.5 345.9 432.0C344.4 433.5 342.5 435.1 340.6 436.3C338.6 437.4 336.3 438.3 334.1 439.1C332.0 439.8 329.8 440.4 327.7 440.6C325.5 440.7 323.4 440.0 321.2 440.1C319.1 440.2 316.9 440.8 314.8 441.2C312.6 441.6 310.5 442.3 308.3 442.7C306.2 443.1 303.7 442.9 301.9 443.3C300.1 443.8 298.5 444.4 297.6 445.5C296.7 446.6 297.3 449.3 296.5 449.8C295.8 450.3 294.2 449.6 293.3 448.7C292.4 447.8 292.1 445.7 291.2 444.4C290.3 443.2 288.8 442.6 287.9 441.2C287.1 439.8 286.1 437.9 285.8 436.3C285.5 434.6 285.9 432.5 286.2 431.1C286.5 429.7 287.1 428.7 287.5 427.7C288.0 426.6 287.7 425.5 289.0 424.7Z" fill="#08c818" stroke="#000" stroke-opacity="0.75" stroke-width="0.45"/>
<path d="M297.9 447.0C297.9 447.3 297.9 447.8 297.8 448.1C297.7 448.4 297.4 448.7 297.1 448.9C296.9 449.2 296.6 449.3 296.3 449.5C296.0 449.7 295.7 450.0 295.4 450.1C295.0 450.1 294.7 449.8 294.3 449.7C294.0 449.6 293.6 449.7 293.3 449.6C293.0 449.5 292.7 449.3 292.4 449.0C292.2 448.8 292.0 448.4 291.9 448.1C291.8 447.7 291.7 447.3 291.8 447.0C291.8 446.7 292.2 446.4 292.3 446.1C292.4 445.7 292.2 445.3 292.4 445.0C292.6 444.7 293.0 444.6 293.3 444.4C293.6 444.3 294.0 444.1 294.3 444.0C294.6 443.9 295.0 443.9 295.4 443.9C295.7 444.0 296.1 444.1 296.4 444.3C296.6 444.5 296.8 444.9 297.0 445.1C297.2 445.4 297.3 445.7 297.5 446.0C297.6 446.3 297.8 446.7 297.9 447.0Z" fill="#08c818" stroke="#000" stroke-opacity="0.75" stroke-width="0.45"/>
<path d="M291.2 428.3C291.9 426.7 295.5 426.0 297.6 425.1C299.8 424.2 301.9 423.5 304.1 422.9C306.2 422.4 308.3 422.4 310.5 421.9C312.6 421.3 314.8 420.4 316.9 419.7C319.1 419.0 321.1 418.0 323.4 417.6C325.7 417.1 328.4 416.9 330.9 416.9C333.4 416.9 336.1 417.2 338.4 417.6C340.7 417.9 343.2 418.3 344.8 419.1C346.5 419.9 347.9 421.2 348.1 422.5C348.2 423.9 347.0 425.7 345.9 427.2C344.8 428.7 343.4 430.4 341.6 431.5C339.8 432.7 337.3 433.5 335.2 434.1C333.0 434.8 330.9 435.3 328.7 435.4C326.6 435.5 324.5 434.8 322.3 434.8C320.2 434.8 318.0 434.9 315.9 435.4C313.7 435.9 311.6 437.0 309.4 437.5C307.3 438.0 304.9 438.3 303.0 438.4C301.0 438.5 299.2 438.6 297.6 438.0C296.0 437.4 294.4 436.4 293.3 434.8C292.2 433.1 290.5 429.9 291.2 428.3Z" fill="#7ee000" stroke="#000" stroke-opacity="0.75" stroke-width="0.45"/>
<path d="M292.6 428.3C293.3 426.8 296.7 426.1 298.7 425.2C300.8 424.4 302.8 423.7 304.8 423.2C306.9 422.7 308.9 422.7 311.0 422.2C313.0 421.7 315.0 420.8 317.1 420.1C319.1 419.5 321.0 418.5 323.2 418.1C325.4 417.7 328.0 417.5 330.3 417.5C332.7 417.5 335.3 417.8 337.5 418.1C339.7 418.4 342.1 418.7 343.6 419.5C345.1 420.3 346.5 421.5 346.7 422.8C346.8 424.1 345.6 425.8 344.6 427.3C343.6 428.7 342.2 430.3 340.5 431.4C338.8 432.4 336.5 433.2 334.4 433.8C332.4 434.4 330.3 434.9 328.3 435.0C326.3 435.1 324.2 434.4 322.2 434.4C320.1 434.4 318.1 434.6 316.1 435.0C314.0 435.5 312.0 436.6 309.9 437.1C307.9 437.5 305.7 437.8 303.8 437.9C302.0 438.0 300.3 438.1 298.7 437.5C297.2 436.9 295.7 435.9 294.6 434.4C293.6 432.9 291.9 429.8 292.6 428.3Z" fill="none" stroke="#000" stroke-opacity="0.60" stroke-width="0.35"/>
<path d="M294.8 431.1C295.4 430.0 297.9 427.9 299.8 426.8C301.7 425.7 304.1 425.2 306.2 424.7C308.3 424.1 310.5 423.8 312.6 423.4C314.8 422.9 317.1 422.5 319.1 421.9C321.1 421.3 322.3 420.3 324.5 419.7C326.6 419.2 329.5 418.8 332.0 418.7C334.5 418.5 337.3 418.5 339.5 419.1C341.6 419.6 344.2 420.6 344.8 421.9C345.5 423.2 344.4 425.4 343.3 426.8C342.3 428.2 340.3 429.6 338.4 430.5C336.5 431.3 334.1 431.8 332.0 432.0C329.8 432.1 327.7 431.7 325.5 431.5C323.4 431.4 321.2 430.9 319.1 431.1C316.9 431.3 314.8 432.0 312.6 432.6C310.5 433.2 308.2 434.3 306.2 434.8C304.2 435.2 302.0 435.6 300.4 435.4C298.8 435.2 297.5 434.4 296.5 433.7C295.6 433.0 294.3 432.3 294.8 431.1Z" fill="#b4e600" stroke="#000" stroke-opacity="0.75" stroke-width="0.45"/>
<path d="M311.4 428.2C311.3 428.8 310.5 429.5 310.2 430.1C309.9 430.7 309.8 431.2 309.4 431.8C309.1 432.4 308.8 433.2 308.1 433.7C307.3 434.3 306.2 434.8 305.1 435.2C304.1 435.5 302.9 435.6 301.8 435.8C300.7 436.0 299.3 436.5 298.4 436.4C297.6 436.3 297.2 435.5 296.5 435.2C295.8 434.8 294.9 434.8 294.4 434.4C293.8 434.1 293.7 433.5 293.3 433.0C293.0 432.5 292.1 432.0 292.2 431.4C292.2 430.8 292.8 429.9 293.6 429.4C294.4 428.8 296.0 428.5 296.9 428.0C297.9 427.5 298.4 426.7 299.3 426.4C300.2 426.0 301.4 426.1 302.4 425.9C303.5 425.7 304.6 425.4 305.6 425.3C306.6 425.3 307.6 425.4 308.5 425.6C309.4 425.7 310.5 426.0 311.0 426.4C311.5 426.8 311.5 427.6 311.4 428.2Z" fill="#f0f000" stroke="#000" stroke-opacity="0.75" stroke-width="0.45"/>
<path d="M350.3 423.4C350.1 424.3 348.7 425.1 348.0 426.0C347.4 426.9 347.7 428.0 346.4 428.7C345.2 429.4 342.4 429.7 340.4 430.2C338.5 430.7 336.7 431.1 334.8 431.4C332.9 431.6 331.2 431.4 329.0 431.6C326.9 431.9 323.8 433.0 321.7 432.9C319.7 432.9 317.9 432.0 316.8 431.3C315.8 430.6 316.0 429.6 315.6 428.8C315.2 428.0 314.6 427.3 314.4 426.6C314.2 425.8 313.7 424.9 314.2 424.2C314.7 423.4 316.1 422.5 317.4 421.8C318.7 421.1 320.4 420.6 322.0 419.9C323.6 419.2 325.1 417.9 327.1 417.5C329.1 417.1 331.9 417.5 333.9 417.7C335.9 417.9 337.7 418.3 339.2 418.7C340.7 419.1 341.2 419.8 342.9 420.1C344.6 420.5 348.2 420.3 349.4 420.9C350.6 421.4 350.5 422.6 350.3 423.4Z" fill="#f0f000" stroke="#000" stroke-opacity="0.75" stroke-width="0.45"/>
<path d="M305.0 429.9C305.1 430.1 305.0 430.4 304.9 430.6C304.9 430.9 304.7 431.2 304.5 431.4C304.3 431.7 304.1 431.9 303.8 432.2C303.6 432.4 303.2 432.6 302.8 432.8C302.5 433.0 302.1 433.1 301.7 433.3C301.3 433.5 300.8 433.9 300.4 434.0C300.0 434.1 299.5 434.0 299.1 433.9C298.7 433.9 298.3 433.8 298.0 433.8C297.6 433.7 297.3 433.5 297.1 433.4C296.8 433.2 296.6 433.1 296.4 432.9C296.2 432.7 295.9 432.6 295.8 432.3C295.7 432.1 295.6 431.9 295.7 431.6C295.8 431.3 296.2 431.1 296.4 430.8C296.6 430.5 296.4 430.2 296.7 430.0C296.9 429.7 297.4 429.5 297.8 429.3C298.2 429.1 298.7 429.0 299.1 428.8C299.5 428.7 300.0 428.6 300.4 428.6C300.8 428.5 301.2 428.5 301.6 428.5C302.0 428.5 302.4 428.4 302.9 428.4C303.3 428.4 303.9 428.4 304.2 428.5C304.5 428.6 304.4 429.0 304.5 429.3C304.6 429.5 304.9 429.6 305.0 429.9Z" fill="#ff9a00" stroke="#000" stroke-opacity="0.75" stroke-width="0.45"/>
<path d="M343.6 424.0C343.6 424.5 344.3 425.0 344.1 425.5C343.8 426.0 342.6 426.5 341.9 426.9C341.3 427.4 340.9 428.0 340.0 428.3C339.1 428.7 337.6 428.9 336.4 429.1C335.2 429.3 334.1 429.3 332.9 429.5C331.7 429.7 330.5 430.1 329.2 430.2C327.9 430.4 326.1 430.6 325.0 430.4C323.9 430.2 323.4 429.5 322.5 429.1C321.7 428.7 320.6 428.5 320.0 428.1C319.5 427.7 319.6 427.1 319.2 426.7C318.8 426.2 317.8 425.8 317.5 425.4C317.3 424.9 317.2 424.3 317.6 423.8C318.0 423.3 319.0 422.8 319.8 422.4C320.5 422.0 321.4 421.6 322.2 421.2C323.0 420.7 323.5 419.9 324.6 419.7C325.7 419.4 327.4 419.5 328.7 419.4C330.0 419.4 331.3 419.2 332.5 419.3C333.7 419.4 334.6 419.8 335.7 420.0C336.7 420.2 337.9 420.2 339.0 420.4C340.2 420.5 341.8 420.6 342.7 420.9C343.6 421.3 344.3 421.8 344.4 422.3C344.6 422.8 343.7 423.5 343.6 424.0Z" fill="#ff9a00" stroke="#000" stroke-opacity="0.75" stroke-width="0.45"/>
<path d="M343.4 424.0C343.8 424.5 344.3 425.0 344.0 425.5C343.7 425.9 342.4 426.4 341.6 426.8C340.7 427.1 339.9 427.5 338.9 427.8C338.0 428.1 336.8 428.2 335.8 428.4C334.7 428.7 334.0 429.0 332.9 429.3C331.8 429.5 330.5 429.8 329.3 429.8C328.1 429.9 326.9 429.6 325.9 429.4C324.9 429.2 324.1 428.9 323.2 428.6C322.2 428.4 320.9 428.3 320.2 428.0C319.5 427.6 319.3 427.1 319.0 426.7C318.7 426.2 318.4 425.8 318.5 425.3C318.7 424.9 319.5 424.4 319.9 424.0C320.3 423.6 320.6 423.2 320.9 422.7C321.3 422.3 321.4 421.7 322.1 421.2C322.8 420.8 323.9 420.4 325.1 420.2C326.2 420.0 327.7 420.1 328.9 420.1C330.1 420.0 331.3 419.9 332.4 419.9C333.5 419.9 334.5 420.1 335.6 420.2C336.7 420.3 338.0 420.3 338.9 420.5C339.9 420.7 340.6 421.1 341.1 421.5C341.6 421.9 341.7 422.4 342.1 422.8C342.5 423.2 343.1 423.6 343.4 424.0Z" fill="none" stroke="#000" stroke-opacity="0.60" stroke-width="0.35"/>
<path d="M340.0 424.2C340.1 424.6 339.8 425.0 339.5 425.3C339.2 425.6 338.7 425.9 338.3 426.2C337.8 426.5 337.3 426.8 336.7 427.0C336.1 427.2 335.4 427.4 334.7 427.6C334.0 427.7 333.2 427.9 332.5 427.9C331.7 427.8 331.0 427.5 330.3 427.4C329.6 427.4 328.9 427.4 328.1 427.4C327.3 427.3 326.3 427.4 325.6 427.2C324.9 427.0 324.1 426.7 323.7 426.4C323.3 426.1 323.2 425.7 323.2 425.3C323.2 424.9 323.5 424.6 323.6 424.2C323.8 423.9 324.0 423.6 324.1 423.3C324.3 423.0 324.0 422.5 324.3 422.2C324.6 421.9 325.4 421.7 326.0 421.5C326.7 421.3 327.4 421.2 328.0 421.0C328.7 420.8 329.4 420.6 330.1 420.5C330.9 420.4 331.8 420.3 332.6 420.3C333.4 420.3 334.2 420.5 334.9 420.7C335.5 421.0 336.0 421.3 336.4 421.6C336.8 421.9 336.8 422.3 337.2 422.5C337.6 422.8 338.5 422.9 339.0 423.2C339.5 423.5 339.9 423.9 340.0 424.2Z" fill="#ff2a00" stroke="#000" stroke-opacity="0.75" stroke-width="0.45"/>
<path d="M339.1 424.2C339.1 424.5 338.4 424.8 338.2 425.1C338.0 425.4 338.1 425.8 337.8 426.0C337.5 426.3 336.8 426.5 336.3 426.7C335.8 426.9 335.3 427.3 334.7 427.4C334.0 427.6 333.2 427.6 332.4 427.6C331.7 427.6 330.9 427.5 330.3 427.4C329.6 427.3 329.1 427.1 328.5 426.9C327.8 426.8 326.8 426.9 326.2 426.8C325.7 426.6 325.4 426.3 325.0 426.0C324.6 425.7 323.9 425.5 323.7 425.2C323.5 424.9 323.7 424.6 323.8 424.2C323.8 423.9 323.8 423.6 323.9 423.3C324.1 423.0 324.4 422.7 324.8 422.4C325.2 422.2 325.7 421.9 326.3 421.7C326.9 421.6 327.8 421.7 328.5 421.5C329.1 421.4 329.6 421.1 330.2 421.0C330.9 420.9 331.7 421.0 332.4 421.0C333.2 421.0 334.1 420.9 334.7 421.0C335.4 421.1 335.9 421.5 336.4 421.7C336.8 422.0 337.2 422.2 337.5 422.5C337.9 422.8 338.0 423.1 338.3 423.3C338.6 423.6 339.2 423.9 339.1 424.2Z" fill="none" stroke="#000" stroke-opacity="0.60" stroke-width="0.35"/>
<path d="M298.0 436.4C297.7 436.5 297.4 436.6 297.2 436.5C296.9 436.4 296.6 436.2 296.5 435.8C296.3 435.4 296.2 434.8 296.1 434.3C296.1 433.8 296.1 433.3 296.1 432.8C296.0 432.3 295.7 431.7 295.8 431.2C295.8 430.8 296.2 430.4 296.4 430.0C296.5 429.6 296.6 429.1 296.8 428.7C296.9 428.3 297.1 427.8 297.4 427.6C297.6 427.4 297.9 427.3 298.2 427.3C298.4 427.4 298.7 427.8 298.9 428.1C299.1 428.4 299.2 428.8 299.4 429.1C299.6 429.3 300.0 429.4 300.1 429.8C300.3 430.2 300.3 430.9 300.3 431.4C300.3 431.9 300.2 432.4 300.2 432.9C300.1 433.5 300.0 434.0 299.9 434.5C299.8 434.9 299.7 435.6 299.5 435.9C299.3 436.1 298.9 435.8 298.6 435.9C298.4 436.0 298.2 436.3 298.0 436.4Z" fill="none" stroke="#000" stroke-opacity="0.65" stroke-width="0.40"/>
<path d="M305.2 430.8C305.1 430.5 304.9 430.2 304.9 429.9C304.9 429.6 305.1 429.3 305.1 429.0C305.1 428.7 304.9 428.3 305.1 428.0C305.2 427.7 305.5 427.4 305.8 427.1C306.0 426.8 306.3 426.6 306.7 426.4C307.0 426.2 307.4 426.0 307.7 425.9C308.1 425.9 308.5 425.9 308.8 426.0C309.0 426.1 309.2 426.4 309.5 426.5C309.7 426.7 310.1 426.7 310.3 426.8C310.6 427.0 310.9 427.2 311.0 427.5C311.1 427.8 311.0 428.2 310.9 428.6C310.8 428.9 310.7 429.3 310.5 429.6C310.2 429.8 309.8 430.0 309.6 430.3C309.3 430.5 309.1 431.0 308.8 431.1C308.5 431.3 308.1 431.2 307.8 431.3C307.4 431.4 307.1 431.6 306.7 431.7C306.4 431.7 305.9 431.8 305.6 431.6C305.4 431.5 305.3 431.0 305.2 430.8Z" fill="none" stroke="#000" stroke-opacity="0.65" stroke-width="0.40"/>
<path d="M329.7 434.3C329.3 433.9 328.6 433.6 328.3 433.1C328.1 432.7 328.1 432.1 328.2 431.7C328.3 431.3 328.4 430.7 328.7 430.5C329.1 430.3 329.7 430.4 330.3 430.4C330.8 430.5 331.5 430.7 332.0 431.1C332.4 431.4 332.6 432.0 332.8 432.5C333.0 432.9 333.4 433.5 333.4 433.9C333.4 434.3 333.1 434.6 332.7 434.9C332.3 435.1 331.8 435.3 331.3 435.2C330.8 435.1 330.2 434.6 329.7 434.3Z" fill="none" stroke="#000" stroke-opacity="0.65" stroke-width="0.40"/>
<path d="M343.1 436.6C342.9 436.4 342.5 436.5 342.3 436.2C342.1 436.0 341.8 435.7 341.7 435.3C341.7 434.9 341.7 434.3 341.9 433.7C342.0 433.2 342.3 432.8 342.4 432.3C342.6 431.8 342.5 431.3 342.6 430.7C342.8 430.2 343.0 429.5 343.3 429.1C343.6 428.7 344.1 428.6 344.4 428.4C344.8 428.3 345.1 428.2 345.4 428.1C345.7 428.1 346.0 428.1 346.3 428.2C346.6 428.3 347.0 428.2 347.2 428.5C347.3 428.8 347.1 429.6 347.2 430.0C347.3 430.4 347.7 430.5 347.8 431.0C347.9 431.4 347.9 432.1 347.7 432.6C347.5 433.1 347.1 433.6 346.8 434.0C346.5 434.5 346.2 434.7 345.9 435.1C345.6 435.4 345.3 435.7 345.0 436.1C344.7 436.4 344.3 437.0 343.9 437.1C343.6 437.2 343.4 436.7 343.1 436.6Z" fill="none" stroke="#000" stroke-opacity="0.65" stroke-width="0.40"/>
<path d="M322.7 433.1C322.6 433.3 322.5 433.4 322.2 433.4C322.0 433.4 321.5 433.1 321.3 433.1C321.0 433.1 321.0 433.3 320.7 433.3C320.4 433.2 320.0 432.9 319.6 432.7C319.3 432.5 318.9 432.3 318.6 432.0C318.4 431.8 318.3 431.5 318.1 431.2C317.9 431.0 317.6 430.8 317.4 430.5C317.2 430.3 316.9 430.0 316.9 429.8C316.9 429.6 317.2 429.6 317.3 429.4C317.4 429.3 317.3 429.1 317.5 429.0C317.6 428.9 317.9 428.9 318.2 429.0C318.4 429.0 318.9 429.2 319.2 429.4C319.5 429.6 319.8 429.8 320.1 430.0C320.4 430.2 320.8 430.3 321.1 430.5C321.4 430.6 321.7 431.0 322.0 431.2C322.2 431.5 322.5 431.8 322.6 432.0C322.7 432.2 322.6 432.3 322.6 432.5C322.6 432.7 322.7 433.0 322.7 433.1Z" fill="none" stroke="#000" stroke-opacity="0.65" stroke-width="0.40"/>
<path d="M315.6 433.2C315.5 432.9 315.5 432.7 315.5 432.5C315.5 432.2 315.4 432.0 315.5 431.7C315.6 431.4 315.8 431.1 316.0 430.9C316.3 430.7 316.6 430.5 316.9 430.3C317.2 430.1 317.4 429.6 317.7 429.4C318.0 429.2 318.5 429.2 318.8 429.2C319.1 429.2 319.4 429.4 319.6 429.5C319.9 429.6 319.9 429.9 320.2 430.0C320.4 430.1 320.8 430.1 321.0 430.3C321.2 430.4 321.5 430.7 321.5 430.9C321.4 431.2 321.0 431.5 320.9 431.8C320.7 432.1 320.8 432.4 320.6 432.7C320.4 433.0 320.1 433.2 319.8 433.4C319.4 433.6 319.1 433.7 318.7 433.7C318.4 433.8 318.2 433.8 317.8 433.8C317.5 433.9 317.1 434.2 316.7 434.3C316.4 434.3 315.9 434.2 315.7 434.1C315.6 433.9 315.6 433.5 315.6 433.2Z" fill="none" stroke="#000" stroke-opacity="0.65" stroke-width="0.40"/>
<path d="M296.3 433.3C296.0 433.4 295.6 433.1 295.3 433.0C295.0 432.8 294.8 432.6 294.5 432.4C294.2 432.2 294.0 431.9 293.8 431.6C293.7 431.3 293.5 431.0 293.5 430.6C293.4 430.3 293.4 429.9 293.4 429.5C293.4 429.2 293.5 428.9 293.5 428.5C293.5 428.1 293.3 427.4 293.5 427.2C293.7 426.9 294.2 426.9 294.5 426.8C294.8 426.8 295.1 426.8 295.4 426.8C295.7 426.8 296.0 426.8 296.3 426.8C296.6 426.9 296.9 426.9 297.2 427.1C297.4 427.2 297.7 427.5 297.9 427.8C298.1 428.1 298.2 428.5 298.3 428.8C298.4 429.2 298.7 429.6 298.7 430.0C298.7 430.3 298.4 430.7 298.2 431.0C298.0 431.3 297.8 431.5 297.6 431.7C297.4 432.0 297.2 432.2 297.0 432.4C296.8 432.7 296.6 433.2 296.3 433.3Z" fill="none" stroke="#000" stroke-opacity="0.65" stroke-width="0.40"/>
<path d="M310.3 441.5C310.0 441.4 309.8 441.1 309.6 440.8C309.4 440.5 309.2 440.1 309.2 439.7C309.2 439.2 309.4 438.7 309.6 438.2C309.8 437.7 310.1 437.2 310.4 436.8C310.7 436.3 310.9 435.7 311.3 435.4C311.6 435.0 312.1 435.0 312.6 434.7C313.0 434.5 313.3 434.2 313.8 433.9C314.2 433.7 314.7 433.4 315.1 433.4C315.6 433.4 316.0 433.6 316.2 433.9C316.4 434.1 316.4 434.7 316.5 435.1C316.6 435.4 316.7 435.8 316.7 436.2C316.7 436.6 316.6 437.1 316.5 437.6C316.4 438.0 316.3 438.5 316.0 439.0C315.7 439.5 315.3 439.9 314.9 440.3C314.6 440.7 314.2 441.1 313.8 441.5C313.3 441.8 312.8 442.2 312.4 442.2C312.0 442.2 311.8 441.6 311.5 441.5C311.1 441.4 310.7 441.6 310.3 441.5Z" fill="none" stroke="#000" stroke-opacity="0.65" stroke-width="0.40"/>
<path d="M311.0 435.3C310.9 435.0 310.6 434.9 310.6 434.6C310.7 434.3 311.0 433.8 311.3 433.4C311.6 433.0 312.0 432.4 312.4 432.2C312.8 431.9 313.3 431.9 313.7 431.9C314.1 431.8 314.7 431.7 314.8 431.8C315.0 432.0 314.7 432.6 314.6 433.0C314.5 433.4 314.5 433.8 314.2 434.2C313.9 434.6 313.4 435.0 313.0 435.3C312.5 435.6 311.9 436.0 311.5 436.0C311.2 436.0 311.2 435.5 311.0 435.3Z" fill="none" stroke="#000" stroke-opacity="0.65" stroke-width="0.40"/>
<path d="M324.5 417.6L347.5 416.8" stroke="#000" stroke-opacity="0.8" stroke-width="1.1" stroke-dasharray="2.2 1.4" fill="none"/>
<path d="M312 419.5L324 418" stroke="#000" stroke-opacity="0.6" stroke-width="0.9" stroke-dasharray="2 1.5" fill="none"/>
<rect x="237.4" y="352.3" width="136.9" height="117.9" fill="none" stroke="#2a2a2a" stroke-width="1.1"/>
<path d="M311.2 352.3V470.2M237.4 420.8H374.3" stroke="#111" stroke-width="1" fill="none" stroke-opacity="0.38"/>
<text transform="translate(250.0,481.3) scale(1.00,1)" class="tk" text-anchor="middle">0</text>
<text transform="translate(278.6,481.4) scale(0.82,1)" class="tk" text-anchor="end">10</text>
<text transform="translate(279.2,479.1) scale(0.85,1)" class="tk" text-anchor="start">3</text>
<text transform="translate(308.6,481.4) scale(0.82,1)" class="tk" text-anchor="end">10</text>
<text transform="translate(309.2,479.1) scale(0.85,1)" class="tk" text-anchor="start">4</text>
<text transform="translate(338.7,481.4) scale(0.82,1)" class="tk" text-anchor="end">10</text>
<text transform="translate(339.3,479.1) scale(0.85,1)" class="tk" text-anchor="start">5</text>
<text transform="translate(369.1,481.4) scale(0.82,1)" class="tk" text-anchor="end">10</text>
<text transform="translate(369.7,479.1) scale(0.85,1)" class="tk" text-anchor="start">6</text>
<text transform="translate(229.6,359.0) scale(0.82,1)" class="tk" text-anchor="end">10</text>
<text transform="translate(230.1,356.7) scale(0.85,1)" class="tk" text-anchor="start">6</text>
<text transform="translate(229.6,384.9) scale(0.82,1)" class="tk" text-anchor="end">10</text>
<text transform="translate(230.1,382.6) scale(0.85,1)" class="tk" text-anchor="start">5</text>
<text transform="translate(229.6,410.8) scale(0.82,1)" class="tk" text-anchor="end">10</text>
<text transform="translate(230.1,408.5) scale(0.85,1)" class="tk" text-anchor="start">4</text>
<text transform="translate(229.6,435.8) scale(0.82,1)" class="tk" text-anchor="end">10</text>
<text transform="translate(230.1,433.5) scale(0.85,1)" class="tk" text-anchor="start">3</text>
<text transform="translate(233.7,460.6) scale(1.00,1)" class="tk" text-anchor="end">0</text>
<path d="M250.0 470.2v2.6M282.4 470.2v2.6M261.8 470.2v2.2M312.4 470.2v2.6M342.5 470.2v2.6M372.9 470.2v2.6M237.4 354.3h-2.6M237.4 380.2h-2.6M237.4 406.1h-2.6M237.4 431.1h-2.6M237.4 446.6h-2.2M237.4 458.1h-2.6" stroke="#333" stroke-width="0.8" fill="none"/>
<path d="M268.0 470.2v1.5M271.6 470.2v1.5M274.2 470.2v1.5M276.2 470.2v1.5M277.9 470.2v1.5M279.2 470.2v1.5M280.4 470.2v1.5M281.5 470.2v1.5M291.5 470.2v1.5M296.7 470.2v1.5M300.5 470.2v1.5M303.4 470.2v1.5M305.8 470.2v1.5M307.8 470.2v1.5M309.5 470.2v1.5M311.0 470.2v1.5M321.5 470.2v1.5M326.8 470.2v1.5M330.6 470.2v1.5M333.5 470.2v1.5M335.9 470.2v1.5M337.9 470.2v1.5M339.6 470.2v1.5M341.2 470.2v1.5M351.7 470.2v1.5M357.0 470.2v1.5M360.8 470.2v1.5M363.8 470.2v1.5M366.2 470.2v1.5M368.2 470.2v1.5M370.0 470.2v1.5M371.5 470.2v1.5M237.4 372.4h-1.5M237.4 367.9h-1.5M237.4 364.6h-1.5M237.4 362.1h-1.5M237.4 360.1h-1.5M237.4 358.3h-1.5M237.4 356.8h-1.5M237.4 355.5h-1.5M237.4 398.3h-1.5M237.4 393.7h-1.5M237.4 390.5h-1.5M237.4 388.0h-1.5M237.4 386.0h-1.5M237.4 384.2h-1.5M237.4 382.7h-1.5M237.4 381.4h-1.5M237.4 423.5h-1.5M237.4 419.1h-1.5M237.4 416.0h-1.5M237.4 413.6h-1.5M237.4 411.6h-1.5M237.4 409.9h-1.5M237.4 408.5h-1.5M237.4 407.2h-1.5M237.4 441.9h-1.5M237.4 439.2h-1.5M237.4 437.3h-1.5M237.4 435.7h-1.5M237.4 434.5h-1.5M237.4 433.5h-1.5M237.4 432.6h-1.5M237.4 431.8h-1.5" stroke="#333" stroke-width="0.7" fill="none"/></g>
<g><path d="M412.9 445.7h.01M448.7 461.4h.01M446.9 443.6h.01M433.3 440.1h.01M407.1 437.4h.01M443.1 446.0h.01M422.9 430.4h.01M426.5 436.1h.01M428.6 448.8h.01M404.7 431.9h.01M408.3 456.3h.01M438.7 448.9h.01M416.2 425.8h.01M422.0 445.4h.01M426.8 451.2h.01M422.3 464.4h.01M438.4 466.8h.01M431.9 440.2h.01M414.5 452.6h.01M444.6 444.9h.01M434.5 439.8h.01M421.3 439.5h.01M398.1 430.9h.01M428.6 444.5h.01M445.3 450.5h.01M434.7 443.6h.01M413.9 448.8h.01M423.4 438.9h.01M419.4 439.4h.01M396.7 423.9h.01M447.2 448.1h.01M420.9 438.8h.01M436.1 442.9h.01M417.2 414.7h.01M429.8 459.4h.01M442.7 446.1h.01M418.2 428.8h.01M429.1 437.9h.01M409.7 462.6h.01M412.9 436.4h.01M425.3 442.0h.01M432.4 432.8h.01M417.9 446.4h.01M414.7 446.7h.01M447.1 452.0h.01M450.3 455.7h.01M455.5 446.3h.01M434.6 429.8h.01M425.0 434.2h.01M426.7 430.4h.01M415.4 449.8h.01M437.8 434.1h.01M423.1 436.6h.01M434.9 435.3h.01M469.3 453.2h.01M449.8 441.6h.01M433.7 443.3h.01M432.1 454.5h.01M396.1 422.8h.01M422.6 448.2h.01M420.0 440.5h.01M445.4 450.9h.01M426.0 438.8h.01M404.2 448.6h.01M429.4 431.3h.01M435.4 438.2h.01M422.1 422.9h.01M441.6 433.4h.01M432.1 445.2h.01M418.3 441.7h.01M423.4 439.3h.01M430.1 434.6h.01M437.9 443.6h.01M408.3 447.1h.01M420.5 447.8h.01M477.7 449.8h.01M443.4 433.3h.01M408.4 440.8h.01M433.0 440.6h.01M415.5 431.3h.01M420.0 461.3h.01M426.6 437.5h.01" stroke="#4a4a4a" stroke-opacity="0.60" stroke-width="1" stroke-linecap="round" fill="none"/>
<path d="M447.5 446.6h.01M423.7 455.7h.01M483.3 458.6h.01M423.4 466.8h.01M451.1 443.9h.01M459.2 453.5h.01M430.1 448.7h.01M445.2 447.6h.01M467.9 457.2h.01M444.2 451.8h.01M473.9 458.0h.01M428.2 456.8h.01M492.5 457.2h.01M435.7 467.1h.01M509.5 456.1h.01M404.2 443.2h.01M496.5 453.7h.01M471.0 459.6h.01M460.5 460.3h.01M463.5 457.6h.01M510.7 446.7h.01M429.8 464.4h.01M428.8 457.0h.01M433.7 463.3h.01M456.5 461.1h.01M440.5 454.4h.01M406.0 462.2h.01M465.2 455.5h.01" stroke="#4a4a4a" stroke-opacity="0.60" stroke-width="1" stroke-linecap="round" fill="none"/>
<path d="M501.1 409.4h.01M499.8 427.6h.01M494.4 408.5h.01M507.5 414.3h.01M494.4 425.7h.01M517.4 409.8h.01M518.8 401.3h.01M516.0 399.4h.01M504.4 411.3h.01M496.9 417.5h.01M490.8 406.3h.01M489.1 424.5h.01M494.5 415.2h.01M498.2 420.8h.01M490.0 405.4h.01" stroke="#4a4a4a" stroke-opacity="0.60" stroke-width="1" stroke-linecap="round" fill="none"/>
<path d="M463.9 352.3V470.2M390.3 418.2H529.6" stroke="#222" stroke-width="1" fill="none" stroke-opacity="0.7"/>
<path d="M427.2 427.2C427.7 425.6 429.0 425.1 430.4 424.0C431.9 422.9 434.0 422.1 435.8 420.8C437.6 419.5 439.4 417.8 441.2 416.5C443.0 415.3 444.7 414.4 446.5 413.3C448.3 412.2 449.9 411.1 451.9 410.1C453.9 409.0 456.2 407.6 458.3 406.8C460.5 406.1 462.6 405.9 464.8 405.3C466.9 404.8 469.1 404.1 471.2 403.6C473.4 403.2 475.5 402.5 477.7 402.5C479.8 402.5 482.0 403.2 484.1 403.6C486.3 404.1 488.6 404.6 490.6 405.3C492.5 406.1 494.1 406.9 495.9 407.9C497.7 408.9 499.8 410.1 501.3 411.1C502.8 412.1 504.6 412.9 504.9 413.9C505.3 415.0 504.6 416.4 503.4 417.6C502.3 418.7 499.7 419.7 498.1 420.8C496.5 421.9 495.2 422.9 493.8 424.0C492.3 425.1 490.2 426.2 489.5 427.2C488.8 428.3 490.4 429.6 489.5 430.5C488.6 431.4 485.9 431.7 484.1 432.6C482.3 433.5 480.2 434.4 478.7 435.8C477.3 437.3 476.8 439.8 475.5 441.2C474.3 442.6 472.8 443.7 471.2 444.4C469.6 445.1 467.1 444.6 465.9 445.5C464.6 446.4 464.6 448.4 463.7 449.8C462.8 451.2 461.6 452.8 460.5 454.1C459.4 455.3 458.5 457.2 457.3 457.3C456.0 457.4 454.4 455.6 453.0 454.7C451.5 453.8 449.9 452.9 448.7 451.9C447.4 450.9 445.8 450.0 445.5 448.7C445.1 447.5 446.9 445.5 446.5 444.4C446.2 443.3 444.7 442.5 443.3 442.3C441.9 442.1 439.7 443.0 437.9 443.3C436.2 443.7 434.1 444.6 432.6 444.4C431.1 444.2 429.5 443.3 428.9 442.3C428.4 441.2 429.6 439.4 429.4 438.0C429.1 436.5 428.0 435.5 427.6 433.7C427.3 431.9 426.7 428.9 427.2 427.2Z" fill="#0430f5" stroke="#000" stroke-opacity="0.75" stroke-width="0.45"/>
<path d="M426.7 420.0C426.8 420.1 427.2 420.2 427.2 420.4C427.1 420.7 426.8 421.0 426.5 421.3C426.3 421.6 425.9 421.9 425.6 422.2C425.3 422.4 425.0 422.6 424.6 422.9C424.3 423.2 424.0 423.6 423.6 423.8C423.3 424.0 422.7 424.1 422.4 424.2C422.0 424.3 421.8 424.2 421.4 424.2C421.0 424.3 420.4 424.5 420.2 424.4C420.0 424.3 420.2 423.9 420.2 423.7C420.2 423.5 420.0 423.4 420.0 423.1C420.1 422.9 420.4 422.6 420.5 422.4C420.6 422.1 420.5 421.8 420.7 421.5C420.9 421.2 421.4 420.9 421.8 420.6C422.2 420.4 422.7 420.4 423.1 420.2C423.5 420.0 423.9 419.8 424.3 419.6C424.6 419.5 425.0 419.5 425.3 419.5C425.6 419.5 425.9 419.5 426.1 419.6C426.4 419.7 426.5 419.8 426.7 420.0Z" fill="#0430f5" stroke="#000" stroke-opacity="0.75" stroke-width="0.45"/>
<path d="M452.3 464.2C452.4 464.5 452.5 464.9 452.5 465.2C452.4 465.5 452.0 465.9 451.7 466.1C451.4 466.3 450.9 466.4 450.5 466.5C450.1 466.6 449.7 466.7 449.3 466.8C448.9 466.8 448.4 467.1 448.0 467.0C447.7 467.0 447.5 466.5 447.1 466.3C446.7 466.1 446.1 466.2 445.7 466.1C445.4 465.9 445.1 465.5 444.9 465.2C444.8 464.9 444.8 464.5 444.9 464.2C445.0 463.9 445.4 463.6 445.6 463.3C445.8 463.0 446.0 462.8 446.2 462.6C446.4 462.3 446.4 461.8 446.7 461.6C447.0 461.4 447.6 461.5 448.1 461.4C448.5 461.4 448.9 461.3 449.3 461.3C449.8 461.4 450.2 461.5 450.6 461.6C451.0 461.8 451.3 462.1 451.5 462.4C451.7 462.6 451.5 463.1 451.6 463.4C451.7 463.7 452.1 463.9 452.3 464.2Z" fill="#0430f5" stroke="#000" stroke-opacity="0.75" stroke-width="0.45"/>
<path d="M469.5 455.6C469.5 455.8 469.5 456.0 469.5 456.2C469.4 456.3 469.1 456.4 468.9 456.4C468.7 456.4 468.6 456.4 468.4 456.4C468.3 456.3 468.1 456.2 468.0 456.0C467.9 455.9 467.7 455.7 467.7 455.6C467.7 455.4 467.9 455.3 468.0 455.1C468.1 455.0 468.2 454.8 468.4 454.7C468.5 454.7 468.7 454.7 468.9 454.8C469.1 454.8 469.3 454.9 469.4 455.1C469.5 455.2 469.4 455.4 469.5 455.6Z" fill="#113" stroke="#000" stroke-opacity="0.75" stroke-width="0.45"/>
<path d="M431.5 431.5C432.0 430.2 433.3 428.9 434.7 427.2C436.2 425.6 438.1 423.6 440.1 421.9C442.1 420.2 444.4 418.4 446.5 416.9C448.7 415.5 450.8 414.4 453.0 413.3C455.1 412.1 457.3 411.0 459.4 410.1C461.6 409.2 463.7 408.5 465.9 407.9C468.0 407.4 470.2 407.2 472.3 406.8C474.5 406.5 476.6 405.8 478.7 405.8C480.9 405.8 483.0 406.3 485.2 406.8C487.3 407.4 489.7 408.1 491.6 409.0C493.6 409.9 495.6 411.1 497.0 412.2C498.4 413.3 500.2 414.4 500.2 415.4C500.2 416.5 498.4 417.6 497.0 418.7C495.6 419.7 493.4 420.8 491.6 421.9C489.8 422.9 488.0 423.8 486.3 425.1C484.5 426.3 482.5 428.0 480.9 429.4C479.3 430.8 478.0 432.3 476.6 433.7C475.2 435.1 473.7 436.7 472.3 438.0C470.9 439.2 469.6 440.5 468.0 441.2C466.4 441.9 464.1 441.4 462.6 442.3C461.2 443.2 460.5 446.2 459.4 446.6C458.3 446.9 457.5 445.1 456.2 444.4C454.9 443.7 453.3 443.0 451.9 442.3C450.5 441.6 449.0 440.7 447.6 440.1C446.2 439.6 444.9 439.1 443.3 439.1C441.7 439.0 439.6 439.7 437.9 439.7C436.3 439.7 434.7 439.8 433.7 439.1C432.6 438.3 432.3 436.7 431.9 435.4C431.6 434.1 431.0 432.9 431.5 431.5Z" fill="#14a0f5" stroke="#000" stroke-opacity="0.75" stroke-width="0.45"/>
<path d="M437.9 431.5C438.3 430.0 439.6 427.5 441.2 425.5C442.8 423.6 445.5 421.4 447.6 419.7C449.8 418.0 451.9 416.7 454.1 415.4C456.2 414.2 458.3 413.1 460.5 412.2C462.6 411.3 464.8 410.7 466.9 410.1C469.1 409.5 471.2 408.9 473.4 408.6C475.5 408.2 477.7 407.8 479.8 407.9C482.0 408.0 484.3 408.3 486.3 409.0C488.2 409.6 490.2 410.8 491.6 411.8C493.1 412.7 495.0 413.6 494.8 414.8C494.7 415.9 492.2 417.5 490.6 418.7C488.9 419.8 486.8 420.6 485.2 421.9C483.6 423.1 482.3 424.7 480.9 426.2C479.5 427.6 478.0 429.0 476.6 430.5C475.2 431.9 473.7 433.5 472.3 434.8C470.9 436.0 469.6 437.1 468.0 438.0C466.4 438.9 464.3 439.2 462.6 440.1C461.0 441.0 459.8 443.3 458.3 443.3C456.9 443.3 455.7 441.0 454.1 440.1C452.4 439.2 450.5 438.6 448.7 438.0C446.9 437.3 444.9 436.8 443.3 436.3C441.7 435.7 439.9 435.5 439.0 434.8C438.1 434.0 437.6 433.1 437.9 431.5Z" fill="#12dcff" stroke="#000" stroke-opacity="0.75" stroke-width="0.45"/>
<path d="M463.6 445.9C463.4 446.4 463.1 446.9 462.9 447.4C462.7 447.9 462.5 448.6 462.2 449.0C461.9 449.4 461.5 449.6 461.1 449.7C460.7 449.9 460.4 449.6 460.0 449.8C459.5 449.9 459.0 450.5 458.6 450.5C458.2 450.5 457.8 450.1 457.5 449.7C457.3 449.3 457.1 448.6 457.1 448.1C457.0 447.5 457.3 446.8 457.3 446.3C457.3 445.7 456.9 445.3 456.9 444.7C456.9 444.1 457.0 443.4 457.2 442.9C457.5 442.4 458.0 442.2 458.3 441.8C458.7 441.4 458.9 440.6 459.2 440.3C459.6 440.0 460.1 440.0 460.5 440.0C460.9 440.1 461.3 440.4 461.6 440.7C461.9 441.0 462.0 441.6 462.3 441.9C462.6 442.2 463.1 442.1 463.4 442.4C463.7 442.8 464.1 443.4 464.1 444.0C464.1 444.5 463.8 445.3 463.6 445.9Z" fill="#12dcff" stroke="#000" stroke-opacity="0.75" stroke-width="0.45"/>
<path d="M494.7 411.1C495.0 412.1 492.0 414.8 491.1 416.4C490.2 417.9 490.0 419.1 489.2 420.5C488.4 421.9 487.3 423.2 486.3 424.8C485.2 426.3 484.8 428.1 483.2 429.7C481.6 431.3 479.1 433.2 476.6 434.5C474.2 435.8 471.1 437.1 468.6 437.5C466.2 438.0 464.3 436.9 461.9 437.4C459.5 437.9 456.4 440.1 454.2 440.5C452.0 440.9 450.5 440.1 448.8 439.8C447.2 439.4 445.3 439.2 444.3 438.4C443.2 437.7 443.2 436.4 442.6 435.4C442.0 434.4 440.9 433.5 440.7 432.3C440.4 431.1 440.5 429.6 441.1 428.1C441.7 426.6 442.1 424.6 444.2 423.1C446.2 421.7 451.0 420.6 453.5 419.3C455.9 418.0 456.8 416.5 458.8 415.2C460.7 413.9 463.0 412.8 465.4 411.6C467.7 410.4 470.6 408.7 473.0 407.9C475.4 407.2 478.0 407.1 480.0 407.1C482.1 407.1 484.0 407.4 485.5 407.9C487.0 408.4 487.5 409.4 489.0 410.0C490.6 410.5 494.3 410.0 494.7 411.1Z" fill="#00c8a0" stroke="#000" stroke-opacity="0.75" stroke-width="0.45"/>
<path d="M489.8 413.3C490.4 414.3 492.7 414.7 492.4 415.9C492.1 417.0 489.5 419.0 488.2 420.5C486.8 421.9 485.5 423.1 484.4 424.5C483.2 425.9 482.7 427.3 481.2 428.7C479.7 430.2 477.5 431.7 475.4 432.9C473.2 434.2 470.7 435.2 468.3 436.1C466.0 437.0 463.3 438.1 461.3 438.4C459.2 438.6 458.1 437.5 456.1 437.6C454.2 437.7 451.2 439.0 449.4 439.0C447.7 438.9 446.4 438.3 445.5 437.5C444.7 436.8 444.9 435.4 444.5 434.5C444.1 433.5 443.3 432.7 443.1 431.7C443.0 430.6 442.9 429.3 443.6 427.9C444.3 426.6 446.0 425.0 447.4 423.5C448.8 422.0 449.9 420.2 451.9 419.0C454.0 417.8 457.4 417.3 459.7 416.3C462.0 415.3 463.5 414.1 465.7 413.0C467.8 411.9 470.3 410.5 472.5 409.8C474.8 409.2 477.0 409.1 478.9 408.9C480.9 408.8 482.7 408.9 484.4 409.1C486.0 409.3 487.9 409.5 488.8 410.3C489.7 411.0 489.2 412.4 489.8 413.3Z" fill="none" stroke="#000" stroke-opacity="0.60" stroke-width="0.35"/>
<path d="M489.6 412.6C490.3 413.3 490.1 414.6 489.9 415.7C489.6 416.9 488.8 418.2 488.3 419.5C487.8 420.8 487.8 422.2 486.8 423.6C485.7 425.0 483.8 426.8 481.8 428.1C479.8 429.4 477.0 430.5 474.8 431.5C472.5 432.5 470.4 433.7 468.3 434.3C466.2 434.9 464.5 434.7 462.4 435.3C460.3 435.9 458.0 437.3 455.8 437.9C453.6 438.6 450.8 439.3 449.2 439.2C447.5 439.1 446.7 438.1 445.7 437.4C444.7 436.7 443.9 436.0 443.4 435.1C442.9 434.1 442.5 433.1 442.9 431.8C443.4 430.6 445.1 428.9 446.1 427.5C447.1 426.2 447.5 424.9 448.9 423.6C450.2 422.3 452.7 421.1 454.5 419.8C456.2 418.5 457.5 417.3 459.3 415.9C461.1 414.5 463.2 412.5 465.4 411.4C467.6 410.2 470.4 409.5 472.5 409.1C474.7 408.7 476.6 408.9 478.4 408.9C480.2 408.9 482.0 408.9 483.2 409.3C484.4 409.7 484.5 410.9 485.5 411.5C486.6 412.0 488.8 411.8 489.6 412.6Z" fill="#08c818" stroke="#000" stroke-opacity="0.75" stroke-width="0.45"/>
<path d="M487.9 413.4C488.2 414.2 487.8 415.4 487.6 416.4C487.4 417.5 487.1 418.5 486.7 419.7C486.3 420.8 486.3 422.1 485.1 423.4C484.0 424.6 481.7 426.0 479.9 427.3C478.1 428.6 476.4 430.1 474.4 431.0C472.4 431.9 470.1 432.2 468.0 432.9C466.0 433.6 464.2 434.6 462.2 435.3C460.2 436.0 458.0 436.8 456.1 437.1C454.3 437.4 452.4 437.5 451.1 437.3C449.7 437.1 449.0 436.3 448.0 435.8C446.9 435.3 445.2 435.2 444.8 434.4C444.4 433.6 445.4 432.1 445.6 431.0C445.8 429.9 445.2 428.9 446.0 427.7C446.9 426.5 449.3 425.0 450.8 423.8C452.3 422.5 453.6 421.4 455.1 420.2C456.6 419.0 457.9 417.7 459.7 416.4C461.5 415.2 463.6 413.7 465.7 412.9C467.7 412.0 469.9 411.7 472.0 411.2C474.0 410.7 476.3 409.9 477.9 409.8C479.5 409.8 480.2 410.7 481.6 411.0C483.0 411.2 485.2 410.7 486.2 411.1C487.3 411.5 487.7 412.5 487.9 413.4Z" fill="none" stroke="#000" stroke-opacity="0.60" stroke-width="0.35"/>
<path d="M497.4 410.8C497.5 411.1 497.5 411.6 497.3 412.0C497.2 412.4 496.8 412.9 496.3 413.4C495.9 413.8 495.4 414.4 494.7 414.7C493.9 415.0 492.7 414.8 491.8 415.1C491.0 415.4 490.5 416.1 489.7 416.3C488.9 416.6 487.9 416.6 487.1 416.7C486.3 416.7 485.5 416.6 484.9 416.5C484.3 416.3 483.9 416.0 483.6 415.6C483.3 415.3 483.2 415.0 483.1 414.6C483.0 414.2 482.8 413.8 483.0 413.4C483.3 413.0 484.1 412.6 484.6 412.1C485.0 411.7 485.1 411.3 485.7 410.8C486.2 410.4 487.0 409.9 487.8 409.6C488.6 409.3 489.7 409.0 490.5 409.0C491.3 408.9 491.8 409.3 492.6 409.4C493.3 409.4 494.4 409.1 495.0 409.2C495.6 409.2 496.0 409.6 496.4 409.9C496.8 410.1 497.2 410.4 497.4 410.8Z" fill="#2ce8a4" stroke="#000" stroke-opacity="0.75" stroke-width="0.30"/>
<path d="M462.0 424.9C462.0 425.2 461.7 425.6 461.5 425.9C461.4 426.2 461.3 426.5 461.2 426.7C461.0 426.9 460.7 427.0 460.5 427.1C460.3 427.3 460.2 427.6 460.0 427.7C459.7 427.8 459.5 427.7 459.2 427.7C459.0 427.6 458.8 427.5 458.6 427.3C458.3 427.2 458.1 427.0 457.9 426.8C457.8 426.5 457.7 426.1 457.7 425.8C457.7 425.5 457.7 425.2 457.8 424.8C457.8 424.5 457.8 424.2 457.8 423.9C457.9 423.6 457.8 423.2 458.0 422.9C458.1 422.6 458.4 422.5 458.6 422.4C458.9 422.2 459.1 422.0 459.3 422.0C459.6 422.0 459.8 422.2 460.0 422.3C460.3 422.3 460.6 422.3 460.7 422.4C460.9 422.6 461.0 423.0 461.2 423.2C461.3 423.5 461.4 423.7 461.6 424.0C461.7 424.3 462.0 424.6 462.0 424.9Z" fill="none" stroke="#000" stroke-opacity="0.65" stroke-width="0.40"/>
<path d="M452.4 425.4C452.0 425.2 451.7 424.8 451.4 424.5C451.1 424.1 450.8 423.7 450.8 423.3C450.8 423.0 451.2 422.7 451.5 422.4C451.8 422.1 452.0 421.7 452.4 421.6C452.8 421.5 453.4 421.6 453.8 421.7C454.2 421.9 454.7 422.2 454.9 422.6C455.1 422.9 454.9 423.3 455.0 423.7C455.0 424.1 455.2 424.7 455.0 425.0C454.9 425.3 454.2 425.5 453.8 425.6C453.4 425.6 452.8 425.6 452.4 425.4Z" fill="none" stroke="#000" stroke-opacity="0.65" stroke-width="0.40"/>
<path d="M479.4 427.7C479.2 427.6 478.8 427.6 478.7 427.3C478.7 427.1 479.0 426.6 479.0 426.2C479.1 425.9 478.9 425.6 479.0 425.2C479.2 424.9 479.5 424.5 479.8 424.2C480.1 423.9 480.4 423.7 480.7 423.4C481.0 423.2 481.3 422.9 481.6 422.6C481.9 422.4 482.2 422.1 482.6 421.9C482.9 421.7 483.4 421.5 483.6 421.5C483.9 421.6 483.8 422.2 484.0 422.4C484.1 422.6 484.3 422.7 484.3 423.0C484.4 423.2 484.4 423.5 484.4 423.8C484.4 424.1 484.3 424.5 484.2 424.8C484.0 425.1 483.8 425.4 483.6 425.8C483.4 426.2 483.3 426.7 483.0 427.0C482.7 427.3 482.2 427.6 481.9 427.7C481.6 427.8 481.3 427.7 481.0 427.7C480.7 427.7 480.5 427.7 480.2 427.7C480.0 427.7 479.7 427.8 479.4 427.7Z" fill="none" stroke="#000" stroke-opacity="0.65" stroke-width="0.40"/>
<path d="M473.7 427.6C473.6 427.2 474.0 426.8 474.1 426.4C474.3 426.0 474.2 425.4 474.5 425.1C474.8 424.9 475.4 425.0 475.8 425.1C476.2 425.1 476.7 425.2 477.0 425.5C477.3 425.7 477.4 426.2 477.5 426.7C477.6 427.1 477.9 427.7 477.8 428.1C477.6 428.4 477.0 428.6 476.6 428.8C476.3 429.0 475.9 429.4 475.5 429.4C475.2 429.4 474.7 429.0 474.4 428.7C474.1 428.4 473.7 428.0 473.7 427.6Z" fill="none" stroke="#000" stroke-opacity="0.65" stroke-width="0.40"/>
<path d="M459.5 420.6C459.4 420.8 459.2 421.0 459.0 421.3C458.8 421.6 458.8 422.1 458.5 422.2C458.3 422.4 457.8 422.1 457.4 422.1C457.1 422.1 456.8 422.2 456.6 422.1C456.3 422.1 456.0 421.9 455.7 421.8C455.4 421.7 455.0 421.8 454.7 421.6C454.5 421.4 454.3 421.0 454.2 420.7C454.2 420.4 454.3 420.0 454.3 419.7C454.3 419.4 454.1 419.1 454.2 418.8C454.3 418.6 454.6 418.4 454.9 418.1C455.1 417.9 455.3 417.7 455.5 417.6C455.7 417.4 456.0 417.3 456.3 417.2C456.6 417.1 457.0 416.7 457.3 416.8C457.6 416.8 457.9 417.2 458.2 417.4C458.4 417.6 458.6 417.9 458.8 418.1C458.9 418.3 459.1 418.6 459.2 418.8C459.4 419.1 459.6 419.4 459.7 419.7C459.7 419.9 459.7 420.3 459.5 420.6Z" fill="none" stroke="#000" stroke-opacity="0.65" stroke-width="0.40"/>
<path d="M470.2 431.3C470.0 431.5 469.6 431.5 469.4 431.7C469.3 431.9 469.5 432.3 469.3 432.5C469.0 432.6 468.5 432.5 468.1 432.5C467.7 432.5 467.3 432.5 466.9 432.5C466.5 432.4 466.0 432.3 465.6 432.2C465.2 432.0 464.8 431.8 464.5 431.6C464.2 431.4 464.0 431.1 463.9 430.8C463.8 430.6 464.0 430.4 463.9 430.1C463.8 429.9 463.1 429.5 463.0 429.3C462.9 429.1 463.2 428.8 463.4 428.7C463.7 428.5 464.1 428.4 464.4 428.4C464.8 428.3 465.2 428.3 465.5 428.3C465.9 428.3 466.3 428.3 466.7 428.3C467.1 428.4 467.5 428.6 467.9 428.8C468.2 428.9 468.5 429.1 468.9 429.3C469.3 429.5 469.7 429.7 470.0 429.9C470.3 430.1 470.7 430.5 470.7 430.7C470.7 430.9 470.4 431.2 470.2 431.3Z" fill="none" stroke="#000" stroke-opacity="0.65" stroke-width="0.40"/>
<path d="M471.9 429.1C471.8 429.3 471.4 429.5 471.2 429.7C470.9 429.9 470.6 430.2 470.3 430.2C470.0 430.3 469.7 430.0 469.4 429.9C469.1 429.9 468.8 430.0 468.6 429.9C468.3 429.8 468.2 429.5 468.0 429.3C467.8 429.1 467.6 428.9 467.5 428.7C467.3 428.4 467.1 428.2 467.0 427.9C467.0 427.6 467.1 427.2 467.2 426.9C467.4 426.6 467.6 426.3 467.9 426.1C468.1 425.9 468.4 425.8 468.6 425.7C468.9 425.5 469.0 425.2 469.3 425.0C469.6 424.9 469.9 424.9 470.2 424.9C470.5 424.9 470.9 424.8 471.1 424.9C471.4 425.0 471.5 425.4 471.7 425.6C471.9 425.8 472.2 426.0 472.3 426.3C472.3 426.6 472.1 426.9 472.1 427.2C472.0 427.5 472.0 427.8 472.0 428.1C472.0 428.4 472.1 428.8 471.9 429.1Z" fill="none" stroke="#000" stroke-opacity="0.65" stroke-width="0.40"/>
<path d="M483.8 420.3C483.5 420.3 482.9 420.3 482.6 420.1C482.4 419.9 482.2 419.4 482.1 419.1C482.0 418.7 481.9 418.3 482.0 418.0C482.1 417.6 482.3 417.2 482.6 417.0C482.9 416.7 483.4 416.5 483.8 416.6C484.1 416.6 484.5 416.9 484.8 417.1C485.1 417.3 485.5 417.6 485.6 417.9C485.7 418.2 485.7 418.7 485.6 419.0C485.5 419.3 485.2 419.7 484.9 419.9C484.6 420.1 484.2 420.3 483.8 420.3Z" fill="none" stroke="#000" stroke-opacity="0.65" stroke-width="0.40"/>
<path d="M478.3 416.3C478.5 416.9 477.0 418.5 476.6 419.4C476.2 420.3 476.2 421.0 475.8 421.9C475.4 422.7 474.9 423.5 474.4 424.4C473.9 425.3 473.8 426.4 473.0 427.3C472.2 428.3 470.9 429.4 469.6 430.1C468.4 430.9 466.7 431.7 465.4 432.0C464.1 432.3 463.0 431.6 461.7 431.9C460.4 432.2 458.8 433.5 457.6 433.8C456.4 434.0 455.5 433.6 454.6 433.4C453.7 433.2 452.7 433.0 452.0 432.6C451.4 432.2 451.3 431.4 450.9 430.8C450.5 430.2 449.9 429.7 449.7 429.0C449.5 428.3 449.5 427.4 449.7 426.5C449.9 425.6 450.1 424.5 451.1 423.6C452.2 422.7 454.8 422.1 456.0 421.3C457.3 420.5 457.7 419.6 458.7 418.9C459.7 418.1 460.9 417.4 462.2 416.7C463.4 416.0 464.9 415.0 466.2 414.5C467.5 414.1 468.8 414.0 470.0 414.0C471.1 414.0 472.2 414.2 473.0 414.4C473.9 414.7 474.2 415.3 475.1 415.6C476.0 415.9 478.0 415.6 478.3 416.3Z" fill="#7ee000" stroke="#000" stroke-opacity="0.75" stroke-width="0.45"/>
<path d="M475.7 417.6C476.1 418.2 477.4 418.4 477.3 419.1C477.2 419.8 475.9 421.0 475.2 421.8C474.6 422.7 473.9 423.4 473.3 424.2C472.8 425.0 472.6 425.9 471.8 426.8C471.1 427.6 470.0 428.5 468.9 429.2C467.7 430.0 466.4 430.6 465.2 431.1C463.9 431.7 462.5 432.3 461.4 432.5C460.3 432.7 459.6 432.0 458.5 432.1C457.4 432.1 455.9 432.9 454.9 432.9C453.9 432.9 453.2 432.5 452.7 432.1C452.2 431.6 452.2 430.8 452.0 430.3C451.7 429.7 451.2 429.3 451.0 428.6C450.9 428.0 450.8 427.2 451.1 426.4C451.4 425.6 452.3 424.7 452.9 423.8C453.6 422.9 454.1 421.8 455.2 421.1C456.2 420.4 458.1 420.1 459.3 419.5C460.5 418.9 461.3 418.2 462.4 417.5C463.5 416.9 464.8 416.0 466.0 415.6C467.2 415.2 468.4 415.2 469.5 415.1C470.6 415.0 471.6 415.0 472.5 415.2C473.4 415.3 474.4 415.4 475.0 415.8C475.5 416.2 475.3 417.1 475.7 417.6Z" fill="none" stroke="#000" stroke-opacity="0.60" stroke-width="0.35"/>
<path d="M473.2 418.5C473.6 418.9 473.5 419.5 473.5 420.1C473.4 420.7 473.0 421.3 472.8 422.0C472.6 422.6 472.7 423.3 472.2 424.0C471.8 424.7 470.9 425.5 470.0 426.2C469.1 426.9 467.8 427.4 466.8 427.9C465.8 428.4 464.8 429.0 463.8 429.3C462.9 429.6 462.0 429.5 461.1 429.8C460.1 430.1 459.0 430.8 458.0 431.1C457.0 431.4 455.7 431.8 454.9 431.8C454.1 431.7 453.7 431.2 453.2 430.9C452.8 430.6 452.3 430.2 452.1 429.7C451.8 429.3 451.6 428.8 451.8 428.1C451.9 427.5 452.7 426.7 453.1 426.0C453.6 425.4 453.7 424.7 454.3 424.1C454.9 423.4 456.1 422.8 456.9 422.2C457.6 421.6 458.2 420.9 459.0 420.2C459.8 419.5 460.7 418.6 461.7 418.0C462.8 417.4 464.1 417.1 465.1 416.9C466.1 416.6 467.0 416.7 467.8 416.7C468.7 416.8 469.5 416.7 470.1 416.9C470.7 417.1 470.8 417.7 471.3 418.0C471.8 418.3 472.9 418.2 473.2 418.5Z" fill="#f0f000" stroke="#000" stroke-opacity="0.75" stroke-width="0.45"/>
<path d="M472.5 418.9C472.6 419.3 472.5 419.9 472.4 420.4C472.4 420.9 472.3 421.4 472.1 422.0C471.9 422.6 472.0 423.2 471.5 423.9C471.0 424.5 469.9 425.2 469.1 425.8C468.3 426.4 467.5 427.2 466.6 427.6C465.7 428.1 464.6 428.2 463.7 428.6C462.7 428.9 461.9 429.4 461.0 429.8C460.1 430.2 459.0 430.5 458.2 430.7C457.3 430.9 456.4 430.9 455.8 430.8C455.1 430.7 454.8 430.3 454.3 430.1C453.8 429.9 452.9 429.8 452.7 429.4C452.5 429.0 452.9 428.3 453.0 427.7C453.0 427.2 452.7 426.7 453.1 426.1C453.5 425.5 454.5 424.8 455.2 424.2C455.9 423.5 456.5 423.0 457.2 422.4C457.8 421.8 458.4 421.1 459.2 420.5C460.0 419.9 461.0 419.2 461.9 418.7C462.9 418.3 463.9 418.2 464.9 417.9C465.8 417.7 466.9 417.2 467.6 417.2C468.4 417.2 468.7 417.6 469.4 417.7C470.1 417.8 471.1 417.6 471.6 417.8C472.1 418.0 472.3 418.5 472.5 418.9Z" fill="none" stroke="#000" stroke-opacity="0.60" stroke-width="0.35"/>
<path d="M470.6 419.8C470.7 420.1 470.6 420.5 470.6 420.9C470.6 421.3 470.7 421.7 470.6 422.1C470.5 422.6 470.4 423.1 470.0 423.6C469.7 424.1 468.9 424.8 468.2 425.3C467.4 425.8 466.4 426.2 465.6 426.7C464.8 427.2 464.1 428.0 463.3 428.3C462.5 428.7 461.6 428.7 460.8 428.8C460.1 429.0 459.3 429.2 458.7 429.2C458.0 429.3 457.4 429.3 456.8 429.3C456.3 429.3 455.7 429.3 455.2 429.2C454.6 429.1 453.8 429.1 453.4 428.9C453.1 428.7 452.6 428.3 452.8 427.8C453.1 427.3 454.3 426.5 454.8 425.9C455.3 425.3 455.3 424.9 455.8 424.4C456.3 423.9 457.1 423.4 457.8 422.9C458.4 422.4 459.0 421.9 459.7 421.4C460.5 420.9 461.3 420.4 462.1 420.0C462.9 419.6 463.7 419.3 464.5 419.0C465.4 418.7 466.2 418.5 467.0 418.3C467.9 418.0 469.1 417.5 469.6 417.6C470.1 417.7 469.9 418.5 470.0 418.9C470.2 419.2 470.5 419.4 470.6 419.8Z" fill="#ff9a00" stroke="#000" stroke-opacity="0.75" stroke-width="0.45"/>
<path d="M470.0 420.1C469.9 420.5 469.9 420.8 470.0 421.1C470.1 421.4 470.7 421.6 470.6 422.0C470.5 422.4 469.7 423.1 469.2 423.6C468.7 424.1 468.2 424.6 467.6 425.1C467.0 425.6 466.1 426.0 465.4 426.5C464.6 426.9 463.9 427.2 463.1 427.6C462.3 427.9 461.5 428.5 460.8 428.7C460.0 429.0 459.3 429.0 458.7 429.0C458.2 429.0 458.0 428.7 457.4 428.7C456.9 428.7 455.8 429.1 455.3 429.1C454.8 429.0 454.6 428.7 454.3 428.4C454.1 428.2 453.9 427.8 454.1 427.4C454.2 427.0 454.5 426.4 455.0 425.9C455.4 425.4 456.3 424.9 456.8 424.4C457.3 423.9 457.5 423.5 458.0 423.0C458.5 422.5 459.1 421.9 459.8 421.5C460.5 421.1 461.4 420.9 462.2 420.6C463.0 420.2 463.7 419.7 464.5 419.4C465.2 419.1 466.0 419.0 466.7 418.8C467.4 418.7 468.1 418.6 468.7 418.6C469.3 418.6 469.9 418.6 470.1 418.9C470.3 419.1 470.0 419.8 470.0 420.1Z" fill="none" stroke="#000" stroke-opacity="0.60" stroke-width="0.35"/>
<path d="M468.1 420.4C468.2 420.6 468.2 420.9 468.2 421.1C468.2 421.4 468.2 421.7 468.0 422.0C467.8 422.3 467.4 422.7 467.1 423.0C466.7 423.4 466.3 423.7 465.9 424.1C465.6 424.5 465.3 425.0 464.8 425.3C464.3 425.6 463.6 425.9 463.0 426.1C462.5 426.4 461.9 426.6 461.4 426.7C460.9 426.9 460.5 427.0 460.0 427.1C459.6 427.1 459.2 427.2 458.8 427.2C458.4 427.3 457.8 427.4 457.5 427.3C457.2 427.3 456.9 427.2 456.8 426.9C456.8 426.7 457.1 426.3 457.1 426.0C457.2 425.7 456.9 425.6 457.1 425.3C457.2 425.0 457.6 424.5 458.0 424.2C458.4 423.8 458.8 423.4 459.3 423.1C459.7 422.7 460.3 422.4 460.8 422.1C461.3 421.8 461.8 421.5 462.3 421.3C462.8 421.0 463.3 420.7 463.9 420.4C464.4 420.1 465.2 419.7 465.7 419.6C466.1 419.5 466.4 419.7 466.7 419.8C467.0 419.8 467.4 419.8 467.7 419.9C467.9 420.0 468.0 420.2 468.1 420.4Z" fill="#ff2a00" stroke="#000" stroke-opacity="0.75" stroke-width="0.45"/>
<rect x="390.3" y="352.3" width="139.3" height="117.9" fill="none" stroke="#2a2a2a" stroke-width="1.1"/>
<path d="M463.9 352.3V470.2M390.3 418.2H529.6" stroke="#111" stroke-width="1" fill="none" stroke-opacity="0.38"/>
<text transform="translate(403.1,481.3) scale(1.00,1)" class="tk" text-anchor="middle">0</text>
<text transform="translate(432.3,481.4) scale(0.82,1)" class="tk" text-anchor="end">10</text>
<text transform="translate(432.9,479.1) scale(0.85,1)" class="tk" text-anchor="start">3</text>
<text transform="translate(462.8,481.4) scale(0.82,1)" class="tk" text-anchor="end">10</text>
<text transform="translate(463.4,479.1) scale(0.85,1)" class="tk" text-anchor="start">4</text>
<text transform="translate(493.5,481.4) scale(0.82,1)" class="tk" text-anchor="end">10</text>
<text transform="translate(494.1,479.1) scale(0.85,1)" class="tk" text-anchor="start">5</text>
<text transform="translate(524.4,481.4) scale(0.82,1)" class="tk" text-anchor="end">10</text>
<text transform="translate(525.0,479.1) scale(0.85,1)" class="tk" text-anchor="start">6</text>
<text transform="translate(382.5,359.0) scale(0.82,1)" class="tk" text-anchor="end">10</text>
<text transform="translate(383.0,356.7) scale(0.85,1)" class="tk" text-anchor="start">6</text>
<text transform="translate(382.5,384.9) scale(0.82,1)" class="tk" text-anchor="end">10</text>
<text transform="translate(383.0,382.6) scale(0.85,1)" class="tk" text-anchor="start">5</text>
<text transform="translate(382.5,410.8) scale(0.82,1)" class="tk" text-anchor="end">10</text>
<text transform="translate(383.0,408.5) scale(0.85,1)" class="tk" text-anchor="start">4</text>
<text transform="translate(382.5,435.8) scale(0.82,1)" class="tk" text-anchor="end">10</text>
<text transform="translate(383.0,433.5) scale(0.85,1)" class="tk" text-anchor="start">3</text>
<text transform="translate(386.6,460.6) scale(1.00,1)" class="tk" text-anchor="end">0</text>
<path d="M403.1 470.2v2.6M436.1 470.2v2.6M415.1 470.2v2.2M466.6 470.2v2.6M497.3 470.2v2.6M528.2 470.2v2.6M390.3 354.3h-2.6M390.3 380.2h-2.6M390.3 406.1h-2.6M390.3 431.1h-2.6M390.3 446.6h-2.2M390.3 458.1h-2.6" stroke="#333" stroke-width="0.8" fill="none"/>
<path d="M421.4 470.2v1.5M425.1 470.2v1.5M427.8 470.2v1.5M429.8 470.2v1.5M431.5 470.2v1.5M432.9 470.2v1.5M434.1 470.2v1.5M435.2 470.2v1.5M445.3 470.2v1.5M450.7 470.2v1.5M454.5 470.2v1.5M457.5 470.2v1.5M459.9 470.2v1.5M461.9 470.2v1.5M463.7 470.2v1.5M465.2 470.2v1.5M475.9 470.2v1.5M481.3 470.2v1.5M485.1 470.2v1.5M488.1 470.2v1.5M490.5 470.2v1.5M492.5 470.2v1.5M494.3 470.2v1.5M495.9 470.2v1.5M506.6 470.2v1.5M512.0 470.2v1.5M515.9 470.2v1.5M518.9 470.2v1.5M521.3 470.2v1.5M523.4 470.2v1.5M525.2 470.2v1.5M526.8 470.2v1.5M390.3 372.4h-1.5M390.3 367.9h-1.5M390.3 364.6h-1.5M390.3 362.1h-1.5M390.3 360.1h-1.5M390.3 358.3h-1.5M390.3 356.8h-1.5M390.3 355.5h-1.5M390.3 398.3h-1.5M390.3 393.7h-1.5M390.3 390.5h-1.5M390.3 388.0h-1.5M390.3 386.0h-1.5M390.3 384.2h-1.5M390.3 382.7h-1.5M390.3 381.4h-1.5M390.3 423.5h-1.5M390.3 419.1h-1.5M390.3 416.0h-1.5M390.3 413.6h-1.5M390.3 411.6h-1.5M390.3 409.9h-1.5M390.3 408.5h-1.5M390.3 407.2h-1.5M390.3 441.9h-1.5M390.3 439.2h-1.5M390.3 437.3h-1.5M390.3 435.7h-1.5M390.3 434.5h-1.5M390.3 433.5h-1.5M390.3 432.6h-1.5M390.3 431.8h-1.5" stroke="#333" stroke-width="0.7" fill="none"/></g>
<g><path d="M111.9 547.1h.01M125.9 544.4h.01M170.6 510.8h.01M135.2 539.2h.01M115.9 550.5h.01M159.9 571.6h.01M161.5 537.2h.01M178.8 517.3h.01M129.4 555.3h.01M127.0 535.0h.01M122.6 531.4h.01M198.7 542.5h.01M140.5 541.4h.01M170.5 534.5h.01M178.9 527.4h.01M102.2 578.3h.01M135.8 561.5h.01M137.7 546.9h.01M167.4 543.4h.01M141.7 545.7h.01M120.2 536.6h.01M161.5 531.1h.01M114.8 547.0h.01M133.9 542.3h.01M150.9 534.6h.01M190.9 549.2h.01M187.0 524.3h.01M127.1 553.7h.01M147.3 560.6h.01M160.2 543.9h.01M128.7 550.2h.01M102.1 536.2h.01M153.0 524.6h.01M130.1 559.4h.01M210.2 522.1h.01M136.7 555.8h.01M188.5 535.7h.01M115.2 545.6h.01M184.4 514.9h.01M157.4 555.3h.01M186.4 520.3h.01M138.2 541.9h.01M108.1 555.6h.01M120.1 559.0h.01M106.7 546.4h.01M127.3 548.9h.01M141.8 545.5h.01M197.2 526.0h.01M166.5 537.5h.01M185.2 539.0h.01M193.6 526.1h.01M111.7 557.2h.01M108.6 554.4h.01M129.4 518.8h.01M133.2 532.9h.01M93.7 535.1h.01M168.4 543.3h.01M103.3 542.0h.01M114.1 538.4h.01M166.8 521.8h.01M174.9 500.2h.01M125.9 520.7h.01M150.1 506.2h.01M180.6 529.7h.01M137.9 538.3h.01M166.1 547.6h.01M173.2 537.8h.01M156.2 544.9h.01M90.3 565.5h.01M129.8 531.9h.01M102.9 565.6h.01M120.8 546.8h.01M119.1 565.5h.01M129.8 540.8h.01M84.9 544.4h.01M184.0 515.6h.01M187.9 534.8h.01M161.6 539.7h.01M153.2 555.1h.01M147.5 522.6h.01M144.2 563.5h.01M104.6 555.1h.01M150.8 555.4h.01M122.1 568.5h.01M109.3 555.8h.01M107.6 557.0h.01M121.6 530.0h.01M158.4 525.1h.01M166.6 501.6h.01M210.4 520.3h.01M152.9 537.9h.01M137.4 555.7h.01M141.4 525.1h.01M147.6 550.4h.01M159.9 543.1h.01M163.4 505.7h.01M168.4 557.2h.01M172.9 530.9h.01M111.3 547.2h.01M175.6 533.6h.01M174.4 518.5h.01M148.4 507.6h.01M145.6 546.2h.01M144.5 538.7h.01M112.1 564.5h.01M162.6 543.9h.01M85.2 545.1h.01M159.6 537.9h.01M187.7 521.0h.01M130.9 558.4h.01M117.2 545.7h.01M202.9 545.5h.01M130.6 529.2h.01M119.4 511.6h.01M188.8 551.1h.01M162.0 525.8h.01M109.1 548.8h.01M167.9 548.9h.01M208.3 548.0h.01M175.9 550.5h.01M156.1 526.6h.01M142.2 546.6h.01M182.2 534.3h.01M161.1 536.0h.01M179.1 548.9h.01M136.4 552.2h.01M160.3 536.4h.01M114.7 544.1h.01M138.1 552.3h.01M173.7 545.2h.01M146.1 526.9h.01M155.2 511.6h.01M193.7 551.7h.01M113.3 545.9h.01M137.9 548.7h.01M168.0 533.4h.01M201.6 537.8h.01M141.3 554.3h.01M95.9 535.3h.01M110.3 578.5h.01M108.2 541.8h.01M144.0 542.5h.01M186.3 546.4h.01M142.3 537.7h.01M118.4 539.5h.01M114.1 546.2h.01M160.8 550.0h.01M173.6 531.6h.01M176.6 519.5h.01M215.2 531.1h.01M112.7 579.1h.01M141.1 531.2h.01M164.7 544.4h.01M140.0 568.8h.01M153.6 550.1h.01M108.6 542.5h.01M110.5 562.3h.01M154.0 540.0h.01M162.8 537.6h.01M152.7 502.4h.01M179.4 541.0h.01M190.8 529.1h.01M117.2 535.4h.01M186.3 519.2h.01M186.2 533.6h.01M117.6 554.7h.01M203.4 527.8h.01M90.8 561.7h.01M141.6 547.7h.01M150.2 549.4h.01M129.3 549.7h.01M193.2 534.9h.01M162.8 541.8h.01M197.6 540.2h.01M167.3 512.0h.01M99.4 548.6h.01M146.7 527.6h.01M89.6 559.3h.01M111.2 539.7h.01M117.5 538.1h.01M160.7 548.9h.01M131.8 533.6h.01M170.2 524.2h.01M139.1 538.6h.01M134.7 571.4h.01M179.1 548.7h.01M202.3 527.3h.01M173.8 512.3h.01M125.1 566.3h.01M178.7 544.8h.01M120.0 560.6h.01M148.8 550.7h.01M94.3 556.6h.01M128.9 545.1h.01M126.4 539.4h.01M167.8 532.5h.01M96.6 563.7h.01M194.4 523.4h.01M106.7 571.2h.01M160.7 508.1h.01M144.4 535.8h.01M101.1 564.8h.01M185.1 503.3h.01M145.5 536.6h.01M184.7 535.1h.01M119.3 554.2h.01M143.0 520.1h.01M106.1 567.7h.01M192.3 558.7h.01M153.5 547.8h.01M99.4 575.8h.01M99.2 545.5h.01M162.0 524.8h.01M86.8 556.6h.01M176.6 517.8h.01M192.3 541.8h.01M152.1 542.4h.01M162.3 544.6h.01M132.4 552.9h.01M129.1 563.5h.01M178.5 544.8h.01M148.0 542.7h.01M125.2 534.7h.01M154.7 511.9h.01M209.4 528.1h.01M209.5 539.0h.01M135.6 548.3h.01M185.0 535.6h.01M154.2 540.4h.01M167.8 519.9h.01M143.6 516.4h.01M161.5 524.7h.01M105.0 539.6h.01M136.1 534.7h.01M123.3 537.2h.01M161.2 553.3h.01M119.1 553.4h.01M140.9 514.0h.01M142.8 541.6h.01M96.8 553.0h.01M159.8 527.2h.01M157.5 551.7h.01M191.1 547.7h.01M199.2 528.0h.01M154.0 536.7h.01M133.4 568.2h.01M192.8 529.8h.01M178.3 534.5h.01M207.7 524.5h.01M117.1 555.3h.01M102.5 566.3h.01M151.1 548.6h.01M205.0 528.3h.01M133.0 537.8h.01M87.2 565.3h.01M125.6 562.9h.01M154.5 518.7h.01M122.1 543.5h.01M192.5 532.6h.01M140.1 531.5h.01M139.2 529.2h.01M197.7 533.2h.01M117.0 548.1h.01M195.9 563.9h.01M94.2 547.9h.01M211.4 526.9h.01M177.0 545.6h.01M122.8 558.2h.01M153.9 530.8h.01M217.1 510.2h.01M142.0 523.6h.01M208.4 521.2h.01M157.5 558.3h.01M172.3 545.9h.01M140.3 535.6h.01M127.0 553.0h.01M127.9 553.3h.01M121.7 525.4h.01M91.1 562.7h.01M144.8 517.9h.01M162.3 518.0h.01M139.2 522.5h.01M178.6 552.0h.01M115.5 539.2h.01M158.3 518.0h.01M207.8 506.1h.01M121.7 574.2h.01M184.5 518.0h.01M170.0 530.7h.01M156.3 529.3h.01M116.2 561.6h.01M111.8 561.2h.01M161.9 539.8h.01M142.0 532.9h.01M146.0 563.2h.01M147.0 525.1h.01M161.2 525.8h.01M188.2 516.2h.01M183.8 509.4h.01M115.1 522.8h.01M146.7 527.1h.01M181.2 540.3h.01M143.2 541.3h.01M115.6 544.2h.01M136.3 546.2h.01M201.2 533.7h.01M149.6 549.0h.01M157.7 535.0h.01M122.3 525.7h.01M190.9 515.6h.01M189.9 532.9h.01M174.6 523.0h.01M87.4 556.4h.01M116.4 545.9h.01M112.0 545.0h.01M144.1 547.4h.01M155.0 583.9h.01M144.2 555.1h.01M167.4 534.6h.01M153.3 553.2h.01M113.1 556.1h.01M148.9 549.1h.01M127.4 545.5h.01M214.3 520.6h.01M149.3 528.3h.01M164.9 530.7h.01M193.2 514.9h.01M143.0 539.4h.01M149.3 532.9h.01M102.0 552.8h.01M180.8 535.2h.01M202.8 512.7h.01M123.1 584.9h.01M202.3 532.7h.01M167.0 510.4h.01M107.1 537.1h.01M158.6 562.1h.01M124.3 533.2h.01M149.9 561.3h.01M194.2 531.6h.01M127.9 537.8h.01M138.8 541.9h.01M131.6 560.7h.01M167.9 520.2h.01M181.6 525.1h.01M185.8 518.0h.01M126.7 550.2h.01M174.9 511.3h.01M126.8 556.3h.01M148.4 553.8h.01M217.1 533.7h.01M129.1 551.1h.01M137.9 537.2h.01M152.3 539.4h.01M96.7 551.9h.01M138.5 552.2h.01M187.9 517.9h.01M140.0 536.5h.01M156.1 543.3h.01M153.3 522.5h.01M198.9 527.0h.01M130.4 543.2h.01M96.6 541.0h.01M181.5 528.4h.01M138.9 542.6h.01M169.7 532.5h.01M100.6 535.0h.01M111.7 563.2h.01M153.6 537.9h.01M192.1 507.3h.01M185.4 547.7h.01M148.6 550.3h.01M89.7 559.1h.01M127.1 557.0h.01M163.2 554.3h.01M152.0 538.8h.01M163.9 542.3h.01M147.9 564.0h.01M89.0 562.3h.01M166.6 524.6h.01M176.4 532.6h.01M109.7 542.1h.01M174.6 555.0h.01M172.1 535.2h.01M97.9 555.8h.01M180.5 524.4h.01M162.3 522.7h.01M129.2 579.7h.01M90.6 560.9h.01M137.3 572.5h.01M138.5 545.3h.01M183.9 535.2h.01M134.3 549.0h.01M174.1 519.0h.01M200.4 518.3h.01M154.7 531.5h.01M177.1 534.9h.01M140.0 546.4h.01M177.3 527.1h.01M151.9 536.3h.01M167.2 525.5h.01M97.5 556.3h.01M123.4 542.3h.01M153.0 553.6h.01M148.8 541.2h.01M153.6 545.0h.01M174.0 514.8h.01M172.5 516.0h.01M183.8 532.7h.01M178.4 521.4h.01M142.4 550.7h.01M163.5 533.5h.01M131.4 556.2h.01M88.8 538.0h.01M133.3 511.0h.01M142.8 565.4h.01M145.8 538.0h.01M177.4 534.0h.01M98.0 553.7h.01M113.6 566.6h.01M89.7 580.0h.01M179.8 513.4h.01M195.5 516.1h.01M133.6 579.6h.01M132.0 557.0h.01M115.3 540.7h.01M189.3 527.9h.01M186.2 523.1h.01M162.2 553.8h.01M132.1 536.6h.01M112.9 545.4h.01M164.0 537.1h.01M111.2 568.1h.01M211.8 550.3h.01M139.6 549.3h.01M191.5 555.9h.01M176.7 515.7h.01M203.0 530.8h.01M178.0 533.4h.01M204.1 531.8h.01M159.6 528.2h.01M197.4 525.2h.01M162.6 529.6h.01M160.0 519.3h.01M210.2 532.4h.01M149.4 527.9h.01M150.1 546.3h.01M122.3 543.1h.01M158.6 553.0h.01M192.9 541.6h.01M138.8 554.8h.01M114.7 558.5h.01M124.5 553.4h.01M143.0 514.2h.01M91.7 551.2h.01M158.5 527.8h.01M179.8 518.3h.01M114.3 539.6h.01M180.0 520.7h.01M139.6 534.1h.01M179.6 545.7h.01M157.6 531.7h.01M142.1 532.8h.01M207.7 538.3h.01M188.6 533.6h.01M111.7 535.8h.01M149.9 534.8h.01M174.6 541.6h.01M187.4 504.6h.01M124.2 554.6h.01M116.9 542.2h.01M202.3 526.3h.01M198.1 516.6h.01M146.2 537.1h.01M148.9 553.3h.01M155.4 557.7h.01M115.1 574.4h.01M124.2 534.0h.01M149.1 532.0h.01M154.0 554.0h.01M120.5 559.7h.01M183.3 529.2h.01M185.6 508.3h.01M138.1 557.3h.01M208.9 524.8h.01M127.2 549.2h.01M181.5 522.2h.01M156.8 554.3h.01M166.1 544.7h.01M111.4 537.7h.01M203.0 537.5h.01M151.5 523.7h.01M106.0 543.4h.01M153.4 518.6h.01M155.4 523.2h.01M129.9 549.0h.01M119.1 533.8h.01M151.5 521.0h.01M136.9 545.4h.01M111.5 537.0h.01M170.7 541.8h.01M132.0 548.4h.01M164.8 536.0h.01M118.3 524.9h.01M192.0 533.2h.01M197.6 521.2h.01M141.9 516.2h.01M165.7 540.0h.01M90.5 537.3h.01M120.5 521.3h.01M168.3 544.5h.01M172.4 549.5h.01M173.8 530.8h.01M111.2 558.7h.01M118.3 548.0h.01M148.9 541.5h.01M196.6 526.2h.01M194.7 538.0h.01M118.0 559.1h.01M135.4 571.8h.01M114.3 575.3h.01M201.6 532.0h.01M192.8 555.6h.01M150.0 527.3h.01M207.3 530.8h.01M132.5 522.8h.01M112.8 530.2h.01M109.5 566.0h.01M174.0 526.7h.01M158.1 549.9h.01M152.7 541.7h.01M151.2 556.0h.01M176.8 525.0h.01M201.2 500.7h.01M200.0 523.4h.01M119.1 536.6h.01M158.0 518.2h.01M183.6 538.6h.01M170.7 522.9h.01M160.1 512.1h.01M152.2 518.5h.01M131.7 560.9h.01M167.4 522.8h.01M138.6 542.7h.01M110.4 560.0h.01M173.9 544.6h.01M193.5 543.6h.01M149.8 579.3h.01M176.3 519.5h.01M152.5 546.3h.01M120.8 556.0h.01M178.6 562.1h.01M134.5 541.5h.01M117.8 554.2h.01M158.0 521.2h.01M197.1 527.5h.01M121.0 551.7h.01M124.0 553.6h.01M174.0 541.7h.01M163.4 536.5h.01M174.6 521.6h.01M135.3 530.7h.01M129.1 544.5h.01M172.9 511.3h.01M149.8 559.7h.01M176.2 555.6h.01M169.0 541.5h.01M117.8 553.8h.01M132.8 549.2h.01M141.4 536.0h.01M191.9 537.0h.01M170.7 516.5h.01M143.1 532.7h.01M120.4 564.6h.01M141.0 556.2h.01M150.6 535.1h.01M128.0 539.0h.01M151.1 565.5h.01M154.8 534.9h.01M182.2 537.6h.01M115.2 557.3h.01M124.4 538.9h.01M173.7 570.3h.01M200.3 493.0h.01M155.9 521.9h.01M175.4 535.6h.01M110.4 545.1h.01M153.0 538.2h.01M137.3 547.7h.01M146.7 555.1h.01M137.1 522.4h.01M132.5 532.9h.01M86.7 558.5h.01M139.3 536.1h.01M189.5 509.1h.01M135.6 526.2h.01M126.0 546.5h.01M165.3 538.7h.01M177.0 534.7h.01M199.8 524.2h.01M188.3 533.3h.01M121.1 545.7h.01M174.4 521.7h.01M123.1 570.2h.01M146.3 525.3h.01M113.1 591.5h.01M113.2 557.4h.01M127.3 541.7h.01M120.9 553.1h.01M129.5 545.1h.01M208.8 526.0h.01M150.9 542.9h.01M194.9 546.3h.01M118.8 560.0h.01M139.8 518.5h.01M192.4 536.8h.01M133.5 537.4h.01M139.8 547.9h.01M147.6 524.6h.01M201.2 540.0h.01M189.6 523.2h.01M189.2 517.6h.01M127.3 560.4h.01M105.8 562.8h.01M119.3 573.8h.01M163.1 525.8h.01M103.0 583.1h.01M136.1 544.1h.01M204.7 544.1h.01M167.4 532.2h.01M157.0 534.1h.01M134.8 558.9h.01M179.5 521.9h.01M119.8 562.1h.01M192.5 533.3h.01M154.3 547.6h.01M161.3 557.7h.01M121.5 558.3h.01M160.7 528.3h.01M111.8 557.8h.01M150.9 510.4h.01M141.8 546.3h.01M202.8 532.3h.01M147.1 539.0h.01M196.5 523.1h.01M153.8 542.3h.01M134.6 551.6h.01M167.3 531.5h.01M131.6 533.2h.01M187.0 521.9h.01M122.2 562.4h.01M91.6 565.8h.01M152.1 546.3h.01M151.7 521.9h.01M110.3 556.7h.01M168.1 526.1h.01M147.8 567.8h.01M131.1 571.0h.01M182.7 534.5h.01M130.9 571.8h.01M148.9 520.4h.01M127.5 562.4h.01M109.5 548.5h.01M178.0 539.5h.01M118.3 550.7h.01M120.2 546.5h.01M159.7 530.0h.01M126.9 526.7h.01M212.4 514.1h.01M124.0 548.3h.01M198.9 530.2h.01M174.0 516.6h.01M134.9 526.2h.01M184.6 516.8h.01M154.8 538.7h.01M148.4 530.7h.01M171.3 510.4h.01M153.2 540.7h.01M143.8 544.9h.01M165.4 535.0h.01M137.7 554.5h.01M187.7 534.6h.01M190.9 540.8h.01M129.8 545.9h.01M139.6 536.5h.01M191.9 547.2h.01M189.4 541.9h.01M145.1 536.1h.01M169.1 526.0h.01M115.2 546.2h.01M130.4 556.4h.01M212.4 506.1h.01M178.4 504.5h.01M178.1 531.2h.01M194.3 520.2h.01M113.9 551.1h.01M163.6 516.8h.01M121.8 550.2h.01M115.8 543.2h.01M131.5 558.0h.01M173.2 530.9h.01M107.7 552.5h.01M196.2 532.2h.01M94.0 551.1h.01M123.5 544.4h.01M207.6 537.1h.01M166.3 526.6h.01M106.6 571.3h.01M86.6 564.3h.01M181.1 522.9h.01M178.4 528.9h.01M165.8 544.9h.01M190.6 540.6h.01M171.3 495.0h.01M86.0 570.5h.01M128.4 534.7h.01M139.8 557.2h.01M159.4 527.5h.01M155.5 548.4h.01M138.5 551.3h.01M150.0 543.4h.01M155.0 527.8h.01M137.9 554.5h.01M178.9 538.8h.01M136.2 558.2h.01M118.4 560.3h.01M104.1 542.4h.01M139.7 557.1h.01M107.5 535.7h.01M148.8 544.5h.01M200.2 522.7h.01M112.9 551.3h.01M147.6 528.4h.01M185.1 527.7h.01M159.1 536.7h.01M122.1 560.1h.01M127.5 548.3h.01M143.8 535.3h.01M208.0 545.1h.01M106.7 577.8h.01M203.5 519.8h.01M191.0 560.8h.01M149.2 559.0h.01M97.5 539.9h.01M126.5 554.4h.01M129.3 563.2h.01M148.8 518.6h.01M180.7 518.1h.01M110.7 549.0h.01M139.0 566.3h.01M200.9 533.9h.01M156.8 542.6h.01M88.0 559.9h.01M172.1 514.6h.01M128.1 523.0h.01M113.5 571.5h.01M171.4 546.4h.01M131.7 555.6h.01M130.7 541.9h.01M88.7 538.9h.01M143.7 548.0h.01M119.7 528.5h.01M108.9 562.7h.01M129.0 532.3h.01M170.0 527.4h.01M179.9 551.5h.01M176.6 542.5h.01M160.9 554.5h.01M146.0 563.1h.01M87.7 564.6h.01M85.1 538.4h.01M121.6 568.3h.01M108.1 547.7h.01M148.1 554.9h.01M164.8 517.1h.01M117.2 534.3h.01M99.6 571.3h.01M135.3 518.2h.01M155.2 521.6h.01M148.0 536.2h.01M184.4 525.7h.01" stroke="#4a4a4a" stroke-opacity="0.60" stroke-width="1" stroke-linecap="round" fill="none"/>
<path d="M139.7 564.0h.01M125.7 551.6h.01M133.2 547.5h.01M112.2 568.0h.01M147.6 510.0h.01M145.2 557.2h.01M164.1 572.5h.01M161.1 537.0h.01M101.8 537.4h.01M105.4 550.7h.01M190.6 563.2h.01M145.7 571.6h.01M113.2 554.4h.01M179.0 576.0h.01M116.7 570.0h.01M93.9 581.7h.01M130.1 590.0h.01M130.1 550.5h.01M178.1 561.8h.01M119.4 555.4h.01M193.9 581.2h.01M86.3 567.7h.01M158.6 561.4h.01M109.3 565.5h.01M84.9 552.6h.01M142.2 574.1h.01M124.0 558.2h.01M139.8 550.8h.01M151.8 558.1h.01M105.7 552.3h.01M147.9 545.5h.01M148.5 567.7h.01M177.3 562.4h.01M154.3 543.0h.01M87.8 557.0h.01M146.4 560.0h.01M134.2 570.5h.01M215.2 593.8h.01M110.8 541.2h.01M135.7 557.3h.01M142.3 562.8h.01M187.6 549.1h.01M137.7 543.0h.01M178.9 554.7h.01M168.7 565.3h.01M118.5 566.3h.01M168.2 558.3h.01M136.6 553.9h.01M134.5 563.8h.01M119.5 536.6h.01M93.2 581.9h.01M93.9 561.6h.01M139.1 565.3h.01M186.5 536.4h.01M145.5 566.4h.01M92.6 572.9h.01M115.8 547.1h.01M184.8 563.7h.01M143.7 569.2h.01M108.7 550.3h.01M136.6 550.7h.01M104.0 577.4h.01M159.0 546.8h.01M129.0 553.2h.01M128.2 560.1h.01M146.7 584.9h.01M119.2 564.2h.01M108.3 566.8h.01M144.4 551.8h.01M99.2 559.8h.01M117.0 562.1h.01M173.5 573.5h.01M155.8 591.0h.01M166.5 550.7h.01M128.8 585.2h.01M198.7 548.3h.01M93.9 557.1h.01M126.2 565.5h.01M140.3 563.8h.01M121.9 555.4h.01M153.2 545.6h.01M139.6 573.8h.01M99.2 569.7h.01M129.3 552.8h.01M90.0 561.0h.01M182.7 547.3h.01M175.8 560.4h.01M163.0 572.2h.01M156.0 558.1h.01M116.9 568.0h.01M121.7 563.3h.01M126.6 569.4h.01M144.3 562.4h.01M129.2 582.0h.01M191.6 561.6h.01M85.9 568.9h.01M149.3 581.4h.01M154.2 560.6h.01M167.5 553.2h.01M111.8 557.1h.01M144.4 562.0h.01M183.5 561.2h.01M105.7 560.2h.01M153.7 563.9h.01M100.1 573.2h.01M115.8 523.7h.01M109.8 554.3h.01M124.2 547.2h.01M85.5 568.4h.01M159.2 544.6h.01M165.2 574.2h.01M152.0 535.9h.01M101.3 566.4h.01M134.4 560.3h.01M104.3 561.9h.01M133.3 581.8h.01M144.8 579.8h.01M170.0 565.4h.01M110.1 593.0h.01M116.8 573.0h.01M178.0 580.0h.01M103.7 572.2h.01M140.9 546.2h.01M192.6 561.9h.01M159.0 600.0h.01M141.7 565.7h.01M127.3 555.8h.01M155.0 559.1h.01M189.4 535.7h.01M103.9 564.1h.01M145.7 570.1h.01M111.1 551.1h.01M163.6 556.1h.01M147.7 569.8h.01M148.9 558.8h.01M137.1 580.6h.01M144.1 550.6h.01M153.0 572.6h.01M120.8 572.7h.01M121.1 577.2h.01M119.4 562.4h.01M109.5 573.9h.01M102.5 565.7h.01M97.6 532.2h.01M132.7 548.4h.01M102.2 547.9h.01M164.4 578.3h.01M182.4 541.7h.01M132.9 538.5h.01M120.3 555.1h.01M130.4 556.7h.01M142.6 564.2h.01M128.4 568.7h.01M153.0 544.2h.01M137.5 574.2h.01M166.9 535.5h.01M137.4 544.8h.01M103.1 586.8h.01M182.6 553.1h.01M88.8 565.9h.01M124.8 567.3h.01M148.4 574.0h.01M173.7 558.6h.01M152.2 534.5h.01M205.0 556.5h.01M149.9 569.8h.01M162.6 574.6h.01M163.4 553.4h.01M159.0 559.6h.01M120.8 547.8h.01M136.0 554.7h.01M147.2 529.9h.01M131.6 537.4h.01M171.9 551.8h.01M144.0 554.9h.01M151.2 565.2h.01M160.0 585.5h.01M139.5 555.2h.01M178.9 551.6h.01M108.5 584.1h.01M115.2 556.3h.01M115.9 574.0h.01M107.4 580.3h.01M119.0 551.6h.01M159.0 559.7h.01M111.3 572.3h.01M163.4 539.6h.01M123.8 543.5h.01M121.2 568.0h.01" stroke="#4a4a4a" stroke-opacity="0.60" stroke-width="1" stroke-linecap="round" fill="none"/>
<path d="M157.8 484.1V603.4M82.2 552.7H221.1" stroke="#222" stroke-width="1" fill="none" stroke-opacity="0.7"/>
<path d="M105.2 545.5C105.9 544.6 108.1 543.9 109.9 542.9C111.8 542.0 114.2 541.0 116.4 539.7C118.5 538.5 120.8 536.8 122.8 535.4C124.8 534.1 126.2 533.0 128.2 531.8C130.1 530.5 132.5 529.1 134.6 527.9C136.8 526.7 138.9 525.7 141.1 524.7C143.2 523.7 145.3 522.7 147.5 521.9C149.6 521.1 151.8 520.4 153.9 519.8C156.1 519.1 158.2 518.5 160.4 518.3C162.5 518.0 164.7 518.1 166.8 518.3C169.0 518.4 171.3 518.8 173.3 519.3C175.2 519.9 177.1 520.4 178.6 521.5C180.2 522.5 181.7 524.2 182.5 525.8C183.3 527.4 183.5 529.3 183.4 531.1C183.2 532.9 182.6 534.7 181.8 536.5C181.1 538.3 179.9 540.3 178.6 541.9C177.4 543.5 175.9 544.8 174.3 546.2C172.7 547.5 170.8 548.6 169.0 549.8C167.2 551.0 165.4 552.3 163.6 553.3C161.8 554.2 160.2 554.9 158.2 555.4C156.3 555.9 153.9 555.8 151.8 556.3C149.6 556.7 147.5 557.5 145.3 558.0C143.2 558.4 141.1 558.8 138.9 559.1C136.8 559.3 134.6 559.6 132.5 559.7C130.3 559.8 128.0 560.0 126.0 559.7C124.1 559.4 122.3 558.7 120.7 558.0C119.0 557.3 117.8 556.3 116.4 555.4C114.9 554.5 113.5 553.4 112.1 552.6C110.6 551.8 108.8 551.2 107.8 550.5C106.7 549.7 106.0 549.1 105.6 548.3C105.2 547.5 104.5 546.4 105.2 545.5Z" fill="#0430f5" stroke="#000" stroke-opacity="0.75" stroke-width="0.45"/>
<path d="M102.1 549.8C102.2 550.0 102.4 550.3 102.3 550.5C102.2 550.7 101.8 550.8 101.5 550.9C101.2 551.1 100.9 551.2 100.6 551.2C100.3 551.3 100.0 551.3 99.6 551.3C99.3 551.4 99.0 551.6 98.6 551.6C98.3 551.6 97.9 551.5 97.6 551.4C97.3 551.2 97.2 551.0 96.9 550.9C96.7 550.7 96.2 550.6 96.1 550.5C96.0 550.3 96.3 550.0 96.4 549.8C96.4 549.6 96.3 549.4 96.4 549.2C96.6 549.1 96.9 549.0 97.1 548.8C97.2 548.6 97.3 548.3 97.5 548.2C97.8 548.0 98.3 548.0 98.6 548.0C99.0 548.0 99.3 548.2 99.7 548.2C100.0 548.3 100.4 548.3 100.7 548.3C101.0 548.4 101.2 548.6 101.4 548.7C101.6 548.9 101.8 549.1 101.9 549.2C102.1 549.4 102.1 549.6 102.1 549.8Z" fill="#0430f5" stroke="#000" stroke-opacity="0.75" stroke-width="0.45"/>
<path d="M118.5 547.7C118.9 546.1 121.2 543.7 122.8 541.9C124.4 540.1 126.2 538.5 128.2 536.9C130.1 535.3 132.5 533.6 134.6 532.2C136.8 530.8 138.9 529.5 141.1 528.3C143.2 527.2 145.3 526.2 147.5 525.3C149.6 524.5 151.8 523.8 153.9 523.2C156.1 522.5 158.2 521.8 160.4 521.5C162.5 521.2 164.7 521.2 166.8 521.5C169.0 521.8 171.5 522.4 173.3 523.2C175.0 524.0 176.6 524.9 177.6 526.2C178.5 527.5 179.1 529.4 179.1 531.1C179.1 532.9 178.4 534.7 177.6 536.5C176.7 538.3 175.3 540.3 173.9 541.9C172.5 543.5 170.7 545.0 169.0 546.2C167.2 547.3 165.6 548.1 163.6 549.0C161.6 549.9 159.3 550.9 157.2 551.5C155.0 552.1 152.9 552.2 150.7 552.6C148.6 553.0 146.4 553.6 144.3 554.1C142.1 554.6 140.0 555.3 137.8 555.4C135.7 555.5 133.5 555.1 131.4 554.8C129.2 554.4 126.8 553.9 124.9 553.3C123.1 552.6 121.3 552.0 120.2 551.1C119.1 550.2 118.1 549.2 118.5 547.7Z" fill="#12dcff" stroke="#000" stroke-opacity="0.75" stroke-width="0.45"/>
<path d="M176.5 527.0C176.4 528.3 174.9 530.0 174.5 531.4C174.1 532.8 174.7 533.8 174.3 535.2C174.0 536.7 173.9 538.3 172.6 539.9C171.4 541.5 169.0 543.2 166.7 544.6C164.5 546.0 161.7 547.2 159.2 548.4C156.6 549.6 154.0 551.2 151.4 552.0C148.9 552.8 146.2 552.9 143.7 553.2C141.2 553.5 138.6 554.0 136.7 553.8C134.7 553.6 133.6 552.6 132.1 552.1C130.5 551.5 129.1 551.1 127.5 550.6C125.8 550.1 123.2 549.9 122.0 549.0C120.7 548.1 119.8 546.7 120.2 545.3C120.6 543.8 122.9 541.7 124.4 540.1C125.9 538.5 127.2 536.8 129.1 535.4C131.0 533.9 133.6 532.7 135.7 531.3C137.8 530.0 139.5 528.4 141.7 527.1C144.0 525.9 146.7 524.8 149.2 524.0C151.7 523.2 154.2 522.8 156.7 522.3C159.3 521.7 161.9 521.0 164.5 520.7C167.1 520.3 170.4 519.7 172.2 520.2C174.0 520.6 174.6 522.2 175.3 523.3C176.1 524.4 176.7 525.6 176.5 527.0Z" fill="#00c8a0" stroke="#000" stroke-opacity="0.75" stroke-width="0.45"/>
<path d="M177.1 526.8C177.8 527.7 178.3 529.1 177.5 530.5C176.6 531.9 173.4 533.8 172.0 535.3C170.5 536.7 170.1 537.9 168.8 539.2C167.5 540.6 165.7 541.8 164.1 543.2C162.4 544.7 161.0 546.6 158.9 547.8C156.7 549.0 153.7 549.9 151.2 550.5C148.7 551.1 146.4 551.3 144.1 551.6C141.8 551.9 139.8 552.1 137.5 552.3C135.2 552.6 132.0 553.4 130.5 553.0C128.9 552.6 128.9 551.0 128.2 550.0C127.5 549.1 126.6 548.3 126.4 547.2C126.2 546.2 127.1 544.8 127.0 543.6C126.9 542.5 125.4 541.5 125.7 540.2C125.9 538.9 127.0 537.1 128.6 535.6C130.2 534.2 133.1 532.7 135.5 531.5C137.8 530.4 140.6 529.9 142.9 528.8C145.3 527.8 147.1 526.1 149.4 525.2C151.7 524.3 154.1 524.0 156.5 523.4C158.9 522.9 161.7 522.1 163.6 522.2C165.5 522.2 166.5 523.3 168.0 523.7C169.6 524.2 171.3 524.3 172.8 524.8C174.4 525.3 176.3 525.8 177.1 526.8Z" fill="none" stroke="#000" stroke-opacity="0.60" stroke-width="0.35"/>
<path d="M176.2 526.9C176.5 527.9 176.2 529.3 176.0 530.6C175.7 531.8 175.4 533.1 174.7 534.5C174.0 535.9 173.6 537.6 171.9 539.0C170.2 540.3 166.8 541.6 164.4 542.6C162.0 543.7 159.6 544.1 157.5 545.2C155.3 546.3 153.8 548.1 151.5 549.3C149.3 550.4 146.5 551.5 144.0 552.2C141.5 552.9 138.5 553.5 136.5 553.4C134.5 553.4 132.9 552.6 131.8 551.8C130.7 551.1 130.8 549.7 129.8 548.9C128.7 548.2 126.5 548.1 125.8 547.2C125.0 546.4 124.5 545.1 125.1 543.8C125.7 542.5 128.3 540.9 129.4 539.5C130.5 538.1 130.6 536.9 131.6 535.5C132.7 534.1 134.1 532.6 135.8 531.1C137.5 529.7 139.6 527.9 141.9 526.7C144.3 525.5 147.4 524.4 149.8 524.0C152.2 523.6 154.3 524.5 156.4 524.5C158.4 524.5 160.1 524.2 162.3 523.8C164.5 523.5 167.9 522.3 169.8 522.4C171.7 522.4 172.7 523.5 173.7 524.2C174.8 525.0 175.8 525.8 176.2 526.9Z" fill="#08c818" stroke="#000" stroke-opacity="0.75" stroke-width="0.45"/>
<path d="M173.0 528.1C173.2 529.1 172.0 530.4 171.9 531.5C171.8 532.6 172.8 533.4 172.4 534.6C172.0 535.8 170.6 537.2 169.3 538.5C168.0 539.8 166.4 541.3 164.5 542.4C162.6 543.6 160.1 544.5 158.0 545.6C155.8 546.7 153.6 548.4 151.4 549.1C149.2 549.7 147.0 549.3 144.9 549.5C142.9 549.7 140.7 550.3 139.0 550.2C137.4 550.2 136.6 549.3 135.0 549.1C133.4 548.9 131.1 549.3 129.6 548.9C128.1 548.6 126.9 547.9 126.2 547.1C125.4 546.2 124.6 545.2 125.2 543.9C125.8 542.7 128.6 541.0 129.7 539.6C130.9 538.3 130.9 537.0 132.3 535.8C133.8 534.6 136.4 533.5 138.3 532.4C140.1 531.2 141.6 529.8 143.6 528.8C145.5 527.9 147.9 527.3 150.1 526.6C152.3 525.8 154.5 524.8 156.7 524.2C159.0 523.6 161.2 523.3 163.4 523.0C165.6 522.7 168.7 522.0 170.0 522.5C171.2 523.0 170.5 524.9 171.1 525.8C171.6 526.8 172.9 527.2 173.0 528.1Z" fill="none" stroke="#000" stroke-opacity="0.60" stroke-width="0.35"/>
<path d="M171.5 528.3C172.0 529.1 173.2 529.7 173.2 530.7C173.2 531.6 172.4 533.0 171.4 534.2C170.5 535.3 169.0 536.6 167.5 537.7C166.0 538.9 164.2 539.9 162.5 540.9C160.8 541.9 158.9 542.5 157.1 543.5C155.4 544.6 153.7 546.2 151.8 547.2C149.8 548.1 147.3 548.7 145.4 548.9C143.5 549.2 141.9 548.8 140.3 548.7C138.7 548.6 137.0 548.6 135.7 548.3C134.3 548.1 133.1 547.6 132.2 547.1C131.3 546.5 130.5 545.8 130.2 545.0C129.8 544.2 129.4 543.2 129.9 542.1C130.4 541.1 132.4 539.7 133.2 538.6C134.0 537.4 133.8 536.4 134.6 535.3C135.4 534.1 136.5 532.6 138.1 531.4C139.7 530.3 142.3 529.4 144.4 528.6C146.5 527.8 148.6 527.2 150.5 526.7C152.5 526.2 154.4 525.8 156.2 525.5C158.1 525.2 159.8 524.9 161.7 524.6C163.6 524.4 166.4 523.6 167.7 523.8C169.1 524.1 169.3 525.3 169.9 526.0C170.5 526.8 170.9 527.5 171.5 528.3Z" fill="#7ee000" stroke="#000" stroke-opacity="0.75" stroke-width="0.45"/>
<path d="M170.2 528.8C170.8 529.4 171.1 530.2 171.3 531.1C171.5 532.0 172.1 532.9 171.4 534.0C170.7 535.1 168.6 536.5 166.9 537.5C165.2 538.5 163.0 539.3 161.3 540.2C159.5 541.1 158.3 541.9 156.6 542.8C155.0 543.7 153.4 545.0 151.6 545.7C149.8 546.4 147.8 546.8 146.0 547.2C144.1 547.6 142.1 548.1 140.6 548.1C139.0 548.1 138.0 547.6 136.7 547.4C135.3 547.2 133.5 547.3 132.5 546.8C131.5 546.4 130.6 545.7 130.7 544.8C130.7 543.9 131.9 542.5 132.6 541.5C133.4 540.4 134.6 539.5 135.2 538.5C135.7 537.5 135.4 536.6 136.1 535.6C136.9 534.5 138.2 533.3 139.6 532.2C141.0 531.1 142.7 529.8 144.6 529.0C146.4 528.2 148.8 527.9 150.7 527.4C152.6 527.0 154.3 526.7 156.1 526.3C157.8 526.0 159.8 525.4 161.4 525.3C163.0 525.1 164.7 525.2 165.7 525.6C166.7 525.9 166.8 526.9 167.6 527.4C168.3 528.0 169.6 528.2 170.2 528.8Z" fill="none" stroke="#000" stroke-opacity="0.60" stroke-width="0.35"/>
<path d="M169.4 528.7C169.8 529.3 170.7 530.0 170.1 530.9C169.5 531.8 166.8 533.1 165.7 534.1C164.6 535.0 164.0 535.7 163.3 536.6C162.5 537.4 162.1 538.4 161.1 539.3C160.0 540.3 158.6 541.3 157.1 542.1C155.6 543.0 153.7 543.8 152.0 544.4C150.3 544.9 148.5 545.2 147.0 545.3C145.5 545.4 144.5 545.0 143.1 545.1C141.7 545.2 139.4 546.0 138.3 545.8C137.3 545.6 137.1 544.6 136.8 544.0C136.4 543.4 136.5 542.7 136.2 542.1C135.9 541.5 135.1 541.0 134.9 540.4C134.7 539.7 134.5 538.9 134.8 538.0C135.2 537.1 135.9 536.0 136.9 535.0C138.0 534.0 139.7 532.9 141.4 532.1C143.0 531.4 145.4 531.3 147.0 530.6C148.6 530.0 149.7 529.1 151.2 528.4C152.7 527.7 154.5 527.1 156.0 526.7C157.6 526.3 159.1 526.3 160.5 526.2C161.9 526.1 163.3 526.1 164.5 526.2C165.6 526.4 166.7 526.7 167.5 527.1C168.3 527.5 168.9 528.0 169.4 528.7Z" fill="#f0f000" stroke="#000" stroke-opacity="0.75" stroke-width="0.45"/>
<path d="M165.8 530.1C165.9 530.8 166.7 531.1 166.7 531.7C166.7 532.4 166.2 533.2 165.8 534.0C165.4 534.7 165.2 535.6 164.4 536.5C163.6 537.3 162.5 538.4 161.1 539.2C159.7 539.9 157.7 540.3 156.2 541.0C154.6 541.6 153.3 542.5 151.8 543.1C150.4 543.6 148.6 544.3 147.2 544.4C145.9 544.6 144.9 544.2 143.7 544.2C142.6 544.1 141.2 544.4 140.2 544.3C139.1 544.2 138.3 543.9 137.5 543.6C136.7 543.3 135.9 542.9 135.2 542.5C134.6 542.0 133.5 541.5 133.8 540.7C134.2 539.9 136.2 538.7 137.2 537.8C138.3 536.9 139.3 536.2 140.2 535.3C141.1 534.5 141.7 533.6 142.8 532.8C143.9 532.1 145.6 531.4 147.0 530.7C148.4 530.1 149.8 529.2 151.3 528.7C152.8 528.1 154.4 527.7 155.9 527.4C157.3 527.1 158.4 527.2 159.9 527.0C161.4 526.8 163.5 526.1 164.6 526.3C165.7 526.4 166.1 527.2 166.3 527.8C166.5 528.5 165.8 529.5 165.8 530.1Z" fill="none" stroke="#000" stroke-opacity="0.60" stroke-width="0.35"/>
<path d="M164.1 530.4C164.7 530.7 165.3 531.1 165.2 531.7C165.2 532.3 164.4 533.1 163.8 533.8C163.2 534.5 162.2 535.2 161.4 535.9C160.6 536.6 160.0 537.3 159.0 538.0C158.0 538.7 156.8 539.4 155.6 540.0C154.4 540.6 153.0 541.3 151.8 541.6C150.6 541.9 149.5 541.6 148.4 541.6C147.4 541.7 146.5 541.9 145.3 542.1C144.2 542.3 142.6 542.8 141.5 542.9C140.4 542.9 139.2 542.9 138.6 542.5C138.1 542.2 138.2 541.4 138.2 540.8C138.3 540.2 138.5 539.6 138.8 538.9C139.1 538.3 139.9 537.6 140.3 536.9C140.6 536.3 140.4 535.6 141.1 534.9C141.8 534.3 143.2 533.5 144.4 532.9C145.5 532.3 146.8 531.9 148.0 531.4C149.1 530.8 150.1 530.2 151.3 529.7C152.6 529.1 154.1 528.3 155.3 528.0C156.6 527.6 158.0 527.5 159.0 527.6C160.0 527.6 160.9 527.8 161.4 528.2C161.9 528.5 161.5 529.4 161.9 529.8C162.4 530.1 163.6 530.0 164.1 530.4Z" fill="#ff9a00" stroke="#000" stroke-opacity="0.75" stroke-width="0.45"/>
<path d="M163.8 530.5C164.1 530.9 164.7 531.3 164.4 531.9C164.1 532.4 162.6 533.3 162.0 534.0C161.3 534.6 160.9 535.1 160.3 535.7C159.6 536.3 158.8 536.9 157.9 537.5C157.1 538.2 156.4 539.0 155.3 539.6C154.3 540.2 152.9 540.8 151.7 541.2C150.5 541.6 149.2 541.8 148.2 541.9C147.1 542.0 146.4 541.7 145.5 541.8C144.5 541.8 143.1 542.2 142.4 542.1C141.6 542.0 141.4 541.5 141.0 541.2C140.6 540.8 140.0 540.6 139.8 540.2C139.6 539.8 139.9 539.2 139.9 538.7C139.9 538.2 139.8 537.7 140.0 537.1C140.3 536.5 140.8 535.7 141.5 535.1C142.2 534.4 143.3 533.6 144.4 533.1C145.5 532.5 147.1 532.3 148.3 531.9C149.5 531.4 150.4 530.8 151.4 530.4C152.5 530.0 153.6 529.7 154.7 529.4C155.9 529.1 157.2 528.6 158.2 528.5C159.3 528.4 160.1 528.5 160.9 528.7C161.7 528.8 162.3 529.0 162.8 529.3C163.3 529.6 163.6 530.1 163.8 530.5Z" fill="none" stroke="#000" stroke-opacity="0.60" stroke-width="0.35"/>
<path d="M159.6 532.0C159.6 532.4 159.5 532.7 159.4 533.1C159.3 533.4 159.1 533.8 158.9 534.2C158.7 534.6 158.6 535.0 158.2 535.5C157.8 535.9 157.2 536.5 156.4 536.9C155.6 537.3 154.5 537.6 153.6 538.0C152.7 538.4 152.0 539.0 151.1 539.4C150.3 539.7 149.3 539.9 148.5 540.0C147.7 540.1 147.1 540.0 146.5 540.0C145.9 540.0 145.3 539.9 144.8 539.8C144.3 539.8 144.0 539.6 143.5 539.5C143.0 539.4 142.4 539.3 141.9 539.1C141.5 539.0 140.6 538.8 140.8 538.4C141.0 538.0 142.4 537.2 143.0 536.7C143.6 536.2 143.9 535.8 144.4 535.4C145.0 534.9 145.6 534.5 146.4 534.1C147.1 533.6 147.9 533.3 148.7 532.9C149.5 532.5 150.3 532.1 151.1 531.8C152.0 531.5 152.8 531.3 153.6 531.1C154.4 531.0 155.0 530.9 156.0 530.7C156.9 530.5 158.4 529.9 159.0 529.9C159.7 530.0 159.5 530.6 159.6 530.9C159.7 531.3 159.6 531.7 159.6 532.0Z" fill="#ff2a00" stroke="#000" stroke-opacity="0.75" stroke-width="0.45"/>
<path d="M159.5 532.1C159.4 532.4 159.4 532.7 159.3 533.1C159.1 533.4 158.8 533.8 158.5 534.2C158.2 534.6 157.9 535.0 157.4 535.4C157.0 535.8 156.3 536.3 155.6 536.6C155.0 537.0 154.1 537.3 153.3 537.6C152.6 538.0 151.9 538.3 151.1 538.7C150.3 539.1 149.2 539.8 148.4 540.0C147.6 540.2 146.9 540.1 146.3 540.0C145.8 540.0 145.3 539.8 145.0 539.6C144.7 539.5 144.6 539.2 144.3 539.0C144.0 538.9 143.6 538.8 143.3 538.6C142.9 538.4 142.3 538.3 142.3 538.0C142.3 537.7 142.7 537.2 143.2 536.8C143.6 536.3 144.5 535.9 145.1 535.5C145.6 535.0 145.8 534.6 146.4 534.2C147.0 533.7 147.9 533.3 148.7 533.0C149.5 532.6 150.4 532.3 151.2 532.1C152.0 531.9 152.7 531.9 153.3 531.8C154.0 531.7 154.5 531.6 155.3 531.5C156.0 531.3 157.1 530.9 157.8 530.8C158.6 530.7 159.6 530.6 159.9 530.8C160.2 531.0 159.6 531.7 159.5 532.1Z" fill="none" stroke="#000" stroke-opacity="0.60" stroke-width="0.35"/>
<rect x="82.2" y="484.1" width="138.9" height="119.3" fill="none" stroke="#2a2a2a" stroke-width="1.1"/>
<path d="M157.8 484.1V603.4M82.2 552.7H221.1" stroke="#111" stroke-width="1" fill="none" stroke-opacity="0.38"/>
<text transform="translate(95.0,614.5) scale(1.00,1)" class="tk" text-anchor="middle">0</text>
<text transform="translate(124.1,614.6) scale(0.82,1)" class="tk" text-anchor="end">10</text>
<text transform="translate(124.7,612.3) scale(0.85,1)" class="tk" text-anchor="start">3</text>
<text transform="translate(154.5,614.6) scale(0.82,1)" class="tk" text-anchor="end">10</text>
<text transform="translate(155.1,612.3) scale(0.85,1)" class="tk" text-anchor="start">4</text>
<text transform="translate(185.1,614.6) scale(0.82,1)" class="tk" text-anchor="end">10</text>
<text transform="translate(185.7,612.3) scale(0.85,1)" class="tk" text-anchor="start">5</text>
<text transform="translate(215.9,614.6) scale(0.82,1)" class="tk" text-anchor="end">10</text>
<text transform="translate(216.5,612.3) scale(0.85,1)" class="tk" text-anchor="start">6</text>
<text transform="translate(74.4,490.8) scale(0.82,1)" class="tk" text-anchor="end">10</text>
<text transform="translate(74.9,488.5) scale(0.85,1)" class="tk" text-anchor="start">6</text>
<text transform="translate(74.4,517.1) scale(0.82,1)" class="tk" text-anchor="end">10</text>
<text transform="translate(74.9,514.8) scale(0.85,1)" class="tk" text-anchor="start">5</text>
<text transform="translate(74.4,543.2) scale(0.82,1)" class="tk" text-anchor="end">10</text>
<text transform="translate(74.9,540.9) scale(0.85,1)" class="tk" text-anchor="start">4</text>
<text transform="translate(74.4,568.5) scale(0.82,1)" class="tk" text-anchor="end">10</text>
<text transform="translate(74.9,566.2) scale(0.85,1)" class="tk" text-anchor="start">3</text>
<text transform="translate(78.5,593.6) scale(1.00,1)" class="tk" text-anchor="end">0</text>
<path d="M95.0 603.4v2.6M127.9 603.4v2.6M106.9 603.4v2.2M158.3 603.4v2.6M188.9 603.4v2.6M219.7 603.4v2.6M82.2 486.1h-2.6M82.2 512.4h-2.6M82.2 538.5h-2.6M82.2 563.8h-2.6M82.2 579.5h-2.2M82.2 591.1h-2.6" stroke="#333" stroke-width="0.8" fill="none"/>
<path d="M113.2 603.4v1.5M116.9 603.4v1.5M119.6 603.4v1.5M121.6 603.4v1.5M123.2 603.4v1.5M124.6 603.4v1.5M125.9 603.4v1.5M126.9 603.4v1.5M137.1 603.4v1.5M142.4 603.4v1.5M146.2 603.4v1.5M149.2 603.4v1.5M151.6 603.4v1.5M153.6 603.4v1.5M155.4 603.4v1.5M156.9 603.4v1.5M167.5 603.4v1.5M172.9 603.4v1.5M176.7 603.4v1.5M179.7 603.4v1.5M182.1 603.4v1.5M184.1 603.4v1.5M185.9 603.4v1.5M187.5 603.4v1.5M198.2 603.4v1.5M203.6 603.4v1.5M207.4 603.4v1.5M210.4 603.4v1.5M212.9 603.4v1.5M214.9 603.4v1.5M216.7 603.4v1.5M218.3 603.4v1.5M82.2 504.5h-1.5M82.2 499.9h-1.5M82.2 496.6h-1.5M82.2 494.0h-1.5M82.2 492.0h-1.5M82.2 490.2h-1.5M82.2 488.7h-1.5M82.2 487.3h-1.5M82.2 530.6h-1.5M82.2 526.0h-1.5M82.2 522.8h-1.5M82.2 520.2h-1.5M82.2 518.2h-1.5M82.2 516.4h-1.5M82.2 514.9h-1.5M82.2 513.6h-1.5M82.2 556.2h-1.5M82.2 551.7h-1.5M82.2 548.6h-1.5M82.2 546.1h-1.5M82.2 544.1h-1.5M82.2 542.4h-1.5M82.2 541.0h-1.5M82.2 539.7h-1.5M82.2 574.8h-1.5M82.2 572.0h-1.5M82.2 570.1h-1.5M82.2 568.5h-1.5M82.2 567.3h-1.5M82.2 566.2h-1.5M82.2 565.3h-1.5M82.2 564.5h-1.5" stroke="#333" stroke-width="0.7" fill="none"/></g>
<g><path d="M285.7 581.8h.01M347.9 565.8h.01M282.8 573.8h.01M333.4 594.8h.01M286.0 551.7h.01M339.8 583.5h.01M362.9 592.7h.01M317.2 570.1h.01M298.0 554.5h.01M322.7 577.6h.01M310.3 573.9h.01M327.6 587.5h.01M350.7 578.8h.01M269.9 587.6h.01M280.2 571.9h.01M278.7 575.0h.01M298.2 578.8h.01M343.6 551.2h.01M311.9 586.9h.01M317.4 581.7h.01M322.9 556.9h.01M335.8 560.4h.01M372.4 565.9h.01M339.2 575.0h.01M346.7 564.2h.01M348.0 572.8h.01M355.4 586.2h.01M324.0 561.0h.01M341.5 583.4h.01M366.0 568.2h.01M335.5 584.1h.01M327.9 578.8h.01M325.1 564.2h.01M291.6 567.9h.01M347.4 594.0h.01M341.8 587.6h.01M325.1 588.9h.01M369.7 569.1h.01M326.9 592.5h.01M344.5 554.6h.01M325.0 588.5h.01M323.6 559.1h.01M316.9 581.7h.01M351.2 587.8h.01M321.7 599.4h.01M298.7 589.3h.01M351.1 569.7h.01M269.9 558.7h.01M326.6 584.5h.01M363.3 556.9h.01M320.1 586.7h.01M315.6 532.3h.01M348.1 558.5h.01M308.5 579.0h.01M300.8 566.5h.01M340.2 600.6h.01M338.3 580.4h.01M269.0 562.2h.01M302.9 565.4h.01M336.4 569.0h.01M342.1 576.5h.01M310.7 577.1h.01M332.0 590.4h.01M306.6 570.8h.01M360.6 571.8h.01M306.6 552.8h.01M324.8 578.7h.01M298.2 531.0h.01M359.5 578.4h.01M274.9 578.2h.01M351.3 585.3h.01M315.1 536.5h.01M316.5 547.0h.01M336.7 536.5h.01M294.6 597.0h.01M366.0 553.7h.01M277.0 590.8h.01M343.9 557.2h.01" stroke="#4a4a4a" stroke-opacity="0.60" stroke-width="1" stroke-linecap="round" fill="none"/>
<path d="M312.2 484.1V603.4M237.9 552.7H375.6" stroke="#222" stroke-width="1" fill="none" stroke-opacity="0.7"/>
<path d="M277.2 561.2C277.7 560.0 279.0 558.8 280.4 557.9C281.9 557.1 284.0 556.6 285.8 555.8C287.6 555.0 289.6 554.3 291.2 553.2C292.8 552.1 293.9 550.4 295.5 549.4C297.1 548.4 298.9 547.6 300.8 547.2C302.8 546.8 305.1 547.3 307.3 546.8C309.4 546.2 311.6 544.3 313.7 544.0C315.9 543.7 317.8 545.0 320.2 545.1C322.5 545.2 325.2 545.0 327.7 544.6C330.2 544.3 332.9 542.8 335.2 542.9C337.5 543.0 339.6 544.3 341.6 545.1C343.7 545.8 346.0 546.6 347.6 547.6C349.3 548.7 350.8 550.0 351.3 551.5C351.8 553.0 351.2 555.1 350.6 556.9C350.1 558.7 349.0 560.5 348.1 562.2C347.1 564.0 345.9 566.0 344.8 567.6C343.8 569.2 342.9 570.8 341.6 571.9C340.4 573.0 338.9 573.9 337.3 574.1C335.7 574.2 333.8 573.3 332.0 573.0C330.2 572.6 328.4 571.8 326.6 571.9C324.8 572.0 322.8 572.9 321.2 573.4C319.6 573.9 318.3 574.1 316.9 574.7C315.6 575.3 314.3 576.1 313.3 577.3C312.3 578.4 311.6 580.0 311.1 581.6C310.7 583.2 310.4 585.1 310.5 586.9C310.6 588.7 311.7 590.5 311.6 592.3C311.4 594.1 310.5 596.3 309.4 597.7C308.3 599.0 306.7 599.9 305.1 600.5C303.5 601.1 301.5 601.3 299.8 601.3C298.0 601.4 296.0 601.3 294.4 600.9C292.8 600.5 291.2 599.8 290.1 598.7C289.0 597.7 288.1 596.1 287.9 594.5C287.8 592.8 288.7 590.9 289.0 589.1C289.3 587.3 289.7 585.5 289.7 583.7C289.7 581.9 289.5 580.0 289.0 578.3C288.6 576.7 287.9 575.1 286.9 574.1C285.8 573.0 283.9 572.9 282.6 571.9C281.3 570.9 279.8 569.4 278.9 568.3C278.0 567.1 277.5 566.0 277.2 564.8C276.9 563.6 276.7 562.3 277.2 561.2Z" fill="#0430f5" stroke="#000" stroke-opacity="0.75" stroke-width="0.45"/>
<path d="M278.9 562.7C279.2 561.2 280.5 560.1 281.9 559.0C283.4 558.0 285.7 557.3 287.5 556.4C289.3 555.6 291.1 554.9 292.7 553.9C294.2 552.8 295.3 551.0 297.0 550.0C298.6 549.0 300.5 548.5 302.5 548.1C304.6 547.6 306.8 547.7 309.0 547.2C311.1 546.7 313.3 545.3 315.4 545.1C317.6 544.8 319.5 545.9 321.9 545.9C324.2 546.0 327.0 545.6 329.4 545.3C331.8 545.0 334.1 543.8 336.3 544.0C338.4 544.1 340.2 545.3 342.1 546.1C343.9 547.0 345.9 547.9 347.2 548.9C348.6 550.0 349.9 551.1 350.2 552.6C350.5 554.1 349.8 556.2 349.1 557.9C348.5 559.7 347.4 561.6 346.4 563.3C345.3 565.0 344.2 566.8 342.9 568.3C341.7 569.8 340.8 571.8 338.8 572.3C336.9 572.8 333.5 571.5 331.3 571.3C329.2 571.0 327.7 570.7 326.0 570.8C324.2 571.0 322.3 571.8 320.6 572.3C318.9 572.8 317.3 573.1 315.9 573.8C314.4 574.6 312.8 575.6 311.8 576.8C310.7 578.1 310.0 579.7 309.6 581.6C309.2 583.4 309.3 586.1 309.4 588.0C309.5 589.9 310.6 591.1 310.3 592.7C310.0 594.3 309.3 596.4 307.7 597.7C306.1 598.9 302.5 599.9 300.4 600.2C298.3 600.6 296.4 600.3 294.8 599.8C293.2 599.4 291.9 598.6 291.0 597.5C290.0 596.3 289.3 594.8 289.2 592.7C289.2 590.6 290.4 587.2 290.5 584.8C290.7 582.4 290.5 580.1 290.1 578.3C289.7 576.6 289.0 575.2 287.9 574.1C286.9 572.9 284.9 572.3 283.7 571.3C282.4 570.2 281.0 569.3 280.2 567.8C279.4 566.4 278.6 564.1 278.9 562.7Z" fill="#14a0f5" stroke="#000" stroke-opacity="0.75" stroke-width="0.45"/>
<path d="M284.7 563.3C285.2 562.0 286.9 560.6 287.9 559.7C289.0 558.7 289.9 558.4 291.2 557.5C292.4 556.7 294.1 555.6 295.5 554.5C296.8 553.4 297.6 551.9 299.1 551.1C300.6 550.2 302.6 549.9 304.5 549.4C306.4 548.9 308.4 548.5 310.5 548.1C312.6 547.6 314.8 546.7 316.9 546.6C319.1 546.4 321.1 547.2 323.4 547.2C325.7 547.2 328.6 546.9 330.9 546.6C333.2 546.3 335.4 545.3 337.3 545.5C339.3 545.7 341.2 546.9 342.7 547.6C344.2 548.4 345.6 549.1 346.6 550.2C347.5 551.3 348.4 552.6 348.5 554.1C348.6 555.5 347.9 557.3 347.2 559.0C346.5 560.7 345.5 562.7 344.4 564.4C343.3 566.1 342.1 568.1 340.8 569.1C339.4 570.1 337.9 570.4 336.3 570.4C334.6 570.4 332.7 569.5 330.9 569.3C329.1 569.1 327.3 569.1 325.5 569.3C323.7 569.6 321.9 570.3 320.2 570.8C318.4 571.4 316.5 571.7 314.8 572.5C313.1 573.4 311.2 574.3 310.1 575.8C308.9 577.3 308.3 579.5 307.9 581.6C307.6 583.6 307.8 586.0 307.9 588.0C308.0 590.0 308.9 591.8 308.6 593.4C308.2 594.9 307.1 596.3 305.8 597.2C304.5 598.1 302.5 598.6 300.8 598.7C299.1 598.9 296.9 598.8 295.5 598.3C294.0 597.8 293.0 596.9 292.2 595.7C291.5 594.6 291.0 593.1 291.0 591.2C291.0 589.4 292.1 586.9 292.2 584.8C292.3 582.6 291.8 580.1 291.6 578.3C291.4 576.6 291.8 575.3 291.2 574.1C290.6 572.8 288.9 571.9 287.9 570.8C287.0 569.8 285.9 568.9 285.4 567.6C284.8 566.4 284.3 564.6 284.7 563.3Z" fill="#12dcff" stroke="#000" stroke-opacity="0.75" stroke-width="0.45"/>
<path d="M287.7 561.2C288.3 559.8 290.0 558.0 291.5 556.7C293.0 555.3 294.9 554.0 296.7 552.8C298.5 551.7 300.2 550.6 302.3 549.9C304.4 549.1 306.8 548.9 309.1 548.3C311.3 547.8 313.6 546.7 315.8 546.5C318.1 546.3 320.2 547.2 322.6 547.2C325.0 547.2 328.1 546.8 330.5 546.5C332.9 546.2 335.2 545.4 337.3 545.6C339.3 545.8 341.3 546.8 342.9 547.6C344.5 548.5 346.1 549.3 347.0 550.6C347.8 551.9 348.1 553.8 347.9 555.5C347.6 557.3 346.6 559.4 345.6 561.2C344.6 563.0 343.3 565.1 341.8 566.4C340.2 567.6 338.0 568.3 336.1 568.6C334.3 568.9 332.4 568.0 330.5 567.9C328.6 567.8 326.7 567.7 324.9 567.9C323.0 568.2 321.1 569.0 319.2 569.5C317.3 570.0 315.4 570.2 313.6 570.9C311.8 571.5 310.1 572.6 308.6 573.6C307.1 574.6 305.9 576.3 304.6 576.9C303.2 577.6 301.8 577.8 300.5 577.6C299.2 577.4 298.0 576.7 296.7 575.8C295.4 575.0 294.1 573.6 292.8 572.4C291.6 571.2 290.1 569.8 289.2 568.6C288.4 567.4 287.9 566.2 287.7 565.0C287.4 563.8 287.0 562.6 287.7 561.2Z" fill="#00c8a0" stroke="#000" stroke-opacity="0.75" stroke-width="0.45"/>
<path d="M306.8 585.9C306.8 587.2 305.8 588.6 305.3 589.7C304.8 590.9 304.4 591.7 303.9 592.7C303.4 593.7 303.0 594.8 302.4 595.7C301.8 596.7 301.2 598.0 300.4 598.4C299.6 598.7 298.6 598.3 297.9 597.9C297.1 597.4 296.6 596.3 295.8 595.7C295.1 595.1 293.8 595.2 293.4 594.2C292.9 593.1 293.4 590.9 293.3 589.5C293.1 588.1 292.8 587.1 292.7 585.9C292.6 584.6 292.6 583.2 292.6 581.8C292.7 580.4 292.7 578.5 293.2 577.4C293.7 576.3 294.8 575.6 295.6 575.3C296.4 574.9 297.2 575.6 298.0 575.4C298.8 575.2 299.6 574.0 300.3 574.1C301.1 574.2 301.8 575.1 302.5 575.9C303.1 576.6 303.7 577.5 304.2 578.5C304.8 579.4 305.3 580.5 305.7 581.7C306.2 583.0 306.9 584.5 306.8 585.9Z" fill="#2ce8b0" stroke="#000" stroke-opacity="0.75" stroke-width="0.45"/>
<path d="M289.0 561.2C289.6 559.8 291.2 558.2 292.7 556.9C294.1 555.5 295.9 554.3 297.6 553.2C299.3 552.1 301.0 551.1 303.0 550.4C304.9 549.7 307.3 549.5 309.4 548.9C311.6 548.4 313.7 547.4 315.9 547.2C318.0 547.0 320.0 547.9 322.3 547.9C324.6 547.9 327.5 547.5 329.8 547.2C332.1 547.0 334.3 546.2 336.3 546.4C338.2 546.5 340.1 547.5 341.6 548.3C343.2 549.1 344.7 549.8 345.5 551.1C346.3 552.3 346.6 554.1 346.4 555.8C346.1 557.5 345.2 559.4 344.2 561.2C343.2 562.9 342.1 564.9 340.6 566.1C339.1 567.3 337.0 568.0 335.2 568.3C333.4 568.5 331.6 567.7 329.8 567.6C328.0 567.5 326.2 567.4 324.5 567.6C322.7 567.9 320.9 568.6 319.1 569.1C317.3 569.6 315.4 569.8 313.7 570.4C312.0 571.0 310.4 572.0 309.0 573.0C307.6 573.9 306.4 575.6 305.1 576.2C303.8 576.8 302.5 577.0 301.3 576.8C300.0 576.7 298.8 575.9 297.6 575.1C296.4 574.3 295.1 573.0 294.0 571.9C292.8 570.8 291.3 569.4 290.5 568.3C289.7 567.1 289.3 566.0 289.0 564.8C288.8 563.6 288.4 562.5 289.0 561.2Z" fill="#08c818" stroke="#000" stroke-opacity="0.75" stroke-width="0.45"/>
<path d="M303.5 588.8C303.6 589.1 303.3 589.5 303.3 589.8C303.2 590.1 303.3 590.4 303.1 590.7C302.9 591.0 302.6 591.3 302.3 591.6C302.0 591.9 301.8 592.3 301.4 592.6C301.0 592.8 300.4 592.9 300.0 592.9C299.6 592.9 299.2 592.6 298.8 592.5C298.5 592.5 298.0 592.6 297.6 592.6C297.3 592.6 296.9 592.4 296.6 592.3C296.3 592.1 295.9 591.9 295.9 591.6C295.8 591.3 296.1 590.9 296.2 590.6C296.2 590.2 296.0 589.9 296.2 589.6C296.3 589.3 296.9 589.0 297.3 588.8C297.6 588.5 298.0 588.4 298.4 588.2C298.8 588.0 299.1 587.9 299.5 587.7C300.0 587.5 300.5 587.2 300.9 587.1C301.4 587.0 301.9 587.1 302.2 587.3C302.5 587.5 302.3 588.0 302.6 588.3C302.8 588.5 303.3 588.6 303.5 588.8Z" fill="#08c818" stroke="#000" stroke-opacity="0.75" stroke-width="0.45"/>
<path d="M302.2 577.7C302.3 578.4 302.3 579.1 302.2 579.8C302.1 580.6 302.0 581.5 301.6 582.0C301.2 582.5 300.5 582.8 300.0 582.9C299.4 583.0 298.8 582.6 298.3 582.7C297.8 582.8 297.3 583.6 296.8 583.7C296.2 583.8 295.6 583.5 295.1 583.2C294.6 582.9 294.3 582.2 293.9 581.6C293.6 581.1 293.4 580.4 293.2 579.8C292.9 579.1 292.5 578.4 292.6 577.7C292.6 577.0 293.2 576.4 293.5 575.8C293.8 575.2 294.0 574.7 294.3 574.2C294.6 573.6 294.8 573.0 295.2 572.4C295.6 571.9 296.1 571.2 296.7 571.0C297.2 570.9 298.0 571.2 298.5 571.6C299.0 571.9 299.2 572.7 299.7 573.1C300.2 573.4 301.1 573.2 301.4 573.7C301.7 574.1 301.6 575.1 301.8 575.8C301.9 576.4 302.2 577.0 302.2 577.7Z" fill="#08c818" stroke="#000" stroke-opacity="0.75" stroke-width="0.45"/>
<path d="M290.7 561.2C291.2 559.9 292.7 558.4 294.1 557.1C295.4 555.9 297.1 554.7 298.7 553.7C300.3 552.7 301.9 551.7 303.8 551.1C305.6 550.4 307.8 550.2 309.8 549.7C311.8 549.2 313.9 548.2 315.9 548.0C317.9 547.9 319.8 548.7 321.9 548.7C324.1 548.7 326.8 548.3 329.0 548.0C331.2 547.8 333.2 547.1 335.1 547.2C336.9 547.4 338.7 548.3 340.1 549.1C341.6 549.8 343.0 550.5 343.7 551.7C344.5 552.9 344.7 554.5 344.5 556.1C344.3 557.7 343.4 559.6 342.5 561.2C341.6 562.8 340.5 564.7 339.1 565.8C337.7 566.9 335.7 567.6 334.1 567.8C332.4 568.1 330.7 567.3 329.0 567.2C327.3 567.1 325.6 567.0 324.0 567.2C322.3 567.5 320.6 568.2 318.9 568.6C317.2 569.1 315.4 569.2 313.9 569.8C312.3 570.5 310.8 571.4 309.4 572.3C308.1 573.2 307.0 574.7 305.8 575.3C304.6 575.9 303.3 576.1 302.2 575.9C301.0 575.7 299.9 575.1 298.7 574.3C297.6 573.5 296.4 572.3 295.3 571.3C294.2 570.2 292.8 568.9 292.1 567.8C291.3 566.7 290.9 565.7 290.7 564.6C290.4 563.5 290.1 562.4 290.7 561.2Z" fill="none" stroke="#000" stroke-opacity="0.70" stroke-width="0.40"/>
<path d="M289.0 564.1C289.6 562.5 292.3 559.9 294.5 558.6C296.7 557.3 299.6 557.0 302.2 556.4C304.7 555.9 307.3 555.8 309.8 555.3C312.4 554.9 315.0 554.7 317.5 553.8C320.1 552.9 322.6 550.9 325.2 549.8C327.8 548.8 330.3 547.8 332.9 547.2C335.4 546.7 338.2 546.3 340.5 546.6C342.9 546.8 345.8 547.5 347.1 548.8C348.4 550.0 348.8 552.6 348.2 554.2C347.7 555.9 345.7 557.6 343.8 558.6C342.0 559.6 339.6 560.0 337.3 560.4C334.9 560.7 332.0 560.4 329.6 560.8C327.2 561.2 325.2 562.0 323.0 562.6C320.8 563.1 318.6 563.5 316.4 564.1C314.2 564.7 312.0 565.6 309.8 566.3C307.6 567.0 305.5 567.8 303.3 568.5C301.1 569.2 298.7 570.7 296.7 570.7C294.7 570.7 292.5 569.6 291.2 568.5C289.9 567.4 288.5 565.7 289.0 564.1Z" fill="#7ee000" stroke="#000" stroke-opacity="0.75" stroke-width="0.45"/>
<path d="M292.6 563.4C293.1 562.0 295.5 559.7 297.5 558.6C299.4 557.5 301.9 557.2 304.2 556.7C306.4 556.2 308.7 556.1 310.9 555.7C313.2 555.4 315.4 555.2 317.7 554.4C319.9 553.6 322.1 551.9 324.4 550.9C326.6 550.0 328.9 549.1 331.1 548.6C333.4 548.1 335.8 547.8 337.8 548.0C339.9 548.3 342.5 548.8 343.6 550.0C344.7 551.1 345.1 553.3 344.6 554.8C344.1 556.2 342.3 557.7 340.7 558.6C339.1 559.5 337.0 559.8 335.0 560.2C332.9 560.5 330.3 560.2 328.2 560.5C326.1 560.9 324.4 561.6 322.5 562.1C320.5 562.6 318.6 562.9 316.7 563.4C314.8 564.0 312.8 564.7 310.9 565.4C309.0 566.0 307.1 566.6 305.2 567.3C303.2 567.9 301.1 569.2 299.4 569.2C297.6 569.2 295.7 568.2 294.6 567.3C293.5 566.3 292.2 564.9 292.6 563.4Z" fill="#f0f000" stroke="#000" stroke-opacity="0.80" stroke-width="0.50"/>
<path d="M295.8 562.8C296.3 561.6 298.4 559.6 300.1 558.6C301.7 557.6 304.0 557.4 306.0 556.9C307.9 556.5 309.9 556.4 311.9 556.1C313.8 555.8 315.8 555.6 317.8 554.9C319.7 554.2 321.7 552.7 323.7 551.9C325.6 551.0 327.6 550.3 329.6 549.8C331.6 549.4 333.7 549.1 335.5 549.3C337.3 549.5 339.6 550.0 340.5 551.0C341.5 552.0 341.8 554.0 341.4 555.2C341.0 556.5 339.4 557.8 338.0 558.6C336.6 559.4 334.8 559.7 333.0 560.0C331.1 560.3 328.9 560.0 327.1 560.3C325.2 560.6 323.7 561.2 322.0 561.7C320.3 562.1 318.6 562.4 316.9 562.8C315.2 563.3 313.6 564.0 311.9 564.5C310.2 565.1 308.5 565.7 306.8 566.2C305.1 566.8 303.3 567.9 301.7 567.9C300.2 567.9 298.5 567.1 297.5 566.2C296.5 565.4 295.4 564.1 295.8 562.8Z" fill="#ff9010" stroke="#000" stroke-opacity="0.90" stroke-width="0.70"/>
<path d="M320.0 566.4C319.9 566.6 319.8 566.8 319.7 567.0C319.6 567.2 319.4 567.4 319.3 567.5C319.1 567.7 318.9 567.9 318.6 568.0C318.4 568.1 318.0 568.1 317.7 568.1C317.4 568.2 317.1 568.3 316.8 568.3C316.5 568.3 316.1 568.2 315.9 568.1C315.6 567.9 315.4 567.7 315.2 567.6C315.1 567.4 315.0 567.2 314.9 567.0C314.8 566.8 314.7 566.6 314.7 566.4C314.6 566.2 314.4 565.9 314.5 565.7C314.6 565.5 315.0 565.4 315.2 565.2C315.4 565.0 315.6 564.8 315.9 564.7C316.2 564.6 316.5 564.6 316.8 564.6C317.1 564.5 317.4 564.6 317.7 564.6C318.0 564.7 318.3 564.8 318.6 564.9C318.8 564.9 319.1 565.0 319.4 565.2C319.6 565.3 319.9 565.5 320.0 565.7C320.1 565.9 320.0 566.2 320.0 566.4Z" fill="#30e020" stroke="#000" stroke-opacity="0.75" stroke-width="0.40"/>
<path d="M310.1 560.7C310.1 561.0 309.8 561.3 309.5 561.6C309.2 561.9 308.7 562.1 308.2 562.3C307.8 562.6 307.5 562.8 307.0 563.0C306.6 563.3 306.2 563.6 305.6 563.8C305.0 563.9 304.3 564.0 303.6 564.0C303.0 564.0 302.4 564.0 301.9 563.9C301.3 563.8 300.7 563.8 300.3 563.6C299.9 563.5 299.5 563.2 299.4 563.0C299.2 562.8 299.6 562.4 299.6 562.2C299.5 561.9 299.1 561.7 299.1 561.4C299.1 561.1 299.3 560.8 299.7 560.5C300.0 560.2 300.6 559.9 301.1 559.7C301.7 559.5 302.4 559.5 303.1 559.4C303.7 559.3 304.2 559.3 304.8 559.2C305.5 559.2 306.2 558.9 306.7 559.0C307.3 559.1 307.4 559.4 307.9 559.6C308.3 559.7 309.0 559.7 309.4 559.9C309.7 560.1 310.1 560.4 310.1 560.7Z" fill="#ff5a00" stroke="#000" stroke-opacity="0.90" stroke-width="0.80"/>
<path d="M335.4 553.0C335.7 553.2 335.7 553.7 335.5 554.1C335.2 554.5 334.6 555.0 334.0 555.4C333.5 555.8 332.9 556.2 332.3 556.6C331.7 556.9 331.2 557.3 330.5 557.7C329.8 558.0 328.9 558.5 328.1 558.7C327.4 558.9 326.7 558.7 325.9 558.7C325.2 558.8 324.2 559.0 323.6 558.9C323.1 558.8 322.9 558.5 322.5 558.2C322.2 558.0 321.5 557.8 321.5 557.5C321.5 557.2 322.3 556.6 322.4 556.2C322.6 555.8 322.2 555.5 322.5 555.1C322.7 554.6 323.2 554.1 323.8 553.7C324.5 553.3 325.6 553.2 326.4 552.9C327.2 552.6 327.9 552.2 328.6 552.0C329.4 551.8 330.0 552.0 330.8 551.9C331.6 551.8 332.7 551.4 333.2 551.5C333.7 551.6 333.7 552.1 334.0 552.4C334.4 552.6 335.2 552.7 335.4 553.0Z" fill="#ff5a00" stroke="#000" stroke-opacity="0.90" stroke-width="0.80"/>
<path d="M333.2 553.5C333.2 553.7 332.7 554.0 332.5 554.2C332.3 554.5 332.3 554.7 332.1 554.9C331.9 555.1 331.7 555.4 331.4 555.6C331.0 555.9 330.5 556.1 330.0 556.3C329.5 556.5 329.0 556.6 328.5 556.7C328.1 556.8 327.6 556.9 327.1 556.9C326.7 557.0 325.9 557.2 325.6 557.2C325.4 557.1 325.6 556.7 325.4 556.5C325.3 556.4 324.7 556.4 324.6 556.3C324.4 556.1 324.4 555.9 324.5 555.7C324.5 555.4 324.7 555.2 325.0 554.9C325.3 554.7 325.8 554.4 326.3 554.2C326.7 554.0 327.1 553.9 327.6 553.7C328.0 553.4 328.5 553.1 329.0 553.0C329.4 552.9 329.8 553.0 330.3 553.0C330.7 552.9 331.2 552.8 331.6 552.8C332.0 552.8 332.3 552.9 332.6 553.0C332.9 553.1 333.2 553.3 333.2 553.5Z" fill="none" stroke="#000" stroke-opacity="0.90" stroke-width="0.70"/>
<path d="M304.6 558.6C304.6 558.4 304.5 558.3 304.5 558.1C304.6 557.9 304.7 557.7 304.8 557.6C304.9 557.4 304.9 557.2 305.0 557.0C305.1 556.8 305.3 556.5 305.5 556.3C305.7 556.2 306.1 556.1 306.3 555.9C306.6 555.8 306.9 555.7 307.1 555.6C307.4 555.5 307.6 555.5 307.8 555.5C308.0 555.5 308.2 555.5 308.3 555.6C308.5 555.6 308.6 555.7 308.7 555.8C308.8 555.9 309.0 556.0 309.0 556.2C309.1 556.3 309.0 556.6 308.8 556.8C308.7 557.0 308.5 557.2 308.3 557.4C308.1 557.6 307.8 557.7 307.6 557.9C307.4 558.1 307.2 558.3 307.0 558.4C306.7 558.6 306.4 558.7 306.2 558.8C305.9 558.9 305.7 558.9 305.5 558.9C305.3 558.9 304.9 559.1 304.8 559.0C304.6 558.9 304.6 558.7 304.6 558.6Z" fill="none" stroke="#000" stroke-opacity="0.65" stroke-width="0.40"/>
<path d="M326.7 556.4C326.4 556.6 326.0 556.7 325.7 556.7C325.4 556.6 325.2 556.3 324.9 556.1C324.6 555.8 324.1 555.7 324.1 555.4C324.0 555.1 324.3 554.7 324.4 554.4C324.6 554.0 324.7 553.6 325.0 553.5C325.3 553.3 325.7 553.4 326.0 553.4C326.4 553.4 326.8 553.4 327.1 553.6C327.3 553.8 327.2 554.3 327.3 554.6C327.4 555.0 327.7 555.4 327.6 555.7C327.5 556.0 327.1 556.2 326.7 556.4Z" fill="none" stroke="#000" stroke-opacity="0.65" stroke-width="0.40"/>
<path d="M315.5 565.0C315.6 564.9 315.7 564.7 315.8 564.5C315.9 564.4 316.1 564.2 316.3 564.0C316.4 563.9 316.4 563.7 316.6 563.5C316.9 563.3 317.3 563.1 317.7 562.9C318.0 562.7 318.4 562.6 318.7 562.4C319.1 562.3 319.5 562.1 319.8 562.0C320.2 561.9 320.6 561.8 320.8 561.8C321.0 561.8 320.9 562.0 321.0 562.1C321.1 562.2 321.3 562.2 321.5 562.2C321.6 562.3 322.1 562.3 322.0 562.4C322.0 562.5 321.5 562.8 321.2 563.1C321.0 563.3 320.9 563.5 320.6 563.6C320.3 563.8 319.9 564.0 319.5 564.2C319.2 564.4 318.8 564.6 318.5 564.8C318.2 564.9 317.9 564.9 317.6 565.0C317.2 565.0 317.0 565.1 316.7 565.1C316.4 565.2 315.7 565.5 315.5 565.5C315.3 565.4 315.5 565.2 315.5 565.0Z" fill="none" stroke="#000" stroke-opacity="0.65" stroke-width="0.40"/>
<path d="M308.9 558.5C308.5 558.6 308.2 558.4 307.8 558.3C307.5 558.1 307.0 557.9 306.8 557.6C306.6 557.3 306.5 556.7 306.6 556.4C306.7 556.0 307.0 555.6 307.3 555.4C307.6 555.1 308.0 554.9 308.4 554.9C308.7 554.8 309.3 554.8 309.6 555.0C309.9 555.1 310.2 555.6 310.3 555.9C310.5 556.3 310.6 556.7 310.5 557.1C310.4 557.5 310.2 557.9 310.0 558.1C309.7 558.4 309.2 558.5 308.9 558.5Z" fill="none" stroke="#000" stroke-opacity="0.65" stroke-width="0.40"/>
<path d="M310.4 554.9C310.4 554.6 310.8 554.3 311.0 553.9C311.1 553.5 311.2 552.9 311.5 552.7C311.7 552.6 312.2 552.7 312.5 552.8C312.9 553.0 313.2 553.2 313.4 553.5C313.6 553.8 313.6 554.3 313.6 554.8C313.7 555.2 313.8 555.8 313.7 556.1C313.5 556.4 313.0 556.4 312.7 556.5C312.3 556.6 312.0 556.9 311.7 556.8C311.4 556.7 311.1 556.4 310.9 556.1C310.7 555.8 310.4 555.3 310.4 554.9Z" fill="none" stroke="#000" stroke-opacity="0.65" stroke-width="0.40"/>
<path d="M335.4 558.4C335.3 558.6 335.2 558.8 335.0 558.9C334.8 558.9 334.5 559.0 334.2 558.9C333.9 558.8 333.6 558.6 333.4 558.5C333.2 558.3 333.1 558.1 333.0 557.9C332.9 557.7 332.7 557.4 332.8 557.2C332.8 557.0 333.1 556.9 333.3 556.8C333.5 556.8 333.9 556.8 334.1 556.8C334.4 556.9 334.7 557.0 335.0 557.2C335.2 557.4 335.5 557.6 335.5 557.8C335.6 558.0 335.4 558.2 335.4 558.4Z" fill="none" stroke="#000" stroke-opacity="0.65" stroke-width="0.40"/>
<path d="M330.1 559.3C329.7 559.5 329.3 559.7 328.8 559.7C328.4 559.7 327.8 559.6 327.5 559.4C327.2 559.1 327.0 558.6 326.9 558.2C326.8 557.8 327.0 557.4 327.1 557.0C327.3 556.6 327.4 556.0 327.8 555.8C328.1 555.5 328.7 555.3 329.2 555.3C329.6 555.3 330.0 555.7 330.4 556.0C330.7 556.2 330.9 556.6 331.0 557.0C331.1 557.4 331.2 557.9 331.0 558.3C330.9 558.7 330.5 559.1 330.1 559.3Z" fill="none" stroke="#000" stroke-opacity="0.65" stroke-width="0.40"/>
<path d="M304.5 558.4C304.3 558.1 304.3 557.6 304.4 557.3C304.4 556.9 304.5 556.6 304.7 556.4C304.9 556.1 305.2 556.0 305.5 555.9C305.8 555.9 306.2 555.8 306.5 556.0C306.8 556.1 306.9 556.6 307.1 557.0C307.2 557.3 307.3 557.6 307.3 557.9C307.3 558.3 307.2 558.6 307.0 558.8C306.9 559.1 306.6 559.4 306.3 559.5C306.0 559.5 305.6 559.2 305.3 559.1C305.0 558.9 304.6 558.7 304.5 558.4Z" fill="none" stroke="#000" stroke-opacity="0.65" stroke-width="0.40"/>
<path d="M324.0 563.0C323.8 563.0 323.5 562.7 323.4 562.4C323.2 562.1 323.1 561.7 323.0 561.3C322.9 560.9 322.9 560.3 322.9 559.9C323.0 559.5 323.2 559.0 323.3 558.8C323.5 558.6 323.7 558.7 323.9 558.7C324.1 558.7 324.3 558.7 324.5 558.9C324.7 559.1 324.9 559.5 324.9 559.9C325.0 560.3 325.0 560.9 324.9 561.3C324.8 561.7 324.7 562.0 324.5 562.3C324.4 562.6 324.2 563.0 324.0 563.0Z" fill="none" stroke="#000" stroke-opacity="0.65" stroke-width="0.40"/>
<path d="M318.6 553.9C319.3 553.3 322.0 552.0 323.7 551.2C325.4 550.4 327.2 549.6 328.7 549.2C330.3 548.7 332.2 548.4 333.0 548.5C333.7 548.6 333.8 549.2 333.1 549.5C332.5 549.8 330.5 550.0 329.1 550.5C327.6 551.0 326.0 551.8 324.4 552.5C322.7 553.3 320.2 554.7 319.3 554.9C318.3 555.1 317.9 554.5 318.6 553.9Z" fill="none" stroke="#000" stroke-opacity="0.85" stroke-width="1.30"/>
<rect x="237.9" y="484.1" width="137.7" height="119.3" fill="none" stroke="#2a2a2a" stroke-width="1.1"/>
<path d="M312.2 484.1V603.4M237.9 552.7H375.6" stroke="#111" stroke-width="1" fill="none" stroke-opacity="0.38"/>
<text transform="translate(250.6,614.5) scale(1.00,1)" class="tk" text-anchor="middle">0</text>
<text transform="translate(279.4,614.6) scale(0.82,1)" class="tk" text-anchor="end">10</text>
<text transform="translate(280.0,612.3) scale(0.85,1)" class="tk" text-anchor="start">3</text>
<text transform="translate(309.6,614.6) scale(0.82,1)" class="tk" text-anchor="end">10</text>
<text transform="translate(310.2,612.3) scale(0.85,1)" class="tk" text-anchor="start">4</text>
<text transform="translate(339.9,614.6) scale(0.82,1)" class="tk" text-anchor="end">10</text>
<text transform="translate(340.5,612.3) scale(0.85,1)" class="tk" text-anchor="start">5</text>
<text transform="translate(370.4,614.6) scale(0.82,1)" class="tk" text-anchor="end">10</text>
<text transform="translate(371.0,612.3) scale(0.85,1)" class="tk" text-anchor="start">6</text>
<text transform="translate(230.1,490.8) scale(0.82,1)" class="tk" text-anchor="end">10</text>
<text transform="translate(230.6,488.5) scale(0.85,1)" class="tk" text-anchor="start">6</text>
<text transform="translate(230.1,517.1) scale(0.82,1)" class="tk" text-anchor="end">10</text>
<text transform="translate(230.6,514.8) scale(0.85,1)" class="tk" text-anchor="start">5</text>
<text transform="translate(230.1,543.2) scale(0.82,1)" class="tk" text-anchor="end">10</text>
<text transform="translate(230.6,540.9) scale(0.85,1)" class="tk" text-anchor="start">4</text>
<text transform="translate(230.1,568.5) scale(0.82,1)" class="tk" text-anchor="end">10</text>
<text transform="translate(230.6,566.2) scale(0.85,1)" class="tk" text-anchor="start">3</text>
<text transform="translate(234.2,593.6) scale(1.00,1)" class="tk" text-anchor="end">0</text>
<path d="M250.6 603.4v2.6M283.2 603.4v2.6M262.4 603.4v2.2M313.4 603.4v2.6M343.7 603.4v2.6M374.2 603.4v2.6M237.9 486.1h-2.6M237.9 512.4h-2.6M237.9 538.5h-2.6M237.9 563.8h-2.6M237.9 579.5h-2.2M237.9 591.1h-2.6" stroke="#333" stroke-width="0.8" fill="none"/>
<path d="M268.7 603.4v1.5M272.3 603.4v1.5M274.9 603.4v1.5M276.9 603.4v1.5M278.6 603.4v1.5M280.0 603.4v1.5M281.2 603.4v1.5M282.3 603.4v1.5M292.3 603.4v1.5M297.6 603.4v1.5M301.4 603.4v1.5M304.3 603.4v1.5M306.7 603.4v1.5M308.7 603.4v1.5M310.4 603.4v1.5M312.0 603.4v1.5M322.5 603.4v1.5M327.8 603.4v1.5M331.6 603.4v1.5M334.5 603.4v1.5M336.9 603.4v1.5M339.0 603.4v1.5M340.7 603.4v1.5M342.3 603.4v1.5M352.9 603.4v1.5M358.2 603.4v1.5M362.1 603.4v1.5M365.0 603.4v1.5M367.4 603.4v1.5M369.5 603.4v1.5M371.3 603.4v1.5M372.8 603.4v1.5M237.9 504.5h-1.5M237.9 499.9h-1.5M237.9 496.6h-1.5M237.9 494.0h-1.5M237.9 492.0h-1.5M237.9 490.2h-1.5M237.9 488.7h-1.5M237.9 487.3h-1.5M237.9 530.6h-1.5M237.9 526.0h-1.5M237.9 522.8h-1.5M237.9 520.2h-1.5M237.9 518.2h-1.5M237.9 516.4h-1.5M237.9 514.9h-1.5M237.9 513.6h-1.5M237.9 556.2h-1.5M237.9 551.7h-1.5M237.9 548.6h-1.5M237.9 546.1h-1.5M237.9 544.1h-1.5M237.9 542.4h-1.5M237.9 541.0h-1.5M237.9 539.7h-1.5M237.9 574.8h-1.5M237.9 572.0h-1.5M237.9 570.1h-1.5M237.9 568.5h-1.5M237.9 567.3h-1.5M237.9 566.2h-1.5M237.9 565.3h-1.5M237.9 564.5h-1.5" stroke="#333" stroke-width="0.7" fill="none"/></g>
<g><path d="M418.9 569.2h.01M448.0 556.4h.01M479.2 566.2h.01M448.1 597.4h.01M442.6 542.3h.01M420.6 555.5h.01M471.5 580.3h.01M483.5 598.3h.01M498.1 577.0h.01M489.0 577.4h.01M441.8 580.7h.01M457.7 562.1h.01M506.5 579.9h.01M444.1 564.6h.01M515.3 561.5h.01M474.9 577.3h.01M469.3 576.7h.01M444.2 557.6h.01M452.3 559.5h.01M476.8 594.1h.01M433.9 576.0h.01M431.6 553.4h.01M450.3 568.0h.01M445.3 518.4h.01M491.5 561.1h.01M440.3 578.4h.01M441.3 539.9h.01M468.8 573.6h.01M435.5 581.3h.01M465.9 545.3h.01M500.8 570.9h.01M427.6 574.3h.01M459.6 583.7h.01M422.2 585.0h.01M480.3 578.7h.01M471.9 590.0h.01M474.6 568.3h.01M435.1 586.3h.01M481.3 571.4h.01M460.2 579.2h.01" stroke="#4a4a4a" stroke-opacity="0.60" stroke-width="1" stroke-linecap="round" fill="none"/>
<path d="M463.9 484.1V603.4M390.9 550.6H529.6" stroke="#222" stroke-width="1" fill="none" stroke-opacity="0.7"/>
<path d="M420.3 546.9C420.9 546.1 423.5 545.5 425.4 545.5C427.2 545.5 429.4 546.1 431.3 546.9C433.1 547.6 434.6 549.3 436.3 549.9C438.0 550.5 439.9 550.4 441.4 550.2C442.9 550.1 444.2 549.6 445.6 548.9C447.0 548.2 448.6 547.1 449.8 546.0C451.1 545.0 452.1 542.9 453.2 542.7C454.3 542.4 455.2 544.3 456.6 544.3C458.0 544.4 460.1 543.8 461.6 543.2C463.2 542.5 464.3 541.2 465.9 540.5C467.4 539.7 469.2 538.7 470.9 538.4C472.6 538.2 474.3 538.4 476.0 538.8C477.7 539.1 479.5 539.8 481.0 540.5C482.6 541.1 484.3 541.7 485.3 542.7C486.2 543.6 486.2 545.0 487.0 546.0C487.7 547.0 488.5 547.7 489.5 548.6C490.5 549.4 492.6 550.0 492.9 551.1C493.1 552.2 491.9 554.0 491.2 555.3C490.5 556.6 489.2 557.4 488.6 558.7C488.1 559.9 488.4 561.6 487.8 562.9C487.2 564.2 486.2 565.7 485.3 566.3C484.3 566.8 483.0 566.0 481.9 566.3C480.8 566.6 479.6 567.1 478.5 568.0C477.4 568.8 476.1 570.2 475.1 571.3C474.2 572.5 473.5 573.7 472.6 574.7C471.8 575.7 470.9 576.3 470.1 577.2C469.2 578.2 468.1 579.2 467.5 580.6C467.0 582.0 467.1 584.3 466.7 585.7C466.3 587.1 465.9 588.9 465.0 589.1C464.2 589.2 462.8 587.5 461.6 586.5C460.5 585.5 459.5 583.8 458.3 583.1C457.0 582.4 455.6 582.3 454.1 582.3C452.5 582.3 450.5 583.4 449.0 583.1C447.4 582.9 445.8 581.7 444.8 580.6C443.8 579.5 443.2 577.8 443.1 576.4C442.9 575.0 444.4 573.2 443.9 572.2C443.5 571.2 441.8 570.9 440.6 570.5C439.3 570.1 437.6 569.4 436.3 569.6C435.1 569.9 434.1 571.5 433.0 572.2C431.8 572.9 430.3 574.1 429.6 573.9C428.9 573.6 428.6 571.8 428.7 570.5C428.9 569.2 430.4 567.5 430.4 566.3C430.4 565.0 428.6 564.2 428.7 562.9C428.9 561.6 431.1 559.9 431.3 558.7C431.4 557.4 430.4 556.3 429.6 555.3C428.7 554.3 427.5 553.6 426.2 552.8C424.9 551.9 423.0 551.2 422.0 550.2C421.0 549.3 419.7 547.7 420.3 546.9Z" fill="#0430f5" stroke="#000" stroke-opacity="0.75" stroke-width="0.45"/>
<path d="M395.8 547.7C396.3 546.6 398.0 546.2 399.2 546.0C400.5 545.9 402.1 546.4 403.4 546.9C404.8 547.3 406.7 548.1 407.1 548.9C407.6 549.7 406.7 551.1 406.0 551.9C405.2 552.7 403.7 553.1 402.6 553.6C401.5 554.1 400.2 555.1 399.2 555.0C398.2 554.8 397.2 554.0 396.7 552.8C396.1 551.6 395.4 548.8 395.8 547.7Z" fill="#0430f5" stroke="#000" stroke-opacity="0.75" stroke-width="0.45"/>
<path d="M404.6 550.2C404.6 550.4 404.6 550.6 404.4 550.8C404.3 551.0 404.0 551.1 403.7 551.2C403.4 551.3 403.1 551.4 402.8 551.5C402.5 551.6 402.3 551.7 401.9 551.7C401.6 551.8 401.2 551.9 400.8 551.8C400.5 551.8 400.2 551.6 399.9 551.5C399.6 551.4 399.2 551.4 399.0 551.3C398.8 551.1 398.7 550.9 398.6 550.8C398.5 550.6 398.3 550.4 398.3 550.2C398.3 550.1 398.7 549.9 398.8 549.8C399.0 549.6 398.9 549.4 399.0 549.2C399.2 549.1 399.4 548.9 399.8 548.8C400.1 548.7 400.5 548.8 400.9 548.8C401.3 548.8 401.6 548.7 401.9 548.7C402.3 548.8 402.5 548.9 402.8 549.0C403.2 549.1 403.6 549.1 403.9 549.2C404.1 549.3 404.0 549.6 404.1 549.8C404.2 549.9 404.5 550.1 404.6 550.2Z" fill="#14a0f5" stroke="#000" stroke-opacity="0.75" stroke-width="0.45"/>
<path d="M414.4 551.9C414.8 550.8 416.8 550.8 417.8 551.1C418.8 551.4 419.7 552.5 420.3 553.6C420.9 554.7 421.4 556.8 421.2 557.8C420.9 558.9 419.5 560.0 418.6 560.0C417.7 560.0 416.3 559.2 415.6 557.8C414.9 556.5 414.0 553.1 414.4 551.9Z" fill="#0430f5" stroke="#000" stroke-opacity="0.75" stroke-width="0.45"/>
<path d="M457.1 538.4C457.1 538.8 457.1 539.4 456.9 539.7C456.8 540.0 456.4 540.1 456.1 540.2C455.9 540.4 455.5 540.6 455.3 540.5C455.0 540.4 454.8 539.9 454.7 539.6C454.5 539.2 454.5 538.8 454.5 538.4C454.5 538.1 454.6 537.7 454.8 537.4C454.9 537.0 455.0 536.4 455.3 536.3C455.5 536.1 455.9 536.4 456.2 536.5C456.4 536.7 456.7 536.9 456.8 537.2C457.0 537.6 457.1 538.0 457.1 538.4Z" fill="#0430f5" stroke="#000" stroke-opacity="0.75" stroke-width="0.45"/>
<path d="M483.5 536.4C483.6 536.8 483.6 537.2 483.3 537.5C483.0 537.7 482.5 537.8 482.0 537.9C481.6 538.0 481.1 538.1 480.7 538.0C480.3 537.9 479.7 537.7 479.5 537.5C479.2 537.2 479.0 536.7 479.1 536.4C479.2 536.1 479.6 535.8 479.9 535.6C480.1 535.3 480.3 534.9 480.7 534.8C481.1 534.7 481.7 534.7 482.1 534.8C482.5 534.9 482.9 535.1 483.2 535.4C483.4 535.7 483.5 536.1 483.5 536.4Z" fill="#0430f5" stroke="#000" stroke-opacity="0.75" stroke-width="0.45"/>
<path d="M483.1 578.0C483.1 578.2 483.0 578.5 482.7 578.6C482.5 578.8 482.1 579.0 481.8 579.1C481.4 579.3 481.0 579.5 480.6 579.5C480.3 579.6 479.8 579.6 479.6 579.5C479.3 579.4 479.2 579.3 479.1 579.1C479.1 578.9 479.1 578.7 479.3 578.5C479.4 578.3 479.8 578.1 480.2 577.9C480.5 577.8 481.0 577.7 481.4 577.7C481.8 577.7 482.2 577.7 482.5 577.7C482.7 577.8 483.1 577.9 483.1 578.0Z" fill="#0430f5" stroke="#000" stroke-opacity="0.75" stroke-width="0.45"/>
<path d="M455.8 590.4C455.8 590.6 455.4 590.9 455.2 591.1C455.0 591.3 454.9 591.6 454.7 591.7C454.5 591.9 454.0 591.8 453.7 592.0C453.4 592.1 453.2 592.4 452.9 592.5C452.6 592.6 452.2 592.5 451.8 592.4C451.5 592.4 451.2 592.2 450.9 592.1C450.6 592.0 450.2 591.9 449.9 591.8C449.7 591.6 449.5 591.3 449.4 591.1C449.4 590.9 449.5 590.6 449.5 590.4C449.6 590.2 449.6 590.0 449.7 589.8C449.8 589.5 449.7 589.2 449.8 589.0C450.0 588.8 450.5 588.7 450.8 588.6C451.2 588.5 451.5 588.4 451.8 588.4C452.2 588.3 452.5 588.5 452.9 588.6C453.2 588.6 453.7 588.4 454.0 588.5C454.3 588.6 454.4 589.0 454.6 589.2C454.8 589.4 454.9 589.5 455.1 589.7C455.3 590.0 455.7 590.2 455.8 590.4Z" fill="#0430f5" stroke="#000" stroke-opacity="0.75" stroke-width="0.45"/>
<path d="M461.7 596.8C461.6 597.1 461.9 597.3 461.8 597.5C461.8 597.7 461.6 598.0 461.3 598.2C460.9 598.3 460.3 598.3 459.8 598.3C459.3 598.3 458.8 598.3 458.2 598.3C457.7 598.2 457.0 598.2 456.5 598.1C456.0 598.0 455.5 597.7 455.2 597.4C454.8 597.2 454.7 596.9 454.4 596.7C454.2 596.5 453.8 596.3 453.4 596.1C453.1 595.8 452.6 595.5 452.6 595.2C452.5 595.0 452.8 594.7 453.2 594.6C453.5 594.4 454.3 594.5 454.7 594.4C455.2 594.3 455.3 594.0 455.7 594.0C456.1 593.9 456.8 594.0 457.3 594.1C457.8 594.2 458.3 594.3 458.8 594.4C459.4 594.6 459.9 594.6 460.5 594.8C461.0 595.0 461.6 595.2 461.9 595.4C462.3 595.7 462.6 596.0 462.6 596.2C462.5 596.5 461.8 596.6 461.7 596.8Z" fill="#0430f5" stroke="#000" stroke-opacity="0.75" stroke-width="0.45"/>
<path d="M442.6 596.6C442.6 596.7 442.6 596.9 442.5 597.0C442.4 597.2 442.3 597.4 442.0 597.5C441.8 597.5 441.5 597.4 441.2 597.4C440.9 597.4 440.7 597.4 440.4 597.3C440.2 597.3 439.9 597.2 439.6 597.1C439.4 597.0 439.2 596.8 439.0 596.6C438.9 596.5 438.9 596.3 438.7 596.1C438.6 595.9 438.2 595.7 438.1 595.5C438.0 595.3 438.1 595.1 438.2 594.9C438.3 594.8 438.5 594.7 438.7 594.6C438.9 594.5 439.0 594.4 439.3 594.3C439.5 594.3 439.7 594.2 439.9 594.2C440.1 594.2 440.4 594.1 440.7 594.1C440.9 594.2 441.1 594.5 441.4 594.7C441.6 594.8 442.0 594.8 442.2 594.9C442.4 595.1 442.6 595.3 442.7 595.5C442.8 595.7 442.7 595.9 442.7 596.1C442.7 596.2 442.7 596.4 442.6 596.6Z" fill="#0430f5" stroke="#000" stroke-opacity="0.75" stroke-width="0.45"/>
<path d="M431.9 595.5C431.9 595.7 431.7 596.1 431.5 596.3C431.4 596.6 431.3 596.9 431.1 597.0C430.9 597.1 430.6 597.1 430.4 597.0C430.2 596.9 430.0 596.6 429.9 596.4C429.8 596.1 429.9 595.8 429.9 595.5C429.9 595.2 429.8 594.7 429.9 594.5C430.0 594.3 430.3 594.1 430.5 594.0C430.7 594.0 430.9 594.0 431.1 594.1C431.3 594.2 431.4 594.4 431.5 594.6C431.7 594.9 431.9 595.2 431.9 595.5Z" fill="#0430f5" stroke="#000" stroke-opacity="0.75" stroke-width="0.45"/>
<path d="M460.3 596.7C460.2 596.8 459.8 596.9 459.7 597.0C459.6 597.0 459.5 597.1 459.4 597.2C459.2 597.3 459.0 597.4 458.8 597.4C458.6 597.4 458.3 597.4 458.0 597.4C457.7 597.3 457.4 597.3 457.2 597.2C456.9 597.1 456.7 597.0 456.5 596.9C456.2 596.9 455.8 596.8 455.7 596.7C455.6 596.5 455.8 596.4 455.8 596.3C455.7 596.1 455.5 596.0 455.4 595.9C455.4 595.8 455.4 595.6 455.5 595.5C455.6 595.4 455.8 595.3 456.0 595.3C456.2 595.3 456.5 595.3 456.8 595.3C457.0 595.3 457.3 595.3 457.5 595.3C457.8 595.3 458.1 595.3 458.4 595.3C458.6 595.4 458.8 595.6 459.0 595.7C459.2 595.8 459.5 595.9 459.7 596.0C459.9 596.1 460.0 596.2 460.1 596.4C460.2 596.5 460.3 596.6 460.3 596.7Z" fill="#14a0f5" stroke="#000" stroke-opacity="0.75" stroke-width="0.45"/>
<path d="M451.3 580.6C451.2 580.8 451.0 580.9 450.9 581.1C450.8 581.2 450.8 581.4 450.7 581.6C450.6 581.7 450.5 581.9 450.3 582.0C450.1 582.2 449.7 582.2 449.4 582.2C449.2 582.2 448.9 582.1 448.6 582.0C448.3 582.0 448.0 582.1 447.8 582.0C447.5 581.9 447.4 581.7 447.3 581.5C447.1 581.4 447.0 581.3 446.9 581.1C446.8 580.9 446.8 580.8 446.7 580.6C446.6 580.4 446.4 580.2 446.4 580.0C446.5 579.8 446.8 579.7 447.1 579.6C447.4 579.5 447.7 579.5 448.0 579.5C448.2 579.4 448.3 579.2 448.6 579.1C448.8 579.1 449.1 579.1 449.4 579.2C449.7 579.2 450.0 579.2 450.2 579.2C450.4 579.3 450.6 579.5 450.8 579.7C451.0 579.8 451.4 579.9 451.5 580.0C451.6 580.2 451.4 580.4 451.3 580.6Z" fill="#14a0f5" stroke="#000" stroke-opacity="0.75" stroke-width="0.45"/>
<path d="M463.6 582.6C463.6 583.0 463.4 583.3 463.2 583.6C462.9 583.8 462.6 584.1 462.3 584.2C461.9 584.3 461.3 584.5 461.0 584.4C460.6 584.2 460.3 583.9 460.1 583.6C459.9 583.3 459.7 583.0 459.6 582.6C459.6 582.3 459.7 581.9 460.0 581.6C460.2 581.4 460.6 581.1 461.0 581.0C461.4 580.9 461.8 581.0 462.3 581.1C462.7 581.2 463.2 581.3 463.4 581.5C463.7 581.8 463.7 582.3 463.6 582.6Z" fill="#14a0f5" stroke="#000" stroke-opacity="0.75" stroke-width="0.45"/>
<path d="M438.1 555.3C438.0 555.5 438.0 555.6 437.9 555.8C437.8 556.0 437.8 556.2 437.6 556.3C437.4 556.4 437.1 556.5 436.8 556.6C436.6 556.7 436.3 556.7 435.9 556.8C435.6 556.8 435.3 556.9 435.0 556.9C434.7 556.9 434.3 556.8 434.1 556.7C433.8 556.6 433.7 556.4 433.6 556.2C433.4 556.1 433.2 556.0 433.0 555.8C432.9 555.7 432.9 555.5 432.8 555.3C432.8 555.1 432.6 554.9 432.7 554.7C432.8 554.6 433.3 554.5 433.5 554.4C433.8 554.3 433.9 554.1 434.1 554.0C434.4 553.9 434.7 553.7 435.0 553.7C435.3 553.7 435.6 553.9 435.9 553.9C436.2 554.0 436.6 553.9 436.8 554.0C437.1 554.1 437.4 554.2 437.6 554.3C437.8 554.4 438.2 554.6 438.2 554.7C438.3 554.9 438.2 555.1 438.1 555.3Z" fill="#14a0f5" stroke="#000" stroke-opacity="0.75" stroke-width="0.45"/>
<path d="M431.3 562.1C431.7 560.9 433.9 559.8 435.5 558.7C437.0 557.6 438.9 556.3 440.6 555.3C442.2 554.3 444.1 553.8 445.6 552.8C447.2 551.8 448.4 550.4 449.8 549.4C451.2 548.4 452.5 547.2 454.1 546.5C455.6 545.8 457.4 545.8 459.1 545.2C460.8 544.5 462.3 543.4 464.2 542.7C466.0 541.9 468.1 540.8 470.1 540.5C472.0 540.1 474.2 540.1 476.0 540.5C477.8 540.8 479.6 541.7 481.0 542.7C482.5 543.6 483.4 544.8 484.4 546.0C485.4 547.3 486.7 548.7 487.0 550.2C487.2 551.8 486.7 553.6 486.1 555.3C485.5 557.0 484.6 558.8 483.6 560.4C482.6 561.9 481.5 563.3 480.2 564.6C478.9 565.9 477.4 566.8 476.0 568.0C474.6 569.1 473.2 570.3 471.8 571.3C470.4 572.4 469.1 573.5 467.5 574.2C466.0 574.9 464.3 575.4 462.5 575.6C460.7 575.7 458.4 575.6 456.6 575.2C454.8 574.9 453.2 574.2 451.5 573.5C449.8 572.9 448.1 572.1 446.5 571.3C444.8 570.6 443.1 569.8 441.4 569.1C439.7 568.5 437.7 568.1 436.3 567.5C434.9 566.8 433.8 566.3 433.0 565.4C432.1 564.5 430.9 563.2 431.3 562.1Z" fill="#14a0f5" stroke="#000" stroke-opacity="0.75" stroke-width="0.45"/>
<path d="M436.3 562.9C436.6 561.8 439.0 560.1 440.6 559.0C442.1 557.9 444.1 557.2 445.6 556.2C447.2 555.1 448.4 553.9 449.8 552.8C451.2 551.7 452.5 550.4 454.1 549.4C455.6 548.4 457.3 547.7 459.1 546.9C460.9 546.0 463.2 545.2 465.0 544.3C466.8 543.5 468.3 542.2 470.1 541.8C471.9 541.4 474.0 541.6 475.6 542.1C477.3 542.7 478.7 543.9 479.7 545.2C480.7 546.5 481.3 548.3 481.4 549.9C481.5 551.5 480.9 553.3 480.2 555.0C479.5 556.7 478.5 558.4 477.3 560.0C476.2 561.6 474.8 563.2 473.5 564.6C472.1 566.0 470.8 567.3 469.2 568.5C467.7 569.7 466.0 571.1 464.2 571.8C462.3 572.6 460.1 573.0 458.3 573.0C456.4 573.1 454.9 572.7 453.2 572.2C451.5 571.6 449.8 570.4 448.1 569.6C446.5 568.9 444.6 568.1 443.1 567.5C441.5 566.8 440.0 566.5 438.9 565.8C437.7 565.0 436.1 564.0 436.3 562.9Z" fill="#12dcff" stroke="#000" stroke-opacity="0.75" stroke-width="0.45"/>
<path d="M449.9 549.9C451.3 548.7 453.2 547.4 455.3 546.3C457.4 545.3 460.0 544.7 462.4 543.6C464.8 542.6 467.3 540.5 469.6 540.1C471.8 539.6 474.1 540.2 475.8 541.0C477.6 541.7 479.3 543.0 480.3 544.5C481.4 546.0 482.1 548.1 482.1 549.9C482.1 551.7 481.2 553.5 480.3 555.3C479.4 557.1 478.1 559.0 476.7 560.6C475.4 562.3 473.9 563.8 472.3 565.1C470.6 566.4 468.8 567.6 466.9 568.7C465.0 569.7 462.7 570.8 460.6 571.4C458.6 572.0 456.0 572.7 454.4 572.3C452.7 571.8 451.8 570.2 450.8 568.7C449.8 567.2 448.9 565.1 448.1 563.3C447.4 561.5 446.5 559.6 446.3 557.9C446.2 556.3 446.6 554.8 447.2 553.5C447.8 552.1 448.6 551.1 449.9 549.9Z" fill="#00c8a0" stroke="#000" stroke-opacity="0.75" stroke-width="0.45"/>
<path d="M450.7 550.2C451.9 549.1 453.8 547.9 455.7 546.9C457.7 545.9 460.2 545.3 462.5 544.3C464.7 543.4 467.1 541.4 469.2 541.0C471.3 540.5 473.5 541.1 475.1 541.8C476.8 542.5 478.4 543.8 479.4 545.2C480.3 546.6 481.0 548.6 481.0 550.2C481.0 551.9 480.2 553.6 479.4 555.3C478.5 557.0 477.3 558.8 476.0 560.4C474.7 561.9 473.3 563.3 471.8 564.6C470.2 565.9 468.5 567.0 466.7 568.0C464.9 568.9 462.8 569.9 460.8 570.5C458.8 571.1 456.4 571.8 454.9 571.3C453.3 570.9 452.5 569.4 451.5 568.0C450.5 566.6 449.7 564.6 449.0 562.9C448.3 561.2 447.4 559.4 447.3 557.8C447.2 556.3 447.6 554.9 448.1 553.6C448.7 552.4 449.4 551.4 450.7 550.2Z" fill="#08c818" stroke="#000" stroke-opacity="0.75" stroke-width="0.45"/>
<path d="M451.7 550.7C452.9 549.7 454.5 548.5 456.4 547.6C458.2 546.7 460.5 546.2 462.6 545.3C464.6 544.4 466.8 542.6 468.8 542.2C470.7 541.8 472.7 542.3 474.2 542.9C475.8 543.6 477.2 544.8 478.1 546.1C479.0 547.3 479.6 549.2 479.6 550.7C479.6 552.3 478.9 553.8 478.1 555.4C477.3 556.9 476.1 558.6 475.0 560.0C473.8 561.4 472.5 562.7 471.1 563.9C469.7 565.1 468.1 566.1 466.4 567.0C464.8 567.9 462.8 568.8 461.0 569.3C459.2 569.9 457.0 570.5 455.6 570.1C454.2 569.7 453.4 568.3 452.5 567.0C451.6 565.7 450.8 563.9 450.1 562.3C449.5 560.8 448.7 559.1 448.6 557.7C448.5 556.3 448.9 555.0 449.4 553.8C449.9 552.6 450.5 551.7 451.7 550.7Z" fill="none" stroke="#000" stroke-opacity="0.70" stroke-width="0.40"/>
<path d="M475.0 546.2C475.6 547.1 476.3 547.9 476.3 548.9C476.3 550.0 475.3 551.4 475.0 552.5C474.8 553.6 475.1 554.4 474.9 555.4C474.8 556.4 474.7 557.6 474.1 558.6C473.6 559.6 472.6 560.6 471.7 561.4C470.8 562.2 469.7 562.6 468.7 563.5C467.8 564.3 466.9 565.9 465.8 566.5C464.8 567.1 463.4 567.1 462.2 567.2C461.0 567.4 459.6 567.7 458.7 567.3C457.8 566.9 457.5 565.4 457.0 564.6C456.4 563.9 456.1 563.2 455.4 562.7C454.7 562.1 453.6 561.9 452.9 561.2C452.2 560.6 451.4 559.6 451.3 558.6C451.3 557.6 452.3 556.3 452.7 555.2C453.1 554.0 453.1 552.8 453.7 551.8C454.4 550.8 455.7 550.1 456.6 549.2C457.5 548.3 458.2 547.0 459.2 546.4C460.2 545.7 461.6 545.5 462.7 545.3C463.8 545.2 464.8 545.5 465.8 545.4C466.9 545.3 467.8 545.0 469.0 544.8C470.2 544.5 472.0 543.7 473.0 543.9C474.0 544.2 474.4 545.4 475.0 546.2Z" fill="#7ee000" stroke="#000" stroke-opacity="0.75" stroke-width="0.45"/>
<path d="M473.6 547.4C474.1 548.0 474.5 548.8 474.8 549.7C475.0 550.5 475.2 551.4 475.2 552.3C475.1 553.3 475.0 554.3 474.4 555.3C473.9 556.2 472.5 556.8 472.0 557.8C471.5 558.8 472.0 560.2 471.5 561.2C471.0 562.2 469.9 563.2 468.9 563.9C467.9 564.5 466.6 564.8 465.5 565.1C464.4 565.3 463.3 565.4 462.4 565.3C461.4 565.3 460.6 565.0 459.7 564.8C458.8 564.7 458.0 564.6 457.1 564.4C456.1 564.2 454.6 564.4 454.1 563.7C453.7 563.1 454.4 561.5 454.3 560.6C454.1 559.7 453.4 559.2 453.2 558.3C453.0 557.4 452.8 556.4 453.0 555.4C453.3 554.4 454.0 553.2 454.7 552.3C455.4 551.4 456.3 550.5 457.3 549.8C458.2 549.1 459.3 548.6 460.3 548.2C461.2 547.7 462.1 547.6 463.1 546.9C464.1 546.2 465.2 544.4 466.2 544.0C467.2 543.7 468.3 544.3 469.2 544.6C470.1 544.9 470.9 545.4 471.6 545.8C472.3 546.3 473.1 546.8 473.6 547.4Z" fill="none" stroke="#000" stroke-opacity="0.60" stroke-width="0.35"/>
<path d="M472.4 548.1C472.9 548.6 473.1 549.5 473.2 550.3C473.4 551.1 473.1 552.0 473.1 552.9C473.1 553.7 473.2 554.6 473.0 555.4C472.7 556.3 472.2 557.3 471.5 558.1C470.8 558.9 469.7 559.4 468.9 560.0C468.1 560.7 467.7 561.6 466.9 562.3C466.1 562.9 465.2 563.5 464.3 564.0C463.4 564.6 462.3 565.3 461.4 565.6C460.4 565.9 459.3 565.9 458.5 565.6C457.7 565.3 457.3 564.4 456.8 563.9C456.3 563.3 455.8 562.9 455.3 562.4C454.8 561.9 453.9 561.5 453.7 560.9C453.4 560.2 453.8 559.2 453.9 558.3C453.9 557.5 453.8 556.7 454.0 555.8C454.2 555.0 454.8 554.1 455.2 553.2C455.7 552.3 456.2 551.4 456.9 550.6C457.6 549.7 458.4 548.7 459.3 548.1C460.2 547.6 461.4 547.5 462.4 547.4C463.3 547.3 464.1 547.6 464.9 547.5C465.8 547.4 466.8 546.7 467.7 546.7C468.5 546.6 469.3 546.9 470.1 547.2C470.8 547.4 471.8 547.5 472.4 548.1Z" fill="#f0f000" stroke="#000" stroke-opacity="0.75" stroke-width="0.45"/>
<path d="M471.1 549.1C471.3 549.8 470.9 550.7 471.1 551.4C471.3 552.0 472.1 552.3 472.3 553.0C472.6 553.6 472.6 554.5 472.4 555.3C472.2 556.1 471.9 557.1 471.3 557.9C470.8 558.7 469.8 559.5 469.0 560.1C468.2 560.7 467.3 561.1 466.5 561.6C465.7 562.1 464.9 562.6 464.1 563.0C463.3 563.4 462.3 564.1 461.5 564.2C460.7 564.3 460.1 563.7 459.4 563.6C458.6 563.4 457.8 563.6 457.1 563.4C456.4 563.3 455.6 563.0 455.1 562.6C454.5 562.2 453.9 561.6 453.7 560.9C453.5 560.3 453.6 559.3 453.8 558.5C454.1 557.6 454.8 556.7 455.3 555.9C455.7 555.2 456.4 554.6 456.8 553.8C457.2 553.0 457.1 552.0 457.6 551.2C458.2 550.5 459.2 549.9 460.0 549.3C460.8 548.7 461.7 548.2 462.5 547.8C463.4 547.4 464.3 547.2 465.2 547.1C466.0 547.0 466.9 546.9 467.7 546.9C468.5 547.0 469.3 547.1 469.9 547.5C470.4 547.9 470.9 548.5 471.1 549.1Z" fill="none" stroke="#000" stroke-opacity="0.60" stroke-width="0.35"/>
<path d="M468.4 550.9C468.9 551.2 470.1 551.2 470.4 551.7C470.8 552.2 470.6 553.2 470.3 553.9C470.1 554.7 469.4 555.4 469.0 556.1C468.6 556.8 468.4 557.4 468.1 558.0C467.7 558.7 467.3 559.3 466.8 559.9C466.3 560.4 465.6 560.9 465.0 561.4C464.4 561.8 463.7 562.5 463.0 562.8C462.4 563.1 461.7 562.8 460.9 562.9C460.2 563.1 459.3 563.7 458.6 563.8C457.8 563.8 457.0 563.7 456.5 563.3C456.1 562.9 456.0 562.0 455.9 561.4C455.7 560.8 455.7 560.2 455.6 559.6C455.5 559.1 455.2 558.6 455.1 558.1C455.0 557.5 455.1 556.9 455.1 556.2C455.1 555.5 454.8 554.6 455.2 553.9C455.6 553.3 456.6 552.8 457.3 552.3C458.0 551.8 458.6 551.3 459.2 550.8C459.9 550.3 460.5 549.7 461.2 549.4C461.9 549.1 462.8 549.1 463.4 549.1C464.1 549.2 464.6 549.5 465.2 549.6C465.8 549.8 466.5 549.8 467.0 550.0C467.5 550.2 467.8 550.6 468.4 550.9Z" fill="#ff9a00" stroke="#000" stroke-opacity="0.75" stroke-width="0.45"/>
<path d="M468.4 550.9C468.6 551.4 468.5 552.1 468.5 552.7C468.5 553.3 468.3 553.8 468.4 554.4C468.4 554.9 468.8 555.4 468.7 556.0C468.6 556.6 468.3 557.2 468.0 557.9C467.7 558.6 467.6 559.5 467.0 560.0C466.5 560.5 465.3 560.5 464.6 560.8C464.0 561.1 463.5 561.7 462.8 562.0C462.2 562.3 461.5 562.6 460.9 562.7C460.2 562.8 459.5 562.8 459.0 562.6C458.5 562.4 458.2 562.0 457.7 561.7C457.2 561.5 456.6 561.5 456.2 561.2C455.8 560.8 455.8 560.3 455.4 559.8C455.1 559.3 454.1 559.0 454.1 558.4C454.2 557.8 455.1 556.9 455.5 556.3C456.0 555.6 456.4 555.1 456.9 554.6C457.3 554.0 457.7 553.5 458.1 552.9C458.5 552.4 458.9 551.7 459.5 551.2C460.1 550.8 460.8 550.6 461.5 550.3C462.1 550.0 462.9 549.4 463.5 549.4C464.1 549.3 464.5 549.9 465.2 550.0C465.8 550.0 466.8 549.4 467.4 549.6C467.9 549.7 468.2 550.4 468.4 550.9Z" fill="none" stroke="#000" stroke-opacity="0.60" stroke-width="0.35"/>
<path d="M465.1 556.2C465.0 556.5 464.5 556.7 464.4 557.0C464.2 557.3 464.3 557.7 464.2 558.0C464.0 558.2 463.6 558.4 463.4 558.6C463.1 558.8 462.9 559.2 462.5 559.3C462.2 559.5 461.8 559.5 461.4 559.5C461.0 559.5 460.6 559.6 460.2 559.6C459.8 559.5 459.5 559.3 459.1 559.2C458.8 559.1 458.2 559.1 458.0 558.9C457.7 558.7 457.8 558.2 457.6 557.9C457.4 557.6 457.1 557.4 457.0 557.1C456.9 556.8 457.0 556.5 456.9 556.2C456.9 555.8 456.7 555.5 456.8 555.2C456.8 554.8 457.0 554.5 457.3 554.3C457.5 554.0 457.7 553.7 458.0 553.5C458.4 553.3 458.9 553.4 459.2 553.3C459.6 553.1 459.8 552.8 460.2 552.7C460.6 552.6 461.0 552.9 461.4 552.9C461.7 553.0 462.1 553.0 462.5 553.1C462.8 553.2 463.1 553.5 463.4 553.7C463.7 553.9 464.1 554.0 464.3 554.3C464.5 554.5 464.7 554.9 464.8 555.2C465.0 555.5 465.2 555.8 465.1 556.2Z" fill="#ff2a00" stroke="#000" stroke-opacity="0.75" stroke-width="0.45"/>
<path d="M464.4 556.2C464.4 556.4 464.3 556.7 464.2 557.0C464.2 557.3 464.3 557.6 464.2 557.9C464.0 558.1 463.6 558.3 463.3 558.5C463.0 558.6 462.6 558.6 462.2 558.7C461.9 558.8 461.7 559.1 461.3 559.2C461.0 559.3 460.6 559.5 460.2 559.4C459.9 559.4 459.5 559.1 459.2 558.9C458.9 558.8 458.6 558.6 458.4 558.4C458.2 558.2 458.2 557.8 458.0 557.6C457.8 557.4 457.4 557.3 457.1 557.0C456.9 556.8 456.7 556.4 456.7 556.2C456.7 555.9 457.0 555.6 457.2 555.3C457.4 555.0 457.6 554.8 457.8 554.6C457.9 554.3 458.0 554.0 458.3 553.8C458.5 553.6 458.9 553.5 459.2 553.4C459.5 553.2 459.9 553.1 460.3 553.1C460.6 553.1 460.9 553.3 461.3 553.4C461.6 553.5 461.9 553.5 462.3 553.6C462.6 553.6 463.2 553.5 463.5 553.6C463.8 553.8 464.1 554.1 464.2 554.4C464.3 554.7 464.3 555.0 464.3 555.3C464.3 555.6 464.5 555.9 464.4 556.2Z" fill="none" stroke="#000" stroke-opacity="0.60" stroke-width="0.35"/>
<path d="M465.7 564.0C465.6 564.4 465.5 565.1 465.2 565.4C465.0 565.7 464.4 565.7 463.9 565.8C463.5 565.8 463.0 565.8 462.7 565.6C462.4 565.3 462.2 564.8 462.1 564.4C462.0 563.9 461.9 563.4 462.0 563.0C462.2 562.6 462.6 562.3 462.9 561.9C463.2 561.6 463.6 561.0 463.9 561.0C464.3 560.9 464.8 561.2 465.2 561.5C465.5 561.7 465.8 562.2 465.9 562.6C465.9 563.0 465.8 563.5 465.7 564.0Z" fill="none" stroke="#000" stroke-opacity="0.65" stroke-width="0.40"/>
<path d="M462.9 565.9C462.5 566.0 462.0 565.8 461.6 565.6C461.2 565.4 460.6 565.1 460.4 564.8C460.3 564.4 460.5 563.8 460.6 563.4C460.7 562.9 460.7 562.3 461.0 562.0C461.3 561.7 461.9 561.7 462.4 561.7C462.8 561.6 463.4 561.6 463.7 561.8C464.1 562.0 464.3 562.5 464.6 562.9C464.8 563.2 465.2 563.8 465.1 564.2C465.0 564.6 464.4 564.9 464.0 565.2C463.7 565.5 463.3 565.8 462.9 565.9Z" fill="none" stroke="#000" stroke-opacity="0.65" stroke-width="0.40"/>
<path d="M457.5 557.6C457.5 557.9 457.5 558.2 457.3 558.4C457.2 558.7 457.0 558.9 456.8 559.1C456.6 559.3 456.4 559.5 456.1 559.6C455.9 559.6 455.6 559.6 455.3 559.6C455.1 559.6 454.7 559.7 454.6 559.5C454.4 559.3 454.4 558.8 454.3 558.6C454.1 558.4 453.8 558.4 453.7 558.1C453.6 557.9 453.5 557.6 453.5 557.3C453.5 557.0 453.3 556.7 453.4 556.4C453.5 556.1 453.7 555.8 453.9 555.6C454.1 555.4 454.4 555.3 454.6 555.2C454.9 555.0 455.0 554.6 455.2 554.5C455.5 554.5 455.7 554.8 456.0 554.8C456.2 554.8 456.5 554.6 456.8 554.7C457.0 554.7 457.2 554.9 457.4 555.1C457.6 555.3 457.8 555.5 457.9 555.8C457.9 556.1 457.8 556.5 457.8 556.8C457.7 557.1 457.6 557.3 457.5 557.6Z" fill="none" stroke="#000" stroke-opacity="0.65" stroke-width="0.40"/>
<path d="M460.4 557.2C460.3 556.9 460.4 556.4 460.6 556.0C460.8 555.7 461.2 555.4 461.5 555.2C461.9 554.9 462.4 554.5 462.8 554.5C463.2 554.4 463.8 554.6 464.1 554.8C464.5 555.1 464.7 555.4 464.8 555.8C464.9 556.2 464.9 556.6 464.8 557.0C464.6 557.3 464.3 557.9 463.9 558.1C463.6 558.3 463.0 558.3 462.5 558.3C462.0 558.3 461.5 558.3 461.2 558.1C460.8 557.9 460.5 557.5 460.4 557.2Z" fill="none" stroke="#000" stroke-opacity="0.65" stroke-width="0.40"/>
<path d="M462.2 557.7C462.2 558.1 462.2 558.5 462.1 558.8C462.0 559.0 461.6 559.2 461.4 559.4C461.2 559.6 460.9 559.7 460.6 559.8C460.4 559.9 460.1 559.8 459.9 559.8C459.6 559.8 459.3 560.1 459.0 560.0C458.8 560.0 458.5 559.7 458.3 559.5C458.2 559.3 458.1 559.0 458.0 558.7C457.8 558.4 457.6 558.1 457.6 557.8C457.6 557.5 457.7 557.1 457.8 556.8C457.9 556.5 458.0 556.2 458.2 556.0C458.3 555.7 458.5 555.5 458.7 555.3C458.9 555.0 459.1 554.6 459.3 554.5C459.6 554.3 459.9 554.3 460.2 554.3C460.4 554.3 460.7 554.5 460.9 554.7C461.2 554.8 461.3 555.0 461.5 555.2C461.7 555.4 462.0 555.6 462.1 555.8C462.2 556.1 462.2 556.4 462.3 556.8C462.3 557.1 462.3 557.4 462.2 557.7Z" fill="none" stroke="#000" stroke-opacity="0.65" stroke-width="0.40"/>
<path d="M456.0 554.7C455.9 554.4 456.0 554.0 455.9 553.8C455.9 553.5 455.6 553.4 455.6 553.2C455.6 552.9 455.7 552.6 455.8 552.2C455.9 551.9 456.1 551.6 456.3 551.3C456.4 551.0 456.7 550.7 456.9 550.4C457.1 550.1 457.3 549.5 457.6 549.3C457.8 549.1 458.2 549.0 458.5 548.9C458.7 548.9 458.9 549.1 459.1 549.2C459.3 549.2 459.4 549.3 459.6 549.4C459.8 549.4 460.2 549.3 460.3 549.4C460.5 549.6 460.4 550.0 460.3 550.3C460.3 550.6 460.1 551.0 460.0 551.3C460.0 551.6 460.0 552.0 459.8 552.3C459.7 552.6 459.3 552.9 459.0 553.2C458.8 553.4 458.5 553.7 458.3 553.8C458.0 554.0 457.8 554.0 457.5 554.2C457.2 554.4 456.8 554.9 456.6 555.0C456.3 555.1 456.1 554.9 456.0 554.7Z" fill="none" stroke="#000" stroke-opacity="0.65" stroke-width="0.40"/>
<rect x="390.9" y="484.1" width="138.7" height="119.3" fill="none" stroke="#2a2a2a" stroke-width="1.1"/>
<path d="M463.9 484.1V603.4M390.9 550.6H529.6" stroke="#111" stroke-width="1" fill="none" stroke-opacity="0.38"/>
<text transform="translate(403.7,614.5) scale(1.00,1)" class="tk" text-anchor="middle">0</text>
<text transform="translate(432.7,614.6) scale(0.82,1)" class="tk" text-anchor="end">10</text>
<text transform="translate(433.3,612.3) scale(0.85,1)" class="tk" text-anchor="start">3</text>
<text transform="translate(463.1,614.6) scale(0.82,1)" class="tk" text-anchor="end">10</text>
<text transform="translate(463.7,612.3) scale(0.85,1)" class="tk" text-anchor="start">4</text>
<text transform="translate(493.6,614.6) scale(0.82,1)" class="tk" text-anchor="end">10</text>
<text transform="translate(494.2,612.3) scale(0.85,1)" class="tk" text-anchor="start">5</text>
<text transform="translate(524.4,614.6) scale(0.82,1)" class="tk" text-anchor="end">10</text>
<text transform="translate(525.0,612.3) scale(0.85,1)" class="tk" text-anchor="start">6</text>
<text transform="translate(383.1,490.8) scale(0.82,1)" class="tk" text-anchor="end">10</text>
<text transform="translate(383.6,488.5) scale(0.85,1)" class="tk" text-anchor="start">6</text>
<text transform="translate(383.1,517.1) scale(0.82,1)" class="tk" text-anchor="end">10</text>
<text transform="translate(383.6,514.8) scale(0.85,1)" class="tk" text-anchor="start">5</text>
<text transform="translate(383.1,543.2) scale(0.82,1)" class="tk" text-anchor="end">10</text>
<text transform="translate(383.6,540.9) scale(0.85,1)" class="tk" text-anchor="start">4</text>
<text transform="translate(383.1,568.5) scale(0.82,1)" class="tk" text-anchor="end">10</text>
<text transform="translate(383.6,566.2) scale(0.85,1)" class="tk" text-anchor="start">3</text>
<text transform="translate(387.2,593.6) scale(1.00,1)" class="tk" text-anchor="end">0</text>
<path d="M403.7 603.4v2.6M436.5 603.4v2.6M415.6 603.4v2.2M466.9 603.4v2.6M497.4 603.4v2.6M528.2 603.4v2.6M390.9 486.1h-2.6M390.9 512.4h-2.6M390.9 538.5h-2.6M390.9 563.8h-2.6M390.9 579.5h-2.2M390.9 591.1h-2.6" stroke="#333" stroke-width="0.8" fill="none"/>
<path d="M421.9 603.4v1.5M425.6 603.4v1.5M428.2 603.4v1.5M430.2 603.4v1.5M431.9 603.4v1.5M433.3 603.4v1.5M434.5 603.4v1.5M435.6 603.4v1.5M445.7 603.4v1.5M451.0 603.4v1.5M454.8 603.4v1.5M457.8 603.4v1.5M460.2 603.4v1.5M462.2 603.4v1.5M464.0 603.4v1.5M465.5 603.4v1.5M476.1 603.4v1.5M481.5 603.4v1.5M485.3 603.4v1.5M488.2 603.4v1.5M490.7 603.4v1.5M492.7 603.4v1.5M494.5 603.4v1.5M496.0 603.4v1.5M506.7 603.4v1.5M512.1 603.4v1.5M516.0 603.4v1.5M518.9 603.4v1.5M521.4 603.4v1.5M523.4 603.4v1.5M525.2 603.4v1.5M526.8 603.4v1.5M390.9 504.5h-1.5M390.9 499.9h-1.5M390.9 496.6h-1.5M390.9 494.0h-1.5M390.9 492.0h-1.5M390.9 490.2h-1.5M390.9 488.7h-1.5M390.9 487.3h-1.5M390.9 530.6h-1.5M390.9 526.0h-1.5M390.9 522.8h-1.5M390.9 520.2h-1.5M390.9 518.2h-1.5M390.9 516.4h-1.5M390.9 514.9h-1.5M390.9 513.6h-1.5M390.9 556.2h-1.5M390.9 551.7h-1.5M390.9 548.6h-1.5M390.9 546.1h-1.5M390.9 544.1h-1.5M390.9 542.4h-1.5M390.9 541.0h-1.5M390.9 539.7h-1.5M390.9 574.8h-1.5M390.9 572.0h-1.5M390.9 570.1h-1.5M390.9 568.5h-1.5M390.9 567.3h-1.5M390.9 566.2h-1.5M390.9 565.3h-1.5M390.9 564.5h-1.5" stroke="#333" stroke-width="0.7" fill="none"/></g>
</g>
<g filter="url(#soft2)">
<text class="hd" font-size="23" x="89.7" y="19.0" textLength="110.4" lengthAdjust="spacingAndGlyphs">endothelial</text>
<text class="hd" font-size="23" x="87.9" y="44.2" textLength="114.6" lengthAdjust="spacingAndGlyphs">progenitors</text>
<text class="hd" font-size="23" x="256.7" y="31.0" textLength="89.3" lengthAdjust="spacingAndGlyphs">pericytes</text>
<text class="hd" font-size="23" x="411.6" y="33.6" textLength="82.7" lengthAdjust="spacingAndGlyphs">SA-ASC</text>
<text class="hd" font-size="23" x="553.2" y="129.5" textLength="83.5" lengthAdjust="spacingAndGlyphs">SVF-LA</text>
<text class="hd" font-size="23" x="542.6" y="257.0" textLength="103.3" lengthAdjust="spacingAndGlyphs">SVF-MLA</text>
<text class="hd" font-size="23" x="553.2" y="423.7" textLength="83.5" lengthAdjust="spacingAndGlyphs">SVF-LA</text>
<text class="hd" font-size="23" x="542.6" y="547.6" textLength="103.3" lengthAdjust="spacingAndGlyphs">SVF-MLA</text>
<text class="pl" font-size="28.5" x="4.9" y="45.1" textLength="21.0" lengthAdjust="spacingAndGlyphs">A</text>
<text class="pl" font-size="28.5" x="5.2" y="345.8" textLength="20.0" lengthAdjust="spacingAndGlyphs">B</text>
<text class="ax" font-size="23" transform="translate(52.4,224) rotate(-90)" textLength="77.3" lengthAdjust="spacingAndGlyphs">CD73 PE</text>
<text class="ax" font-size="23" transform="translate(52.2,528.8) rotate(-90)" textLength="112" lengthAdjust="spacingAndGlyphs">CD105 PC7</text>
<text class="ax" font-size="22.5" x="252.0" y="643.0" textLength="103.4" lengthAdjust="spacingAndGlyphs">CD90 FITC</text>
<g stroke="#3c82d6" stroke-width="1.5" fill="none"><path d="M44.5 62V135.2M44.5 233.3V316"/><path d="M46.2 348V414.4M46.2 531V587"/><path d="M67.4 636.2H239.5M365.7 636.2H509"/></g>
<g fill="#1f6fd0"><path d="M44.3 50.9L37.8 62.8H50.8Z"/><path d="M46.5 336.1L39.7 348.6H53.3Z"/><path d="M521 636.3L508.5 630.2V642.6Z"/></g>
</g>
</svg></body></html>
